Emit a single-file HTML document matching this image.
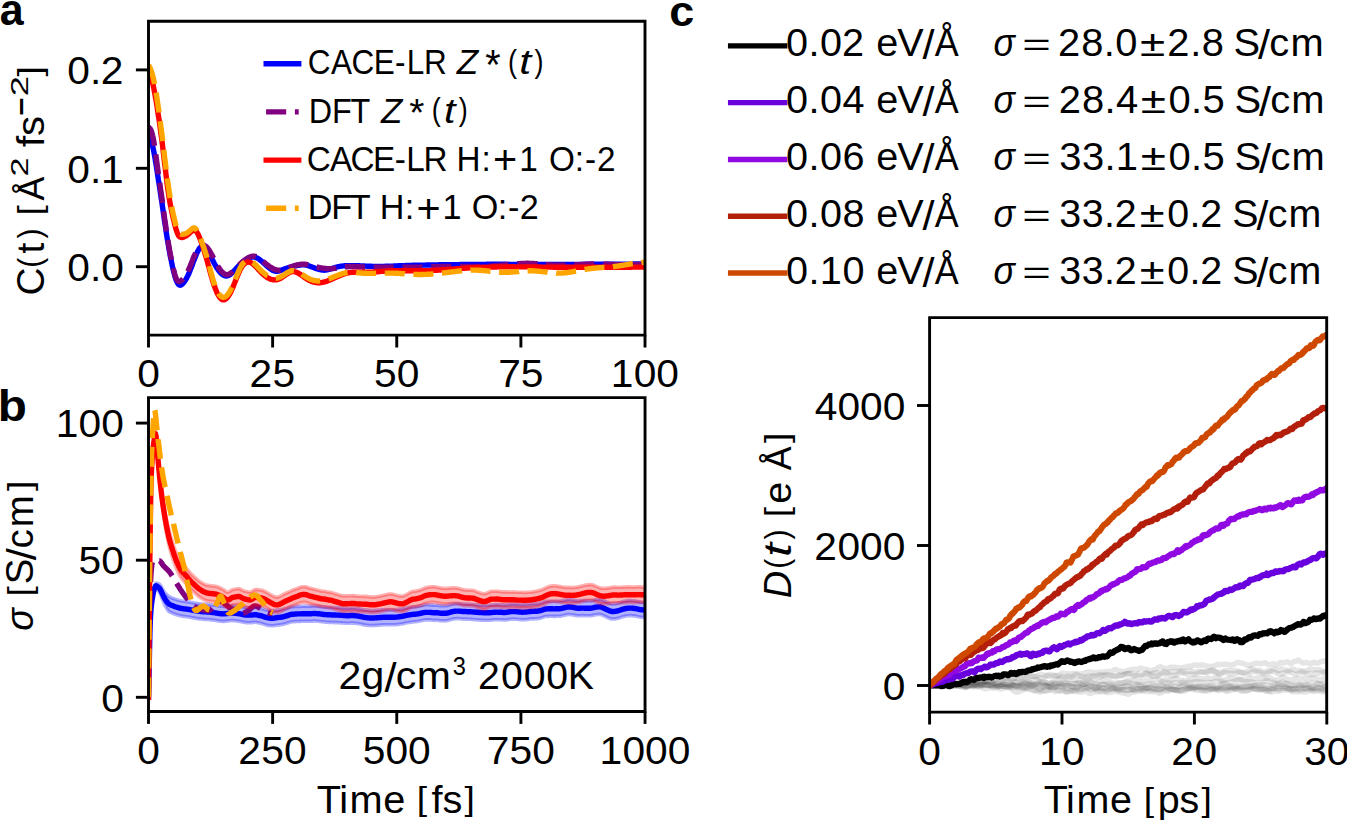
<!DOCTYPE html>
<html><head><meta charset="utf-8"><title>Figure</title>
<style>html,body{margin:0;padding:0;background:#fff;overflow:hidden}
svg{display:block} text{font-family:"Liberation Sans",sans-serif}</style></head>
<body><svg width="1347" height="820" viewBox="0 0 1347 820" font-family="Liberation Sans, sans-serif"><defs><clipPath id="ca"><rect x="148.5" y="21.2" width="496.5" height="313.90000000000003"/></clipPath><clipPath id="cb"><rect x="148.5" y="397.6" width="496.54999999999995" height="313.9"/></clipPath><clipPath id="cc"><rect x="929.6" y="317.6" width="397.1" height="394.5"/></clipPath></defs><rect x="0" y="0" width="1347" height="820" fill="#fff"/><g clip-path="url(#ca)"><path d="M148.5,136.8 L148.9,137.4 L149.3,138.1 L149.7,138.7 L150.2,139.5 L150.6,140.3 L151.0,141.2 L151.4,142.2 L151.8,143.4 L152.2,144.8 L152.6,146.3 L153.1,148.0 L153.5,150.0 L153.9,152.0 L154.3,154.2 L154.7,156.5 L155.1,158.9 L155.5,161.4 L156.0,164.0 L156.4,166.6 L156.8,169.3 L157.2,171.9 L157.6,174.6 L158.0,177.2 L158.4,179.9 L158.9,182.6 L159.3,185.3 L159.7,188.0 L160.1,190.7 L160.5,193.4 L160.9,196.2 L161.3,199.0 L161.8,201.7 L162.2,204.5 L162.6,207.3 L163.0,210.2 L163.4,213.0 L163.8,215.8 L164.2,218.7 L164.6,221.5 L165.1,224.3 L165.5,227.0 L165.9,229.8 L166.3,232.5 L166.7,235.1 L167.1,237.7 L167.5,240.3 L168.0,242.8 L168.4,245.2 L168.8,247.6 L169.2,250.0 L169.6,252.3 L170.0,254.5 L170.4,256.7 L170.9,258.8 L171.3,260.8 L171.7,262.8 L172.1,264.8 L172.5,266.7 L172.9,268.5 L173.3,270.3 L173.8,272.0 L174.2,273.6 L174.6,275.2 L175.0,276.6 L175.4,278.0 L175.8,279.2 L176.2,280.3 L176.7,281.3 L177.1,282.2 L177.5,283.0 L177.9,283.6 L178.3,284.2 L178.7,284.6 L179.1,284.9 L179.6,285.1 L180.0,285.2 L180.4,285.2 L180.8,285.1 L181.2,284.9 L181.6,284.7 L182.0,284.3 L182.5,283.9 L182.9,283.5 L183.3,283.0 L183.7,282.5 L184.1,282.0 L184.5,281.4 L184.9,280.8 L185.4,280.2 L185.8,279.5 L186.2,278.8 L186.6,278.1 L187.0,277.4 L187.4,276.6 L187.8,275.7 L188.3,274.8 L188.7,273.9 L189.1,272.9 L189.5,272.0 L189.9,270.9 L190.3,269.9 L190.7,268.8 L191.2,267.8 L191.6,266.7 L192.0,265.6 L192.4,264.5 L192.8,263.4 L193.2,262.3 L193.6,261.2 L194.1,260.1 L194.5,259.0 L194.9,257.9 L195.3,256.9 L195.7,255.9 L196.1,254.9 L196.5,253.9 L196.9,253.0 L197.4,252.1 L197.8,251.3 L198.2,250.5 L198.6,249.8 L199.0,249.1 L199.4,248.5 L199.8,248.0 L200.3,247.5 L200.7,247.1 L201.1,246.8 L201.5,246.6 L201.9,246.5 L202.3,246.5 L202.7,246.5 L203.2,246.6 L203.6,246.8 L204.0,247.0 L204.4,247.3 L204.8,247.6 L205.2,248.0 L205.6,248.5 L206.1,249.0 L206.5,249.5 L206.9,250.1 L207.3,250.7 L207.7,251.4 L208.1,252.0 L208.5,252.7 L209.0,253.4 L209.4,254.1 L209.8,254.9 L210.2,255.6 L210.6,256.4 L211.0,257.2 L211.4,258.0 L211.9,258.7 L212.3,259.5 L212.7,260.3 L213.1,261.1 L213.5,261.9 L213.9,262.7 L214.3,263.5 L214.8,264.2 L215.2,265.0 L215.6,265.7 L216.0,266.4 L216.4,267.1 L216.8,267.8 L217.2,268.4 L217.7,269.1 L218.1,269.7 L218.5,270.3 L218.9,270.8 L219.3,271.4 L219.7,271.9 L220.1,272.4 L220.6,272.8 L221.0,273.2 L221.4,273.6 L221.8,274.0 L222.2,274.3 L222.6,274.7 L223.0,274.9 L223.5,275.2 L223.9,275.4 L224.3,275.6 L224.7,275.7 L225.1,275.9 L225.5,275.9 L225.9,276.0 L226.3,276.0 L226.8,276.0 L227.2,275.9 L227.6,275.8 L228.0,275.7 L228.4,275.5 L228.8,275.3 L229.2,275.1 L229.7,274.8 L230.1,274.6 L230.5,274.3 L230.9,273.9 L231.3,273.6 L231.7,273.2 L232.1,272.9 L232.6,272.5 L233.0,272.1 L233.4,271.6 L233.8,271.2 L234.2,270.8 L234.6,270.3 L235.0,269.9 L235.5,269.4 L235.9,268.9 L236.3,268.5 L236.7,268.0 L237.1,267.6 L237.5,267.1 L237.9,266.7 L238.4,266.2 L238.8,265.8 L239.2,265.4 L239.6,265.0 L240.0,264.6 L240.4,264.2 L240.8,263.8 L241.3,263.4 L241.7,263.0 L242.1,262.7 L242.5,262.3 L242.9,261.9 L243.3,261.6 L243.7,261.3 L244.2,260.9 L244.6,260.6 L245.0,260.3 L245.4,260.0 L245.8,259.8 L246.2,259.5 L246.6,259.2 L247.1,259.0 L247.5,258.7 L247.9,258.5 L248.3,258.3 L248.7,258.1 L249.1,257.9 L249.5,257.7 L250.0,257.6 L250.4,257.4 L250.8,257.3 L251.2,257.2 L251.6,257.1 L252.0,257.0 L252.4,257.0 L252.9,257.0 L253.3,257.0 L253.7,257.0 L254.1,257.0 L254.5,257.1 L254.9,257.2 L255.3,257.3 L255.8,257.4 L256.2,257.6 L256.6,257.8 L257.0,258.0 L257.4,258.2 L257.8,258.4 L258.2,258.7 L258.6,258.9 L259.1,259.2 L259.5,259.5 L259.9,259.8 L260.3,260.1 L260.7,260.5 L261.1,260.8 L261.5,261.1 L262.0,261.5 L262.4,261.9 L262.8,262.2 L263.2,262.6 L263.6,263.0 L264.0,263.3 L264.4,263.7 L264.9,264.1 L265.3,264.5 L265.7,264.9 L266.1,265.3 L266.5,265.6 L266.9,266.0 L267.3,266.4 L267.8,266.7 L268.2,267.1 L268.6,267.4 L269.0,267.8 L269.4,268.1 L269.8,268.4 L270.2,268.7 L270.7,269.0 L271.1,269.3 L271.5,269.6 L271.9,269.8 L272.3,270.1 L272.7,270.3 L273.1,270.5 L273.6,270.7 L274.0,270.8 L274.4,271.0 L274.8,271.1 L275.2,271.1 L275.6,271.2 L276.0,271.2 L276.5,271.3 L276.9,271.3 L277.3,271.2 L277.7,271.2 L278.1,271.1 L278.5,271.1 L278.9,271.0 L279.4,270.9 L279.8,270.8 L280.2,270.6 L280.6,270.5 L281.0,270.4 L281.4,270.2 L281.8,270.0 L282.3,269.9 L282.7,269.7 L283.1,269.6 L283.5,269.4 L283.9,269.2 L284.3,269.0 L284.7,268.9 L285.2,268.7 L285.6,268.6 L286.0,268.4 L286.4,268.3 L286.8,268.1 L287.2,268.0 L287.6,267.8 L288.1,267.7 L288.5,267.6 L288.9,267.5 L289.3,267.3 L289.7,267.2 L290.1,267.1 L290.5,267.0 L290.9,266.9 L291.4,266.8 L291.8,266.7 L292.2,266.6 L292.6,266.5 L293.0,266.4 L293.4,266.3 L293.8,266.2 L294.3,266.1 L294.7,266.0 L295.1,265.9 L295.5,265.9 L295.9,265.8 L296.3,265.7 L296.7,265.6 L297.2,265.5 L297.6,265.5 L298.0,265.4 L298.4,265.3 L298.8,265.2 L299.2,265.2 L299.6,265.1 L300.1,265.1 L300.5,265.0 L300.9,265.0 L301.3,264.9 L301.7,264.9 L302.1,264.9 L302.5,264.9 L303.0,264.9 L303.4,264.9 L303.8,264.9 L304.2,264.9 L304.6,264.9 L305.0,265.0 L305.4,265.1 L305.9,265.1 L306.3,265.2 L306.7,265.3 L307.1,265.4 L307.5,265.5 L307.9,265.6 L308.3,265.7 L308.8,265.9 L309.2,266.0 L309.6,266.1 L310.0,266.3 L310.4,266.4 L310.8,266.6 L311.2,266.7 L311.7,266.9 L312.1,267.0 L312.5,267.2 L312.9,267.3 L313.3,267.5 L313.7,267.7 L314.1,267.8 L314.6,268.0 L315.0,268.1 L315.4,268.3 L315.8,268.4 L316.2,268.6 L316.6,268.7 L317.0,268.8 L317.5,269.0 L317.9,269.1 L318.3,269.2 L318.7,269.3 L319.1,269.4 L319.5,269.6 L319.9,269.6 L320.3,269.7 L320.8,269.8 L321.2,269.9 L321.6,270.0 L322.0,270.0 L322.4,270.1 L322.8,270.1 L323.2,270.1 L323.7,270.2 L324.1,270.2 L324.5,270.2 L324.9,270.1 L325.3,270.1 L325.7,270.1 L326.1,270.0 L326.6,270.0 L327.0,269.9 L327.4,269.8 L327.8,269.7 L328.2,269.6 L328.6,269.5 L329.0,269.4 L329.5,269.3 L329.9,269.2 L330.3,269.1 L330.7,269.0 L331.1,268.8 L331.5,268.7 L331.9,268.6 L332.4,268.4 L332.8,268.3 L333.2,268.2 L333.6,268.0 L334.0,267.9 L334.4,267.8 L334.8,267.6 L335.3,267.5 L335.7,267.4 L336.1,267.3 L336.5,267.1 L336.9,267.0 L337.3,266.9 L337.7,266.8 L338.2,266.7 L338.6,266.6 L339.0,266.6 L339.4,266.5 L339.8,266.4 L340.2,266.3 L340.6,266.3 L341.1,266.2 L341.5,266.1 L341.9,266.1 L342.3,266.0 L342.7,266.0 L343.1,265.9 L343.5,265.9 L344.0,265.9 L344.4,265.8 L344.8,265.8 L345.2,265.8 L345.6,265.7 L346.0,265.7 L346.4,265.7 L346.9,265.7 L347.3,265.7 L347.7,265.7 L348.1,265.6 L348.5,265.6 L348.9,265.6 L349.3,265.6 L349.8,265.6 L350.2,265.6 L350.6,265.6 L351.0,265.6 L351.4,265.6 L351.8,265.6 L352.2,265.6 L352.6,265.6 L353.1,265.6 L353.5,265.6 L353.9,265.6 L354.3,265.7 L354.7,265.7 L355.1,265.7 L355.5,265.7 L356.0,265.7 L356.4,265.7 L356.8,265.7 L357.2,265.7 L357.6,265.8 L358.0,265.8 L358.4,265.8 L358.9,265.8 L359.3,265.8 L359.7,265.8 L360.1,265.9 L360.5,265.9 L360.9,265.9 L361.3,265.9 L361.8,265.9 L362.2,265.9 L362.6,266.0 L363.0,266.0 L363.4,266.0 L363.8,266.0 L364.2,266.0 L364.7,266.1 L365.1,266.1 L365.5,266.1 L365.9,266.1 L366.3,266.1 L366.7,266.2 L367.1,266.2 L367.6,266.2 L368.0,266.2 L368.4,266.2 L368.8,266.2 L369.2,266.3 L369.6,266.3 L370.0,266.3 L370.5,266.3 L370.9,266.3 L371.3,266.3 L371.7,266.3 L372.1,266.4 L372.5,266.4 L372.9,266.4 L373.4,266.4 L373.8,266.4 L374.2,266.4 L374.6,266.4 L375.0,266.4 L375.4,266.4 L375.8,266.4 L376.3,266.4 L376.7,266.4 L377.1,266.4 L377.5,266.4 L377.9,266.4 L378.3,266.4 L378.7,266.4 L379.2,266.4 L379.6,266.4 L380.0,266.4 L380.4,266.4 L380.8,266.4 L381.2,266.4 L381.6,266.4 L382.0,266.4 L382.5,266.4 L382.9,266.4 L383.3,266.4 L383.7,266.4 L384.1,266.4 L384.5,266.4 L384.9,266.3 L385.4,266.3 L385.8,266.3 L386.2,266.3 L386.6,266.3 L387.0,266.3 L387.4,266.3 L387.8,266.3 L388.3,266.2 L388.7,266.2 L389.1,266.2 L389.5,266.2 L389.9,266.2 L390.3,266.2 L390.7,266.2 L391.2,266.1 L391.6,266.1 L392.0,266.1 L392.4,266.1 L392.8,266.1 L393.2,266.1 L393.6,266.0 L394.1,266.0 L394.5,266.0 L394.9,266.0 L395.3,266.0 L395.7,266.0 L396.1,265.9 L396.5,265.9 L397.0,265.9 L397.4,265.9 L397.8,265.9 L398.2,265.8 L398.6,265.8 L399.0,265.8 L399.4,265.8 L399.9,265.8 L400.3,265.8 L400.7,265.7 L401.1,265.7 L401.5,265.7 L401.9,265.7 L402.3,265.7 L402.8,265.7 L403.2,265.6 L403.6,265.6 L404.0,265.6 L404.4,265.6 L404.8,265.6 L405.2,265.6 L405.7,265.5 L406.1,265.5 L406.5,265.5 L406.9,265.5 L407.3,265.5 L407.7,265.5 L408.1,265.5 L408.6,265.4 L409.0,265.4 L409.4,265.4 L409.8,265.4 L410.2,265.4 L410.6,265.4 L411.0,265.4 L411.5,265.4 L411.9,265.4 L412.3,265.3 L412.7,265.3 L413.1,265.3 L413.5,265.3 L413.9,265.3 L414.3,265.3 L414.8,265.3 L415.2,265.3 L415.6,265.3 L416.0,265.2 L416.4,265.2 L416.8,265.2 L417.2,265.2 L417.7,265.2 L418.1,265.2 L418.5,265.2 L418.9,265.2 L419.3,265.2 L419.7,265.2 L420.1,265.2 L420.6,265.1 L421.0,265.1 L421.4,265.1 L421.8,265.1 L422.2,265.1 L422.6,265.1 L423.0,265.1 L423.5,265.1 L423.9,265.1 L424.3,265.1 L424.7,265.1 L425.1,265.1 L425.5,265.1 L425.9,265.1 L426.4,265.0 L426.8,265.0 L427.2,265.0 L427.6,265.0 L428.0,265.0 L428.4,265.0 L428.8,265.0 L429.3,265.0 L429.7,265.0 L430.1,265.0 L430.5,265.0 L430.9,265.0 L431.3,265.0 L431.7,265.0 L432.2,264.9 L432.6,264.9 L433.0,264.9 L433.4,264.9 L433.8,264.9 L434.2,264.9 L434.6,264.9 L435.1,264.9 L435.5,264.9 L435.9,264.9 L436.3,264.9 L436.7,264.9 L437.1,264.9 L437.5,264.9 L438.0,264.9 L438.4,264.9 L438.8,264.8 L439.2,264.8 L439.6,264.8 L440.0,264.8 L440.4,264.8 L440.9,264.8 L441.3,264.8 L441.7,264.8 L442.1,264.8 L442.5,264.8 L442.9,264.8 L443.3,264.8 L443.7,264.8 L444.2,264.8 L444.6,264.8 L445.0,264.7 L445.4,264.7 L445.8,264.7 L446.2,264.7 L446.6,264.7 L447.1,264.7 L447.5,264.7 L447.9,264.7 L448.3,264.7 L448.7,264.7 L449.1,264.7 L449.5,264.7 L450.0,264.7 L450.4,264.7 L450.8,264.7 L451.2,264.7 L451.6,264.7 L452.0,264.6 L452.4,264.6 L452.9,264.6 L453.3,264.6 L453.7,264.6 L454.1,264.6 L454.5,264.6 L454.9,264.6 L455.3,264.6 L455.8,264.6 L456.2,264.6 L456.6,264.6 L457.0,264.6 L457.4,264.6 L457.8,264.6 L458.2,264.6 L458.7,264.6 L459.1,264.6 L459.5,264.5 L459.9,264.5 L460.3,264.5 L460.7,264.5 L461.1,264.5 L461.6,264.5 L462.0,264.5 L462.4,264.5 L462.8,264.5 L463.2,264.5 L463.6,264.5 L464.0,264.5 L464.5,264.5 L464.9,264.5 L465.3,264.5 L465.7,264.5 L466.1,264.5 L466.5,264.5 L466.9,264.5 L467.4,264.5 L467.8,264.5 L468.2,264.5 L468.6,264.4 L469.0,264.4 L469.4,264.4 L469.8,264.4 L470.3,264.4 L470.7,264.4 L471.1,264.4 L471.5,264.4 L471.9,264.4 L472.3,264.4 L472.7,264.4 L473.2,264.4 L473.6,264.4 L474.0,264.4 L474.4,264.4 L474.8,264.4 L475.2,264.4 L475.6,264.4 L476.0,264.4 L476.5,264.4 L476.9,264.4 L477.3,264.4 L477.7,264.4 L478.1,264.4 L478.5,264.4 L478.9,264.4 L479.4,264.4 L479.8,264.4 L480.2,264.4 L480.6,264.4 L481.0,264.4 L481.4,264.4 L481.8,264.4 L482.3,264.4 L482.7,264.4 L483.1,264.4 L483.5,264.4 L483.9,264.4 L484.3,264.4 L484.7,264.4 L485.2,264.4 L485.6,264.4 L486.0,264.4 L486.4,264.3 L486.8,264.3 L487.2,264.3 L487.6,264.3 L488.1,264.3 L488.5,264.3 L488.9,264.3 L489.3,264.3 L489.7,264.3 L490.1,264.3 L490.5,264.3 L491.0,264.3 L491.4,264.3 L491.8,264.3 L492.2,264.3 L492.6,264.3 L493.0,264.3 L493.4,264.3 L493.9,264.3 L494.3,264.3 L494.7,264.3 L495.1,264.3 L495.5,264.3 L495.9,264.3 L496.3,264.3 L496.8,264.3 L497.2,264.3 L497.6,264.3 L498.0,264.3 L498.4,264.3 L498.8,264.3 L499.2,264.3 L499.7,264.3 L500.1,264.3 L500.5,264.3 L500.9,264.3 L501.3,264.3 L501.7,264.3 L502.1,264.3 L502.6,264.3 L503.0,264.3 L503.4,264.3 L503.8,264.3 L504.2,264.3 L504.6,264.3 L505.0,264.3 L505.4,264.3 L505.9,264.3 L506.3,264.3 L506.7,264.3 L507.1,264.3 L507.5,264.3 L507.9,264.3 L508.3,264.3 L508.8,264.3 L509.2,264.4 L509.6,264.4 L510.0,264.4 L510.4,264.4 L510.8,264.4 L511.2,264.4 L511.7,264.4 L512.1,264.4 L512.5,264.4 L512.9,264.4 L513.3,264.4 L513.7,264.4 L514.1,264.4 L514.6,264.4 L515.0,264.4 L515.4,264.4 L515.8,264.4 L516.2,264.4 L516.6,264.4 L517.0,264.4 L517.5,264.4 L517.9,264.4 L518.3,264.4 L518.7,264.4 L519.1,264.4 L519.5,264.4 L519.9,264.4 L520.4,264.4 L520.8,264.4 L521.2,264.4 L521.6,264.4 L522.0,264.4 L522.4,264.4 L522.8,264.4 L523.3,264.4 L523.7,264.4 L524.1,264.4 L524.5,264.4 L524.9,264.4 L525.3,264.4 L525.7,264.4 L526.2,264.4 L526.6,264.4 L527.0,264.4 L527.4,264.4 L527.8,264.4 L528.2,264.4 L528.6,264.4 L529.1,264.4 L529.5,264.4 L529.9,264.4 L530.3,264.4 L530.7,264.4 L531.1,264.4 L531.5,264.4 L532.0,264.4 L532.4,264.4 L532.8,264.4 L533.2,264.4 L533.6,264.4 L534.0,264.4 L534.4,264.4 L534.9,264.4 L535.3,264.4 L535.7,264.4 L536.1,264.4 L536.5,264.4 L536.9,264.4 L537.3,264.4 L537.7,264.4 L538.2,264.4 L538.6,264.4 L539.0,264.4 L539.4,264.4 L539.8,264.4 L540.2,264.4 L540.6,264.4 L541.1,264.4 L541.5,264.4 L541.9,264.4 L542.3,264.4 L542.7,264.4 L543.1,264.4 L543.5,264.4 L544.0,264.4 L544.4,264.4 L544.8,264.4 L545.2,264.4 L545.6,264.4 L546.0,264.4 L546.4,264.4 L546.9,264.4 L547.3,264.4 L547.7,264.4 L548.1,264.4 L548.5,264.4 L548.9,264.4 L549.3,264.4 L549.8,264.4 L550.2,264.4 L550.6,264.4 L551.0,264.4 L551.4,264.4 L551.8,264.4 L552.2,264.4 L552.7,264.4 L553.1,264.4 L553.5,264.4 L553.9,264.4 L554.3,264.4 L554.7,264.4 L555.1,264.4 L555.6,264.4 L556.0,264.4 L556.4,264.4 L556.8,264.4 L557.2,264.4 L557.6,264.4 L558.0,264.4 L558.5,264.4 L558.9,264.4 L559.3,264.4 L559.7,264.4 L560.1,264.4 L560.5,264.4 L560.9,264.4 L561.4,264.4 L561.8,264.4 L562.2,264.4 L562.6,264.4 L563.0,264.4 L563.4,264.4 L563.8,264.4 L564.3,264.4 L564.7,264.4 L565.1,264.4 L565.5,264.4 L565.9,264.4 L566.3,264.4 L566.7,264.4 L567.2,264.4 L567.6,264.4 L568.0,264.4 L568.4,264.4 L568.8,264.4 L569.2,264.4 L569.6,264.4 L570.0,264.4 L570.5,264.4 L570.9,264.4 L571.3,264.4 L571.7,264.4 L572.1,264.4 L572.5,264.4 L572.9,264.4 L573.4,264.4 L573.8,264.4 L574.2,264.4 L574.6,264.4 L575.0,264.4 L575.4,264.4 L575.8,264.4 L576.3,264.4 L576.7,264.4 L577.1,264.4 L577.5,264.4 L577.9,264.4 L578.3,264.4 L578.7,264.4 L579.2,264.4 L579.6,264.4 L580.0,264.4 L580.4,264.4 L580.8,264.4 L581.2,264.4 L581.6,264.4 L582.1,264.4 L582.5,264.4 L582.9,264.4 L583.3,264.4 L583.7,264.4 L584.1,264.4 L584.5,264.4 L585.0,264.4 L585.4,264.4 L585.8,264.3 L586.2,264.3 L586.6,264.3 L587.0,264.3 L587.4,264.3 L587.9,264.3 L588.3,264.3 L588.7,264.3 L589.1,264.3 L589.5,264.3 L589.9,264.3 L590.3,264.3 L590.8,264.3 L591.2,264.3 L591.6,264.3 L592.0,264.3 L592.4,264.3 L592.8,264.3 L593.2,264.3 L593.7,264.3 L594.1,264.3 L594.5,264.3 L594.9,264.3 L595.3,264.3 L595.7,264.3 L596.1,264.3 L596.6,264.3 L597.0,264.3 L597.4,264.3 L597.8,264.3 L598.2,264.3 L598.6,264.3 L599.0,264.3 L599.4,264.3 L599.9,264.3 L600.3,264.3 L600.7,264.3 L601.1,264.3 L601.5,264.3 L601.9,264.3 L602.3,264.3 L602.8,264.3 L603.2,264.3 L603.6,264.2 L604.0,264.2 L604.4,264.2 L604.8,264.2 L605.2,264.2 L605.7,264.2 L606.1,264.2 L606.5,264.2 L606.9,264.2 L607.3,264.2 L607.7,264.2 L608.1,264.2 L608.6,264.2 L609.0,264.2 L609.4,264.2 L609.8,264.2 L610.2,264.2 L610.6,264.2 L611.0,264.2 L611.5,264.2 L611.9,264.2 L612.3,264.2 L612.7,264.2 L613.1,264.2 L613.5,264.2 L613.9,264.2 L614.4,264.2 L614.8,264.2 L615.2,264.2 L615.6,264.2 L616.0,264.2 L616.4,264.2 L616.8,264.2 L617.3,264.2 L617.7,264.2 L618.1,264.2 L618.5,264.1 L618.9,264.1 L619.3,264.1 L619.7,264.1 L620.2,264.1 L620.6,264.1 L621.0,264.1 L621.4,264.1 L621.8,264.1 L622.2,264.1 L622.6,264.1 L623.1,264.1 L623.5,264.1 L623.9,264.1 L624.3,264.1 L624.7,264.1 L625.1,264.1 L625.5,264.1 L626.0,264.1 L626.4,264.1 L626.8,264.1 L627.2,264.1 L627.6,264.1 L628.0,264.1 L628.4,264.1 L628.9,264.1 L629.3,264.1 L629.7,264.1 L630.1,264.1 L630.5,264.1 L630.9,264.1 L631.3,264.1 L631.7,264.0 L632.2,264.0 L632.6,264.0 L633.0,264.0 L633.4,264.0 L633.8,264.0 L634.2,264.0 L634.6,264.0 L635.1,264.0 L635.5,264.0 L635.9,264.0 L636.3,264.0 L636.7,264.0 L637.1,264.0 L637.5,264.0 L638.0,264.0 L638.4,264.0 L638.8,264.0 L639.2,264.0 L639.6,264.0 L640.0,264.0 L640.4,264.0 L640.9,264.0 L641.3,264.0 L641.7,264.0 L642.1,264.0 L642.5,264.0 L642.9,264.0 L643.3,264.0 L643.8,264.0 L644.2,264.0 L644.6,263.9 L645.0,263.9" fill="none" stroke="#0000ff" stroke-width="5.4" stroke-linejoin="round" stroke-linecap="square"/><path d="M148.5,127.0 L148.9,127.4 L149.3,127.8 L149.7,128.2 L150.2,128.8 L150.6,129.5 L151.0,130.3 L151.4,131.3 L151.8,132.5 L152.2,133.9 L152.6,135.6 L153.1,137.5 L153.5,139.7 L153.9,142.1 L154.3,144.7 L154.7,147.4 L155.1,150.2 L155.5,153.2 L156.0,156.2 L156.4,159.2 L156.8,162.2 L157.2,165.2 L157.6,168.2 L158.0,171.1 L158.4,174.1 L158.9,177.0 L159.3,179.8 L159.7,182.7 L160.1,185.6 L160.5,188.5 L160.9,191.4 L161.3,194.3 L161.8,197.3 L162.2,200.2 L162.6,203.2 L163.0,206.3 L163.4,209.3 L163.8,212.3 L164.2,215.4 L164.6,218.4 L165.1,221.4 L165.5,224.4 L165.9,227.3 L166.3,230.1 L166.7,232.9 L167.1,235.7 L167.5,238.3 L168.0,240.9 L168.4,243.3 L168.8,245.7 L169.2,248.1 L169.6,250.4 L170.0,252.6 L170.4,254.7 L170.9,256.8 L171.3,258.9 L171.7,260.9 L172.1,262.9 L172.5,264.9 L172.9,266.8 L173.3,268.6 L173.8,270.4 L174.2,272.1 L174.6,273.7 L175.0,275.1 L175.4,276.4 L175.8,277.6 L176.2,278.6 L176.7,279.4 L177.1,280.1 L177.5,280.6 L177.9,281.0 L178.3,281.3 L178.7,281.4 L179.1,281.5 L179.6,281.5 L180.0,281.4 L180.4,281.2 L180.8,281.0 L181.2,280.6 L181.6,280.3 L182.0,279.9 L182.5,279.4 L182.9,279.0 L183.3,278.5 L183.7,278.0 L184.1,277.4 L184.5,276.9 L184.9,276.3 L185.4,275.7 L185.8,275.1 L186.2,274.4 L186.6,273.7 L187.0,273.0 L187.4,272.2 L187.8,271.4 L188.3,270.5 L188.7,269.6 L189.1,268.7 L189.5,267.7 L189.9,266.7 L190.3,265.7 L190.7,264.6 L191.2,263.6 L191.6,262.5 L192.0,261.4 L192.4,260.4 L192.8,259.3 L193.2,258.3 L193.6,257.3 L194.1,256.3 L194.5,255.4 L194.9,254.4 L195.3,253.6 L195.7,252.7 L196.1,251.9 L196.5,251.1 L196.9,250.4 L197.4,249.7 L197.8,249.1 L198.2,248.5 L198.6,247.9 L199.0,247.4 L199.4,247.0 L199.8,246.5 L200.3,246.2 L200.7,245.9 L201.1,245.6 L201.5,245.4 L201.9,245.2 L202.3,245.1 L202.7,245.1 L203.2,245.1 L203.6,245.1 L204.0,245.2 L204.4,245.4 L204.8,245.6 L205.2,245.8 L205.6,246.1 L206.1,246.5 L206.5,246.9 L206.9,247.3 L207.3,247.8 L207.7,248.3 L208.1,248.8 L208.5,249.4 L209.0,250.0 L209.4,250.6 L209.8,251.3 L210.2,252.0 L210.6,252.7 L211.0,253.4 L211.4,254.2 L211.9,255.0 L212.3,255.7 L212.7,256.5 L213.1,257.3 L213.5,258.1 L213.9,258.9 L214.3,259.7 L214.8,260.5 L215.2,261.3 L215.6,262.1 L216.0,262.9 L216.4,263.6 L216.8,264.4 L217.2,265.1 L217.7,265.8 L218.1,266.5 L218.5,267.2 L218.9,267.8 L219.3,268.4 L219.7,269.0 L220.1,269.6 L220.6,270.2 L221.0,270.7 L221.4,271.2 L221.8,271.6 L222.2,272.1 L222.6,272.5 L223.0,272.8 L223.5,273.2 L223.9,273.5 L224.3,273.7 L224.7,274.0 L225.1,274.2 L225.5,274.3 L225.9,274.4 L226.3,274.5 L226.8,274.6 L227.2,274.6 L227.6,274.5 L228.0,274.5 L228.4,274.3 L228.8,274.2 L229.2,274.0 L229.7,273.8 L230.1,273.6 L230.5,273.3 L230.9,273.0 L231.3,272.7 L231.7,272.4 L232.1,272.0 L232.6,271.7 L233.0,271.3 L233.4,270.9 L233.8,270.5 L234.2,270.0 L234.6,269.6 L235.0,269.2 L235.5,268.7 L235.9,268.3 L236.3,267.9 L236.7,267.4 L237.1,267.0 L237.5,266.5 L237.9,266.1 L238.4,265.7 L238.8,265.3 L239.2,264.9 L239.6,264.5 L240.0,264.1 L240.4,263.7 L240.8,263.3 L241.3,262.9 L241.7,262.6 L242.1,262.2 L242.5,261.8 L242.9,261.5 L243.3,261.2 L243.7,260.8 L244.2,260.5 L244.6,260.2 L245.0,259.9 L245.4,259.6 L245.8,259.3 L246.2,259.0 L246.6,258.8 L247.1,258.5 L247.5,258.2 L247.9,258.0 L248.3,257.8 L248.7,257.5 L249.1,257.3 L249.5,257.1 L250.0,256.9 L250.4,256.8 L250.8,256.6 L251.2,256.5 L251.6,256.4 L252.0,256.3 L252.4,256.2 L252.9,256.2 L253.3,256.1 L253.7,256.1 L254.1,256.2 L254.5,256.2 L254.9,256.3 L255.3,256.4 L255.8,256.5 L256.2,256.7 L256.6,256.8 L257.0,257.0 L257.4,257.2 L257.8,257.5 L258.2,257.7 L258.6,258.0 L259.1,258.2 L259.5,258.5 L259.9,258.8 L260.3,259.1 L260.7,259.5 L261.1,259.8 L261.5,260.1 L262.0,260.5 L262.4,260.8 L262.8,261.2 L263.2,261.5 L263.6,261.9 L264.0,262.2 L264.4,262.6 L264.9,262.9 L265.3,263.3 L265.7,263.6 L266.1,263.9 L266.5,264.3 L266.9,264.6 L267.3,264.9 L267.8,265.2 L268.2,265.5 L268.6,265.9 L269.0,266.2 L269.4,266.4 L269.8,266.7 L270.2,267.0 L270.7,267.3 L271.1,267.5 L271.5,267.8 L271.9,268.0 L272.3,268.2 L272.7,268.4 L273.1,268.7 L273.6,268.9 L274.0,269.0 L274.4,269.2 L274.8,269.4 L275.2,269.5 L275.6,269.6 L276.0,269.8 L276.5,269.9 L276.9,270.0 L277.3,270.0 L277.7,270.1 L278.1,270.1 L278.5,270.2 L278.9,270.2 L279.4,270.2 L279.8,270.2 L280.2,270.2 L280.6,270.1 L281.0,270.1 L281.4,270.0 L281.8,269.9 L282.3,269.8 L282.7,269.7 L283.1,269.6 L283.5,269.5 L283.9,269.4 L284.3,269.3 L284.7,269.2 L285.2,269.0 L285.6,268.9 L286.0,268.7 L286.4,268.6 L286.8,268.4 L287.2,268.3 L287.6,268.1 L288.1,267.9 L288.5,267.8 L288.9,267.6 L289.3,267.5 L289.7,267.3 L290.1,267.1 L290.5,267.0 L290.9,266.8 L291.4,266.7 L291.8,266.5 L292.2,266.4 L292.6,266.3 L293.0,266.1 L293.4,266.0 L293.8,265.8 L294.3,265.7 L294.7,265.6 L295.1,265.5 L295.5,265.4 L295.9,265.2 L296.3,265.1 L296.7,265.0 L297.2,264.9 L297.6,264.9 L298.0,264.8 L298.4,264.7 L298.8,264.6 L299.2,264.5 L299.6,264.5 L300.1,264.4 L300.5,264.4 L300.9,264.3 L301.3,264.3 L301.7,264.3 L302.1,264.2 L302.5,264.2 L303.0,264.2 L303.4,264.2 L303.8,264.2 L304.2,264.2 L304.6,264.3 L305.0,264.3 L305.4,264.3 L305.9,264.4 L306.3,264.4 L306.7,264.5 L307.1,264.5 L307.5,264.6 L307.9,264.7 L308.3,264.8 L308.8,264.9 L309.2,265.0 L309.6,265.0 L310.0,265.1 L310.4,265.2 L310.8,265.3 L311.2,265.5 L311.7,265.6 L312.1,265.7 L312.5,265.8 L312.9,265.9 L313.3,266.0 L313.7,266.1 L314.1,266.2 L314.6,266.4 L315.0,266.5 L315.4,266.6 L315.8,266.7 L316.2,266.8 L316.6,266.9 L317.0,267.0 L317.5,267.1 L317.9,267.2 L318.3,267.3 L318.7,267.4 L319.1,267.5 L319.5,267.6 L319.9,267.7 L320.3,267.8 L320.8,267.8 L321.2,267.9 L321.6,268.0 L322.0,268.0 L322.4,268.1 L322.8,268.2 L323.2,268.2 L323.7,268.3 L324.1,268.3 L324.5,268.4 L324.9,268.4 L325.3,268.5 L325.7,268.5 L326.1,268.5 L326.6,268.6 L327.0,268.6 L327.4,268.6 L327.8,268.6 L328.2,268.6 L328.6,268.6 L329.0,268.6 L329.5,268.7 L329.9,268.6 L330.3,268.6 L330.7,268.6 L331.1,268.6 L331.5,268.6 L331.9,268.6 L332.4,268.6 L332.8,268.5 L333.2,268.5 L333.6,268.5 L334.0,268.4 L334.4,268.4 L334.8,268.3 L335.3,268.3 L335.7,268.2 L336.1,268.2 L336.5,268.1 L336.9,268.1 L337.3,268.0 L337.7,268.0 L338.2,267.9 L338.6,267.8 L339.0,267.8 L339.4,267.7 L339.8,267.6 L340.2,267.6 L340.6,267.5 L341.1,267.5 L341.5,267.4 L341.9,267.3 L342.3,267.3 L342.7,267.2 L343.1,267.2 L343.5,267.1 L344.0,267.0 L344.4,267.0 L344.8,266.9 L345.2,266.9 L345.6,266.8 L346.0,266.8 L346.4,266.8 L346.9,266.7 L347.3,266.7 L347.7,266.7 L348.1,266.6 L348.5,266.6 L348.9,266.6 L349.3,266.6 L349.8,266.6 L350.2,266.5 L350.6,266.5 L351.0,266.5 L351.4,266.5 L351.8,266.5 L352.2,266.5 L352.6,266.5 L353.1,266.5 L353.5,266.5 L353.9,266.5 L354.3,266.6 L354.7,266.6 L355.1,266.6 L355.5,266.6 L356.0,266.6 L356.4,266.6 L356.8,266.6 L357.2,266.7 L357.6,266.7 L358.0,266.7 L358.4,266.7 L358.9,266.8 L359.3,266.8 L359.7,266.8 L360.1,266.8 L360.5,266.8 L360.9,266.9 L361.3,266.9 L361.8,266.9 L362.2,266.9 L362.6,267.0 L363.0,267.0 L363.4,267.0 L363.8,267.0 L364.2,267.1 L364.7,267.1 L365.1,267.1 L365.5,267.1 L365.9,267.1 L366.3,267.1 L366.7,267.2 L367.1,267.2 L367.6,267.2 L368.0,267.2 L368.4,267.2 L368.8,267.2 L369.2,267.2 L369.6,267.2 L370.0,267.3 L370.5,267.3 L370.9,267.3 L371.3,267.3 L371.7,267.3 L372.1,267.3 L372.5,267.3 L372.9,267.3 L373.4,267.3 L373.8,267.3 L374.2,267.3 L374.6,267.3 L375.0,267.3 L375.4,267.3 L375.8,267.3 L376.3,267.3 L376.7,267.3 L377.1,267.3 L377.5,267.3 L377.9,267.3 L378.3,267.3 L378.7,267.3 L379.2,267.3 L379.6,267.3 L380.0,267.3 L380.4,267.3 L380.8,267.2 L381.2,267.2 L381.6,267.2 L382.0,267.2 L382.5,267.2 L382.9,267.2 L383.3,267.2 L383.7,267.2 L384.1,267.2 L384.5,267.2 L384.9,267.2 L385.4,267.2 L385.8,267.2 L386.2,267.2 L386.6,267.2 L387.0,267.2 L387.4,267.1 L387.8,267.1 L388.3,267.1 L388.7,267.1 L389.1,267.1 L389.5,267.1 L389.9,267.1 L390.3,267.1 L390.7,267.1 L391.2,267.1 L391.6,267.1 L392.0,267.1 L392.4,267.1 L392.8,267.1 L393.2,267.1 L393.6,267.1 L394.1,267.1 L394.5,267.1 L394.9,267.1 L395.3,267.1 L395.7,267.1 L396.1,267.1 L396.5,267.1 L397.0,267.1 L397.4,267.1 L397.8,267.1 L398.2,267.1 L398.6,267.1 L399.0,267.1 L399.4,267.1 L399.9,267.1 L400.3,267.1 L400.7,267.1 L401.1,267.1 L401.5,267.1 L401.9,267.1 L402.3,267.1 L402.8,267.1 L403.2,267.1 L403.6,267.1 L404.0,267.1 L404.4,267.1 L404.8,267.1 L405.2,267.1 L405.7,267.1 L406.1,267.1 L406.5,267.1 L406.9,267.1 L407.3,267.1 L407.7,267.1 L408.1,267.1 L408.6,267.1 L409.0,267.1 L409.4,267.1 L409.8,267.1 L410.2,267.1 L410.6,267.1 L411.0,267.1 L411.5,267.1 L411.9,267.1 L412.3,267.1 L412.7,267.1 L413.1,267.1 L413.5,267.1 L413.9,267.1 L414.3,267.1 L414.8,267.1 L415.2,267.1 L415.6,267.1 L416.0,267.1 L416.4,267.1 L416.8,267.1 L417.2,267.1 L417.7,267.1 L418.1,267.1 L418.5,267.1 L418.9,267.1 L419.3,267.1 L419.7,267.1 L420.1,267.1 L420.6,267.1 L421.0,267.1 L421.4,267.1 L421.8,267.0 L422.2,267.0 L422.6,267.0 L423.0,267.0 L423.5,267.0 L423.9,267.0 L424.3,267.0 L424.7,267.0 L425.1,267.0 L425.5,267.0 L425.9,267.0 L426.4,266.9 L426.8,266.9 L427.2,266.9 L427.6,266.9 L428.0,266.9 L428.4,266.9 L428.8,266.9 L429.3,266.9 L429.7,266.9 L430.1,266.8 L430.5,266.8 L430.9,266.8 L431.3,266.8 L431.7,266.8 L432.2,266.8 L432.6,266.8 L433.0,266.8 L433.4,266.8 L433.8,266.7 L434.2,266.7 L434.6,266.7 L435.1,266.7 L435.5,266.7 L435.9,266.7 L436.3,266.7 L436.7,266.7 L437.1,266.6 L437.5,266.6 L438.0,266.6 L438.4,266.6 L438.8,266.6 L439.2,266.6 L439.6,266.6 L440.0,266.6 L440.4,266.6 L440.9,266.5 L441.3,266.5 L441.7,266.5 L442.1,266.5 L442.5,266.5 L442.9,266.5 L443.3,266.5 L443.7,266.5 L444.2,266.5 L444.6,266.5 L445.0,266.5 L445.4,266.4 L445.8,266.4 L446.2,266.4 L446.6,266.4 L447.1,266.4 L447.5,266.4 L447.9,266.4 L448.3,266.4 L448.7,266.4 L449.1,266.4 L449.5,266.4 L450.0,266.4 L450.4,266.4 L450.8,266.4 L451.2,266.4 L451.6,266.4 L452.0,266.4 L452.4,266.4 L452.9,266.4 L453.3,266.4 L453.7,266.4 L454.1,266.4 L454.5,266.4 L454.9,266.4 L455.3,266.4 L455.8,266.4 L456.2,266.4 L456.6,266.4 L457.0,266.4 L457.4,266.4 L457.8,266.4 L458.2,266.4 L458.7,266.4 L459.1,266.4 L459.5,266.4 L459.9,266.4 L460.3,266.4 L460.7,266.4 L461.1,266.4 L461.6,266.4 L462.0,266.4 L462.4,266.4 L462.8,266.4 L463.2,266.4 L463.6,266.4 L464.0,266.4 L464.5,266.4 L464.9,266.4 L465.3,266.4 L465.7,266.4 L466.1,266.4 L466.5,266.4 L466.9,266.4 L467.4,266.4 L467.8,266.4 L468.2,266.4 L468.6,266.4 L469.0,266.4 L469.4,266.4 L469.8,266.4 L470.3,266.4 L470.7,266.4 L471.1,266.4 L471.5,266.4 L471.9,266.4 L472.3,266.4 L472.7,266.4 L473.2,266.4 L473.6,266.4 L474.0,266.4 L474.4,266.4 L474.8,266.4 L475.2,266.4 L475.6,266.4 L476.0,266.4 L476.5,266.4 L476.9,266.4 L477.3,266.4 L477.7,266.4 L478.1,266.4 L478.5,266.4 L478.9,266.4 L479.4,266.4 L479.8,266.4 L480.2,266.4 L480.6,266.4 L481.0,266.4 L481.4,266.4 L481.8,266.3 L482.3,266.3 L482.7,266.3 L483.1,266.3 L483.5,266.3 L483.9,266.3 L484.3,266.3 L484.7,266.3 L485.2,266.3 L485.6,266.3 L486.0,266.2 L486.4,266.2 L486.8,266.2 L487.2,266.2 L487.6,266.2 L488.1,266.2 L488.5,266.1 L488.9,266.1 L489.3,266.1 L489.7,266.1 L490.1,266.1 L490.5,266.1 L491.0,266.0 L491.4,266.0 L491.8,266.0 L492.2,266.0 L492.6,265.9 L493.0,265.9 L493.4,265.9 L493.9,265.9 L494.3,265.8 L494.7,265.8 L495.1,265.8 L495.5,265.8 L495.9,265.7 L496.3,265.7 L496.8,265.7 L497.2,265.6 L497.6,265.6 L498.0,265.6 L498.4,265.5 L498.8,265.5 L499.2,265.5 L499.7,265.4 L500.1,265.4 L500.5,265.3 L500.9,265.3 L501.3,265.3 L501.7,265.2 L502.1,265.2 L502.6,265.1 L503.0,265.1 L503.4,265.1 L503.8,265.0 L504.2,265.0 L504.6,264.9 L505.0,264.9 L505.4,264.9 L505.9,264.8 L506.3,264.8 L506.7,264.7 L507.1,264.7 L507.5,264.7 L507.9,264.6 L508.3,264.6 L508.8,264.5 L509.2,264.5 L509.6,264.4 L510.0,264.4 L510.4,264.4 L510.8,264.3 L511.2,264.3 L511.7,264.2 L512.1,264.2 L512.5,264.2 L512.9,264.1 L513.3,264.1 L513.7,264.1 L514.1,264.0 L514.6,264.0 L515.0,263.9 L515.4,263.9 L515.8,263.9 L516.2,263.8 L516.6,263.8 L517.0,263.8 L517.5,263.8 L517.9,263.7 L518.3,263.7 L518.7,263.7 L519.1,263.6 L519.5,263.6 L519.9,263.6 L520.4,263.6 L520.8,263.5 L521.2,263.5 L521.6,263.5 L522.0,263.5 L522.4,263.5 L522.8,263.4 L523.3,263.4 L523.7,263.4 L524.1,263.4 L524.5,263.4 L524.9,263.4 L525.3,263.4 L525.7,263.4 L526.2,263.3 L526.6,263.3 L527.0,263.3 L527.4,263.3 L527.8,263.3 L528.2,263.3 L528.6,263.3 L529.1,263.4 L529.5,263.4 L529.9,263.4 L530.3,263.4 L530.7,263.4 L531.1,263.4 L531.5,263.4 L532.0,263.4 L532.4,263.5 L532.8,263.5 L533.2,263.5 L533.6,263.5 L534.0,263.5 L534.4,263.6 L534.9,263.6 L535.3,263.6 L535.7,263.6 L536.1,263.7 L536.5,263.7 L536.9,263.7 L537.3,263.8 L537.7,263.8 L538.2,263.8 L538.6,263.9 L539.0,263.9 L539.4,263.9 L539.8,264.0 L540.2,264.0 L540.6,264.0 L541.1,264.1 L541.5,264.1 L541.9,264.2 L542.3,264.2 L542.7,264.2 L543.1,264.3 L543.5,264.3 L544.0,264.4 L544.4,264.4 L544.8,264.4 L545.2,264.5 L545.6,264.5 L546.0,264.5 L546.4,264.6 L546.9,264.6 L547.3,264.7 L547.7,264.7 L548.1,264.7 L548.5,264.8 L548.9,264.8 L549.3,264.8 L549.8,264.9 L550.2,264.9 L550.6,264.9 L551.0,265.0 L551.4,265.0 L551.8,265.0 L552.2,265.0 L552.7,265.1 L553.1,265.1 L553.5,265.1 L553.9,265.1 L554.3,265.2 L554.7,265.2 L555.1,265.2 L555.6,265.2 L556.0,265.2 L556.4,265.3 L556.8,265.3 L557.2,265.3 L557.6,265.3 L558.0,265.3 L558.5,265.3 L558.9,265.3 L559.3,265.3 L559.7,265.3 L560.1,265.3 L560.5,265.3 L560.9,265.3 L561.4,265.3 L561.8,265.3 L562.2,265.3 L562.6,265.3 L563.0,265.3 L563.4,265.3 L563.8,265.3 L564.3,265.3 L564.7,265.3 L565.1,265.3 L565.5,265.3 L565.9,265.2 L566.3,265.2 L566.7,265.2 L567.2,265.2 L567.6,265.2 L568.0,265.2 L568.4,265.2 L568.8,265.1 L569.2,265.1 L569.6,265.1 L570.0,265.1 L570.5,265.1 L570.9,265.0 L571.3,265.0 L571.7,265.0 L572.1,265.0 L572.5,265.0 L572.9,264.9 L573.4,264.9 L573.8,264.9 L574.2,264.9 L574.6,264.8 L575.0,264.8 L575.4,264.8 L575.8,264.8 L576.3,264.8 L576.7,264.7 L577.1,264.7 L577.5,264.7 L577.9,264.7 L578.3,264.6 L578.7,264.6 L579.2,264.6 L579.6,264.6 L580.0,264.5 L580.4,264.5 L580.8,264.5 L581.2,264.5 L581.6,264.4 L582.1,264.4 L582.5,264.4 L582.9,264.4 L583.3,264.3 L583.7,264.3 L584.1,264.3 L584.5,264.3 L585.0,264.3 L585.4,264.2 L585.8,264.2 L586.2,264.2 L586.6,264.2 L587.0,264.2 L587.4,264.1 L587.9,264.1 L588.3,264.1 L588.7,264.1 L589.1,264.1 L589.5,264.1 L589.9,264.0 L590.3,264.0 L590.8,264.0 L591.2,264.0 L591.6,264.0 L592.0,264.0 L592.4,264.0 L592.8,264.0 L593.2,264.0 L593.7,264.0 L594.1,264.0 L594.5,263.9 L594.9,263.9 L595.3,263.9 L595.7,263.9 L596.1,263.9 L596.6,263.9 L597.0,263.9 L597.4,264.0 L597.8,264.0 L598.2,264.0 L598.6,264.0 L599.0,264.0 L599.4,264.0 L599.9,264.0 L600.3,264.0 L600.7,264.0 L601.1,264.0 L601.5,264.0 L601.9,264.0 L602.3,264.1 L602.8,264.1 L603.2,264.1 L603.6,264.1 L604.0,264.1 L604.4,264.1 L604.8,264.1 L605.2,264.2 L605.7,264.2 L606.1,264.2 L606.5,264.2 L606.9,264.2 L607.3,264.2 L607.7,264.3 L608.1,264.3 L608.6,264.3 L609.0,264.3 L609.4,264.3 L609.8,264.4 L610.2,264.4 L610.6,264.4 L611.0,264.4 L611.5,264.4 L611.9,264.4 L612.3,264.5 L612.7,264.5 L613.1,264.5 L613.5,264.5 L613.9,264.5 L614.4,264.6 L614.8,264.6 L615.2,264.6 L615.6,264.6 L616.0,264.6 L616.4,264.6 L616.8,264.6 L617.3,264.7 L617.7,264.7 L618.1,264.7 L618.5,264.7 L618.9,264.7 L619.3,264.7 L619.7,264.7 L620.2,264.7 L620.6,264.7 L621.0,264.7 L621.4,264.8 L621.8,264.8 L622.2,264.8 L622.6,264.8 L623.1,264.8 L623.5,264.8 L623.9,264.8 L624.3,264.8 L624.7,264.8 L625.1,264.8 L625.5,264.8 L626.0,264.8 L626.4,264.8 L626.8,264.8 L627.2,264.8 L627.6,264.8 L628.0,264.8 L628.4,264.7 L628.9,264.7 L629.3,264.7 L629.7,264.7 L630.1,264.7 L630.5,264.7 L630.9,264.7 L631.3,264.7 L631.7,264.7 L632.2,264.7 L632.6,264.7 L633.0,264.7 L633.4,264.6 L633.8,264.6 L634.2,264.6 L634.6,264.6 L635.1,264.6 L635.5,264.6 L635.9,264.6 L636.3,264.6 L636.7,264.5 L637.1,264.5 L637.5,264.5 L638.0,264.5 L638.4,264.5 L638.8,264.5 L639.2,264.5 L639.6,264.4 L640.0,264.4 L640.4,264.4 L640.9,264.4 L641.3,264.4 L641.7,264.4 L642.1,264.4 L642.5,264.3 L642.9,264.3 L643.3,264.3 L643.8,264.3 L644.2,264.3 L644.6,264.3 L645.0,264.2" fill="none" stroke="#800080" stroke-width="5.4" stroke-linejoin="round" stroke-linecap="butt" stroke-dasharray="20.1 8.7"/><path d="M148.5,71.9 L148.9,72.8 L149.3,73.7 L149.7,74.6 L150.2,75.6 L150.6,76.7 L151.0,77.8 L151.4,79.0 L151.8,80.4 L152.2,81.8 L152.6,83.3 L153.1,85.0 L153.5,86.9 L153.9,88.8 L154.3,90.9 L154.7,93.0 L155.1,95.3 L155.5,97.6 L156.0,100.1 L156.4,102.6 L156.8,105.1 L157.2,107.7 L157.6,110.4 L158.0,113.1 L158.4,115.8 L158.9,118.6 L159.3,121.4 L159.7,124.3 L160.1,127.2 L160.5,130.2 L160.9,133.3 L161.3,136.4 L161.8,139.6 L162.2,142.8 L162.6,146.1 L163.0,149.5 L163.4,152.9 L163.8,156.4 L164.2,159.8 L164.6,163.3 L165.1,166.8 L165.5,170.2 L165.9,173.7 L166.3,177.0 L166.7,180.4 L167.1,183.6 L167.5,186.7 L168.0,189.8 L168.4,192.7 L168.8,195.4 L169.2,198.0 L169.6,200.5 L170.0,202.8 L170.4,205.1 L170.9,207.2 L171.3,209.2 L171.7,211.2 L172.1,213.1 L172.5,214.9 L172.9,216.7 L173.3,218.5 L173.8,220.3 L174.2,222.1 L174.6,223.8 L175.0,225.4 L175.4,227.0 L175.8,228.5 L176.2,229.9 L176.7,231.2 L177.1,232.4 L177.5,233.5 L177.9,234.4 L178.3,235.1 L178.7,235.8 L179.1,236.3 L179.6,236.7 L180.0,237.0 L180.4,237.2 L180.8,237.4 L181.2,237.5 L181.6,237.5 L182.0,237.5 L182.5,237.4 L182.9,237.3 L183.3,237.2 L183.7,237.1 L184.1,236.9 L184.5,236.7 L184.9,236.5 L185.4,236.3 L185.8,236.1 L186.2,235.8 L186.6,235.5 L187.0,235.2 L187.4,234.9 L187.8,234.6 L188.3,234.3 L188.7,233.9 L189.1,233.5 L189.5,233.2 L189.9,232.8 L190.3,232.4 L190.7,232.0 L191.2,231.7 L191.6,231.3 L192.0,231.0 L192.4,230.7 L192.8,230.5 L193.2,230.3 L193.6,230.2 L194.1,230.2 L194.5,230.2 L194.9,230.3 L195.3,230.5 L195.7,230.8 L196.1,231.2 L196.5,231.7 L196.9,232.3 L197.4,233.0 L197.8,233.7 L198.2,234.5 L198.6,235.4 L199.0,236.3 L199.4,237.3 L199.8,238.3 L200.3,239.4 L200.7,240.5 L201.1,241.6 L201.5,242.8 L201.9,243.9 L202.3,245.1 L202.7,246.3 L203.2,247.6 L203.6,248.9 L204.0,250.2 L204.4,251.5 L204.8,252.8 L205.2,254.2 L205.6,255.6 L206.1,257.0 L206.5,258.4 L206.9,259.9 L207.3,261.4 L207.7,262.9 L208.1,264.4 L208.5,265.9 L209.0,267.4 L209.4,269.0 L209.8,270.5 L210.2,272.0 L210.6,273.5 L211.0,275.0 L211.4,276.5 L211.9,278.0 L212.3,279.4 L212.7,280.8 L213.1,282.1 L213.5,283.4 L213.9,284.7 L214.3,285.9 L214.8,287.1 L215.2,288.2 L215.6,289.3 L216.0,290.3 L216.4,291.3 L216.8,292.3 L217.2,293.2 L217.7,294.0 L218.1,294.8 L218.5,295.5 L218.9,296.2 L219.3,296.8 L219.7,297.4 L220.1,297.9 L220.6,298.3 L221.0,298.7 L221.4,299.1 L221.8,299.4 L222.2,299.6 L222.6,299.7 L223.0,299.8 L223.5,299.9 L223.9,299.8 L224.3,299.8 L224.7,299.6 L225.1,299.4 L225.5,299.2 L225.9,298.9 L226.3,298.5 L226.8,298.1 L227.2,297.7 L227.6,297.2 L228.0,296.6 L228.4,296.1 L228.8,295.4 L229.2,294.8 L229.7,294.0 L230.1,293.3 L230.5,292.5 L230.9,291.7 L231.3,290.8 L231.7,289.9 L232.1,289.0 L232.6,288.0 L233.0,287.1 L233.4,286.1 L233.8,285.0 L234.2,284.0 L234.6,283.0 L235.0,281.9 L235.5,280.9 L235.9,279.8 L236.3,278.8 L236.7,277.7 L237.1,276.7 L237.5,275.7 L237.9,274.7 L238.4,273.7 L238.8,272.7 L239.2,271.8 L239.6,270.9 L240.0,270.1 L240.4,269.3 L240.8,268.5 L241.3,267.8 L241.7,267.1 L242.1,266.5 L242.5,265.9 L242.9,265.4 L243.3,264.9 L243.7,264.4 L244.2,264.0 L244.6,263.7 L245.0,263.3 L245.4,263.1 L245.8,262.8 L246.2,262.6 L246.6,262.4 L247.1,262.3 L247.5,262.2 L247.9,262.1 L248.3,262.1 L248.7,262.1 L249.1,262.2 L249.5,262.3 L250.0,262.4 L250.4,262.5 L250.8,262.7 L251.2,262.9 L251.6,263.1 L252.0,263.4 L252.4,263.7 L252.9,264.0 L253.3,264.3 L253.7,264.6 L254.1,265.0 L254.5,265.4 L254.9,265.7 L255.3,266.2 L255.8,266.6 L256.2,267.0 L256.6,267.4 L257.0,267.9 L257.4,268.3 L257.8,268.8 L258.2,269.2 L258.6,269.7 L259.1,270.1 L259.5,270.6 L259.9,271.0 L260.3,271.5 L260.7,271.9 L261.1,272.3 L261.5,272.8 L262.0,273.2 L262.4,273.6 L262.8,274.0 L263.2,274.3 L263.6,274.7 L264.0,275.1 L264.4,275.4 L264.9,275.7 L265.3,276.1 L265.7,276.4 L266.1,276.7 L266.5,277.0 L266.9,277.2 L267.3,277.5 L267.8,277.7 L268.2,278.0 L268.6,278.2 L269.0,278.4 L269.4,278.6 L269.8,278.8 L270.2,279.0 L270.7,279.1 L271.1,279.3 L271.5,279.4 L271.9,279.5 L272.3,279.6 L272.7,279.7 L273.1,279.8 L273.6,279.8 L274.0,279.9 L274.4,279.9 L274.8,279.9 L275.2,279.9 L275.6,279.9 L276.0,279.8 L276.5,279.8 L276.9,279.7 L277.3,279.6 L277.7,279.5 L278.1,279.4 L278.5,279.2 L278.9,279.1 L279.4,278.9 L279.8,278.7 L280.2,278.5 L280.6,278.2 L281.0,278.0 L281.4,277.8 L281.8,277.5 L282.3,277.2 L282.7,276.9 L283.1,276.7 L283.5,276.4 L283.9,276.1 L284.3,275.8 L284.7,275.5 L285.2,275.2 L285.6,274.9 L286.0,274.6 L286.4,274.3 L286.8,274.1 L287.2,273.8 L287.6,273.5 L288.1,273.3 L288.5,273.0 L288.9,272.8 L289.3,272.6 L289.7,272.4 L290.1,272.2 L290.5,272.1 L290.9,271.9 L291.4,271.8 L291.8,271.7 L292.2,271.7 L292.6,271.6 L293.0,271.6 L293.4,271.6 L293.8,271.6 L294.3,271.7 L294.7,271.7 L295.1,271.8 L295.5,272.0 L295.9,272.1 L296.3,272.2 L296.7,272.4 L297.2,272.6 L297.6,272.8 L298.0,273.0 L298.4,273.2 L298.8,273.5 L299.2,273.7 L299.6,274.0 L300.1,274.2 L300.5,274.5 L300.9,274.8 L301.3,275.1 L301.7,275.4 L302.1,275.7 L302.5,276.0 L303.0,276.3 L303.4,276.6 L303.8,276.9 L304.2,277.2 L304.6,277.5 L305.0,277.8 L305.4,278.0 L305.9,278.3 L306.3,278.6 L306.7,278.9 L307.1,279.1 L307.5,279.4 L307.9,279.6 L308.3,279.9 L308.8,280.1 L309.2,280.3 L309.6,280.5 L310.0,280.7 L310.4,280.9 L310.8,281.1 L311.2,281.3 L311.7,281.4 L312.1,281.6 L312.5,281.7 L312.9,281.8 L313.3,282.0 L313.7,282.1 L314.1,282.2 L314.6,282.3 L315.0,282.4 L315.4,282.5 L315.8,282.5 L316.2,282.6 L316.6,282.6 L317.0,282.7 L317.5,282.7 L317.9,282.7 L318.3,282.7 L318.7,282.7 L319.1,282.7 L319.5,282.7 L319.9,282.7 L320.3,282.7 L320.8,282.6 L321.2,282.6 L321.6,282.5 L322.0,282.4 L322.4,282.4 L322.8,282.3 L323.2,282.2 L323.7,282.1 L324.1,282.0 L324.5,281.9 L324.9,281.8 L325.3,281.6 L325.7,281.5 L326.1,281.4 L326.6,281.3 L327.0,281.1 L327.4,281.0 L327.8,280.8 L328.2,280.7 L328.6,280.5 L329.0,280.3 L329.5,280.2 L329.9,280.0 L330.3,279.8 L330.7,279.7 L331.1,279.5 L331.5,279.3 L331.9,279.1 L332.4,278.9 L332.8,278.7 L333.2,278.6 L333.6,278.4 L334.0,278.2 L334.4,278.0 L334.8,277.8 L335.3,277.6 L335.7,277.4 L336.1,277.2 L336.5,277.1 L336.9,276.9 L337.3,276.7 L337.7,276.5 L338.2,276.3 L338.6,276.1 L339.0,276.0 L339.4,275.8 L339.8,275.6 L340.2,275.4 L340.6,275.3 L341.1,275.1 L341.5,274.9 L341.9,274.8 L342.3,274.6 L342.7,274.4 L343.1,274.3 L343.5,274.1 L344.0,274.0 L344.4,273.9 L344.8,273.7 L345.2,273.6 L345.6,273.5 L346.0,273.4 L346.4,273.3 L346.9,273.2 L347.3,273.1 L347.7,273.0 L348.1,272.9 L348.5,272.8 L348.9,272.7 L349.3,272.7 L349.8,272.6 L350.2,272.5 L350.6,272.5 L351.0,272.4 L351.4,272.4 L351.8,272.3 L352.2,272.3 L352.6,272.3 L353.1,272.2 L353.5,272.2 L353.9,272.2 L354.3,272.2 L354.7,272.2 L355.1,272.2 L355.5,272.1 L356.0,272.1 L356.4,272.1 L356.8,272.1 L357.2,272.1 L357.6,272.1 L358.0,272.1 L358.4,272.1 L358.9,272.2 L359.3,272.2 L359.7,272.2 L360.1,272.2 L360.5,272.2 L360.9,272.2 L361.3,272.2 L361.8,272.2 L362.2,272.2 L362.6,272.2 L363.0,272.3 L363.4,272.3 L363.8,272.3 L364.2,272.3 L364.7,272.3 L365.1,272.3 L365.5,272.3 L365.9,272.3 L366.3,272.3 L366.7,272.3 L367.1,272.3 L367.6,272.3 L368.0,272.3 L368.4,272.3 L368.8,272.3 L369.2,272.3 L369.6,272.2 L370.0,272.2 L370.5,272.2 L370.9,272.2 L371.3,272.2 L371.7,272.1 L372.1,272.1 L372.5,272.1 L372.9,272.1 L373.4,272.0 L373.8,272.0 L374.2,272.0 L374.6,272.0 L375.0,271.9 L375.4,271.9 L375.8,271.9 L376.3,271.8 L376.7,271.8 L377.1,271.8 L377.5,271.7 L377.9,271.7 L378.3,271.7 L378.7,271.6 L379.2,271.6 L379.6,271.6 L380.0,271.5 L380.4,271.5 L380.8,271.4 L381.2,271.4 L381.6,271.4 L382.0,271.3 L382.5,271.3 L382.9,271.3 L383.3,271.2 L383.7,271.2 L384.1,271.2 L384.5,271.1 L384.9,271.1 L385.4,271.1 L385.8,271.0 L386.2,271.0 L386.6,271.0 L387.0,270.9 L387.4,270.9 L387.8,270.9 L388.3,270.9 L388.7,270.8 L389.1,270.8 L389.5,270.8 L389.9,270.8 L390.3,270.8 L390.7,270.7 L391.2,270.7 L391.6,270.7 L392.0,270.7 L392.4,270.7 L392.8,270.7 L393.2,270.7 L393.6,270.6 L394.1,270.6 L394.5,270.6 L394.9,270.6 L395.3,270.6 L395.7,270.6 L396.1,270.6 L396.5,270.6 L397.0,270.6 L397.4,270.6 L397.8,270.6 L398.2,270.6 L398.6,270.6 L399.0,270.6 L399.4,270.6 L399.9,270.6 L400.3,270.6 L400.7,270.6 L401.1,270.6 L401.5,270.6 L401.9,270.6 L402.3,270.6 L402.8,270.6 L403.2,270.6 L403.6,270.6 L404.0,270.6 L404.4,270.7 L404.8,270.7 L405.2,270.7 L405.7,270.7 L406.1,270.7 L406.5,270.7 L406.9,270.7 L407.3,270.7 L407.7,270.7 L408.1,270.7 L408.6,270.7 L409.0,270.7 L409.4,270.7 L409.8,270.7 L410.2,270.8 L410.6,270.8 L411.0,270.8 L411.5,270.8 L411.9,270.8 L412.3,270.8 L412.7,270.8 L413.1,270.8 L413.5,270.8 L413.9,270.8 L414.3,270.8 L414.8,270.8 L415.2,270.8 L415.6,270.8 L416.0,270.8 L416.4,270.8 L416.8,270.8 L417.2,270.8 L417.7,270.8 L418.1,270.8 L418.5,270.8 L418.9,270.8 L419.3,270.8 L419.7,270.8 L420.1,270.8 L420.6,270.8 L421.0,270.8 L421.4,270.8 L421.8,270.8 L422.2,270.8 L422.6,270.8 L423.0,270.8 L423.5,270.8 L423.9,270.8 L424.3,270.7 L424.7,270.7 L425.1,270.7 L425.5,270.7 L425.9,270.7 L426.4,270.7 L426.8,270.7 L427.2,270.7 L427.6,270.6 L428.0,270.6 L428.4,270.6 L428.8,270.6 L429.3,270.6 L429.7,270.6 L430.1,270.5 L430.5,270.5 L430.9,270.5 L431.3,270.5 L431.7,270.5 L432.2,270.5 L432.6,270.4 L433.0,270.4 L433.4,270.4 L433.8,270.4 L434.2,270.3 L434.6,270.3 L435.1,270.3 L435.5,270.3 L435.9,270.3 L436.3,270.2 L436.7,270.2 L437.1,270.2 L437.5,270.2 L438.0,270.1 L438.4,270.1 L438.8,270.1 L439.2,270.1 L439.6,270.0 L440.0,270.0 L440.4,270.0 L440.9,269.9 L441.3,269.9 L441.7,269.9 L442.1,269.9 L442.5,269.8 L442.9,269.8 L443.3,269.8 L443.7,269.7 L444.2,269.7 L444.6,269.7 L445.0,269.7 L445.4,269.6 L445.8,269.6 L446.2,269.6 L446.6,269.5 L447.1,269.5 L447.5,269.5 L447.9,269.4 L448.3,269.4 L448.7,269.4 L449.1,269.4 L449.5,269.3 L450.0,269.3 L450.4,269.3 L450.8,269.2 L451.2,269.2 L451.6,269.2 L452.0,269.1 L452.4,269.1 L452.9,269.1 L453.3,269.0 L453.7,269.0 L454.1,269.0 L454.5,269.0 L454.9,268.9 L455.3,268.9 L455.8,268.9 L456.2,268.8 L456.6,268.8 L457.0,268.8 L457.4,268.7 L457.8,268.7 L458.2,268.7 L458.7,268.6 L459.1,268.6 L459.5,268.6 L459.9,268.6 L460.3,268.5 L460.7,268.5 L461.1,268.5 L461.6,268.4 L462.0,268.4 L462.4,268.4 L462.8,268.3 L463.2,268.3 L463.6,268.3 L464.0,268.3 L464.5,268.2 L464.9,268.2 L465.3,268.2 L465.7,268.1 L466.1,268.1 L466.5,268.1 L466.9,268.1 L467.4,268.0 L467.8,268.0 L468.2,268.0 L468.6,268.0 L469.0,267.9 L469.4,267.9 L469.8,267.9 L470.3,267.9 L470.7,267.8 L471.1,267.8 L471.5,267.8 L471.9,267.8 L472.3,267.7 L472.7,267.7 L473.2,267.7 L473.6,267.7 L474.0,267.7 L474.4,267.6 L474.8,267.6 L475.2,267.6 L475.6,267.6 L476.0,267.6 L476.5,267.5 L476.9,267.5 L477.3,267.5 L477.7,267.5 L478.1,267.5 L478.5,267.5 L478.9,267.4 L479.4,267.4 L479.8,267.4 L480.2,267.4 L480.6,267.4 L481.0,267.4 L481.4,267.3 L481.8,267.3 L482.3,267.3 L482.7,267.3 L483.1,267.3 L483.5,267.3 L483.9,267.3 L484.3,267.2 L484.7,267.2 L485.2,267.2 L485.6,267.2 L486.0,267.2 L486.4,267.2 L486.8,267.2 L487.2,267.2 L487.6,267.1 L488.1,267.1 L488.5,267.1 L488.9,267.1 L489.3,267.1 L489.7,267.1 L490.1,267.1 L490.5,267.1 L491.0,267.1 L491.4,267.0 L491.8,267.0 L492.2,267.0 L492.6,267.0 L493.0,267.0 L493.4,267.0 L493.9,267.0 L494.3,267.0 L494.7,267.0 L495.1,267.0 L495.5,267.0 L495.9,267.0 L496.3,267.0 L496.8,266.9 L497.2,266.9 L497.6,266.9 L498.0,266.9 L498.4,266.9 L498.8,266.9 L499.2,266.9 L499.7,266.9 L500.1,266.9 L500.5,266.9 L500.9,266.9 L501.3,266.9 L501.7,266.9 L502.1,266.9 L502.6,266.9 L503.0,266.9 L503.4,266.9 L503.8,266.9 L504.2,266.9 L504.6,266.9 L505.0,266.9 L505.4,266.9 L505.9,266.9 L506.3,266.9 L506.7,266.9 L507.1,266.9 L507.5,266.9 L507.9,266.9 L508.3,266.9 L508.8,266.9 L509.2,266.8 L509.6,266.8 L510.0,266.8 L510.4,266.8 L510.8,266.8 L511.2,266.8 L511.7,266.8 L512.1,266.8 L512.5,266.8 L512.9,266.8 L513.3,266.8 L513.7,266.8 L514.1,266.8 L514.6,266.9 L515.0,266.9 L515.4,266.9 L515.8,266.9 L516.2,266.9 L516.6,266.9 L517.0,266.9 L517.5,266.9 L517.9,266.9 L518.3,266.9 L518.7,266.9 L519.1,266.9 L519.5,266.9 L519.9,266.9 L520.4,266.9 L520.8,266.9 L521.2,266.9 L521.6,266.9 L522.0,266.9 L522.4,266.9 L522.8,266.9 L523.3,266.9 L523.7,266.9 L524.1,266.9 L524.5,266.9 L524.9,266.9 L525.3,266.9 L525.7,266.9 L526.2,266.9 L526.6,266.9 L527.0,266.9 L527.4,266.9 L527.8,266.9 L528.2,266.9 L528.6,266.9 L529.1,266.9 L529.5,266.9 L529.9,266.9 L530.3,266.9 L530.7,267.0 L531.1,267.0 L531.5,267.0 L532.0,267.0 L532.4,267.0 L532.8,267.0 L533.2,267.0 L533.6,267.0 L534.0,267.0 L534.4,267.0 L534.9,267.0 L535.3,267.0 L535.7,267.0 L536.1,267.0 L536.5,267.0 L536.9,267.0 L537.3,267.0 L537.7,267.0 L538.2,267.0 L538.6,267.0 L539.0,267.0 L539.4,267.0 L539.8,267.0 L540.2,267.0 L540.6,267.0 L541.1,267.1 L541.5,267.1 L541.9,267.1 L542.3,267.1 L542.7,267.1 L543.1,267.1 L543.5,267.1 L544.0,267.1 L544.4,267.1 L544.8,267.1 L545.2,267.1 L545.6,267.1 L546.0,267.1 L546.4,267.1 L546.9,267.1 L547.3,267.1 L547.7,267.1 L548.1,267.1 L548.5,267.1 L548.9,267.1 L549.3,267.1 L549.8,267.1 L550.2,267.1 L550.6,267.1 L551.0,267.1 L551.4,267.1 L551.8,267.1 L552.2,267.1 L552.7,267.1 L553.1,267.2 L553.5,267.2 L553.9,267.2 L554.3,267.2 L554.7,267.2 L555.1,267.2 L555.6,267.2 L556.0,267.2 L556.4,267.2 L556.8,267.2 L557.2,267.2 L557.6,267.2 L558.0,267.2 L558.5,267.2 L558.9,267.2 L559.3,267.2 L559.7,267.2 L560.1,267.2 L560.5,267.2 L560.9,267.2 L561.4,267.2 L561.8,267.2 L562.2,267.2 L562.6,267.2 L563.0,267.2 L563.4,267.2 L563.8,267.2 L564.3,267.2 L564.7,267.2 L565.1,267.2 L565.5,267.2 L565.9,267.2 L566.3,267.2 L566.7,267.2 L567.2,267.2 L567.6,267.2 L568.0,267.2 L568.4,267.2 L568.8,267.2 L569.2,267.2 L569.6,267.2 L570.0,267.2 L570.5,267.2 L570.9,267.2 L571.3,267.2 L571.7,267.2 L572.1,267.2 L572.5,267.2 L572.9,267.2 L573.4,267.2 L573.8,267.2 L574.2,267.2 L574.6,267.2 L575.0,267.2 L575.4,267.2 L575.8,267.2 L576.3,267.2 L576.7,267.2 L577.1,267.2 L577.5,267.3 L577.9,267.3 L578.3,267.3 L578.7,267.3 L579.2,267.3 L579.6,267.3 L580.0,267.3 L580.4,267.3 L580.8,267.3 L581.2,267.3 L581.6,267.3 L582.1,267.3 L582.5,267.3 L582.9,267.3 L583.3,267.3 L583.7,267.3 L584.1,267.3 L584.5,267.3 L585.0,267.3 L585.4,267.3 L585.8,267.3 L586.2,267.3 L586.6,267.3 L587.0,267.3 L587.4,267.3 L587.9,267.3 L588.3,267.3 L588.7,267.3 L589.1,267.3 L589.5,267.3 L589.9,267.3 L590.3,267.3 L590.8,267.3 L591.2,267.3 L591.6,267.3 L592.0,267.3 L592.4,267.3 L592.8,267.3 L593.2,267.3 L593.7,267.3 L594.1,267.3 L594.5,267.3 L594.9,267.3 L595.3,267.3 L595.7,267.3 L596.1,267.3 L596.6,267.3 L597.0,267.3 L597.4,267.3 L597.8,267.3 L598.2,267.3 L598.6,267.3 L599.0,267.2 L599.4,267.2 L599.9,267.2 L600.3,267.2 L600.7,267.2 L601.1,267.2 L601.5,267.2 L601.9,267.2 L602.3,267.2 L602.8,267.2 L603.2,267.2 L603.6,267.2 L604.0,267.2 L604.4,267.2 L604.8,267.2 L605.2,267.2 L605.7,267.2 L606.1,267.2 L606.5,267.2 L606.9,267.2 L607.3,267.2 L607.7,267.2 L608.1,267.2 L608.6,267.2 L609.0,267.2 L609.4,267.2 L609.8,267.2 L610.2,267.2 L610.6,267.2 L611.0,267.2 L611.5,267.2 L611.9,267.2 L612.3,267.2 L612.7,267.2 L613.1,267.2 L613.5,267.2 L613.9,267.2 L614.4,267.2 L614.8,267.2 L615.2,267.2 L615.6,267.2 L616.0,267.2 L616.4,267.2 L616.8,267.2 L617.3,267.2 L617.7,267.2 L618.1,267.2 L618.5,267.2 L618.9,267.2 L619.3,267.2 L619.7,267.2 L620.2,267.2 L620.6,267.2 L621.0,267.2 L621.4,267.2 L621.8,267.2 L622.2,267.2 L622.6,267.2 L623.1,267.2 L623.5,267.2 L623.9,267.2 L624.3,267.2 L624.7,267.2 L625.1,267.2 L625.5,267.2 L626.0,267.2 L626.4,267.2 L626.8,267.2 L627.2,267.2 L627.6,267.2 L628.0,267.2 L628.4,267.2 L628.9,267.2 L629.3,267.2 L629.7,267.2 L630.1,267.2 L630.5,267.2 L630.9,267.2 L631.3,267.2 L631.7,267.1 L632.2,267.1 L632.6,267.1 L633.0,267.1 L633.4,267.1 L633.8,267.1 L634.2,267.1 L634.6,267.1 L635.1,267.1 L635.5,267.1 L635.9,267.1 L636.3,267.1 L636.7,267.1 L637.1,267.1 L637.5,267.1 L638.0,267.1 L638.4,267.1 L638.8,267.1 L639.2,267.1 L639.6,267.1 L640.0,267.1 L640.4,267.1 L640.9,267.1 L641.3,267.1 L641.7,267.1 L642.1,267.1 L642.5,267.1 L642.9,267.1 L643.3,267.1 L643.8,267.1 L644.2,267.1 L644.6,267.1 L645.0,267.1" fill="none" stroke="#ff0000" stroke-width="5.4" stroke-linejoin="round" stroke-linecap="square"/><path d="M148.5,65.0 L148.9,65.8 L149.3,66.6 L149.7,67.4 L150.2,68.3 L150.6,69.3 L151.0,70.3 L151.4,71.4 L151.8,72.6 L152.2,74.0 L152.6,75.4 L153.1,77.1 L153.5,78.8 L153.9,80.7 L154.3,82.7 L154.7,84.9 L155.1,87.1 L155.5,89.5 L156.0,91.9 L156.4,94.4 L156.8,97.1 L157.2,99.8 L157.6,102.6 L158.0,105.4 L158.4,108.3 L158.9,111.3 L159.3,114.3 L159.7,117.4 L160.1,120.5 L160.5,123.7 L160.9,126.9 L161.3,130.2 L161.8,133.5 L162.2,136.9 L162.6,140.2 L163.0,143.6 L163.4,147.0 L163.8,150.5 L164.2,153.9 L164.6,157.3 L165.1,160.7 L165.5,164.1 L165.9,167.4 L166.3,170.7 L166.7,174.0 L167.1,177.2 L167.5,180.3 L168.0,183.3 L168.4,186.3 L168.8,189.2 L169.2,191.9 L169.6,194.6 L170.0,197.2 L170.4,199.7 L170.9,202.0 L171.3,204.3 L171.7,206.5 L172.1,208.7 L172.5,210.7 L172.9,212.7 L173.3,214.6 L173.8,216.5 L174.2,218.3 L174.6,220.0 L175.0,221.7 L175.4,223.3 L175.8,224.7 L176.2,226.1 L176.7,227.4 L177.1,228.6 L177.5,229.6 L177.9,230.5 L178.3,231.3 L178.7,232.0 L179.1,232.6 L179.6,233.0 L180.0,233.4 L180.4,233.7 L180.8,233.9 L181.2,234.1 L181.6,234.2 L182.0,234.2 L182.5,234.2 L182.9,234.2 L183.3,234.2 L183.7,234.1 L184.1,234.1 L184.5,234.0 L184.9,233.8 L185.4,233.7 L185.8,233.5 L186.2,233.3 L186.6,233.1 L187.0,232.9 L187.4,232.6 L187.8,232.4 L188.3,232.1 L188.7,231.7 L189.1,231.4 L189.5,231.0 L189.9,230.6 L190.3,230.2 L190.7,229.9 L191.2,229.5 L191.6,229.1 L192.0,228.8 L192.4,228.5 L192.8,228.3 L193.2,228.1 L193.6,228.0 L194.1,228.0 L194.5,228.0 L194.9,228.2 L195.3,228.4 L195.7,228.8 L196.1,229.2 L196.5,229.8 L196.9,230.4 L197.4,231.2 L197.8,232.0 L198.2,232.8 L198.6,233.7 L199.0,234.7 L199.4,235.7 L199.8,236.8 L200.3,237.8 L200.7,238.9 L201.1,240.0 L201.5,241.1 L201.9,242.3 L202.3,243.4 L202.7,244.5 L203.2,245.7 L203.6,246.8 L204.0,248.0 L204.4,249.3 L204.8,250.5 L205.2,251.8 L205.6,253.1 L206.1,254.4 L206.5,255.8 L206.9,257.2 L207.3,258.6 L207.7,260.1 L208.1,261.6 L208.5,263.1 L209.0,264.7 L209.4,266.3 L209.8,267.9 L210.2,269.4 L210.6,271.0 L211.0,272.6 L211.4,274.1 L211.9,275.6 L212.3,277.1 L212.7,278.6 L213.1,280.0 L213.5,281.4 L213.9,282.7 L214.3,283.9 L214.8,285.1 L215.2,286.3 L215.6,287.3 L216.0,288.4 L216.4,289.3 L216.8,290.3 L217.2,291.1 L217.7,291.9 L218.1,292.7 L218.5,293.3 L218.9,294.0 L219.3,294.6 L219.7,295.1 L220.1,295.6 L220.6,296.0 L221.0,296.3 L221.4,296.6 L221.8,296.9 L222.2,297.0 L222.6,297.2 L223.0,297.3 L223.5,297.3 L223.9,297.2 L224.3,297.2 L224.7,297.0 L225.1,296.8 L225.5,296.6 L225.9,296.3 L226.3,296.0 L226.8,295.6 L227.2,295.2 L227.6,294.7 L228.0,294.2 L228.4,293.6 L228.8,293.0 L229.2,292.4 L229.7,291.7 L230.1,291.0 L230.5,290.2 L230.9,289.4 L231.3,288.6 L231.7,287.7 L232.1,286.9 L232.6,285.9 L233.0,285.0 L233.4,284.0 L233.8,283.0 L234.2,282.0 L234.6,281.0 L235.0,279.9 L235.5,278.9 L235.9,277.8 L236.3,276.8 L236.7,275.8 L237.1,274.8 L237.5,273.8 L237.9,272.8 L238.4,271.8 L238.8,270.9 L239.2,270.0 L239.6,269.1 L240.0,268.3 L240.4,267.5 L240.8,266.8 L241.3,266.1 L241.7,265.4 L242.1,264.8 L242.5,264.3 L242.9,263.7 L243.3,263.3 L243.7,262.8 L244.2,262.5 L244.6,262.1 L245.0,261.8 L245.4,261.5 L245.8,261.3 L246.2,261.1 L246.6,261.0 L247.1,260.9 L247.5,260.8 L247.9,260.7 L248.3,260.7 L248.7,260.7 L249.1,260.8 L249.5,260.9 L250.0,261.0 L250.4,261.1 L250.8,261.3 L251.2,261.5 L251.6,261.7 L252.0,262.0 L252.4,262.2 L252.9,262.5 L253.3,262.8 L253.7,263.2 L254.1,263.5 L254.5,263.9 L254.9,264.3 L255.3,264.6 L255.8,265.0 L256.2,265.4 L256.6,265.9 L257.0,266.3 L257.4,266.7 L257.8,267.1 L258.2,267.6 L258.6,268.0 L259.1,268.4 L259.5,268.9 L259.9,269.3 L260.3,269.7 L260.7,270.2 L261.1,270.6 L261.5,271.0 L262.0,271.4 L262.4,271.8 L262.8,272.1 L263.2,272.5 L263.6,272.9 L264.0,273.2 L264.4,273.6 L264.9,273.9 L265.3,274.2 L265.7,274.5 L266.1,274.8 L266.5,275.1 L266.9,275.4 L267.3,275.7 L267.8,275.9 L268.2,276.2 L268.6,276.4 L269.0,276.6 L269.4,276.8 L269.8,277.0 L270.2,277.2 L270.7,277.3 L271.1,277.5 L271.5,277.6 L271.9,277.8 L272.3,277.9 L272.7,278.0 L273.1,278.1 L273.6,278.1 L274.0,278.2 L274.4,278.2 L274.8,278.2 L275.2,278.2 L275.6,278.2 L276.0,278.2 L276.5,278.2 L276.9,278.1 L277.3,278.0 L277.7,277.9 L278.1,277.8 L278.5,277.7 L278.9,277.6 L279.4,277.4 L279.8,277.2 L280.2,277.0 L280.6,276.8 L281.0,276.6 L281.4,276.4 L281.8,276.2 L282.3,275.9 L282.7,275.6 L283.1,275.4 L283.5,275.1 L283.9,274.8 L284.3,274.6 L284.7,274.3 L285.2,274.0 L285.6,273.8 L286.0,273.5 L286.4,273.2 L286.8,273.0 L287.2,272.7 L287.6,272.5 L288.1,272.2 L288.5,272.0 L288.9,271.8 L289.3,271.6 L289.7,271.4 L290.1,271.2 L290.5,271.1 L290.9,270.9 L291.4,270.8 L291.8,270.7 L292.2,270.7 L292.6,270.6 L293.0,270.6 L293.4,270.6 L293.8,270.6 L294.3,270.7 L294.7,270.7 L295.1,270.8 L295.5,270.9 L295.9,271.1 L296.3,271.2 L296.7,271.4 L297.2,271.5 L297.6,271.7 L298.0,271.9 L298.4,272.1 L298.8,272.4 L299.2,272.6 L299.6,272.8 L300.1,273.1 L300.5,273.3 L300.9,273.6 L301.3,273.9 L301.7,274.1 L302.1,274.4 L302.5,274.7 L303.0,275.0 L303.4,275.3 L303.8,275.5 L304.2,275.8 L304.6,276.1 L305.0,276.4 L305.4,276.6 L305.9,276.9 L306.3,277.2 L306.7,277.4 L307.1,277.6 L307.5,277.9 L307.9,278.1 L308.3,278.3 L308.8,278.5 L309.2,278.7 L309.6,278.9 L310.0,279.1 L310.4,279.3 L310.8,279.5 L311.2,279.6 L311.7,279.8 L312.1,279.9 L312.5,280.0 L312.9,280.2 L313.3,280.3 L313.7,280.4 L314.1,280.5 L314.6,280.6 L315.0,280.6 L315.4,280.7 L315.8,280.8 L316.2,280.8 L316.6,280.9 L317.0,280.9 L317.5,280.9 L317.9,281.0 L318.3,281.0 L318.7,281.0 L319.1,281.0 L319.5,280.9 L319.9,280.9 L320.3,280.9 L320.8,280.8 L321.2,280.8 L321.6,280.7 L322.0,280.7 L322.4,280.6 L322.8,280.5 L323.2,280.5 L323.7,280.4 L324.1,280.3 L324.5,280.2 L324.9,280.1 L325.3,279.9 L325.7,279.8 L326.1,279.7 L326.6,279.6 L327.0,279.4 L327.4,279.3 L327.8,279.2 L328.2,279.0 L328.6,278.9 L329.0,278.7 L329.5,278.6 L329.9,278.4 L330.3,278.3 L330.7,278.1 L331.1,278.0 L331.5,277.8 L331.9,277.6 L332.4,277.5 L332.8,277.3 L333.2,277.1 L333.6,277.0 L334.0,276.8 L334.4,276.6 L334.8,276.5 L335.3,276.3 L335.7,276.1 L336.1,276.0 L336.5,275.8 L336.9,275.6 L337.3,275.5 L337.7,275.3 L338.2,275.1 L338.6,275.0 L339.0,274.8 L339.4,274.7 L339.8,274.5 L340.2,274.4 L340.6,274.2 L341.1,274.1 L341.5,274.0 L341.9,273.8 L342.3,273.7 L342.7,273.6 L343.1,273.5 L343.5,273.3 L344.0,273.2 L344.4,273.1 L344.8,273.0 L345.2,272.9 L345.6,272.9 L346.0,272.8 L346.4,272.7 L346.9,272.6 L347.3,272.6 L347.7,272.5 L348.1,272.5 L348.5,272.4 L348.9,272.4 L349.3,272.4 L349.8,272.4 L350.2,272.3 L350.6,272.3 L351.0,272.3 L351.4,272.3 L351.8,272.3 L352.2,272.3 L352.6,272.3 L353.1,272.4 L353.5,272.4 L353.9,272.4 L354.3,272.4 L354.7,272.5 L355.1,272.5 L355.5,272.5 L356.0,272.5 L356.4,272.6 L356.8,272.6 L357.2,272.7 L357.6,272.7 L358.0,272.7 L358.4,272.8 L358.9,272.8 L359.3,272.9 L359.7,272.9 L360.1,272.9 L360.5,273.0 L360.9,273.0 L361.3,273.0 L361.8,273.1 L362.2,273.1 L362.6,273.1 L363.0,273.2 L363.4,273.2 L363.8,273.2 L364.2,273.2 L364.7,273.3 L365.1,273.3 L365.5,273.3 L365.9,273.3 L366.3,273.3 L366.7,273.3 L367.1,273.4 L367.6,273.4 L368.0,273.4 L368.4,273.4 L368.8,273.4 L369.2,273.4 L369.6,273.4 L370.0,273.4 L370.5,273.4 L370.9,273.4 L371.3,273.4 L371.7,273.4 L372.1,273.4 L372.5,273.4 L372.9,273.4 L373.4,273.4 L373.8,273.4 L374.2,273.4 L374.6,273.4 L375.0,273.4 L375.4,273.3 L375.8,273.3 L376.3,273.3 L376.7,273.3 L377.1,273.3 L377.5,273.3 L377.9,273.3 L378.3,273.3 L378.7,273.3 L379.2,273.3 L379.6,273.2 L380.0,273.2 L380.4,273.2 L380.8,273.2 L381.2,273.2 L381.6,273.2 L382.0,273.2 L382.5,273.2 L382.9,273.2 L383.3,273.1 L383.7,273.1 L384.1,273.1 L384.5,273.1 L384.9,273.1 L385.4,273.1 L385.8,273.1 L386.2,273.1 L386.6,273.1 L387.0,273.1 L387.4,273.1 L387.8,273.1 L388.3,273.1 L388.7,273.1 L389.1,273.1 L389.5,273.1 L389.9,273.1 L390.3,273.1 L390.7,273.1 L391.2,273.1 L391.6,273.1 L392.0,273.1 L392.4,273.1 L392.8,273.1 L393.2,273.1 L393.6,273.1 L394.1,273.2 L394.5,273.2 L394.9,273.2 L395.3,273.2 L395.7,273.2 L396.1,273.2 L396.5,273.3 L397.0,273.3 L397.4,273.3 L397.8,273.3 L398.2,273.3 L398.6,273.4 L399.0,273.4 L399.4,273.4 L399.9,273.4 L400.3,273.5 L400.7,273.5 L401.1,273.5 L401.5,273.6 L401.9,273.6 L402.3,273.6 L402.8,273.6 L403.2,273.7 L403.6,273.7 L404.0,273.7 L404.4,273.7 L404.8,273.8 L405.2,273.8 L405.7,273.8 L406.1,273.9 L406.5,273.9 L406.9,273.9 L407.3,273.9 L407.7,274.0 L408.1,274.0 L408.6,274.0 L409.0,274.1 L409.4,274.1 L409.8,274.1 L410.2,274.1 L410.6,274.2 L411.0,274.2 L411.5,274.2 L411.9,274.2 L412.3,274.3 L412.7,274.3 L413.1,274.3 L413.5,274.3 L413.9,274.3 L414.3,274.4 L414.8,274.4 L415.2,274.4 L415.6,274.4 L416.0,274.4 L416.4,274.4 L416.8,274.4 L417.2,274.4 L417.7,274.5 L418.1,274.5 L418.5,274.5 L418.9,274.5 L419.3,274.5 L419.7,274.5 L420.1,274.5 L420.6,274.5 L421.0,274.5 L421.4,274.5 L421.8,274.5 L422.2,274.5 L422.6,274.5 L423.0,274.5 L423.5,274.4 L423.9,274.4 L424.3,274.4 L424.7,274.4 L425.1,274.4 L425.5,274.4 L425.9,274.4 L426.4,274.3 L426.8,274.3 L427.2,274.3 L427.6,274.3 L428.0,274.3 L428.4,274.2 L428.8,274.2 L429.3,274.2 L429.7,274.2 L430.1,274.1 L430.5,274.1 L430.9,274.1 L431.3,274.1 L431.7,274.0 L432.2,274.0 L432.6,274.0 L433.0,273.9 L433.4,273.9 L433.8,273.9 L434.2,273.8 L434.6,273.8 L435.1,273.8 L435.5,273.7 L435.9,273.7 L436.3,273.7 L436.7,273.6 L437.1,273.6 L437.5,273.5 L438.0,273.5 L438.4,273.5 L438.8,273.4 L439.2,273.4 L439.6,273.3 L440.0,273.3 L440.4,273.2 L440.9,273.2 L441.3,273.1 L441.7,273.1 L442.1,273.1 L442.5,273.0 L442.9,273.0 L443.3,272.9 L443.7,272.9 L444.2,272.8 L444.6,272.8 L445.0,272.7 L445.4,272.7 L445.8,272.6 L446.2,272.6 L446.6,272.5 L447.1,272.5 L447.5,272.4 L447.9,272.4 L448.3,272.3 L448.7,272.3 L449.1,272.2 L449.5,272.2 L450.0,272.1 L450.4,272.1 L450.8,272.0 L451.2,272.0 L451.6,271.9 L452.0,271.9 L452.4,271.8 L452.9,271.8 L453.3,271.7 L453.7,271.7 L454.1,271.6 L454.5,271.6 L454.9,271.5 L455.3,271.5 L455.8,271.4 L456.2,271.4 L456.6,271.3 L457.0,271.3 L457.4,271.2 L457.8,271.2 L458.2,271.1 L458.7,271.1 L459.1,271.0 L459.5,271.0 L459.9,270.9 L460.3,270.9 L460.7,270.9 L461.1,270.8 L461.6,270.8 L462.0,270.7 L462.4,270.7 L462.8,270.7 L463.2,270.6 L463.6,270.6 L464.0,270.5 L464.5,270.5 L464.9,270.5 L465.3,270.4 L465.7,270.4 L466.1,270.4 L466.5,270.4 L466.9,270.3 L467.4,270.3 L467.8,270.3 L468.2,270.3 L468.6,270.2 L469.0,270.2 L469.4,270.2 L469.8,270.2 L470.3,270.2 L470.7,270.1 L471.1,270.1 L471.5,270.1 L471.9,270.1 L472.3,270.1 L472.7,270.1 L473.2,270.1 L473.6,270.1 L474.0,270.1 L474.4,270.1 L474.8,270.1 L475.2,270.1 L475.6,270.1 L476.0,270.1 L476.5,270.1 L476.9,270.1 L477.3,270.1 L477.7,270.2 L478.1,270.2 L478.5,270.2 L478.9,270.2 L479.4,270.2 L479.8,270.3 L480.2,270.3 L480.6,270.3 L481.0,270.4 L481.4,270.4 L481.8,270.4 L482.3,270.5 L482.7,270.5 L483.1,270.5 L483.5,270.6 L483.9,270.6 L484.3,270.6 L484.7,270.7 L485.2,270.7 L485.6,270.8 L486.0,270.8 L486.4,270.9 L486.8,270.9 L487.2,270.9 L487.6,271.0 L488.1,271.0 L488.5,271.1 L488.9,271.1 L489.3,271.2 L489.7,271.2 L490.1,271.3 L490.5,271.3 L491.0,271.4 L491.4,271.4 L491.8,271.4 L492.2,271.5 L492.6,271.5 L493.0,271.6 L493.4,271.6 L493.9,271.7 L494.3,271.7 L494.7,271.7 L495.1,271.8 L495.5,271.8 L495.9,271.9 L496.3,271.9 L496.8,271.9 L497.2,272.0 L497.6,272.0 L498.0,272.0 L498.4,272.1 L498.8,272.1 L499.2,272.1 L499.7,272.2 L500.1,272.2 L500.5,272.2 L500.9,272.2 L501.3,272.2 L501.7,272.3 L502.1,272.3 L502.6,272.3 L503.0,272.3 L503.4,272.3 L503.8,272.3 L504.2,272.3 L504.6,272.3 L505.0,272.3 L505.4,272.3 L505.9,272.3 L506.3,272.3 L506.7,272.3 L507.1,272.3 L507.5,272.3 L507.9,272.2 L508.3,272.2 L508.8,272.2 L509.2,272.2 L509.6,272.2 L510.0,272.1 L510.4,272.1 L510.8,272.1 L511.2,272.1 L511.7,272.0 L512.1,272.0 L512.5,272.0 L512.9,272.0 L513.3,271.9 L513.7,271.9 L514.1,271.9 L514.6,271.8 L515.0,271.8 L515.4,271.8 L515.8,271.7 L516.2,271.7 L516.6,271.6 L517.0,271.6 L517.5,271.6 L517.9,271.5 L518.3,271.5 L518.7,271.5 L519.1,271.4 L519.5,271.4 L519.9,271.4 L520.4,271.3 L520.8,271.3 L521.2,271.3 L521.6,271.2 L522.0,271.2 L522.4,271.2 L522.8,271.1 L523.3,271.1 L523.7,271.1 L524.1,271.0 L524.5,271.0 L524.9,271.0 L525.3,271.0 L525.7,270.9 L526.2,270.9 L526.6,270.9 L527.0,270.9 L527.4,270.9 L527.8,270.9 L528.2,270.8 L528.6,270.8 L529.1,270.8 L529.5,270.8 L529.9,270.8 L530.3,270.8 L530.7,270.8 L531.1,270.8 L531.5,270.8 L532.0,270.8 L532.4,270.8 L532.8,270.8 L533.2,270.9 L533.6,270.9 L534.0,270.9 L534.4,270.9 L534.9,270.9 L535.3,271.0 L535.7,271.0 L536.1,271.0 L536.5,271.1 L536.9,271.1 L537.3,271.1 L537.7,271.2 L538.2,271.2 L538.6,271.2 L539.0,271.3 L539.4,271.3 L539.8,271.4 L540.2,271.4 L540.6,271.5 L541.1,271.5 L541.5,271.5 L541.9,271.6 L542.3,271.6 L542.7,271.7 L543.1,271.7 L543.5,271.8 L544.0,271.8 L544.4,271.9 L544.8,271.9 L545.2,272.0 L545.6,272.0 L546.0,272.1 L546.4,272.1 L546.9,272.2 L547.3,272.2 L547.7,272.3 L548.1,272.3 L548.5,272.4 L548.9,272.4 L549.3,272.5 L549.8,272.5 L550.2,272.6 L550.6,272.6 L551.0,272.7 L551.4,272.7 L551.8,272.7 L552.2,272.8 L552.7,272.8 L553.1,272.8 L553.5,272.9 L553.9,272.9 L554.3,272.9 L554.7,273.0 L555.1,273.0 L555.6,273.0 L556.0,273.0 L556.4,273.1 L556.8,273.1 L557.2,273.1 L557.6,273.1 L558.0,273.1 L558.5,273.1 L558.9,273.1 L559.3,273.1 L559.7,273.1 L560.1,273.1 L560.5,273.1 L560.9,273.1 L561.4,273.1 L561.8,273.1 L562.2,273.0 L562.6,273.0 L563.0,273.0 L563.4,273.0 L563.8,272.9 L564.3,272.9 L564.7,272.8 L565.1,272.8 L565.5,272.8 L565.9,272.7 L566.3,272.7 L566.7,272.6 L567.2,272.6 L567.6,272.5 L568.0,272.5 L568.4,272.4 L568.8,272.3 L569.2,272.3 L569.6,272.2 L570.0,272.2 L570.5,272.1 L570.9,272.0 L571.3,272.0 L571.7,271.9 L572.1,271.8 L572.5,271.7 L572.9,271.7 L573.4,271.6 L573.8,271.5 L574.2,271.4 L574.6,271.4 L575.0,271.3 L575.4,271.2 L575.8,271.1 L576.3,271.1 L576.7,271.0 L577.1,270.9 L577.5,270.8 L577.9,270.7 L578.3,270.7 L578.7,270.6 L579.2,270.5 L579.6,270.4 L580.0,270.3 L580.4,270.3 L580.8,270.2 L581.2,270.1 L581.6,270.0 L582.1,269.9 L582.5,269.9 L582.9,269.8 L583.3,269.7 L583.7,269.6 L584.1,269.6 L584.5,269.5 L585.0,269.4 L585.4,269.3 L585.8,269.3 L586.2,269.2 L586.6,269.1 L587.0,269.1 L587.4,269.0 L587.9,268.9 L588.3,268.9 L588.7,268.8 L589.1,268.8 L589.5,268.7 L589.9,268.7 L590.3,268.6 L590.8,268.6 L591.2,268.5 L591.6,268.5 L592.0,268.4 L592.4,268.4 L592.8,268.3 L593.2,268.3 L593.7,268.2 L594.1,268.2 L594.5,268.2 L594.9,268.1 L595.3,268.1 L595.7,268.0 L596.1,268.0 L596.6,268.0 L597.0,267.9 L597.4,267.9 L597.8,267.9 L598.2,267.8 L598.6,267.8 L599.0,267.8 L599.4,267.7 L599.9,267.7 L600.3,267.7 L600.7,267.6 L601.1,267.6 L601.5,267.6 L601.9,267.6 L602.3,267.5 L602.8,267.5 L603.2,267.5 L603.6,267.4 L604.0,267.4 L604.4,267.4 L604.8,267.4 L605.2,267.3 L605.7,267.3 L606.1,267.3 L606.5,267.2 L606.9,267.2 L607.3,267.2 L607.7,267.1 L608.1,267.1 L608.6,267.1 L609.0,267.0 L609.4,267.0 L609.8,267.0 L610.2,266.9 L610.6,266.9 L611.0,266.9 L611.5,266.8 L611.9,266.8 L612.3,266.7 L612.7,266.7 L613.1,266.6 L613.5,266.6 L613.9,266.6 L614.4,266.5 L614.8,266.5 L615.2,266.4 L615.6,266.4 L616.0,266.3 L616.4,266.2 L616.8,266.2 L617.3,266.1 L617.7,266.1 L618.1,266.0 L618.5,266.0 L618.9,265.9 L619.3,265.8 L619.7,265.8 L620.2,265.7 L620.6,265.6 L621.0,265.6 L621.4,265.5 L621.8,265.4 L622.2,265.4 L622.6,265.3 L623.1,265.2 L623.5,265.2 L623.9,265.1 L624.3,265.0 L624.7,264.9 L625.1,264.9 L625.5,264.8 L626.0,264.7 L626.4,264.7 L626.8,264.6 L627.2,264.5 L627.6,264.4 L628.0,264.4 L628.4,264.3 L628.9,264.2 L629.3,264.2 L629.7,264.1 L630.1,264.0 L630.5,264.0 L630.9,263.9 L631.3,263.8 L631.7,263.7 L632.2,263.7 L632.6,263.6 L633.0,263.6 L633.4,263.5 L633.8,263.4 L634.2,263.4 L634.6,263.3 L635.1,263.3 L635.5,263.2 L635.9,263.1 L636.3,263.1 L636.7,263.0 L637.1,263.0 L637.5,262.9 L638.0,262.9 L638.4,262.8 L638.8,262.8 L639.2,262.7 L639.6,262.7 L640.0,262.7 L640.4,262.6 L640.9,262.6 L641.3,262.6 L641.7,262.5 L642.1,262.5 L642.5,262.5 L642.9,262.4 L643.3,262.4 L643.8,262.4 L644.2,262.3 L644.6,262.3 L645.0,262.3" fill="none" stroke="#ffa500" stroke-width="5.4" stroke-linejoin="round" stroke-linecap="butt" stroke-dasharray="20.1 8.7"/></g><g clip-path="url(#cb)"><path d="M148.5,697.3 L149.0,675.4 L149.5,651.2 L150.0,628.1 L150.5,616.3 L151.0,608.5 L151.5,603.3 L152.0,599.4 L152.5,596.0 L153.0,592.8 L153.5,590.1 L154.0,588.0 L154.5,586.3 L155.0,584.7 L155.5,583.6 L156.0,583.0 L156.5,583.0 L156.9,583.1 L157.4,583.3 L157.9,583.4 L158.4,583.6 L158.9,583.8 L159.4,584.1 L159.9,584.5 L160.4,585.1 L160.9,585.9 L161.4,586.8 L161.9,587.8 L162.4,588.7 L162.9,589.6 L163.4,590.5 L163.9,591.2 L164.4,591.9 L164.9,592.6 L165.4,593.2 L165.9,593.8 L166.4,594.3 L166.9,594.8 L167.4,595.2 L167.9,595.6 L168.4,595.9 L168.9,596.3 L169.4,596.7 L169.9,597.0 L170.4,597.2 L170.9,597.5 L171.4,597.7 L171.9,597.9 L172.4,598.1 L172.9,598.3 L173.4,598.5 L173.8,598.7 L174.3,598.8 L174.8,599.0 L175.3,599.2 L175.8,599.4 L176.3,599.6 L176.8,599.7 L177.3,599.9 L177.8,600.0 L178.3,600.1 L178.8,600.3 L179.3,600.4 L179.8,600.6 L180.3,600.7 L180.8,600.8 L181.3,600.9 L181.8,601.0 L182.3,601.1 L182.8,601.1 L183.3,601.2 L183.8,601.3 L184.3,601.3 L184.8,601.4 L185.3,601.4 L185.8,601.5 L186.3,601.5 L186.8,601.6 L187.3,601.7 L187.8,601.8 L188.3,601.8 L188.8,601.9 L189.3,602.0 L189.8,602.1 L190.3,602.2 L190.7,602.3 L191.2,602.4 L191.7,602.5 L192.2,602.6 L192.7,602.7 L193.2,602.8 L193.7,602.9 L194.2,603.0 L194.7,603.1 L195.2,603.1 L195.7,603.2 L196.2,603.3 L196.7,603.4 L197.2,603.5 L197.7,603.5 L198.2,603.6 L198.7,603.7 L199.2,603.8 L199.7,603.8 L200.2,603.9 L200.7,603.9 L201.2,604.0 L201.7,604.1 L202.2,604.1 L202.7,604.1 L203.2,604.2 L203.7,604.2 L204.2,604.2 L204.7,604.3 L205.2,604.3 L205.7,604.4 L206.2,604.4 L206.7,604.4 L207.2,604.4 L207.6,604.4 L208.1,604.4 L208.6,604.5 L209.1,604.5 L209.6,604.6 L210.1,604.7 L210.6,604.8 L211.1,604.8 L211.6,604.9 L212.1,604.9 L212.6,605.0 L213.1,605.0 L213.6,605.1 L214.1,605.1 L214.6,605.2 L215.1,605.3 L215.6,605.3 L216.1,605.4 L216.6,605.5 L217.1,605.6 L217.6,605.7 L218.1,605.9 L218.6,605.9 L219.1,606.0 L219.6,606.0 L220.1,606.1 L220.6,606.1 L221.1,606.2 L221.6,606.2 L222.1,606.3 L222.6,606.3 L223.1,606.3 L223.6,606.3 L224.1,606.3 L224.5,606.3 L225.0,606.2 L225.5,606.2 L226.0,606.1 L226.5,606.0 L227.0,606.0 L227.5,605.9 L228.0,605.9 L228.5,605.8 L229.0,605.7 L229.5,605.7 L230.0,605.6 L230.5,605.5 L231.0,605.5 L231.5,605.5 L232.0,605.5 L232.5,605.5 L233.0,605.5 L233.5,605.5 L234.0,605.6 L234.5,605.6 L235.0,605.7 L235.5,605.7 L236.0,605.8 L236.5,605.9 L237.0,605.9 L237.5,606.0 L238.0,606.0 L238.5,606.1 L239.0,606.2 L239.5,606.3 L240.0,606.4 L240.5,606.5 L241.0,606.6 L241.4,606.7 L241.9,606.8 L242.4,606.9 L242.9,607.0 L243.4,607.1 L243.9,607.2 L244.4,607.3 L244.9,607.4 L245.4,607.5 L245.9,607.5 L246.4,607.6 L246.9,607.6 L247.4,607.6 L247.9,607.6 L248.4,607.6 L248.9,607.6 L249.4,607.6 L249.9,607.6 L250.4,607.6 L250.9,607.6 L251.4,607.5 L251.9,607.5 L252.4,607.4 L252.9,607.4 L253.4,607.3 L253.9,607.3 L254.4,607.2 L254.9,607.2 L255.4,607.2 L255.9,607.3 L256.4,607.3 L256.9,607.4 L257.4,607.5 L257.9,607.6 L258.3,607.7 L258.8,607.8 L259.3,607.9 L259.8,608.0 L260.3,608.1 L260.8,608.2 L261.3,608.3 L261.8,608.5 L262.3,608.6 L262.8,608.8 L263.3,608.9 L263.8,609.1 L264.3,609.3 L264.8,609.5 L265.3,609.7 L265.8,609.8 L266.3,610.0 L266.8,610.1 L267.3,610.2 L267.8,610.3 L268.3,610.3 L268.8,610.4 L269.3,610.5 L269.8,610.6 L270.3,610.6 L270.8,610.7 L271.3,610.7 L271.8,610.7 L272.3,610.7 L272.8,610.7 L273.3,610.6 L273.8,610.6 L274.3,610.5 L274.7,610.5 L275.2,610.4 L275.7,610.3 L276.2,610.2 L276.7,610.1 L277.2,610.1 L277.7,610.0 L278.2,609.9 L278.7,609.9 L279.2,609.8 L279.7,609.8 L280.2,609.8 L280.7,609.7 L281.2,609.6 L281.7,609.6 L282.2,609.5 L282.7,609.4 L283.2,609.3 L283.7,609.1 L284.2,609.0 L284.7,608.8 L285.2,608.7 L285.7,608.6 L286.2,608.4 L286.7,608.3 L287.2,608.1 L287.7,607.9 L288.2,607.8 L288.7,607.6 L289.2,607.5 L289.7,607.3 L290.2,607.1 L290.7,607.0 L291.2,606.9 L291.6,606.8 L292.1,606.7 L292.6,606.7 L293.1,606.7 L293.6,606.7 L294.1,606.6 L294.6,606.6 L295.1,606.5 L295.6,606.5 L296.1,606.4 L296.6,606.4 L297.1,606.4 L297.6,606.4 L298.1,606.4 L298.6,606.4 L299.1,606.4 L299.6,606.4 L300.1,606.4 L300.6,606.3 L301.1,606.3 L301.6,606.3 L302.1,606.2 L302.6,606.2 L303.1,606.2 L303.6,606.2 L304.1,606.1 L304.6,606.2 L305.1,606.2 L305.6,606.1 L306.1,606.2 L306.6,606.2 L307.1,606.2 L307.6,606.2 L308.1,606.2 L308.5,606.2 L309.0,606.2 L309.5,606.2 L310.0,606.1 L310.5,606.1 L311.0,606.1 L311.5,606.1 L312.0,606.1 L312.5,606.1 L313.0,606.0 L313.5,606.0 L314.0,606.0 L314.5,605.9 L315.0,606.0 L315.5,606.0 L316.0,606.1 L316.5,606.1 L317.0,606.1 L317.5,606.1 L318.0,606.2 L318.5,606.2 L319.0,606.2 L319.5,606.3 L320.0,606.4 L320.5,606.5 L321.0,606.5 L321.5,606.6 L322.0,606.6 L322.5,606.7 L323.0,606.7 L323.5,606.8 L324.0,606.9 L324.5,607.0 L325.0,607.0 L325.4,607.1 L325.9,607.1 L326.4,607.1 L326.9,607.1 L327.4,607.2 L327.9,607.2 L328.4,607.2 L328.9,607.3 L329.4,607.3 L329.9,607.3 L330.4,607.3 L330.9,607.3 L331.4,607.4 L331.9,607.4 L332.4,607.5 L332.9,607.5 L333.4,607.5 L333.9,607.5 L334.4,607.5 L334.9,607.5 L335.4,607.5 L335.9,607.5 L336.4,607.5 L336.9,607.5 L337.4,607.6 L337.9,607.6 L338.4,607.6 L338.9,607.6 L339.4,607.7 L339.9,607.7 L340.4,607.8 L340.9,607.8 L341.4,607.8 L341.9,607.8 L342.3,607.9 L342.8,607.9 L343.3,607.9 L343.8,608.0 L344.3,608.0 L344.8,608.0 L345.3,608.1 L345.8,608.1 L346.3,608.2 L346.8,608.2 L347.3,608.2 L347.8,608.2 L348.3,608.2 L348.8,608.2 L349.3,608.1 L349.8,608.1 L350.3,608.0 L350.8,608.0 L351.3,608.0 L351.8,608.0 L352.3,608.0 L352.8,608.0 L353.3,608.0 L353.8,608.0 L354.3,608.1 L354.8,608.1 L355.3,608.2 L355.8,608.2 L356.3,608.3 L356.8,608.4 L357.3,608.4 L357.8,608.5 L358.3,608.5 L358.8,608.6 L359.2,608.7 L359.7,608.8 L360.2,609.0 L360.7,609.1 L361.2,609.2 L361.7,609.3 L362.2,609.4 L362.7,609.5 L363.2,609.6 L363.7,609.7 L364.2,609.8 L364.7,609.9 L365.2,609.9 L365.7,610.0 L366.2,610.0 L366.7,610.1 L367.2,610.1 L367.7,610.2 L368.2,610.3 L368.7,610.3 L369.2,610.4 L369.7,610.4 L370.2,610.4 L370.7,610.4 L371.2,610.4 L371.7,610.5 L372.2,610.5 L372.7,610.5 L373.2,610.5 L373.7,610.5 L374.2,610.4 L374.7,610.3 L375.2,610.3 L375.7,610.3 L376.1,610.3 L376.6,610.3 L377.1,610.2 L377.6,610.2 L378.1,610.1 L378.6,610.1 L379.1,610.0 L379.6,610.0 L380.1,610.0 L380.6,609.9 L381.1,609.9 L381.6,609.9 L382.1,609.8 L382.6,609.7 L383.1,609.7 L383.6,609.7 L384.1,609.7 L384.6,609.7 L385.1,609.6 L385.6,609.6 L386.1,609.6 L386.6,609.6 L387.1,609.6 L387.6,609.6 L388.1,609.6 L388.6,609.6 L389.1,609.6 L389.6,609.7 L390.1,609.7 L390.6,609.7 L391.1,609.7 L391.6,609.7 L392.1,609.7 L392.6,609.7 L393.0,609.7 L393.5,609.7 L394.0,609.7 L394.5,609.7 L395.0,609.7 L395.5,609.6 L396.0,609.6 L396.5,609.6 L397.0,609.5 L397.5,609.4 L398.0,609.4 L398.5,609.3 L399.0,609.2 L399.5,609.2 L400.0,609.1 L400.5,609.0 L401.0,609.0 L401.5,608.9 L402.0,608.8 L402.5,608.8 L403.0,608.7 L403.5,608.6 L404.0,608.4 L404.5,608.3 L405.0,608.2 L405.5,608.0 L406.0,607.9 L406.5,607.9 L407.0,607.8 L407.5,607.7 L408.0,607.6 L408.5,607.5 L409.0,607.4 L409.4,607.3 L409.9,607.3 L410.4,607.2 L410.9,607.1 L411.4,607.1 L411.9,607.0 L412.4,606.9 L412.9,606.8 L413.4,606.8 L413.9,606.8 L414.4,606.8 L414.9,606.7 L415.4,606.7 L415.9,606.6 L416.4,606.5 L416.9,606.5 L417.4,606.4 L417.9,606.3 L418.4,606.3 L418.9,606.2 L419.4,606.0 L419.9,605.9 L420.4,605.8 L420.9,605.7 L421.4,605.6 L421.9,605.5 L422.4,605.4 L422.9,605.3 L423.4,605.2 L423.9,605.1 L424.4,604.9 L424.9,604.9 L425.4,604.8 L425.9,604.8 L426.3,604.8 L426.8,604.8 L427.3,604.8 L427.8,604.8 L428.3,604.8 L428.8,604.8 L429.3,604.8 L429.8,604.9 L430.3,604.9 L430.8,604.9 L431.3,605.0 L431.8,605.0 L432.3,605.1 L432.8,605.1 L433.3,605.2 L433.8,605.2 L434.3,605.3 L434.8,605.3 L435.3,605.3 L435.8,605.3 L436.3,605.2 L436.8,605.2 L437.3,605.2 L437.8,605.3 L438.3,605.4 L438.8,605.5 L439.3,605.5 L439.8,605.6 L440.3,605.6 L440.8,605.7 L441.3,605.7 L441.8,605.7 L442.3,605.7 L442.8,605.7 L443.2,605.7 L443.7,605.7 L444.2,605.8 L444.7,605.8 L445.2,605.8 L445.7,605.7 L446.2,605.7 L446.7,605.6 L447.2,605.6 L447.7,605.5 L448.2,605.3 L448.7,605.2 L449.2,605.0 L449.7,604.9 L450.2,604.7 L450.7,604.5 L451.2,604.4 L451.7,604.3 L452.2,604.2 L452.7,604.1 L453.2,604.0 L453.7,603.9 L454.2,603.8 L454.7,603.7 L455.2,603.7 L455.7,603.6 L456.2,603.6 L456.7,603.5 L457.2,603.5 L457.7,603.5 L458.2,603.5 L458.7,603.6 L459.2,603.6 L459.7,603.6 L460.1,603.7 L460.6,603.8 L461.1,603.8 L461.6,603.8 L462.1,603.9 L462.6,604.0 L463.1,604.0 L463.6,604.0 L464.1,604.0 L464.6,604.0 L465.1,604.0 L465.6,604.0 L466.1,604.0 L466.6,604.1 L467.1,604.1 L467.6,604.1 L468.1,604.1 L468.6,604.1 L469.1,604.1 L469.6,604.1 L470.1,604.2 L470.6,604.2 L471.1,604.3 L471.6,604.3 L472.1,604.3 L472.6,604.4 L473.1,604.4 L473.6,604.5 L474.1,604.5 L474.6,604.6 L475.1,604.7 L475.6,604.7 L476.1,604.7 L476.6,604.7 L477.0,604.7 L477.5,604.8 L478.0,604.8 L478.5,604.9 L479.0,604.9 L479.5,605.0 L480.0,605.0 L480.5,605.0 L481.0,605.1 L481.5,605.1 L482.0,605.1 L482.5,605.1 L483.0,605.1 L483.5,605.2 L484.0,605.2 L484.5,605.2 L485.0,605.2 L485.5,605.2 L486.0,605.2 L486.5,605.2 L487.0,605.2 L487.5,605.2 L488.0,605.2 L488.5,605.2 L489.0,605.2 L489.5,605.2 L490.0,605.1 L490.5,605.1 L491.0,605.1 L491.5,605.0 L492.0,605.0 L492.5,604.9 L493.0,604.8 L493.5,604.8 L493.9,604.7 L494.4,604.7 L494.9,604.7 L495.4,604.6 L495.9,604.6 L496.4,604.6 L496.9,604.6 L497.4,604.6 L497.9,604.6 L498.4,604.6 L498.9,604.6 L499.4,604.7 L499.9,604.7 L500.4,604.7 L500.9,604.7 L501.4,604.7 L501.9,604.8 L502.4,604.8 L502.9,604.9 L503.4,604.9 L503.9,604.9 L504.4,604.9 L504.9,604.9 L505.4,604.9 L505.9,604.9 L506.4,604.8 L506.9,604.7 L507.4,604.7 L507.9,604.6 L508.4,604.5 L508.9,604.4 L509.4,604.3 L509.9,604.2 L510.4,604.2 L510.8,604.1 L511.3,604.1 L511.8,604.1 L512.3,604.1 L512.8,604.0 L513.3,604.0 L513.8,604.0 L514.3,604.0 L514.8,604.1 L515.3,604.1 L515.8,604.1 L516.3,604.2 L516.8,604.2 L517.3,604.3 L517.8,604.3 L518.3,604.3 L518.8,604.4 L519.3,604.4 L519.8,604.5 L520.3,604.5 L520.8,604.6 L521.3,604.6 L521.8,604.6 L522.3,604.6 L522.8,604.6 L523.3,604.6 L523.8,604.6 L524.3,604.6 L524.8,604.6 L525.3,604.6 L525.8,604.6 L526.3,604.5 L526.8,604.4 L527.2,604.4 L527.7,604.3 L528.2,604.3 L528.7,604.2 L529.2,604.1 L529.7,604.0 L530.2,604.0 L530.7,603.9 L531.2,603.9 L531.7,603.8 L532.2,603.8 L532.7,603.8 L533.2,603.8 L533.7,603.8 L534.2,603.8 L534.7,603.8 L535.2,603.7 L535.7,603.7 L536.2,603.7 L536.7,603.6 L537.2,603.6 L537.7,603.6 L538.2,603.5 L538.7,603.4 L539.2,603.4 L539.7,603.3 L540.2,603.2 L540.7,603.0 L541.2,602.9 L541.7,602.7 L542.2,602.6 L542.7,602.3 L543.2,602.1 L543.7,601.9 L544.1,601.8 L544.6,601.6 L545.1,601.5 L545.6,601.5 L546.1,601.4 L546.6,601.4 L547.1,601.3 L547.6,601.3 L548.1,601.3 L548.6,601.3 L549.1,601.2 L549.6,601.2 L550.1,601.2 L550.6,601.2 L551.1,601.2 L551.6,601.2 L552.1,601.2 L552.6,601.3 L553.1,601.3 L553.6,601.3 L554.1,601.3 L554.6,601.3 L555.1,601.3 L555.6,601.3 L556.1,601.3 L556.6,601.2 L557.1,601.2 L557.6,601.2 L558.1,601.2 L558.6,601.2 L559.1,601.2 L559.6,601.2 L560.1,601.1 L560.6,601.1 L561.0,601.0 L561.5,600.9 L562.0,600.8 L562.5,600.7 L563.0,600.5 L563.5,600.4 L564.0,600.3 L564.5,600.2 L565.0,600.1 L565.5,600.0 L566.0,599.9 L566.5,599.7 L567.0,599.6 L567.5,599.5 L568.0,599.5 L568.5,599.5 L569.0,599.4 L569.5,599.4 L570.0,599.5 L570.5,599.5 L571.0,599.6 L571.5,599.7 L572.0,599.7 L572.5,599.8 L573.0,599.9 L573.5,600.0 L574.0,600.1 L574.5,600.2 L575.0,600.3 L575.5,600.4 L576.0,600.5 L576.5,600.6 L577.0,600.6 L577.5,600.7 L577.9,600.7 L578.4,600.7 L578.9,600.7 L579.4,600.7 L579.9,600.7 L580.4,600.6 L580.9,600.6 L581.4,600.6 L581.9,600.5 L582.4,600.5 L582.9,600.6 L583.4,600.6 L583.9,600.6 L584.4,600.6 L584.9,600.6 L585.4,600.6 L585.9,600.6 L586.4,600.6 L586.9,600.6 L587.4,600.6 L587.9,600.6 L588.4,600.7 L588.9,600.7 L589.4,600.7 L589.9,600.7 L590.4,600.7 L590.9,600.6 L591.4,600.6 L591.9,600.5 L592.4,600.4 L592.9,600.3 L593.4,600.2 L593.9,600.0 L594.4,599.9 L594.8,599.8 L595.3,599.7 L595.8,599.6 L596.3,599.6 L596.8,599.5 L597.3,599.5 L597.8,599.4 L598.3,599.3 L598.8,599.3 L599.3,599.3 L599.8,599.3 L600.3,599.4 L600.8,599.5 L601.3,599.6 L601.8,599.8 L602.3,600.0 L602.8,600.2 L603.3,600.4 L603.8,600.6 L604.3,600.9 L604.8,601.1 L605.3,601.4 L605.8,601.6 L606.3,601.9 L606.8,602.1 L607.3,602.3 L607.8,602.5 L608.3,602.8 L608.8,603.0 L609.3,603.2 L609.8,603.4 L610.3,603.6 L610.8,603.7 L611.3,603.8 L611.7,603.9 L612.2,603.9 L612.7,603.9 L613.2,603.9 L613.7,603.9 L614.2,603.9 L614.7,603.8 L615.2,603.8 L615.7,603.7 L616.2,603.6 L616.7,603.6 L617.2,603.5 L617.7,603.3 L618.2,603.2 L618.7,603.1 L619.2,602.9 L619.7,602.7 L620.2,602.6 L620.7,602.4 L621.2,602.2 L621.7,602.0 L622.2,601.8 L622.7,601.7 L623.2,601.6 L623.7,601.4 L624.2,601.3 L624.7,601.2 L625.2,601.1 L625.7,601.0 L626.2,600.9 L626.7,600.8 L627.2,600.7 L627.7,600.7 L628.2,600.6 L628.6,600.6 L629.1,600.6 L629.6,600.5 L630.1,600.5 L630.6,600.5 L631.1,600.5 L631.6,600.6 L632.1,600.7 L632.6,600.7 L633.1,600.8 L633.6,600.8 L634.1,600.8 L634.6,600.9 L635.1,601.0 L635.6,601.1 L636.1,601.2 L636.6,601.2 L637.1,601.3 L637.6,601.5 L638.1,601.6 L638.6,601.7 L639.1,601.8 L639.6,602.0 L640.1,602.0 L640.6,602.1 L641.1,602.2 L641.6,602.2 L642.1,602.3 L642.6,602.3 L643.1,602.4 L643.6,602.4 L644.1,602.5 L644.6,602.4 L645.0,602.4 L645.0,617.5 L644.6,617.5 L644.1,617.5 L643.6,617.5 L643.1,617.5 L642.6,617.4 L642.1,617.4 L641.6,617.3 L641.1,617.3 L640.6,617.2 L640.1,617.1 L639.6,617.0 L639.1,616.9 L638.6,616.8 L638.1,616.7 L637.6,616.6 L637.1,616.4 L636.6,616.3 L636.1,616.2 L635.6,616.1 L635.1,616.1 L634.6,616.0 L634.1,615.9 L633.6,615.9 L633.1,615.9 L632.6,615.8 L632.1,615.7 L631.6,615.7 L631.1,615.6 L630.6,615.6 L630.1,615.6 L629.6,615.6 L629.1,615.6 L628.6,615.7 L628.2,615.7 L627.7,615.8 L627.2,615.8 L626.7,615.9 L626.2,616.0 L625.7,616.1 L625.2,616.2 L624.7,616.3 L624.2,616.4 L623.7,616.5 L623.2,616.6 L622.7,616.8 L622.2,616.9 L621.7,617.1 L621.2,617.3 L620.7,617.4 L620.2,617.6 L619.7,617.8 L619.2,618.0 L618.7,618.2 L618.2,618.3 L617.7,618.4 L617.2,618.5 L616.7,618.6 L616.2,618.7 L615.7,618.8 L615.2,618.9 L614.7,618.9 L614.2,619.0 L613.7,619.0 L613.2,619.0 L612.7,619.0 L612.2,619.0 L611.7,619.0 L611.3,618.9 L610.8,618.8 L610.3,618.6 L609.8,618.5 L609.3,618.3 L608.8,618.1 L608.3,617.9 L607.8,617.6 L607.3,617.4 L606.8,617.2 L606.3,617.0 L605.8,616.7 L605.3,616.4 L604.8,616.2 L604.3,615.9 L603.8,615.7 L603.3,615.5 L602.8,615.3 L602.3,615.1 L601.8,614.9 L601.3,614.7 L600.8,614.6 L600.3,614.5 L599.8,614.4 L599.3,614.4 L598.8,614.4 L598.3,614.4 L597.8,614.5 L597.3,614.5 L596.8,614.6 L596.3,614.7 L595.8,614.7 L595.3,614.8 L594.8,614.9 L594.4,615.0 L593.9,615.1 L593.4,615.2 L592.9,615.4 L592.4,615.5 L591.9,615.6 L591.4,615.7 L590.9,615.7 L590.4,615.7 L589.9,615.8 L589.4,615.8 L588.9,615.8 L588.4,615.8 L587.9,615.7 L587.4,615.7 L586.9,615.7 L586.4,615.7 L585.9,615.7 L585.4,615.7 L584.9,615.7 L584.4,615.7 L583.9,615.7 L583.4,615.7 L582.9,615.6 L582.4,615.6 L581.9,615.6 L581.4,615.6 L580.9,615.7 L580.4,615.7 L579.9,615.8 L579.4,615.8 L578.9,615.8 L578.4,615.8 L577.9,615.8 L577.5,615.8 L577.0,615.7 L576.5,615.6 L576.0,615.5 L575.5,615.4 L575.0,615.4 L574.5,615.3 L574.0,615.2 L573.5,615.0 L573.0,614.9 L572.5,614.9 L572.0,614.8 L571.5,614.7 L571.0,614.7 L570.5,614.6 L570.0,614.5 L569.5,614.5 L569.0,614.5 L568.5,614.5 L568.0,614.6 L567.5,614.6 L567.0,614.7 L566.5,614.8 L566.0,614.9 L565.5,615.0 L565.0,615.1 L564.5,615.3 L564.0,615.4 L563.5,615.5 L563.0,615.6 L562.5,615.7 L562.0,615.8 L561.5,615.9 L561.0,616.1 L560.6,616.2 L560.1,616.2 L559.6,616.3 L559.1,616.3 L558.6,616.3 L558.1,616.3 L557.6,616.3 L557.1,616.3 L556.6,616.3 L556.1,616.3 L555.6,616.4 L555.1,616.4 L554.6,616.4 L554.1,616.4 L553.6,616.4 L553.1,616.4 L552.6,616.3 L552.1,616.3 L551.6,616.3 L551.1,616.2 L550.6,616.3 L550.1,616.3 L549.6,616.3 L549.1,616.3 L548.6,616.4 L548.1,616.4 L547.6,616.4 L547.1,616.4 L546.6,616.5 L546.1,616.5 L545.6,616.5 L545.1,616.6 L544.6,616.7 L544.1,616.9 L543.7,617.0 L543.2,617.2 L542.7,617.4 L542.2,617.6 L541.7,617.8 L541.2,618.0 L540.7,618.1 L540.2,618.2 L539.7,618.3 L539.2,618.5 L538.7,618.5 L538.2,618.6 L537.7,618.6 L537.2,618.7 L536.7,618.7 L536.2,618.8 L535.7,618.8 L535.2,618.8 L534.7,618.8 L534.2,618.9 L533.7,618.9 L533.2,618.9 L532.7,618.9 L532.2,618.9 L531.7,618.9 L531.2,619.0 L530.7,619.0 L530.2,619.0 L529.7,619.1 L529.2,619.2 L528.7,619.3 L528.2,619.3 L527.7,619.4 L527.2,619.5 L526.8,619.5 L526.3,619.6 L525.8,619.6 L525.3,619.7 L524.8,619.7 L524.3,619.7 L523.8,619.7 L523.3,619.7 L522.8,619.7 L522.3,619.7 L521.8,619.7 L521.3,619.7 L520.8,619.6 L520.3,619.6 L519.8,619.6 L519.3,619.5 L518.8,619.5 L518.3,619.4 L517.8,619.4 L517.3,619.3 L516.8,619.3 L516.3,619.2 L515.8,619.2 L515.3,619.2 L514.8,619.1 L514.3,619.1 L513.8,619.1 L513.3,619.1 L512.8,619.1 L512.3,619.1 L511.8,619.2 L511.3,619.2 L510.8,619.2 L510.4,619.3 L509.9,619.3 L509.4,619.4 L508.9,619.5 L508.4,619.6 L507.9,619.7 L507.4,619.7 L506.9,619.8 L506.4,619.9 L505.9,619.9 L505.4,620.0 L504.9,620.0 L504.4,620.0 L503.9,620.0 L503.4,620.0 L502.9,619.9 L502.4,619.9 L501.9,619.9 L501.4,619.8 L500.9,619.8 L500.4,619.8 L499.9,619.8 L499.4,619.8 L498.9,619.7 L498.4,619.7 L497.9,619.7 L497.4,619.7 L496.9,619.7 L496.4,619.7 L495.9,619.7 L495.4,619.7 L494.9,619.7 L494.4,619.8 L493.9,619.8 L493.5,619.8 L493.0,619.9 L492.5,620.0 L492.0,620.0 L491.5,620.1 L491.0,620.2 L490.5,620.2 L490.0,620.2 L489.5,620.3 L489.0,620.3 L488.5,620.3 L488.0,620.3 L487.5,620.3 L487.0,620.3 L486.5,620.3 L486.0,620.3 L485.5,620.2 L485.0,620.2 L484.5,620.2 L484.0,620.2 L483.5,620.2 L483.0,620.2 L482.5,620.2 L482.0,620.2 L481.5,620.2 L481.0,620.1 L480.5,620.1 L480.0,620.1 L479.5,620.1 L479.0,620.0 L478.5,620.0 L478.0,619.9 L477.5,619.9 L477.0,619.8 L476.6,619.8 L476.1,619.8 L475.6,619.8 L475.1,619.7 L474.6,619.7 L474.1,619.6 L473.6,619.6 L473.1,619.5 L472.6,619.5 L472.1,619.4 L471.6,619.4 L471.1,619.4 L470.6,619.3 L470.1,619.3 L469.6,619.2 L469.1,619.2 L468.6,619.2 L468.1,619.2 L467.6,619.2 L467.1,619.2 L466.6,619.2 L466.1,619.1 L465.6,619.1 L465.1,619.1 L464.6,619.1 L464.1,619.1 L463.6,619.1 L463.1,619.1 L462.6,619.0 L462.1,619.0 L461.6,618.9 L461.1,618.9 L460.6,618.8 L460.1,618.8 L459.7,618.7 L459.2,618.7 L458.7,618.6 L458.2,618.6 L457.7,618.6 L457.2,618.6 L456.7,618.6 L456.2,618.7 L455.7,618.7 L455.2,618.8 L454.7,618.8 L454.2,618.9 L453.7,619.0 L453.2,619.1 L452.7,619.1 L452.2,619.3 L451.7,619.4 L451.2,619.5 L450.7,619.6 L450.2,619.8 L449.7,619.9 L449.2,620.1 L448.7,620.2 L448.2,620.4 L447.7,620.5 L447.2,620.7 L446.7,620.7 L446.2,620.8 L445.7,620.8 L445.2,620.8 L444.7,620.9 L444.2,620.9 L443.7,620.8 L443.2,620.8 L442.8,620.8 L442.3,620.8 L441.8,620.8 L441.3,620.8 L440.8,620.7 L440.3,620.7 L439.8,620.7 L439.3,620.6 L438.8,620.5 L438.3,620.5 L437.8,620.4 L437.3,620.3 L436.8,620.3 L436.3,620.3 L435.8,620.3 L435.3,620.3 L434.8,620.4 L434.3,620.3 L433.8,620.3 L433.3,620.3 L432.8,620.2 L432.3,620.2 L431.8,620.1 L431.3,620.1 L430.8,620.0 L430.3,620.0 L429.8,619.9 L429.3,619.9 L428.8,619.9 L428.3,619.9 L427.8,619.9 L427.3,619.9 L426.8,619.9 L426.3,619.9 L425.9,619.9 L425.4,619.9 L424.9,620.0 L424.4,620.0 L423.9,620.1 L423.4,620.3 L422.9,620.3 L422.4,620.5 L421.9,620.6 L421.4,620.7 L420.9,620.8 L420.4,620.9 L419.9,621.0 L419.4,621.1 L418.9,621.2 L418.4,621.3 L417.9,621.4 L417.4,621.5 L416.9,621.5 L416.4,621.6 L415.9,621.7 L415.4,621.8 L414.9,621.8 L414.4,621.8 L413.9,621.8 L413.4,621.9 L412.9,621.9 L412.4,622.0 L411.9,622.1 L411.4,622.2 L410.9,622.2 L410.4,622.3 L409.9,622.4 L409.4,622.4 L409.0,622.5 L408.5,622.5 L408.0,622.7 L407.5,622.7 L407.0,622.8 L406.5,622.9 L406.0,623.0 L405.5,623.1 L405.0,623.2 L404.5,623.4 L404.0,623.5 L403.5,623.7 L403.0,623.8 L402.5,623.8 L402.0,623.9 L401.5,624.0 L401.0,624.0 L400.5,624.1 L400.0,624.2 L399.5,624.3 L399.0,624.3 L398.5,624.4 L398.0,624.5 L397.5,624.5 L397.0,624.6 L396.5,624.6 L396.0,624.7 L395.5,624.7 L395.0,624.7 L394.5,624.8 L394.0,624.8 L393.5,624.8 L393.0,624.8 L392.6,624.8 L392.1,624.8 L391.6,624.8 L391.1,624.8 L390.6,624.8 L390.1,624.7 L389.6,624.7 L389.1,624.7 L388.6,624.7 L388.1,624.7 L387.6,624.7 L387.1,624.7 L386.6,624.7 L386.1,624.7 L385.6,624.7 L385.1,624.7 L384.6,624.7 L384.1,624.8 L383.6,624.8 L383.1,624.8 L382.6,624.8 L382.1,624.9 L381.6,625.0 L381.1,625.0 L380.6,625.0 L380.1,625.1 L379.6,625.1 L379.1,625.1 L378.6,625.2 L378.1,625.2 L377.6,625.3 L377.1,625.3 L376.6,625.3 L376.1,625.4 L375.7,625.4 L375.2,625.4 L374.7,625.4 L374.2,625.5 L373.7,625.5 L373.2,625.6 L372.7,625.6 L372.2,625.6 L371.7,625.5 L371.2,625.5 L370.7,625.5 L370.2,625.5 L369.7,625.5 L369.2,625.5 L368.7,625.4 L368.2,625.4 L367.7,625.3 L367.2,625.2 L366.7,625.2 L366.2,625.1 L365.7,625.1 L365.2,625.0 L364.7,624.9 L364.2,624.9 L363.7,624.8 L363.2,624.7 L362.7,624.6 L362.2,624.4 L361.7,624.4 L361.2,624.2 L360.7,624.1 L360.2,624.0 L359.7,623.9 L359.2,623.8 L358.8,623.7 L358.3,623.6 L357.8,623.6 L357.3,623.5 L356.8,623.5 L356.3,623.4 L355.8,623.3 L355.3,623.3 L354.8,623.2 L354.3,623.2 L353.8,623.1 L353.3,623.1 L352.8,623.1 L352.3,623.1 L351.8,623.0 L351.3,623.1 L350.8,623.1 L350.3,623.1 L349.8,623.2 L349.3,623.2 L348.8,623.3 L348.3,623.3 L347.8,623.3 L347.3,623.3 L346.8,623.3 L346.3,623.2 L345.8,623.2 L345.3,623.2 L344.8,623.1 L344.3,623.1 L343.8,623.1 L343.3,623.0 L342.8,623.0 L342.3,622.9 L341.9,622.9 L341.4,622.9 L340.9,622.9 L340.4,622.8 L339.9,622.8 L339.4,622.7 L338.9,622.7 L338.4,622.7 L337.9,622.6 L337.4,622.6 L336.9,622.6 L336.4,622.6 L335.9,622.6 L335.4,622.6 L334.9,622.6 L334.4,622.6 L333.9,622.5 L333.4,622.5 L332.9,622.5 L332.4,622.5 L331.9,622.5 L331.4,622.5 L330.9,622.4 L330.4,622.4 L329.9,622.4 L329.4,622.4 L328.9,622.4 L328.4,622.3 L327.9,622.3 L327.4,622.2 L326.9,622.2 L326.4,622.2 L325.9,622.2 L325.4,622.1 L325.0,622.1 L324.5,622.1 L324.0,622.0 L323.5,621.9 L323.0,621.8 L322.5,621.7 L322.0,621.7 L321.5,621.7 L321.0,621.6 L320.5,621.6 L320.0,621.5 L319.5,621.4 L319.0,621.3 L318.5,621.3 L318.0,621.2 L317.5,621.2 L317.0,621.2 L316.5,621.2 L316.0,621.1 L315.5,621.1 L315.0,621.0 L314.5,621.0 L314.0,621.0 L313.5,621.1 L313.0,621.1 L312.5,621.1 L312.0,621.2 L311.5,621.2 L311.0,621.2 L310.5,621.2 L310.0,621.2 L309.5,621.2 L309.0,621.3 L308.5,621.3 L308.1,621.3 L307.6,621.3 L307.1,621.3 L306.6,621.3 L306.1,621.2 L305.6,621.2 L305.1,621.2 L304.6,621.3 L304.1,621.2 L303.6,621.2 L303.1,621.3 L302.6,621.3 L302.1,621.3 L301.6,621.3 L301.1,621.4 L300.6,621.4 L300.1,621.4 L299.6,621.5 L299.1,621.5 L298.6,621.5 L298.1,621.5 L297.6,621.5 L297.1,621.5 L296.6,621.5 L296.1,621.5 L295.6,621.6 L295.1,621.6 L294.6,621.7 L294.1,621.7 L293.6,621.7 L293.1,621.7 L292.6,621.8 L292.1,621.8 L291.6,621.9 L291.2,622.0 L290.7,622.1 L290.2,622.2 L289.7,622.4 L289.2,622.5 L288.7,622.7 L288.2,622.9 L287.7,623.0 L287.2,623.2 L286.7,623.3 L286.2,623.5 L285.7,623.7 L285.2,623.8 L284.7,623.9 L284.2,624.1 L283.7,624.2 L283.2,624.3 L282.7,624.4 L282.2,624.5 L281.7,624.6 L281.2,624.7 L280.7,624.8 L280.2,624.8 L279.7,624.9 L279.2,624.9 L278.7,625.0 L278.2,625.0 L277.7,625.1 L277.2,625.1 L276.7,625.2 L276.2,625.3 L275.7,625.4 L275.2,625.5 L274.7,625.5 L274.3,625.6 L273.8,625.7 L273.3,625.7 L272.8,625.7 L272.3,625.8 L271.8,625.8 L271.3,625.7 L270.8,625.7 L270.3,625.7 L269.8,625.7 L269.3,625.6 L268.8,625.5 L268.3,625.4 L267.8,625.3 L267.3,625.3 L266.8,625.2 L266.3,625.1 L265.8,624.9 L265.3,624.7 L264.8,624.6 L264.3,624.4 L263.8,624.2 L263.3,624.0 L262.8,623.9 L262.3,623.7 L261.8,623.6 L261.3,623.4 L260.8,623.3 L260.3,623.2 L259.8,623.1 L259.3,623.0 L258.8,622.9 L258.3,622.8 L257.9,622.7 L257.4,622.6 L256.9,622.5 L256.4,622.4 L255.9,622.3 L255.4,622.3 L254.9,622.3 L254.4,622.3 L253.9,622.4 L253.4,622.4 L252.9,622.5 L252.4,622.5 L251.9,622.6 L251.4,622.6 L250.9,622.6 L250.4,622.7 L249.9,622.7 L249.4,622.7 L248.9,622.7 L248.4,622.7 L247.9,622.7 L247.4,622.7 L246.9,622.7 L246.4,622.6 L245.9,622.6 L245.4,622.5 L244.9,622.5 L244.4,622.4 L243.9,622.3 L243.4,622.2 L242.9,622.1 L242.4,622.0 L241.9,621.9 L241.4,621.8 L241.0,621.7 L240.5,621.6 L240.0,621.5 L239.5,621.4 L239.0,621.3 L238.5,621.2 L238.0,621.1 L237.5,621.1 L237.0,621.0 L236.5,621.0 L236.0,620.9 L235.5,620.8 L235.0,620.7 L234.5,620.7 L234.0,620.6 L233.5,620.6 L233.0,620.6 L232.5,620.6 L232.0,620.5 L231.5,620.5 L231.0,620.6 L230.5,620.6 L230.0,620.7 L229.5,620.8 L229.0,620.8 L228.5,620.9 L228.0,620.9 L227.5,621.0 L227.0,621.1 L226.5,621.1 L226.0,621.2 L225.5,621.2 L225.0,621.3 L224.5,621.4 L224.1,621.4 L223.6,621.4 L223.1,621.4 L222.6,621.4 L222.1,621.4 L221.6,621.3 L221.1,621.3 L220.6,621.2 L220.1,621.2 L219.6,621.1 L219.1,621.1 L218.6,621.0 L218.1,620.9 L217.6,620.8 L217.1,620.7 L216.6,620.6 L216.1,620.5 L215.6,620.4 L215.1,620.3 L214.6,620.3 L214.1,620.2 L213.6,620.2 L213.1,620.1 L212.6,620.1 L212.1,620.0 L211.6,620.0 L211.1,619.9 L210.6,619.9 L210.1,619.8 L209.6,619.7 L209.1,619.6 L208.6,619.5 L208.1,619.5 L207.6,619.5 L207.2,619.5 L206.7,619.5 L206.2,619.5 L205.7,619.5 L205.2,619.4 L204.7,619.4 L204.2,619.3 L203.7,619.3 L203.2,619.3 L202.7,619.2 L202.2,619.2 L201.7,619.1 L201.2,619.1 L200.7,619.0 L200.2,618.9 L199.7,618.9 L199.2,618.9 L198.7,618.8 L198.2,618.7 L197.7,618.6 L197.2,618.5 L196.7,618.5 L196.2,618.4 L195.7,618.3 L195.2,618.2 L194.7,618.1 L194.2,618.1 L193.7,618.0 L193.2,617.9 L192.7,617.8 L192.2,617.7 L191.7,617.6 L191.2,617.5 L190.7,617.4 L190.3,617.3 L189.8,617.2 L189.3,617.1 L188.8,617.0 L188.3,616.9 L187.8,616.9 L187.3,616.8 L186.8,616.7 L186.3,616.6 L185.8,616.6 L185.3,616.5 L184.8,616.5 L184.3,616.4 L183.8,616.4 L183.3,616.3 L182.8,616.2 L182.3,616.2 L181.8,616.1 L181.3,616.0 L180.8,615.9 L180.3,615.8 L179.8,615.6 L179.3,615.5 L178.8,615.4 L178.3,615.2 L177.8,615.1 L177.3,614.9 L176.8,614.8 L176.3,614.7 L175.8,614.5 L175.3,614.3 L174.8,614.1 L174.3,613.9 L173.8,613.8 L173.4,613.6 L172.9,613.4 L172.4,613.2 L171.9,613.0 L171.4,612.8 L170.9,612.5 L170.4,612.3 L169.9,612.1 L169.4,611.8 L168.9,611.4 L168.4,611.0 L167.9,610.3 L167.4,609.5 L166.9,608.7 L166.4,607.9 L165.9,607.0 L165.4,606.1 L164.9,605.1 L164.4,604.0 L163.9,602.9 L163.4,601.8 L162.9,600.6 L162.4,599.3 L161.9,598.0 L161.4,596.6 L160.9,595.4 L160.4,594.2 L159.9,593.2 L159.4,592.4 L158.9,591.7 L158.4,591.1 L157.9,590.6 L157.4,590.1 L156.9,589.5 L156.5,589.0 L156.0,588.7 L155.5,588.9 L155.0,589.6 L154.5,590.8 L154.0,592.1 L153.5,593.8 L153.0,596.2 L152.5,599.0 L152.0,602.0 L151.5,605.6 L151.0,610.4 L150.5,617.8 L150.0,629.2 L149.5,651.9 L149.0,675.8 L148.5,697.3 Z" fill="#0000ff" fill-opacity="0.3" stroke="#0000ff" stroke-opacity="0.3" stroke-width="3.6" stroke-linejoin="round"/><path d="M148.5,697.3 L149.0,675.6 L149.5,651.6 L150.0,628.7 L150.5,617.0 L151.0,609.4 L151.5,604.4 L152.0,600.7 L152.5,597.5 L153.0,594.5 L153.5,592.0 L154.0,590.0 L154.5,588.5 L155.0,587.2 L155.5,586.2 L156.0,585.8 L156.5,586.0 L156.9,586.3 L157.4,586.7 L157.9,587.0 L158.4,587.4 L158.9,587.8 L159.4,588.2 L159.9,588.8 L160.4,589.7 L160.9,590.6 L161.4,591.7 L161.9,592.9 L162.4,594.0 L162.9,595.1 L163.4,596.1 L163.9,597.1 L164.4,598.0 L164.9,598.8 L165.4,599.7 L165.9,600.4 L166.4,601.1 L166.9,601.8 L167.4,602.4 L167.9,602.9 L168.4,603.4 L168.9,603.9 L169.4,604.2 L169.9,604.5 L170.4,604.8 L170.9,605.0 L171.4,605.2 L171.9,605.4 L172.4,605.6 L172.9,605.8 L173.4,606.0 L173.8,606.2 L174.3,606.4 L174.8,606.6 L175.3,606.8 L175.8,606.9 L176.3,607.1 L176.8,607.3 L177.3,607.4 L177.8,607.5 L178.3,607.7 L178.8,607.8 L179.3,608.0 L179.8,608.1 L180.3,608.2 L180.8,608.4 L181.3,608.4 L181.8,608.5 L182.3,608.6 L182.8,608.7 L183.3,608.7 L183.8,608.8 L184.3,608.9 L184.8,608.9 L185.3,609.0 L185.8,609.0 L186.3,609.1 L186.8,609.1 L187.3,609.2 L187.8,609.3 L188.3,609.4 L188.8,609.4 L189.3,609.5 L189.8,609.6 L190.3,609.7 L190.7,609.8 L191.2,609.9 L191.7,610.0 L192.2,610.1 L192.7,610.2 L193.2,610.3 L193.7,610.4 L194.2,610.5 L194.7,610.6 L195.2,610.7 L195.7,610.8 L196.2,610.9 L196.7,611.0 L197.2,611.0 L197.7,611.1 L198.2,611.2 L198.7,611.3 L199.2,611.3 L199.7,611.4 L200.2,611.4 L200.7,611.5 L201.2,611.5 L201.7,611.6 L202.2,611.6 L202.7,611.7 L203.2,611.7 L203.7,611.7 L204.2,611.8 L204.7,611.8 L205.2,611.9 L205.7,611.9 L206.2,611.9 L206.7,611.9 L207.2,612.0 L207.6,612.0 L208.1,612.0 L208.6,612.0 L209.1,612.1 L209.6,612.1 L210.1,612.2 L210.6,612.3 L211.1,612.4 L211.6,612.4 L212.1,612.5 L212.6,612.5 L213.1,612.6 L213.6,612.6 L214.1,612.7 L214.6,612.7 L215.1,612.8 L215.6,612.9 L216.1,613.0 L216.6,613.1 L217.1,613.2 L217.6,613.3 L218.1,613.4 L218.6,613.5 L219.1,613.5 L219.6,613.6 L220.1,613.6 L220.6,613.7 L221.1,613.7 L221.6,613.8 L222.1,613.8 L222.6,613.8 L223.1,613.9 L223.6,613.9 L224.1,613.8 L224.5,613.8 L225.0,613.8 L225.5,613.7 L226.0,613.6 L226.5,613.6 L227.0,613.5 L227.5,613.5 L228.0,613.4 L228.5,613.3 L229.0,613.3 L229.5,613.2 L230.0,613.2 L230.5,613.1 L231.0,613.0 L231.5,613.0 L232.0,613.0 L232.5,613.0 L233.0,613.0 L233.5,613.1 L234.0,613.1 L234.5,613.2 L235.0,613.2 L235.5,613.3 L236.0,613.3 L236.5,613.4 L237.0,613.5 L237.5,613.5 L238.0,613.6 L238.5,613.7 L239.0,613.7 L239.5,613.8 L240.0,613.9 L240.5,614.0 L241.0,614.1 L241.4,614.2 L241.9,614.3 L242.4,614.4 L242.9,614.5 L243.4,614.6 L243.9,614.8 L244.4,614.8 L244.9,614.9 L245.4,615.0 L245.9,615.1 L246.4,615.1 L246.9,615.1 L247.4,615.1 L247.9,615.1 L248.4,615.1 L248.9,615.1 L249.4,615.1 L249.9,615.1 L250.4,615.1 L250.9,615.1 L251.4,615.1 L251.9,615.0 L252.4,615.0 L252.9,614.9 L253.4,614.9 L253.9,614.8 L254.4,614.8 L254.9,614.8 L255.4,614.8 L255.9,614.8 L256.4,614.8 L256.9,614.9 L257.4,615.0 L257.9,615.2 L258.3,615.3 L258.8,615.4 L259.3,615.5 L259.8,615.5 L260.3,615.6 L260.8,615.7 L261.3,615.9 L261.8,616.0 L262.3,616.2 L262.8,616.3 L263.3,616.5 L263.8,616.7 L264.3,616.9 L264.8,617.0 L265.3,617.2 L265.8,617.4 L266.3,617.5 L266.8,617.6 L267.3,617.7 L267.8,617.8 L268.3,617.9 L268.8,618.0 L269.3,618.0 L269.8,618.1 L270.3,618.2 L270.8,618.2 L271.3,618.2 L271.8,618.2 L272.3,618.2 L272.8,618.2 L273.3,618.2 L273.8,618.1 L274.3,618.1 L274.7,618.0 L275.2,617.9 L275.7,617.8 L276.2,617.8 L276.7,617.7 L277.2,617.6 L277.7,617.5 L278.2,617.5 L278.7,617.4 L279.2,617.4 L279.7,617.3 L280.2,617.3 L280.7,617.2 L281.2,617.2 L281.7,617.1 L282.2,617.0 L282.7,616.9 L283.2,616.8 L283.7,616.7 L284.2,616.5 L284.7,616.4 L285.2,616.3 L285.7,616.1 L286.2,616.0 L286.7,615.8 L287.2,615.6 L287.7,615.5 L288.2,615.3 L288.7,615.2 L289.2,615.0 L289.7,614.8 L290.2,614.7 L290.7,614.5 L291.2,614.4 L291.6,614.3 L292.1,614.3 L292.6,614.2 L293.1,614.2 L293.6,614.2 L294.1,614.2 L294.6,614.1 L295.1,614.1 L295.6,614.0 L296.1,614.0 L296.6,613.9 L297.1,613.9 L297.6,613.9 L298.1,613.9 L298.6,613.9 L299.1,613.9 L299.6,613.9 L300.1,613.9 L300.6,613.9 L301.1,613.8 L301.6,613.8 L302.1,613.8 L302.6,613.7 L303.1,613.7 L303.6,613.7 L304.1,613.7 L304.6,613.7 L305.1,613.7 L305.6,613.7 L306.1,613.7 L306.6,613.7 L307.1,613.7 L307.6,613.7 L308.1,613.7 L308.5,613.7 L309.0,613.7 L309.5,613.7 L310.0,613.7 L310.5,613.7 L311.0,613.7 L311.5,613.7 L312.0,613.6 L312.5,613.6 L313.0,613.6 L313.5,613.5 L314.0,613.5 L314.5,613.5 L315.0,613.5 L315.5,613.6 L316.0,613.6 L316.5,613.6 L317.0,613.7 L317.5,613.7 L318.0,613.7 L318.5,613.7 L319.0,613.8 L319.5,613.8 L320.0,613.9 L320.5,614.0 L321.0,614.1 L321.5,614.1 L322.0,614.2 L322.5,614.2 L323.0,614.3 L323.5,614.4 L324.0,614.5 L324.5,614.5 L325.0,614.6 L325.4,614.6 L325.9,614.6 L326.4,614.6 L326.9,614.7 L327.4,614.7 L327.9,614.7 L328.4,614.8 L328.9,614.8 L329.4,614.8 L329.9,614.8 L330.4,614.8 L330.9,614.9 L331.4,614.9 L331.9,615.0 L332.4,615.0 L332.9,615.0 L333.4,615.0 L333.9,615.0 L334.4,615.0 L334.9,615.0 L335.4,615.1 L335.9,615.0 L336.4,615.1 L336.9,615.1 L337.4,615.1 L337.9,615.1 L338.4,615.1 L338.9,615.2 L339.4,615.2 L339.9,615.2 L340.4,615.3 L340.9,615.3 L341.4,615.4 L341.9,615.4 L342.3,615.4 L342.8,615.4 L343.3,615.5 L343.8,615.5 L344.3,615.5 L344.8,615.6 L345.3,615.6 L345.8,615.7 L346.3,615.7 L346.8,615.7 L347.3,615.7 L347.8,615.8 L348.3,615.7 L348.8,615.7 L349.3,615.7 L349.8,615.6 L350.3,615.6 L350.8,615.5 L351.3,615.5 L351.8,615.5 L352.3,615.5 L352.8,615.5 L353.3,615.6 L353.8,615.6 L354.3,615.6 L354.8,615.7 L355.3,615.7 L355.8,615.8 L356.3,615.8 L356.8,615.9 L357.3,615.9 L357.8,616.0 L358.3,616.1 L358.8,616.2 L359.2,616.3 L359.7,616.4 L360.2,616.5 L360.7,616.6 L361.2,616.7 L361.7,616.8 L362.2,616.9 L362.7,617.0 L363.2,617.1 L363.7,617.2 L364.2,617.3 L364.7,617.4 L365.2,617.5 L365.7,617.6 L366.2,617.6 L366.7,617.6 L367.2,617.7 L367.7,617.7 L368.2,617.8 L368.7,617.9 L369.2,617.9 L369.7,618.0 L370.2,618.0 L370.7,618.0 L371.2,618.0 L371.7,618.0 L372.2,618.0 L372.7,618.0 L373.2,618.0 L373.7,618.0 L374.2,617.9 L374.7,617.9 L375.2,617.9 L375.7,617.8 L376.1,617.8 L376.6,617.8 L377.1,617.8 L377.6,617.7 L378.1,617.7 L378.6,617.6 L379.1,617.6 L379.6,617.5 L380.1,617.5 L380.6,617.5 L381.1,617.5 L381.6,617.4 L382.1,617.4 L382.6,617.3 L383.1,617.2 L383.6,617.2 L384.1,617.2 L384.6,617.2 L385.1,617.2 L385.6,617.2 L386.1,617.2 L386.6,617.2 L387.1,617.2 L387.6,617.2 L388.1,617.2 L388.6,617.2 L389.1,617.2 L389.6,617.2 L390.1,617.2 L390.6,617.2 L391.1,617.2 L391.6,617.2 L392.1,617.2 L392.6,617.2 L393.0,617.2 L393.5,617.2 L394.0,617.2 L394.5,617.2 L395.0,617.2 L395.5,617.2 L396.0,617.1 L396.5,617.1 L397.0,617.1 L397.5,617.0 L398.0,616.9 L398.5,616.8 L399.0,616.8 L399.5,616.7 L400.0,616.7 L400.5,616.6 L401.0,616.5 L401.5,616.4 L402.0,616.4 L402.5,616.3 L403.0,616.2 L403.5,616.1 L404.0,616.0 L404.5,615.8 L405.0,615.7 L405.5,615.6 L406.0,615.5 L406.5,615.4 L407.0,615.3 L407.5,615.2 L408.0,615.1 L408.5,615.0 L409.0,614.9 L409.4,614.9 L409.9,614.8 L410.4,614.7 L410.9,614.7 L411.4,614.6 L411.9,614.5 L412.4,614.4 L412.9,614.4 L413.4,614.3 L413.9,614.3 L414.4,614.3 L414.9,614.3 L415.4,614.2 L415.9,614.1 L416.4,614.1 L416.9,614.0 L417.4,613.9 L417.9,613.9 L418.4,613.8 L418.9,613.7 L419.4,613.6 L419.9,613.5 L420.4,613.4 L420.9,613.2 L421.4,613.1 L421.9,613.0 L422.4,612.9 L422.9,612.8 L423.4,612.7 L423.9,612.6 L424.4,612.5 L424.9,612.4 L425.4,612.4 L425.9,612.4 L426.3,612.4 L426.8,612.4 L427.3,612.4 L427.8,612.4 L428.3,612.4 L428.8,612.4 L429.3,612.4 L429.8,612.4 L430.3,612.4 L430.8,612.5 L431.3,612.5 L431.8,612.6 L432.3,612.6 L432.8,612.7 L433.3,612.7 L433.8,612.8 L434.3,612.8 L434.8,612.8 L435.3,612.8 L435.8,612.8 L436.3,612.8 L436.8,612.8 L437.3,612.8 L437.8,612.8 L438.3,612.9 L438.8,613.0 L439.3,613.1 L439.8,613.1 L440.3,613.2 L440.8,613.2 L441.3,613.2 L441.8,613.2 L442.3,613.3 L442.8,613.3 L443.2,613.3 L443.7,613.3 L444.2,613.3 L444.7,613.3 L445.2,613.3 L445.7,613.3 L446.2,613.2 L446.7,613.2 L447.2,613.1 L447.7,613.0 L448.2,612.9 L448.7,612.7 L449.2,612.6 L449.7,612.4 L450.2,612.2 L450.7,612.1 L451.2,612.0 L451.7,611.8 L452.2,611.7 L452.7,611.6 L453.2,611.5 L453.7,611.4 L454.2,611.3 L454.7,611.3 L455.2,611.2 L455.7,611.2 L456.2,611.1 L456.7,611.1 L457.2,611.1 L457.7,611.1 L458.2,611.1 L458.7,611.1 L459.2,611.1 L459.7,611.2 L460.1,611.2 L460.6,611.3 L461.1,611.3 L461.6,611.4 L462.1,611.4 L462.6,611.5 L463.1,611.5 L463.6,611.5 L464.1,611.5 L464.6,611.5 L465.1,611.5 L465.6,611.5 L466.1,611.6 L466.6,611.6 L467.1,611.7 L467.6,611.7 L468.1,611.7 L468.6,611.7 L469.1,611.7 L469.6,611.7 L470.1,611.7 L470.6,611.8 L471.1,611.8 L471.6,611.9 L472.1,611.9 L472.6,611.9 L473.1,612.0 L473.6,612.0 L474.1,612.1 L474.6,612.1 L475.1,612.2 L475.6,612.3 L476.1,612.3 L476.6,612.3 L477.0,612.3 L477.5,612.3 L478.0,612.3 L478.5,612.4 L479.0,612.5 L479.5,612.5 L480.0,612.5 L480.5,612.6 L481.0,612.6 L481.5,612.6 L482.0,612.6 L482.5,612.6 L483.0,612.7 L483.5,612.7 L484.0,612.7 L484.5,612.7 L485.0,612.7 L485.5,612.7 L486.0,612.7 L486.5,612.7 L487.0,612.8 L487.5,612.8 L488.0,612.8 L488.5,612.8 L489.0,612.8 L489.5,612.7 L490.0,612.7 L490.5,612.6 L491.0,612.6 L491.5,612.5 L492.0,612.5 L492.5,612.4 L493.0,612.4 L493.5,612.3 L493.9,612.3 L494.4,612.2 L494.9,612.2 L495.4,612.2 L495.9,612.2 L496.4,612.1 L496.9,612.1 L497.4,612.1 L497.9,612.2 L498.4,612.2 L498.9,612.2 L499.4,612.2 L499.9,612.2 L500.4,612.3 L500.9,612.3 L501.4,612.3 L501.9,612.3 L502.4,612.3 L502.9,612.4 L503.4,612.5 L503.9,612.5 L504.4,612.5 L504.9,612.5 L505.4,612.4 L505.9,612.4 L506.4,612.3 L506.9,612.3 L507.4,612.2 L507.9,612.1 L508.4,612.0 L508.9,611.9 L509.4,611.8 L509.9,611.8 L510.4,611.7 L510.8,611.7 L511.3,611.6 L511.8,611.6 L512.3,611.6 L512.8,611.6 L513.3,611.6 L513.8,611.6 L514.3,611.6 L514.8,611.6 L515.3,611.6 L515.8,611.6 L516.3,611.7 L516.8,611.8 L517.3,611.8 L517.8,611.8 L518.3,611.9 L518.8,611.9 L519.3,612.0 L519.8,612.0 L520.3,612.1 L520.8,612.1 L521.3,612.1 L521.8,612.2 L522.3,612.2 L522.8,612.2 L523.3,612.2 L523.8,612.1 L524.3,612.1 L524.8,612.1 L525.3,612.1 L525.8,612.1 L526.3,612.0 L526.8,612.0 L527.2,611.9 L527.7,611.9 L528.2,611.8 L528.7,611.7 L529.2,611.6 L529.7,611.6 L530.2,611.5 L530.7,611.5 L531.2,611.4 L531.7,611.4 L532.2,611.4 L532.7,611.4 L533.2,611.4 L533.7,611.4 L534.2,611.3 L534.7,611.3 L535.2,611.3 L535.7,611.2 L536.2,611.2 L536.7,611.2 L537.2,611.2 L537.7,611.1 L538.2,611.0 L538.7,611.0 L539.2,610.9 L539.7,610.8 L540.2,610.7 L540.7,610.6 L541.2,610.4 L541.7,610.3 L542.2,610.1 L542.7,609.9 L543.2,609.7 L543.7,609.5 L544.1,609.3 L544.6,609.2 L545.1,609.1 L545.6,609.0 L546.1,609.0 L546.6,608.9 L547.1,608.9 L547.6,608.9 L548.1,608.8 L548.6,608.8 L549.1,608.8 L549.6,608.8 L550.1,608.7 L550.6,608.7 L551.1,608.7 L551.6,608.7 L552.1,608.8 L552.6,608.8 L553.1,608.8 L553.6,608.9 L554.1,608.9 L554.6,608.9 L555.1,608.9 L555.6,608.8 L556.1,608.8 L556.6,608.8 L557.1,608.8 L557.6,608.8 L558.1,608.8 L558.6,608.7 L559.1,608.7 L559.6,608.7 L560.1,608.7 L560.6,608.6 L561.0,608.5 L561.5,608.4 L562.0,608.3 L562.5,608.2 L563.0,608.1 L563.5,608.0 L564.0,607.8 L564.5,607.7 L565.0,607.6 L565.5,607.5 L566.0,607.4 L566.5,607.3 L567.0,607.2 L567.5,607.1 L568.0,607.0 L568.5,607.0 L569.0,607.0 L569.5,607.0 L570.0,607.0 L570.5,607.1 L571.0,607.1 L571.5,607.2 L572.0,607.3 L572.5,607.3 L573.0,607.4 L573.5,607.5 L574.0,607.6 L574.5,607.7 L575.0,607.8 L575.5,607.9 L576.0,608.0 L576.5,608.1 L577.0,608.2 L577.5,608.2 L577.9,608.2 L578.4,608.2 L578.9,608.3 L579.4,608.2 L579.9,608.2 L580.4,608.2 L580.9,608.1 L581.4,608.1 L581.9,608.1 L582.4,608.1 L582.9,608.1 L583.4,608.1 L583.9,608.1 L584.4,608.2 L584.9,608.2 L585.4,608.2 L585.9,608.2 L586.4,608.2 L586.9,608.1 L587.4,608.2 L587.9,608.2 L588.4,608.2 L588.9,608.2 L589.4,608.2 L589.9,608.2 L590.4,608.2 L590.9,608.2 L591.4,608.1 L591.9,608.1 L592.4,607.9 L592.9,607.8 L593.4,607.7 L593.9,607.6 L594.4,607.4 L594.8,607.3 L595.3,607.3 L595.8,607.2 L596.3,607.1 L596.8,607.1 L597.3,607.0 L597.8,606.9 L598.3,606.9 L598.8,606.9 L599.3,606.9 L599.8,606.9 L600.3,606.9 L600.8,607.0 L601.3,607.2 L601.8,607.3 L602.3,607.5 L602.8,607.7 L603.3,607.9 L603.8,608.2 L604.3,608.4 L604.8,608.6 L605.3,608.9 L605.8,609.2 L606.3,609.4 L606.8,609.6 L607.3,609.9 L607.8,610.1 L608.3,610.3 L608.8,610.5 L609.3,610.7 L609.8,610.9 L610.3,611.1 L610.8,611.3 L611.3,611.4 L611.7,611.4 L612.2,611.5 L612.7,611.5 L613.2,611.5 L613.7,611.5 L614.2,611.4 L614.7,611.4 L615.2,611.3 L615.7,611.2 L616.2,611.2 L616.7,611.1 L617.2,611.0 L617.7,610.9 L618.2,610.8 L618.7,610.6 L619.2,610.4 L619.7,610.3 L620.2,610.1 L620.7,609.9 L621.2,609.7 L621.7,609.5 L622.2,609.4 L622.7,609.2 L623.2,609.1 L623.7,609.0 L624.2,608.8 L624.7,608.7 L625.2,608.7 L625.7,608.5 L626.2,608.4 L626.7,608.4 L627.2,608.3 L627.7,608.2 L628.2,608.2 L628.6,608.1 L629.1,608.1 L629.6,608.1 L630.1,608.1 L630.6,608.1 L631.1,608.1 L631.6,608.1 L632.1,608.2 L632.6,608.3 L633.1,608.3 L633.6,608.3 L634.1,608.4 L634.6,608.5 L635.1,608.5 L635.6,608.6 L636.1,608.7 L636.6,608.8 L637.1,608.9 L637.6,609.0 L638.1,609.2 L638.6,609.3 L639.1,609.4 L639.6,609.5 L640.1,609.6 L640.6,609.7 L641.1,609.7 L641.6,609.8 L642.1,609.8 L642.6,609.9 L643.1,609.9 L643.6,610.0 L644.1,610.0 L644.6,610.0 L645.0,610.0" fill="none" stroke="#0000ff" stroke-width="5.4" stroke-linejoin="round" stroke-linecap="square"/><path d="M148.5,697.3 L148.8,673.0 L149.1,650.7 L149.4,629.8 L149.7,610.1 L150.1,596.3 L150.4,586.5 L150.7,579.0 L151.0,573.8 L151.3,570.2 L151.6,567.1 L151.9,564.7 L152.2,562.9 L152.5,561.9 L152.9,561.2 L153.2,560.6 L153.5,560.1 L153.8,559.7 L154.1,559.5 L154.4,559.4 L154.7,559.4 L155.0,559.6 L155.3,559.8 L155.7,560.1 L156.0,560.2 L156.3,560.3 L156.6,560.3 L156.9,560.4 L157.2,560.4 L157.5,560.5 L157.8,560.5 L158.1,560.5 L158.5,560.6 L158.8,560.6 L159.1,560.7 L159.4,560.7 L159.7,560.9 L160.0,561.1 L160.3,561.4 L160.6,561.7 L160.9,562.1 L161.3,562.6 L161.6,563.0 L161.9,563.5 L162.2,564.0 L162.5,564.5 L162.8,564.9 L163.1,565.4 L163.4,565.7 L163.7,566.1 L164.1,566.4 L164.4,566.7 L164.7,567.0 L165.0,567.3 L165.3,567.6 L165.6,567.9 L165.9,568.2 L166.2,568.5 L166.5,568.8 L166.9,569.1 L167.2,569.4 L167.5,569.7 L167.8,570.0 L168.1,570.3 L168.4,570.6 L168.7,571.0 L169.0,571.3 L169.3,571.7 L169.7,572.1 L170.0,572.5 L170.3,573.0 L170.6,573.4 L170.9,573.9 L171.2,574.4 L171.5,574.9 L171.8,575.4 L172.1,575.9 L172.5,576.4 L172.8,577.0 L173.1,577.5 L173.4,578.0 L173.7,578.6 L174.0,579.1 L174.3,579.7 L174.6,580.2 L174.9,580.7 L175.3,581.2 L175.6,581.7 L175.9,582.2 L176.2,582.7 L176.5,583.2 L176.8,583.7 L177.1,584.2 L177.4,584.7 L177.7,585.2 L178.1,585.7 L178.4,586.2 L178.7,586.7 L179.0,587.2 L179.3,587.7 L179.6,588.2 L179.9,588.7 L180.2,589.1 L180.5,589.6 L180.9,590.1 L181.2,590.5 L181.5,591.0 L181.8,591.4 L182.1,591.9 L182.4,592.3 L182.7,592.8 L183.0,593.2 L183.3,593.6 L183.7,594.1 L184.0,594.5 L184.3,594.9 L184.6,595.3 L184.9,595.7 L185.2,596.2 L185.5,596.6 L185.8,597.0 L186.1,597.4 L186.5,597.8 L186.8,598.2 L187.1,598.6 L187.4,598.9 L187.7,599.3 L188.0,599.7 L188.3,600.1 L188.6,600.5 L188.9,600.8 L189.3,601.2 L189.6,601.6 L189.9,602.0 L190.2,602.4 L190.5,602.8 L190.8,603.2 L191.1,603.5 L191.4,603.9 L191.7,604.2 L192.1,604.6 L192.4,604.9 L192.7,605.2 L193.0,605.5 L193.3,605.7 L193.6,605.9 L193.9,606.2 L194.2,606.4 L194.5,606.6 L194.9,606.8 L195.2,607.0 L195.5,607.1 L195.8,607.3 L196.1,607.5 L196.4,607.7 L196.7,607.8 L197.0,608.0 L197.3,608.2 L197.7,608.3 L198.0,608.5 L198.3,608.6 L198.6,608.7 L198.9,608.9 L199.2,609.0 L199.5,609.1 L199.8,609.2 L200.1,609.3 L200.5,609.4 L200.8,609.5 L201.1,609.5 L201.4,609.6 L201.7,609.7 L202.0,609.8 L202.3,609.8 L202.6,609.9 L202.9,610.0 L203.3,610.0 L203.6,610.1 L203.9,610.2 L204.2,610.2 L204.5,610.3 L204.8,610.3 L205.1,610.4 L205.4,610.4 L205.7,610.5 L206.1,610.5 L206.4,610.5 L206.7,610.6 L207.0,610.6 L207.3,610.6 L207.6,610.6 L207.9,610.6 L208.2,610.7 L208.5,610.6 L208.9,610.6 L209.2,610.5 L209.5,610.3 L209.8,610.2 L210.1,609.9 L210.4,609.7 L210.7,609.4 L211.0,609.1 L211.3,608.8 L211.7,608.4 L212.0,608.1 L212.3,607.7 L212.6,607.4 L212.9,607.0 L213.2,606.7 L213.5,606.4 L213.8,606.1 L214.1,605.8 L214.5,605.5 L214.8,605.3 L215.1,605.0 L215.4,604.7 L215.7,604.4 L216.0,604.1 L216.3,603.8 L216.6,603.5 L216.9,603.2 L217.3,602.9 L217.6,602.6 L217.9,602.3 L218.2,602.1 L218.5,601.9 L218.8,601.6 L219.1,601.5 L219.4,601.3 L219.7,601.2 L220.1,601.1 L220.4,601.1 L220.7,601.1 L221.0,601.1 L221.3,601.2 L221.6,601.3 L221.9,601.5 L222.2,601.6 L222.5,601.8 L222.9,602.0 L223.2,602.3 L223.5,602.5 L223.8,602.8 L224.1,603.0 L224.4,603.3 L224.7,603.5 L225.0,603.8 L225.3,604.0 L225.7,604.2 L226.0,604.4 L226.3,604.7 L226.6,605.0 L226.9,605.2 L227.2,605.5 L227.5,605.8 L227.8,606.1 L228.1,606.4 L228.5,606.7 L228.8,606.9 L229.1,607.2 L229.4,607.5 L229.7,607.7 L230.0,607.9 L230.3,608.1 L230.6,608.3 L230.9,608.5 L231.3,608.7 L231.6,608.8 L231.9,609.0 L232.2,609.1 L232.5,609.3 L232.8,609.4 L233.1,609.6 L233.4,609.7 L233.7,609.8 L234.1,610.0 L234.4,610.1 L234.7,610.2 L235.0,610.4 L235.3,610.5 L235.6,610.6 L235.9,610.7 L236.2,610.9 L236.5,611.0 L236.9,611.1 L237.2,611.3 L237.5,611.4 L237.8,611.5 L238.1,611.7 L238.4,611.8 L238.7,612.0 L239.0,612.1 L239.3,612.3 L239.7,612.4 L240.0,612.5 L240.3,612.6 L240.6,612.8 L240.9,612.9 L241.2,612.9 L241.5,613.0 L241.8,613.1 L242.1,613.1 L242.5,613.1 L242.8,613.1 L243.1,613.1 L243.4,613.0 L243.7,613.0 L244.0,612.9 L244.3,612.8 L244.6,612.6 L244.9,612.5 L245.3,612.3 L245.6,612.2 L245.9,612.0 L246.2,611.8 L246.5,611.7 L246.8,611.5 L247.1,611.3 L247.4,611.1 L247.7,611.0 L248.1,610.8 L248.4,610.6 L248.7,610.4 L249.0,610.1 L249.3,609.9 L249.6,609.6 L249.9,609.3 L250.2,609.0 L250.5,608.7 L250.9,608.4 L251.2,608.1 L251.5,607.8 L251.8,607.5 L252.1,607.3 L252.4,607.0 L252.7,606.8 L253.0,606.6 L253.3,606.4 L253.7,606.2 L254.0,606.1 L254.3,606.0 L254.6,606.0 L254.9,606.0 L255.2,606.0 L255.5,606.1 L255.8,606.1 L256.1,606.2 L256.5,606.3 L256.8,606.4 L257.1,606.5 L257.4,606.6 L257.7,606.8 L258.0,606.9 L258.3,607.1 L258.6,607.2 L258.9,607.4 L259.3,607.6 L259.6,607.8 L259.9,608.0 L260.2,608.1 L260.5,608.3 L260.8,608.5 L261.1,608.7 L261.4,608.9 L261.7,609.1 L262.1,609.2 L262.4,609.4 L262.7,609.5 L263.0,609.7 L263.3,609.9 L263.6,610.0 L263.9,610.2 L264.2,610.4 L264.5,610.6 L264.9,610.8 L265.2,611.0 L265.5,611.2 L265.8,611.4 L266.1,611.6 L266.4,611.8 L266.7,611.9 L267.0,612.1 L267.3,612.3 L267.7,612.5 L268.0,612.6 L268.3,612.7 L268.6,612.9 L268.9,613.0 L269.2,613.1 L269.5,613.1 L269.8,613.2 L270.1,613.3 L270.5,613.4 L270.8,613.4 L271.1,613.5 L271.4,613.5 L271.7,613.6 L272.0,613.6 L272.3,613.6 L272.6,613.7" fill="none" stroke="#800080" stroke-width="5.4" stroke-linejoin="round" stroke-linecap="butt" stroke-dasharray="20.1 8.7"/><path d="M148.5,697.3 L149.0,640.6 L149.5,589.9 L150.0,545.8 L150.5,508.7 L151.0,482.3 L151.5,469.0 L152.0,460.0 L152.5,453.0 L153.0,447.4 L153.5,442.9 L154.0,438.9 L154.5,435.1 L155.0,432.3 L155.5,431.1 L156.0,433.0 L156.5,437.9 L156.9,444.0 L157.4,449.6 L157.9,454.6 L158.4,459.9 L158.9,465.1 L159.4,470.2 L159.9,474.9 L160.4,479.5 L160.9,483.9 L161.4,488.1 L161.9,492.0 L162.4,495.5 L162.9,498.9 L163.4,502.0 L163.9,505.0 L164.4,507.9 L164.9,510.7 L165.4,513.5 L165.9,516.1 L166.4,518.5 L166.9,520.9 L167.4,523.1 L167.9,525.3 L168.4,527.3 L168.9,529.4 L169.4,531.5 L169.9,533.4 L170.4,535.2 L170.9,536.9 L171.4,538.6 L171.9,540.2 L172.4,541.7 L172.9,543.2 L173.4,544.7 L173.8,546.1 L174.3,547.5 L174.8,548.9 L175.3,550.3 L175.8,551.6 L176.3,552.9 L176.8,554.1 L177.3,555.1 L177.8,556.2 L178.3,557.3 L178.8,558.3 L179.3,559.3 L179.8,560.2 L180.3,561.1 L180.8,561.8 L181.3,562.5 L181.8,563.2 L182.3,563.8 L182.8,564.4 L183.3,565.0 L183.8,565.6 L184.3,566.1 L184.8,566.6 L185.3,567.1 L185.8,567.6 L186.3,568.2 L186.8,568.8 L187.3,569.4 L187.8,570.0 L188.3,570.6 L188.8,571.2 L189.3,571.8 L189.8,572.4 L190.3,573.0 L190.7,573.5 L191.2,574.0 L191.7,574.5 L192.2,575.0 L192.7,575.4 L193.2,575.8 L193.7,576.3 L194.2,576.8 L194.7,577.2 L195.2,577.7 L195.7,578.2 L196.2,578.6 L196.7,579.1 L197.2,579.5 L197.7,579.9 L198.2,580.4 L198.7,580.8 L199.2,581.1 L199.7,581.5 L200.2,581.8 L200.7,582.2 L201.2,582.5 L201.7,582.8 L202.2,583.1 L202.7,583.3 L203.2,583.6 L203.7,583.9 L204.2,584.1 L204.7,584.3 L205.2,584.6 L205.7,584.8 L206.2,585.0 L206.7,585.1 L207.2,585.2 L207.6,585.3 L208.1,585.4 L208.6,585.4 L209.1,585.5 L209.6,585.6 L210.1,585.6 L210.6,585.7 L211.1,585.7 L211.6,585.8 L212.1,585.9 L212.6,585.9 L213.1,586.0 L213.6,586.0 L214.1,586.1 L214.6,586.1 L215.1,586.2 L215.6,586.2 L216.1,586.4 L216.6,586.5 L217.1,586.7 L217.6,586.8 L218.1,587.0 L218.6,587.2 L219.1,587.4 L219.6,587.6 L220.1,587.9 L220.6,588.1 L221.1,588.4 L221.6,588.6 L222.1,588.9 L222.6,589.2 L223.1,589.4 L223.6,589.7 L224.1,590.1 L224.5,590.5 L225.0,590.9 L225.5,591.2 L226.0,591.5 L226.5,591.8 L227.0,592.0 L227.5,592.1 L228.0,592.1 L228.5,592.0 L229.0,591.8 L229.5,591.6 L230.0,591.2 L230.5,590.9 L231.0,590.5 L231.5,590.2 L232.0,589.9 L232.5,589.7 L233.0,589.6 L233.5,589.5 L234.0,589.4 L234.5,589.3 L235.0,589.2 L235.5,589.1 L236.0,589.0 L236.5,588.9 L237.0,588.8 L237.5,588.8 L238.0,588.7 L238.5,588.7 L239.0,588.7 L239.5,588.8 L240.0,588.9 L240.5,589.2 L241.0,589.4 L241.4,589.7 L241.9,590.0 L242.4,590.2 L242.9,590.5 L243.4,590.8 L243.9,590.9 L244.4,591.1 L244.9,591.2 L245.4,591.3 L245.9,591.4 L246.4,591.5 L246.9,591.6 L247.4,591.7 L247.9,591.9 L248.4,592.0 L248.9,592.0 L249.4,592.1 L249.9,592.2 L250.4,592.1 L250.9,592.0 L251.4,591.7 L251.9,591.5 L252.4,591.1 L252.9,590.8 L253.4,590.5 L253.9,590.1 L254.4,589.9 L254.9,589.7 L255.4,589.6 L255.9,589.6 L256.4,589.6 L256.9,589.6 L257.4,589.6 L257.9,589.7 L258.3,589.7 L258.8,589.8 L259.3,589.9 L259.8,589.9 L260.3,590.0 L260.8,590.1 L261.3,590.2 L261.8,590.3 L262.3,590.3 L262.8,590.5 L263.3,590.6 L263.8,590.9 L264.3,591.1 L264.8,591.4 L265.3,591.6 L265.8,591.9 L266.3,592.2 L266.8,592.5 L267.3,592.7 L267.8,593.0 L268.3,593.4 L268.8,593.7 L269.3,594.0 L269.8,594.3 L270.3,594.6 L270.8,594.9 L271.3,595.1 L271.8,595.4 L272.3,595.7 L272.8,595.9 L273.3,596.2 L273.8,596.4 L274.3,596.6 L274.7,596.7 L275.2,596.9 L275.7,597.0 L276.2,597.1 L276.7,597.1 L277.2,597.1 L277.7,597.1 L278.2,597.0 L278.7,596.8 L279.2,596.6 L279.7,596.4 L280.2,596.2 L280.7,595.9 L281.2,595.7 L281.7,595.4 L282.2,595.2 L282.7,594.9 L283.2,594.6 L283.7,594.3 L284.2,594.0 L284.7,593.7 L285.2,593.5 L285.7,593.2 L286.2,593.0 L286.7,592.8 L287.2,592.6 L287.7,592.4 L288.2,592.2 L288.7,592.0 L289.2,591.8 L289.7,591.5 L290.2,591.3 L290.7,591.1 L291.2,590.9 L291.6,590.7 L292.1,590.4 L292.6,590.2 L293.1,590.0 L293.6,589.8 L294.1,589.6 L294.6,589.5 L295.1,589.3 L295.6,589.1 L296.1,588.9 L296.6,588.7 L297.1,588.6 L297.6,588.4 L298.1,588.2 L298.6,588.0 L299.1,587.7 L299.6,587.5 L300.1,587.3 L300.6,587.1 L301.1,587.0 L301.6,586.9 L302.1,586.8 L302.6,586.8 L303.1,586.7 L303.6,586.7 L304.1,586.7 L304.6,586.7 L305.1,586.7 L305.6,586.8 L306.1,586.9 L306.6,587.0 L307.1,587.2 L307.6,587.4 L308.1,587.6 L308.5,587.8 L309.0,588.0 L309.5,588.1 L310.0,588.2 L310.5,588.4 L311.0,588.4 L311.5,588.6 L312.0,588.7 L312.5,588.8 L313.0,588.9 L313.5,589.1 L314.0,589.2 L314.5,589.4 L315.0,589.5 L315.5,589.6 L316.0,589.7 L316.5,589.8 L317.0,589.9 L317.5,590.0 L318.0,590.2 L318.5,590.3 L319.0,590.4 L319.5,590.6 L320.0,590.7 L320.5,590.9 L321.0,591.0 L321.5,591.0 L322.0,591.1 L322.5,591.1 L323.0,591.2 L323.5,591.2 L324.0,591.2 L324.5,591.2 L325.0,591.3 L325.4,591.5 L325.9,591.6 L326.4,591.7 L326.9,591.8 L327.4,591.9 L327.9,592.0 L328.4,592.0 L328.9,592.1 L329.4,592.2 L329.9,592.2 L330.4,592.3 L330.9,592.4 L331.4,592.5 L331.9,592.6 L332.4,592.8 L332.9,592.9 L333.4,593.1 L333.9,593.4 L334.4,593.5 L334.9,593.7 L335.4,593.8 L335.9,593.9 L336.4,594.1 L336.9,594.2 L337.4,594.3 L337.9,594.5 L338.4,594.7 L338.9,594.8 L339.4,595.0 L339.9,595.1 L340.4,595.3 L340.9,595.4 L341.4,595.6 L341.9,595.7 L342.3,595.8 L342.8,595.8 L343.3,595.9 L343.8,595.9 L344.3,595.9 L344.8,595.9 L345.3,595.9 L345.8,595.8 L346.3,595.8 L346.8,595.8 L347.3,595.8 L347.8,595.8 L348.3,595.8 L348.8,595.8 L349.3,595.7 L349.8,595.8 L350.3,595.7 L350.8,595.7 L351.3,595.7 L351.8,595.7 L352.3,595.7 L352.8,595.6 L353.3,595.6 L353.8,595.6 L354.3,595.7 L354.8,595.8 L355.3,595.9 L355.8,595.9 L356.3,596.0 L356.8,596.1 L357.3,596.1 L357.8,596.1 L358.3,596.2 L358.8,596.2 L359.2,596.2 L359.7,596.2 L360.2,596.2 L360.7,596.2 L361.2,596.2 L361.7,596.3 L362.2,596.3 L362.7,596.3 L363.2,596.3 L363.7,596.3 L364.2,596.4 L364.7,596.4 L365.2,596.4 L365.7,596.4 L366.2,596.4 L366.7,596.4 L367.2,596.5 L367.7,596.6 L368.2,596.7 L368.7,596.8 L369.2,596.8 L369.7,596.8 L370.2,596.9 L370.7,596.9 L371.2,597.0 L371.7,597.0 L372.2,597.0 L372.7,597.0 L373.2,597.0 L373.7,596.9 L374.2,596.9 L374.7,596.9 L375.2,596.9 L375.7,596.9 L376.1,596.8 L376.6,596.7 L377.1,596.6 L377.6,596.5 L378.1,596.4 L378.6,596.3 L379.1,596.3 L379.6,596.2 L380.1,596.1 L380.6,596.0 L381.1,595.9 L381.6,595.7 L382.1,595.6 L382.6,595.5 L383.1,595.4 L383.6,595.3 L384.1,595.2 L384.6,595.0 L385.1,594.9 L385.6,594.8 L386.1,594.6 L386.6,594.6 L387.1,594.5 L387.6,594.4 L388.1,594.2 L388.6,594.1 L389.1,594.1 L389.6,594.0 L390.1,594.0 L390.6,594.0 L391.1,594.0 L391.6,594.0 L392.1,594.1 L392.6,594.2 L393.0,594.3 L393.5,594.4 L394.0,594.5 L394.5,594.7 L395.0,594.8 L395.5,595.0 L396.0,595.1 L396.5,595.2 L397.0,595.4 L397.5,595.5 L398.0,595.6 L398.5,595.7 L399.0,595.8 L399.5,595.9 L400.0,596.0 L400.5,596.0 L401.0,596.1 L401.5,596.1 L402.0,596.1 L402.5,596.0 L403.0,596.0 L403.5,595.8 L404.0,595.7 L404.5,595.5 L405.0,595.3 L405.5,595.0 L406.0,594.8 L406.5,594.5 L407.0,594.3 L407.5,594.0 L408.0,593.7 L408.5,593.4 L409.0,593.1 L409.4,592.8 L409.9,592.6 L410.4,592.3 L410.9,592.1 L411.4,591.9 L411.9,591.7 L412.4,591.5 L412.9,591.4 L413.4,591.3 L413.9,591.3 L414.4,591.3 L414.9,591.3 L415.4,591.2 L415.9,591.1 L416.4,591.0 L416.9,590.9 L417.4,590.7 L417.9,590.6 L418.4,590.5 L418.9,590.4 L419.4,590.3 L419.9,590.1 L420.4,589.9 L420.9,589.7 L421.4,589.6 L421.9,589.4 L422.4,589.2 L422.9,589.0 L423.4,588.7 L423.9,588.4 L424.4,588.2 L424.9,588.0 L425.4,587.8 L425.9,587.7 L426.3,587.6 L426.8,587.5 L427.3,587.3 L427.8,587.2 L428.3,587.2 L428.8,587.1 L429.3,587.0 L429.8,586.9 L430.3,586.9 L430.8,586.9 L431.3,586.8 L431.8,586.8 L432.3,586.7 L432.8,586.7 L433.3,586.8 L433.8,586.8 L434.3,586.8 L434.8,586.9 L435.3,586.9 L435.8,587.0 L436.3,587.1 L436.8,587.2 L437.3,587.3 L437.8,587.4 L438.3,587.5 L438.8,587.6 L439.3,587.7 L439.8,587.8 L440.3,587.9 L440.8,587.9 L441.3,588.0 L441.8,588.1 L442.3,588.2 L442.8,588.3 L443.2,588.3 L443.7,588.4 L444.2,588.4 L444.7,588.4 L445.2,588.4 L445.7,588.4 L446.2,588.4 L446.7,588.4 L447.2,588.3 L447.7,588.3 L448.2,588.2 L448.7,588.2 L449.2,588.1 L449.7,588.1 L450.2,588.1 L450.7,588.0 L451.2,588.0 L451.7,587.9 L452.2,587.9 L452.7,587.8 L453.2,587.8 L453.7,587.8 L454.2,587.8 L454.7,587.8 L455.2,587.8 L455.7,587.9 L456.2,588.0 L456.7,588.0 L457.2,588.1 L457.7,588.2 L458.2,588.3 L458.7,588.5 L459.2,588.6 L459.7,588.7 L460.1,588.8 L460.6,589.0 L461.1,589.1 L461.6,589.2 L462.1,589.4 L462.6,589.6 L463.1,589.7 L463.6,589.8 L464.1,589.9 L464.6,589.9 L465.1,590.0 L465.6,590.0 L466.1,590.0 L466.6,590.1 L467.1,590.1 L467.6,590.2 L468.1,590.2 L468.6,590.2 L469.1,590.2 L469.6,590.2 L470.1,590.2 L470.6,590.2 L471.1,590.3 L471.6,590.3 L472.1,590.3 L472.6,590.3 L473.1,590.4 L473.6,590.5 L474.1,590.6 L474.6,590.8 L475.1,591.0 L475.6,591.2 L476.1,591.4 L476.6,591.6 L477.0,591.8 L477.5,592.0 L478.0,592.2 L478.5,592.3 L479.0,592.5 L479.5,592.7 L480.0,592.9 L480.5,593.0 L481.0,593.2 L481.5,593.3 L482.0,593.4 L482.5,593.6 L483.0,593.7 L483.5,593.8 L484.0,593.8 L484.5,593.8 L485.0,593.7 L485.5,593.6 L486.0,593.4 L486.5,593.2 L487.0,593.0 L487.5,592.8 L488.0,592.6 L488.5,592.4 L489.0,592.2 L489.5,591.9 L490.0,591.7 L490.5,591.6 L491.0,591.4 L491.5,591.3 L492.0,591.3 L492.5,591.3 L493.0,591.3 L493.5,591.3 L493.9,591.3 L494.4,591.3 L494.9,591.3 L495.4,591.3 L495.9,591.2 L496.4,591.2 L496.9,591.2 L497.4,591.2 L497.9,591.3 L498.4,591.3 L498.9,591.4 L499.4,591.5 L499.9,591.5 L500.4,591.6 L500.9,591.7 L501.4,591.8 L501.9,591.8 L502.4,591.8 L502.9,591.9 L503.4,591.9 L503.9,591.9 L504.4,591.8 L504.9,591.8 L505.4,591.9 L505.9,591.9 L506.4,591.9 L506.9,591.9 L507.4,591.9 L507.9,591.9 L508.4,592.0 L508.9,592.0 L509.4,592.0 L509.9,592.0 L510.4,592.0 L510.8,592.0 L511.3,592.0 L511.8,592.0 L512.3,592.0 L512.8,591.9 L513.3,591.9 L513.8,592.0 L514.3,592.0 L514.8,592.1 L515.3,592.1 L515.8,592.1 L516.3,592.2 L516.8,592.2 L517.3,592.3 L517.8,592.3 L518.3,592.3 L518.8,592.3 L519.3,592.3 L519.8,592.3 L520.3,592.3 L520.8,592.3 L521.3,592.3 L521.8,592.3 L522.3,592.3 L522.8,592.4 L523.3,592.4 L523.8,592.4 L524.3,592.5 L524.8,592.5 L525.3,592.5 L525.8,592.4 L526.3,592.4 L526.8,592.4 L527.2,592.3 L527.7,592.2 L528.2,592.2 L528.7,592.2 L529.2,592.2 L529.7,592.2 L530.2,592.1 L530.7,592.1 L531.2,592.0 L531.7,592.0 L532.2,591.9 L532.7,591.8 L533.2,591.7 L533.7,591.7 L534.2,591.6 L534.7,591.5 L535.2,591.4 L535.7,591.3 L536.2,591.2 L536.7,591.1 L537.2,591.0 L537.7,590.9 L538.2,590.8 L538.7,590.7 L539.2,590.5 L539.7,590.4 L540.2,590.2 L540.7,590.1 L541.2,589.9 L541.7,589.8 L542.2,589.6 L542.7,589.4 L543.2,589.2 L543.7,589.0 L544.1,588.7 L544.6,588.5 L545.1,588.2 L545.6,588.0 L546.1,587.7 L546.6,587.5 L547.1,587.3 L547.6,587.1 L548.1,586.9 L548.6,586.7 L549.1,586.5 L549.6,586.3 L550.1,586.2 L550.6,586.1 L551.1,586.0 L551.6,586.0 L552.1,585.9 L552.6,585.9 L553.1,585.9 L553.6,585.8 L554.1,585.8 L554.6,585.8 L555.1,585.8 L555.6,585.9 L556.1,585.9 L556.6,586.0 L557.1,586.0 L557.6,586.1 L558.1,586.2 L558.6,586.3 L559.1,586.4 L559.6,586.5 L560.1,586.6 L560.6,586.7 L561.0,586.7 L561.5,586.8 L562.0,586.8 L562.5,587.0 L563.0,587.1 L563.5,587.2 L564.0,587.2 L564.5,587.3 L565.0,587.3 L565.5,587.3 L566.0,587.4 L566.5,587.4 L567.0,587.4 L567.5,587.4 L568.0,587.4 L568.5,587.4 L569.0,587.4 L569.5,587.4 L570.0,587.4 L570.5,587.4 L571.0,587.5 L571.5,587.6 L572.0,587.6 L572.5,587.6 L573.0,587.5 L573.5,587.5 L574.0,587.5 L574.5,587.4 L575.0,587.4 L575.5,587.3 L576.0,587.2 L576.5,587.1 L577.0,587.0 L577.5,587.0 L577.9,586.9 L578.4,586.8 L578.9,586.7 L579.4,586.6 L579.9,586.5 L580.4,586.4 L580.9,586.3 L581.4,586.1 L581.9,586.0 L582.4,585.9 L582.9,585.7 L583.4,585.6 L583.9,585.5 L584.4,585.4 L584.9,585.2 L585.4,585.1 L585.9,585.0 L586.4,584.9 L586.9,584.9 L587.4,584.8 L587.9,584.7 L588.4,584.7 L588.9,584.6 L589.4,584.6 L589.9,584.6 L590.4,584.6 L590.9,584.7 L591.4,584.7 L591.9,584.8 L592.4,584.8 L592.9,585.0 L593.4,585.1 L593.9,585.3 L594.4,585.5 L594.8,585.7 L595.3,586.0 L595.8,586.2 L596.3,586.5 L596.8,586.7 L597.3,586.9 L597.8,587.1 L598.3,587.3 L598.8,587.5 L599.3,587.7 L599.8,587.8 L600.3,588.0 L600.8,588.0 L601.3,588.1 L601.8,588.2 L602.3,588.3 L602.8,588.4 L603.3,588.4 L603.8,588.4 L604.3,588.4 L604.8,588.4 L605.3,588.3 L605.8,588.2 L606.3,588.1 L606.8,588.1 L607.3,588.1 L607.8,588.1 L608.3,588.0 L608.8,587.9 L609.3,587.8 L609.8,587.7 L610.3,587.6 L610.8,587.6 L611.3,587.5 L611.7,587.4 L612.2,587.3 L612.7,587.2 L613.2,587.2 L613.7,587.1 L614.2,587.1 L614.7,587.1 L615.2,587.1 L615.7,587.2 L616.2,587.2 L616.7,587.2 L617.2,587.2 L617.7,587.2 L618.2,587.2 L618.7,587.2 L619.2,587.2 L619.7,587.2 L620.2,587.2 L620.7,587.2 L621.2,587.2 L621.7,587.2 L622.2,587.2 L622.7,587.1 L623.2,587.1 L623.7,587.0 L624.2,587.0 L624.7,587.0 L625.2,587.0 L625.7,586.9 L626.2,586.9 L626.7,586.9 L627.2,586.9 L627.7,586.9 L628.2,586.9 L628.6,586.9 L629.1,586.9 L629.6,586.9 L630.1,586.9 L630.6,586.9 L631.1,586.9 L631.6,586.9 L632.1,587.0 L632.6,587.0 L633.1,587.0 L633.6,587.0 L634.1,587.0 L634.6,587.0 L635.1,587.0 L635.6,587.0 L636.1,586.9 L636.6,586.9 L637.1,586.8 L637.6,586.8 L638.1,586.7 L638.6,586.8 L639.1,586.8 L639.6,586.9 L640.1,586.9 L640.6,586.9 L641.1,586.9 L641.6,586.9 L642.1,586.9 L642.6,587.0 L643.1,587.0 L643.6,587.1 L644.1,587.2 L644.6,587.2 L645.0,587.3 L645.0,602.9 L644.6,602.8 L644.1,602.8 L643.6,602.7 L643.1,602.7 L642.6,602.6 L642.1,602.5 L641.6,602.5 L641.1,602.5 L640.6,602.5 L640.1,602.5 L639.6,602.5 L639.1,602.5 L638.6,602.4 L638.1,602.4 L637.6,602.4 L637.1,602.5 L636.6,602.5 L636.1,602.6 L635.6,602.6 L635.1,602.6 L634.6,602.6 L634.1,602.6 L633.6,602.6 L633.1,602.6 L632.6,602.6 L632.1,602.6 L631.6,602.6 L631.1,602.5 L630.6,602.5 L630.1,602.5 L629.6,602.5 L629.1,602.5 L628.6,602.5 L628.2,602.5 L627.7,602.6 L627.2,602.6 L626.7,602.6 L626.2,602.5 L625.7,602.6 L625.2,602.6 L624.7,602.6 L624.2,602.6 L623.7,602.7 L623.2,602.7 L622.7,602.7 L622.2,602.8 L621.7,602.8 L621.2,602.8 L620.7,602.9 L620.2,602.9 L619.7,602.9 L619.2,602.9 L618.7,602.9 L618.2,602.9 L617.7,602.9 L617.2,602.9 L616.7,602.9 L616.2,602.8 L615.7,602.8 L615.2,602.7 L614.7,602.7 L614.2,602.7 L613.7,602.8 L613.2,602.8 L612.7,602.9 L612.2,602.9 L611.7,603.0 L611.3,603.1 L610.8,603.2 L610.3,603.3 L609.8,603.4 L609.3,603.5 L608.8,603.6 L608.3,603.6 L607.8,603.7 L607.3,603.7 L606.8,603.7 L606.3,603.8 L605.8,603.9 L605.3,603.9 L604.8,604.0 L604.3,604.1 L603.8,604.0 L603.3,604.0 L602.8,604.0 L602.3,603.9 L601.8,603.9 L601.3,603.8 L600.8,603.7 L600.3,603.6 L599.8,603.5 L599.3,603.3 L598.8,603.2 L598.3,602.9 L597.8,602.7 L597.3,602.5 L596.8,602.3 L596.3,602.1 L595.8,601.9 L595.3,601.6 L594.8,601.4 L594.4,601.1 L593.9,600.9 L593.4,600.7 L592.9,600.6 L592.4,600.5 L591.9,600.4 L591.4,600.4 L590.9,600.3 L590.4,600.2 L589.9,600.2 L589.4,600.2 L588.9,600.2 L588.4,600.3 L587.9,600.4 L587.4,600.4 L586.9,600.5 L586.4,600.5 L585.9,600.6 L585.4,600.7 L584.9,600.8 L584.4,601.0 L583.9,601.1 L583.4,601.2 L582.9,601.4 L582.4,601.5 L581.9,601.6 L581.4,601.7 L580.9,601.9 L580.4,602.1 L579.9,602.2 L579.4,602.3 L578.9,602.4 L578.4,602.5 L577.9,602.5 L577.5,602.6 L577.0,602.7 L576.5,602.8 L576.0,602.9 L575.5,602.9 L575.0,603.0 L574.5,603.0 L574.0,603.1 L573.5,603.1 L573.0,603.2 L572.5,603.2 L572.0,603.2 L571.5,603.2 L571.0,603.1 L570.5,603.1 L570.0,603.0 L569.5,603.0 L569.0,603.0 L568.5,603.0 L568.0,603.0 L567.5,603.0 L567.0,603.0 L566.5,603.0 L566.0,603.0 L565.5,603.0 L565.0,603.0 L564.5,602.9 L564.0,602.8 L563.5,602.8 L563.0,602.7 L562.5,602.6 L562.0,602.5 L561.5,602.4 L561.0,602.3 L560.6,602.3 L560.1,602.2 L559.6,602.1 L559.1,602.0 L558.6,601.9 L558.1,601.8 L557.6,601.7 L557.1,601.6 L556.6,601.6 L556.1,601.6 L555.6,601.5 L555.1,601.5 L554.6,601.4 L554.1,601.5 L553.6,601.5 L553.1,601.5 L552.6,601.5 L552.1,601.6 L551.6,601.6 L551.1,601.6 L550.6,601.7 L550.1,601.8 L549.6,601.9 L549.1,602.1 L548.6,602.3 L548.1,602.5 L547.6,602.7 L547.1,603.0 L546.6,603.2 L546.1,603.4 L545.6,603.6 L545.1,603.9 L544.6,604.1 L544.1,604.3 L543.7,604.6 L543.2,604.8 L542.7,605.0 L542.2,605.2 L541.7,605.4 L541.2,605.6 L540.7,605.7 L540.2,605.9 L539.7,606.0 L539.2,606.2 L538.7,606.3 L538.2,606.4 L537.7,606.5 L537.2,606.6 L536.7,606.7 L536.2,606.9 L535.7,607.0 L535.2,607.1 L534.7,607.1 L534.2,607.2 L533.7,607.3 L533.2,607.4 L532.7,607.4 L532.2,607.5 L531.7,607.6 L531.2,607.7 L530.7,607.7 L530.2,607.8 L529.7,607.8 L529.2,607.8 L528.7,607.8 L528.2,607.9 L527.7,607.9 L527.2,607.9 L526.8,608.0 L526.3,608.0 L525.8,608.1 L525.3,608.1 L524.8,608.1 L524.3,608.1 L523.8,608.1 L523.3,608.1 L522.8,608.0 L522.3,608.0 L521.8,607.9 L521.3,607.9 L520.8,607.9 L520.3,607.9 L519.8,607.9 L519.3,607.9 L518.8,607.9 L518.3,607.9 L517.8,607.9 L517.3,607.9 L516.8,607.9 L516.3,607.8 L515.8,607.8 L515.3,607.7 L514.8,607.7 L514.3,607.7 L513.8,607.6 L513.3,607.6 L512.8,607.6 L512.3,607.6 L511.8,607.6 L511.3,607.7 L510.8,607.7 L510.4,607.7 L509.9,607.6 L509.4,607.6 L508.9,607.6 L508.4,607.6 L507.9,607.6 L507.4,607.6 L506.9,607.5 L506.4,607.5 L505.9,607.5 L505.4,607.5 L504.9,607.5 L504.4,607.5 L503.9,607.5 L503.4,607.5 L502.9,607.5 L502.4,607.5 L501.9,607.4 L501.4,607.4 L500.9,607.3 L500.4,607.3 L499.9,607.2 L499.4,607.1 L498.9,607.0 L498.4,607.0 L497.9,606.9 L497.4,606.9 L496.9,606.8 L496.4,606.9 L495.9,606.9 L495.4,606.9 L494.9,606.9 L494.4,606.9 L493.9,606.9 L493.5,606.9 L493.0,606.9 L492.5,606.9 L492.0,606.9 L491.5,607.0 L491.0,607.0 L490.5,607.2 L490.0,607.4 L489.5,607.6 L489.0,607.8 L488.5,608.0 L488.0,608.2 L487.5,608.4 L487.0,608.6 L486.5,608.8 L486.0,609.0 L485.5,609.2 L485.0,609.3 L484.5,609.4 L484.0,609.4 L483.5,609.4 L483.0,609.3 L482.5,609.2 L482.0,609.1 L481.5,608.9 L481.0,608.8 L480.5,608.6 L480.0,608.5 L479.5,608.3 L479.0,608.1 L478.5,607.9 L478.0,607.8 L477.5,607.7 L477.0,607.4 L476.6,607.2 L476.1,607.0 L475.6,606.8 L475.1,606.6 L474.6,606.4 L474.1,606.3 L473.6,606.2 L473.1,606.0 L472.6,606.0 L472.1,606.0 L471.6,605.9 L471.1,605.9 L470.6,605.9 L470.1,605.9 L469.6,605.8 L469.1,605.8 L468.6,605.8 L468.1,605.8 L467.6,605.8 L467.1,605.8 L466.6,605.7 L466.1,605.7 L465.6,605.7 L465.1,605.6 L464.6,605.6 L464.1,605.5 L463.6,605.5 L463.1,605.4 L462.6,605.2 L462.1,605.0 L461.6,604.9 L461.1,604.7 L460.6,604.6 L460.1,604.4 L459.7,604.3 L459.2,604.2 L458.7,604.1 L458.2,604.0 L457.7,603.8 L457.2,603.7 L456.7,603.7 L456.2,603.6 L455.7,603.5 L455.2,603.5 L454.7,603.5 L454.2,603.4 L453.7,603.4 L453.2,603.4 L452.7,603.5 L452.2,603.5 L451.7,603.6 L451.2,603.6 L450.7,603.7 L450.2,603.7 L449.7,603.7 L449.2,603.7 L448.7,603.8 L448.2,603.9 L447.7,603.9 L447.2,603.9 L446.7,604.0 L446.2,604.0 L445.7,604.1 L445.2,604.1 L444.7,604.1 L444.2,604.1 L443.7,604.0 L443.2,604.0 L442.8,603.9 L442.3,603.8 L441.8,603.7 L441.3,603.6 L440.8,603.6 L440.3,603.5 L439.8,603.4 L439.3,603.3 L438.8,603.2 L438.3,603.1 L437.8,603.0 L437.3,602.9 L436.8,602.8 L436.3,602.7 L435.8,602.6 L435.3,602.6 L434.8,602.5 L434.3,602.4 L433.8,602.4 L433.3,602.4 L432.8,602.4 L432.3,602.4 L431.8,602.4 L431.3,602.4 L430.8,602.5 L430.3,602.5 L429.8,602.6 L429.3,602.6 L428.8,602.7 L428.3,602.8 L427.8,602.9 L427.3,603.0 L426.8,603.1 L426.3,603.2 L425.9,603.3 L425.4,603.5 L424.9,603.6 L424.4,603.8 L423.9,604.1 L423.4,604.3 L422.9,604.6 L422.4,604.8 L421.9,605.0 L421.4,605.2 L420.9,605.4 L420.4,605.6 L419.9,605.7 L419.4,605.9 L418.9,606.0 L418.4,606.1 L417.9,606.2 L417.4,606.4 L416.9,606.5 L416.4,606.6 L415.9,606.7 L415.4,606.8 L414.9,606.9 L414.4,606.9 L413.9,606.9 L413.4,607.0 L412.9,607.0 L412.4,607.1 L411.9,607.3 L411.4,607.5 L410.9,607.7 L410.4,608.0 L409.9,608.2 L409.4,608.5 L409.0,608.7 L408.5,609.0 L408.0,609.3 L407.5,609.6 L407.0,609.9 L406.5,610.2 L406.0,610.4 L405.5,610.6 L405.0,610.9 L404.5,611.1 L404.0,611.3 L403.5,611.5 L403.0,611.6 L402.5,611.7 L402.0,611.7 L401.5,611.7 L401.0,611.7 L400.5,611.7 L400.0,611.6 L399.5,611.6 L399.0,611.5 L398.5,611.4 L398.0,611.2 L397.5,611.1 L397.0,611.0 L396.5,610.9 L396.0,610.8 L395.5,610.6 L395.0,610.5 L394.5,610.3 L394.0,610.2 L393.5,610.0 L393.0,609.9 L392.6,609.8 L392.1,609.7 L391.6,609.7 L391.1,609.6 L390.6,609.6 L390.1,609.6 L389.6,609.7 L389.1,609.7 L388.6,609.8 L388.1,609.9 L387.6,610.0 L387.1,610.1 L386.6,610.2 L386.1,610.3 L385.6,610.4 L385.1,610.5 L384.6,610.7 L384.1,610.8 L383.6,610.9 L383.1,611.0 L382.6,611.1 L382.1,611.3 L381.6,611.4 L381.1,611.5 L380.6,611.6 L380.1,611.7 L379.6,611.8 L379.1,611.9 L378.6,612.0 L378.1,612.0 L377.6,612.2 L377.1,612.3 L376.6,612.4 L376.1,612.4 L375.7,612.5 L375.2,612.5 L374.7,612.6 L374.2,612.6 L373.7,612.6 L373.2,612.6 L372.7,612.6 L372.2,612.6 L371.7,612.6 L371.2,612.6 L370.7,612.6 L370.2,612.5 L369.7,612.5 L369.2,612.4 L368.7,612.4 L368.2,612.3 L367.7,612.2 L367.2,612.1 L366.7,612.1 L366.2,612.0 L365.7,612.0 L365.2,612.0 L364.7,612.0 L364.2,612.0 L363.7,612.0 L363.2,612.0 L362.7,611.9 L362.2,611.9 L361.7,611.9 L361.2,611.9 L360.7,611.9 L360.2,611.8 L359.7,611.9 L359.2,611.9 L358.8,611.8 L358.3,611.8 L357.8,611.8 L357.3,611.7 L356.8,611.7 L356.3,611.6 L355.8,611.6 L355.3,611.5 L354.8,611.4 L354.3,611.3 L353.8,611.3 L353.3,611.3 L352.8,611.3 L352.3,611.3 L351.8,611.3 L351.3,611.3 L350.8,611.3 L350.3,611.4 L349.8,611.4 L349.3,611.4 L348.8,611.4 L348.3,611.4 L347.8,611.5 L347.3,611.5 L346.8,611.5 L346.3,611.5 L345.8,611.5 L345.3,611.5 L344.8,611.5 L344.3,611.5 L343.8,611.5 L343.3,611.5 L342.8,611.5 L342.3,611.4 L341.9,611.3 L341.4,611.2 L340.9,611.1 L340.4,610.9 L339.9,610.8 L339.4,610.6 L338.9,610.5 L338.4,610.3 L337.9,610.1 L337.4,610.0 L336.9,609.8 L336.4,609.7 L335.9,609.6 L335.4,609.4 L334.9,609.3 L334.4,609.2 L333.9,609.0 L333.4,608.8 L332.9,608.6 L332.4,608.4 L331.9,608.3 L331.4,608.1 L330.9,608.0 L330.4,607.9 L329.9,607.9 L329.4,607.8 L328.9,607.8 L328.4,607.7 L327.9,607.6 L327.4,607.5 L326.9,607.4 L326.4,607.3 L325.9,607.2 L325.4,607.1 L325.0,607.0 L324.5,606.9 L324.0,606.8 L323.5,606.8 L323.0,606.8 L322.5,606.7 L322.0,606.7 L321.5,606.7 L321.0,606.6 L320.5,606.5 L320.0,606.4 L319.5,606.2 L319.0,606.0 L318.5,605.9 L318.0,605.8 L317.5,605.7 L317.0,605.5 L316.5,605.4 L316.0,605.3 L315.5,605.2 L315.0,605.1 L314.5,605.0 L314.0,604.9 L313.5,604.7 L313.0,604.6 L312.5,604.5 L312.0,604.3 L311.5,604.2 L311.0,604.1 L310.5,604.0 L310.0,603.9 L309.5,603.7 L309.0,603.6 L308.5,603.4 L308.1,603.2 L307.6,603.0 L307.1,602.8 L306.6,602.7 L306.1,602.6 L305.6,602.4 L305.1,602.4 L304.6,602.3 L304.1,602.3 L303.6,602.3 L303.1,602.4 L302.6,602.4 L302.1,602.5 L301.6,602.5 L301.1,602.6 L300.6,602.8 L300.1,602.9 L299.6,603.1 L299.1,603.4 L298.6,603.6 L298.1,603.8 L297.6,604.0 L297.1,604.2 L296.6,604.4 L296.1,604.5 L295.6,604.7 L295.1,604.9 L294.6,605.1 L294.1,605.3 L293.6,605.4 L293.1,605.6 L292.6,605.8 L292.1,606.1 L291.6,606.3 L291.2,606.5 L290.7,606.7 L290.2,606.9 L289.7,607.2 L289.2,607.4 L288.7,607.6 L288.2,607.8 L287.7,608.1 L287.2,608.3 L286.7,608.4 L286.2,608.7 L285.7,608.9 L285.2,609.1 L284.7,609.3 L284.2,609.6 L283.7,609.9 L283.2,610.2 L282.7,610.5 L282.2,610.8 L281.7,611.1 L281.2,611.3 L280.7,611.6 L280.2,611.8 L279.7,612.0 L279.2,612.2 L278.7,612.4 L278.2,612.6 L277.7,612.7 L277.2,612.7 L276.7,612.8 L276.2,612.7 L275.7,612.6 L275.2,612.5 L274.7,612.4 L274.3,612.2 L273.8,612.0 L273.3,611.8 L272.8,611.5 L272.3,611.3 L271.8,611.0 L271.3,610.7 L270.8,610.5 L270.3,610.2 L269.8,609.9 L269.3,609.6 L268.8,609.3 L268.3,609.0 L267.8,608.7 L267.3,608.4 L266.8,608.1 L266.3,607.8 L265.8,607.5 L265.3,607.3 L264.8,607.0 L264.3,606.7 L263.8,606.5 L263.3,606.3 L262.8,606.1 L262.3,606.0 L261.8,605.9 L261.3,605.8 L260.8,605.7 L260.3,605.6 L259.8,605.5 L259.3,605.5 L258.8,605.4 L258.3,605.4 L257.9,605.3 L257.4,605.3 L256.9,605.2 L256.4,605.2 L255.9,605.2 L255.4,605.2 L254.9,605.3 L254.4,605.5 L253.9,605.8 L253.4,606.1 L252.9,606.5 L252.4,606.8 L251.9,607.1 L251.4,607.4 L250.9,607.6 L250.4,607.8 L249.9,607.8 L249.4,607.7 L248.9,607.7 L248.4,607.6 L247.9,607.5 L247.4,607.4 L246.9,607.3 L246.4,607.2 L245.9,607.1 L245.4,606.9 L244.9,606.8 L244.4,606.7 L243.9,606.6 L243.4,606.4 L242.9,606.1 L242.4,605.9 L241.9,605.6 L241.4,605.4 L241.0,605.1 L240.5,604.8 L240.0,604.6 L239.5,604.4 L239.0,604.3 L238.5,604.3 L238.0,604.3 L237.5,604.4 L237.0,604.5 L236.5,604.5 L236.0,604.6 L235.5,604.7 L235.0,604.8 L234.5,604.9 L234.0,605.0 L233.5,605.1 L233.0,605.2 L232.5,605.3 L232.0,605.5 L231.5,605.8 L231.0,606.2 L230.5,606.5 L230.0,606.9 L229.5,607.2 L229.0,607.5 L228.5,607.7 L228.0,607.8 L227.5,607.7 L227.0,607.6 L226.5,607.4 L226.0,607.1 L225.5,606.8 L225.0,606.5 L224.5,606.1 L224.1,605.7 L223.6,605.4 L223.1,605.1 L222.6,604.8 L222.1,604.5 L221.6,604.3 L221.1,604.0 L220.6,603.7 L220.1,603.5 L219.6,603.3 L219.1,603.0 L218.6,602.8 L218.1,602.7 L217.6,602.5 L217.1,602.3 L216.6,602.1 L216.1,602.0 L215.6,601.9 L215.1,601.8 L214.6,601.8 L214.1,601.7 L213.6,601.7 L213.1,601.6 L212.6,601.6 L212.1,601.5 L211.6,601.4 L211.1,601.4 L210.6,601.3 L210.1,601.3 L209.6,601.2 L209.1,601.2 L208.6,601.1 L208.1,601.0 L207.6,600.9 L207.2,600.8 L206.7,600.7 L206.2,600.6 L205.7,600.4 L205.2,600.2 L204.7,600.0 L204.2,599.7 L203.7,599.5 L203.2,599.3 L202.7,599.0 L202.2,598.7 L201.7,598.4 L201.2,598.1 L200.7,597.8 L200.2,597.4 L199.7,597.1 L199.2,596.7 L198.7,596.4 L198.2,596.0 L197.7,595.6 L197.2,595.1 L196.7,594.7 L196.2,594.3 L195.7,593.8 L195.2,593.3 L194.7,592.9 L194.2,592.4 L193.7,591.9 L193.2,591.5 L192.7,591.1 L192.2,590.6 L191.7,590.2 L191.2,589.7 L190.7,589.1 L190.3,588.6 L189.8,588.0 L189.3,587.4 L188.8,586.8 L188.3,586.3 L187.8,585.6 L187.3,585.0 L186.8,584.4 L186.3,583.8 L185.8,583.3 L185.3,582.8 L184.8,582.3 L184.3,581.7 L183.8,581.2 L183.3,580.6 L182.8,580.0 L182.3,579.4 L181.8,578.8 L181.3,578.2 L180.8,577.5 L180.3,576.7 L179.8,575.8 L179.3,574.9 L178.8,573.9 L178.3,572.9 L177.8,571.8 L177.3,570.8 L176.8,569.7 L176.3,568.5 L175.8,567.2 L175.3,565.9 L174.8,564.5 L174.3,563.2 L173.8,561.7 L173.4,560.3 L172.9,558.8 L172.4,557.4 L171.9,555.8 L171.4,554.2 L170.9,552.6 L170.4,550.8 L169.9,549.0 L169.4,547.1 L168.9,545.1 L168.4,542.9 L167.9,540.5 L167.4,538.0 L166.9,535.3 L166.4,532.6 L165.9,529.8 L165.4,526.8 L164.9,523.6 L164.4,520.4 L163.9,517.1 L163.4,513.7 L162.9,510.2 L162.4,506.5 L161.9,502.5 L161.4,498.3 L160.9,493.7 L160.4,488.9 L159.9,483.9 L159.4,478.8 L158.9,473.4 L158.4,467.7 L157.9,462.0 L157.4,456.6 L156.9,450.6 L156.5,444.1 L156.0,438.9 L155.5,436.6 L155.0,437.4 L154.5,439.8 L154.0,443.2 L153.5,446.8 L153.0,450.9 L152.5,456.2 L152.0,462.8 L151.5,471.3 L151.0,484.3 L150.5,510.2 L150.0,547.0 L149.5,590.7 L149.0,641.0 L148.5,697.3 Z" fill="#ff0000" fill-opacity="0.3" stroke="#ff0000" stroke-opacity="0.3" stroke-width="3.6" stroke-linejoin="round"/><path d="M148.5,697.3 L149.0,640.8 L149.5,590.3 L150.0,546.4 L150.5,509.5 L151.0,483.3 L151.5,470.2 L152.0,461.4 L152.5,454.6 L153.0,449.2 L153.5,444.9 L154.0,441.0 L154.5,437.5 L155.0,434.9 L155.5,433.8 L156.0,436.0 L156.5,441.0 L156.9,447.3 L157.4,453.1 L157.9,458.3 L158.4,463.8 L158.9,469.2 L159.4,474.5 L159.9,479.4 L160.4,484.2 L160.9,488.8 L161.4,493.2 L161.9,497.2 L162.4,501.0 L162.9,504.5 L163.4,507.9 L163.9,511.1 L164.4,514.2 L164.9,517.2 L165.4,520.1 L165.9,522.9 L166.4,525.6 L166.9,528.1 L167.4,530.5 L167.9,532.9 L168.4,535.1 L168.9,537.3 L169.4,539.3 L169.9,541.2 L170.4,543.0 L170.9,544.8 L171.4,546.4 L171.9,548.0 L172.4,549.5 L172.9,551.0 L173.4,552.5 L173.8,553.9 L174.3,555.3 L174.8,556.7 L175.3,558.1 L175.8,559.4 L176.3,560.7 L176.8,561.9 L177.3,562.9 L177.8,564.0 L178.3,565.1 L178.8,566.1 L179.3,567.1 L179.8,568.0 L180.3,568.9 L180.8,569.6 L181.3,570.4 L181.8,571.0 L182.3,571.6 L182.8,572.2 L183.3,572.8 L183.8,573.4 L184.3,573.9 L184.8,574.4 L185.3,575.0 L185.8,575.5 L186.3,576.0 L186.8,576.6 L187.3,577.2 L187.8,577.8 L188.3,578.4 L188.8,579.0 L189.3,579.6 L189.8,580.2 L190.3,580.8 L190.7,581.3 L191.2,581.9 L191.7,582.3 L192.2,582.8 L192.7,583.2 L193.2,583.7 L193.7,584.1 L194.2,584.6 L194.7,585.0 L195.2,585.5 L195.7,586.0 L196.2,586.5 L196.7,586.9 L197.2,587.3 L197.7,587.8 L198.2,588.2 L198.7,588.6 L199.2,588.9 L199.7,589.3 L200.2,589.6 L200.7,590.0 L201.2,590.3 L201.7,590.6 L202.2,590.9 L202.7,591.2 L203.2,591.4 L203.7,591.7 L204.2,591.9 L204.7,592.1 L205.2,592.4 L205.7,592.6 L206.2,592.8 L206.7,592.9 L207.2,593.0 L207.6,593.1 L208.1,593.2 L208.6,593.3 L209.1,593.4 L209.6,593.4 L210.1,593.5 L210.6,593.5 L211.1,593.6 L211.6,593.6 L212.1,593.7 L212.6,593.7 L213.1,593.8 L213.6,593.8 L214.1,593.9 L214.6,594.0 L215.1,594.0 L215.6,594.1 L216.1,594.2 L216.6,594.3 L217.1,594.5 L217.6,594.7 L218.1,594.9 L218.6,595.0 L219.1,595.2 L219.6,595.4 L220.1,595.7 L220.6,595.9 L221.1,596.2 L221.6,596.5 L222.1,596.7 L222.6,597.0 L223.1,597.2 L223.6,597.5 L224.1,597.9 L224.5,598.3 L225.0,598.7 L225.5,599.0 L226.0,599.3 L226.5,599.6 L227.0,599.8 L227.5,599.9 L228.0,599.9 L228.5,599.9 L229.0,599.7 L229.5,599.4 L230.0,599.1 L230.5,598.7 L231.0,598.3 L231.5,598.0 L232.0,597.7 L232.5,597.5 L233.0,597.4 L233.5,597.3 L234.0,597.2 L234.5,597.1 L235.0,597.0 L235.5,596.9 L236.0,596.8 L236.5,596.7 L237.0,596.6 L237.5,596.6 L238.0,596.5 L238.5,596.5 L239.0,596.5 L239.5,596.6 L240.0,596.8 L240.5,597.0 L241.0,597.2 L241.4,597.5 L241.9,597.8 L242.4,598.0 L242.9,598.3 L243.4,598.6 L243.9,598.8 L244.4,598.9 L244.9,599.0 L245.4,599.1 L245.9,599.2 L246.4,599.4 L246.9,599.4 L247.4,599.6 L247.9,599.7 L248.4,599.8 L248.9,599.9 L249.4,599.9 L249.9,600.0 L250.4,599.9 L250.9,599.8 L251.4,599.5 L251.9,599.3 L252.4,599.0 L252.9,598.6 L253.4,598.3 L253.9,597.9 L254.4,597.7 L254.9,597.5 L255.4,597.4 L255.9,597.4 L256.4,597.4 L256.9,597.4 L257.4,597.5 L257.9,597.5 L258.3,597.5 L258.8,597.6 L259.3,597.7 L259.8,597.7 L260.3,597.8 L260.8,597.9 L261.3,598.0 L261.8,598.1 L262.3,598.2 L262.8,598.3 L263.3,598.5 L263.8,598.7 L264.3,598.9 L264.8,599.2 L265.3,599.4 L265.8,599.7 L266.3,600.0 L266.8,600.3 L267.3,600.6 L267.8,600.9 L268.3,601.2 L268.8,601.5 L269.3,601.8 L269.8,602.1 L270.3,602.4 L270.8,602.7 L271.3,602.9 L271.8,603.2 L272.3,603.5 L272.8,603.7 L273.3,604.0 L273.8,604.2 L274.3,604.4 L274.7,604.6 L275.2,604.7 L275.7,604.8 L276.2,604.9 L276.7,604.9 L277.2,604.9 L277.7,604.9 L278.2,604.8 L278.7,604.6 L279.2,604.4 L279.7,604.2 L280.2,604.0 L280.7,603.7 L281.2,603.5 L281.7,603.2 L282.2,603.0 L282.7,602.7 L283.2,602.4 L283.7,602.1 L284.2,601.8 L284.7,601.5 L285.2,601.3 L285.7,601.1 L286.2,600.9 L286.7,600.6 L287.2,600.5 L287.7,600.2 L288.2,600.0 L288.7,599.8 L289.2,599.6 L289.7,599.4 L290.2,599.1 L290.7,598.9 L291.2,598.7 L291.6,598.5 L292.1,598.3 L292.6,598.0 L293.1,597.8 L293.6,597.6 L294.1,597.5 L294.6,597.3 L295.1,597.1 L295.6,596.9 L296.1,596.7 L296.6,596.6 L297.1,596.4 L297.6,596.2 L298.1,596.0 L298.6,595.8 L299.1,595.5 L299.6,595.3 L300.1,595.1 L300.6,594.9 L301.1,594.8 L301.6,594.7 L302.1,594.6 L302.6,594.6 L303.1,594.5 L303.6,594.5 L304.1,594.5 L304.6,594.5 L305.1,594.6 L305.6,594.6 L306.1,594.7 L306.6,594.9 L307.1,595.0 L307.6,595.2 L308.1,595.4 L308.5,595.6 L309.0,595.8 L309.5,595.9 L310.0,596.1 L310.5,596.2 L311.0,596.3 L311.5,596.4 L312.0,596.5 L312.5,596.6 L313.0,596.8 L313.5,596.9 L314.0,597.1 L314.5,597.2 L315.0,597.3 L315.5,597.4 L316.0,597.5 L316.5,597.6 L317.0,597.7 L317.5,597.8 L318.0,598.0 L318.5,598.1 L319.0,598.2 L319.5,598.4 L320.0,598.5 L320.5,598.7 L321.0,598.8 L321.5,598.8 L322.0,598.9 L322.5,598.9 L323.0,599.0 L323.5,599.0 L324.0,599.0 L324.5,599.0 L325.0,599.2 L325.4,599.3 L325.9,599.4 L326.4,599.5 L326.9,599.6 L327.4,599.7 L327.9,599.8 L328.4,599.9 L328.9,600.0 L329.4,600.0 L329.9,600.1 L330.4,600.1 L330.9,600.2 L331.4,600.3 L331.9,600.4 L332.4,600.6 L332.9,600.8 L333.4,601.0 L333.9,601.2 L334.4,601.4 L334.9,601.5 L335.4,601.6 L335.9,601.7 L336.4,601.9 L336.9,602.0 L337.4,602.1 L337.9,602.3 L338.4,602.5 L338.9,602.7 L339.4,602.8 L339.9,602.9 L340.4,603.1 L340.9,603.3 L341.4,603.4 L341.9,603.5 L342.3,603.6 L342.8,603.7 L343.3,603.7 L343.8,603.7 L344.3,603.7 L344.8,603.7 L345.3,603.7 L345.8,603.7 L346.3,603.7 L346.8,603.7 L347.3,603.7 L347.8,603.7 L348.3,603.6 L348.8,603.6 L349.3,603.6 L349.8,603.6 L350.3,603.6 L350.8,603.5 L351.3,603.5 L351.8,603.5 L352.3,603.5 L352.8,603.5 L353.3,603.4 L353.8,603.5 L354.3,603.5 L354.8,603.6 L355.3,603.7 L355.8,603.8 L356.3,603.8 L356.8,603.9 L357.3,603.9 L357.8,603.9 L358.3,604.0 L358.8,604.0 L359.2,604.0 L359.7,604.0 L360.2,604.0 L360.7,604.0 L361.2,604.1 L361.7,604.1 L362.2,604.1 L362.7,604.1 L363.2,604.1 L363.7,604.2 L364.2,604.2 L364.7,604.2 L365.2,604.2 L365.7,604.2 L366.2,604.2 L366.7,604.3 L367.2,604.3 L367.7,604.4 L368.2,604.5 L368.7,604.6 L369.2,604.6 L369.7,604.7 L370.2,604.7 L370.7,604.8 L371.2,604.8 L371.7,604.8 L372.2,604.8 L372.7,604.8 L373.2,604.8 L373.7,604.7 L374.2,604.7 L374.7,604.7 L375.2,604.7 L375.7,604.7 L376.1,604.6 L376.6,604.6 L377.1,604.5 L377.6,604.3 L378.1,604.2 L378.6,604.1 L379.1,604.1 L379.6,604.0 L380.1,603.9 L380.6,603.8 L381.1,603.7 L381.6,603.6 L382.1,603.4 L382.6,603.3 L383.1,603.2 L383.6,603.1 L384.1,603.0 L384.6,602.8 L385.1,602.7 L385.6,602.6 L386.1,602.5 L386.6,602.4 L387.1,602.3 L387.6,602.2 L388.1,602.1 L388.6,602.0 L389.1,601.9 L389.6,601.8 L390.1,601.8 L390.6,601.8 L391.1,601.8 L391.6,601.9 L392.1,601.9 L392.6,602.0 L393.0,602.1 L393.5,602.2 L394.0,602.4 L394.5,602.5 L395.0,602.7 L395.5,602.8 L396.0,602.9 L396.5,603.0 L397.0,603.2 L397.5,603.3 L398.0,603.4 L398.5,603.6 L399.0,603.7 L399.5,603.7 L400.0,603.8 L400.5,603.8 L401.0,603.9 L401.5,603.9 L402.0,603.9 L402.5,603.9 L403.0,603.8 L403.5,603.7 L404.0,603.5 L404.5,603.3 L405.0,603.1 L405.5,602.8 L406.0,602.6 L406.5,602.3 L407.0,602.1 L407.5,601.8 L408.0,601.5 L408.5,601.2 L409.0,600.9 L409.4,600.6 L409.9,600.4 L410.4,600.1 L410.9,599.9 L411.4,599.7 L411.9,599.5 L412.4,599.3 L412.9,599.2 L413.4,599.1 L413.9,599.1 L414.4,599.1 L414.9,599.1 L415.4,599.0 L415.9,598.9 L416.4,598.8 L416.9,598.7 L417.4,598.6 L417.9,598.4 L418.4,598.3 L418.9,598.2 L419.4,598.1 L419.9,597.9 L420.4,597.7 L420.9,597.6 L421.4,597.4 L421.9,597.2 L422.4,597.0 L422.9,596.8 L423.4,596.5 L423.9,596.2 L424.4,596.0 L424.9,595.8 L425.4,595.6 L425.9,595.5 L426.3,595.4 L426.8,595.3 L427.3,595.2 L427.8,595.1 L428.3,595.0 L428.8,594.9 L429.3,594.8 L429.8,594.8 L430.3,594.7 L430.8,594.7 L431.3,594.6 L431.8,594.6 L432.3,594.6 L432.8,594.6 L433.3,594.6 L433.8,594.6 L434.3,594.6 L434.8,594.7 L435.3,594.7 L435.8,594.8 L436.3,594.9 L436.8,595.0 L437.3,595.1 L437.8,595.2 L438.3,595.3 L438.8,595.4 L439.3,595.5 L439.8,595.6 L440.3,595.7 L440.8,595.8 L441.3,595.8 L441.8,595.9 L442.3,596.0 L442.8,596.1 L443.2,596.1 L443.7,596.2 L444.2,596.2 L444.7,596.2 L445.2,596.2 L445.7,596.2 L446.2,596.2 L446.7,596.2 L447.2,596.1 L447.7,596.1 L448.2,596.1 L448.7,596.0 L449.2,595.9 L449.7,595.9 L450.2,595.9 L450.7,595.9 L451.2,595.8 L451.7,595.8 L452.2,595.7 L452.7,595.7 L453.2,595.6 L453.7,595.6 L454.2,595.6 L454.7,595.6 L455.2,595.7 L455.7,595.7 L456.2,595.8 L456.7,595.9 L457.2,595.9 L457.7,596.0 L458.2,596.1 L458.7,596.3 L459.2,596.4 L459.7,596.5 L460.1,596.6 L460.6,596.8 L461.1,596.9 L461.6,597.1 L462.1,597.2 L462.6,597.4 L463.1,597.5 L463.6,597.6 L464.1,597.7 L464.6,597.7 L465.1,597.8 L465.6,597.8 L466.1,597.9 L466.6,597.9 L467.1,598.0 L467.6,598.0 L468.1,598.0 L468.6,598.0 L469.1,598.0 L469.6,598.0 L470.1,598.0 L470.6,598.1 L471.1,598.1 L471.6,598.1 L472.1,598.1 L472.6,598.2 L473.1,598.2 L473.6,598.3 L474.1,598.5 L474.6,598.6 L475.1,598.8 L475.6,599.0 L476.1,599.2 L476.6,599.4 L477.0,599.6 L477.5,599.8 L478.0,600.0 L478.5,600.1 L479.0,600.3 L479.5,600.5 L480.0,600.7 L480.5,600.8 L481.0,601.0 L481.5,601.1 L482.0,601.3 L482.5,601.4 L483.0,601.5 L483.5,601.6 L484.0,601.6 L484.5,601.6 L485.0,601.5 L485.5,601.4 L486.0,601.2 L486.5,601.0 L487.0,600.8 L487.5,600.6 L488.0,600.4 L488.5,600.2 L489.0,600.0 L489.5,599.7 L490.0,599.5 L490.5,599.4 L491.0,599.2 L491.5,599.1 L492.0,599.1 L492.5,599.1 L493.0,599.1 L493.5,599.1 L493.9,599.1 L494.4,599.1 L494.9,599.1 L495.4,599.1 L495.9,599.1 L496.4,599.0 L496.9,599.0 L497.4,599.0 L497.9,599.1 L498.4,599.1 L498.9,599.2 L499.4,599.3 L499.9,599.4 L500.4,599.4 L500.9,599.5 L501.4,599.6 L501.9,599.6 L502.4,599.6 L502.9,599.7 L503.4,599.7 L503.9,599.7 L504.4,599.7 L504.9,599.7 L505.4,599.7 L505.9,599.7 L506.4,599.7 L506.9,599.7 L507.4,599.7 L507.9,599.8 L508.4,599.8 L508.9,599.8 L509.4,599.8 L509.9,599.8 L510.4,599.8 L510.8,599.8 L511.3,599.8 L511.8,599.8 L512.3,599.8 L512.8,599.8 L513.3,599.8 L513.8,599.8 L514.3,599.8 L514.8,599.9 L515.3,599.9 L515.8,599.9 L516.3,600.0 L516.8,600.1 L517.3,600.1 L517.8,600.1 L518.3,600.1 L518.8,600.1 L519.3,600.1 L519.8,600.1 L520.3,600.1 L520.8,600.1 L521.3,600.1 L521.8,600.1 L522.3,600.2 L522.8,600.2 L523.3,600.3 L523.8,600.3 L524.3,600.3 L524.8,600.3 L525.3,600.3 L525.8,600.3 L526.3,600.2 L526.8,600.2 L527.2,600.1 L527.7,600.1 L528.2,600.0 L528.7,600.0 L529.2,600.0 L529.7,600.0 L530.2,600.0 L530.7,599.9 L531.2,599.8 L531.7,599.8 L532.2,599.7 L532.7,599.6 L533.2,599.5 L533.7,599.5 L534.2,599.4 L534.7,599.3 L535.2,599.2 L535.7,599.2 L536.2,599.1 L536.7,598.9 L537.2,598.8 L537.7,598.7 L538.2,598.6 L538.7,598.5 L539.2,598.3 L539.7,598.2 L540.2,598.1 L540.7,597.9 L541.2,597.7 L541.7,597.6 L542.2,597.4 L542.7,597.2 L543.2,597.0 L543.7,596.8 L544.1,596.5 L544.6,596.3 L545.1,596.0 L545.6,595.8 L546.1,595.5 L546.6,595.3 L547.1,595.1 L547.6,594.9 L548.1,594.7 L548.6,594.5 L549.1,594.3 L549.6,594.1 L550.1,594.0 L550.6,593.9 L551.1,593.8 L551.6,593.8 L552.1,593.7 L552.6,593.7 L553.1,593.7 L553.6,593.6 L554.1,593.6 L554.6,593.6 L555.1,593.7 L555.6,593.7 L556.1,593.8 L556.6,593.8 L557.1,593.8 L557.6,593.9 L558.1,594.0 L558.6,594.1 L559.1,594.2 L559.6,594.3 L560.1,594.4 L560.6,594.5 L561.0,594.5 L561.5,594.6 L562.0,594.7 L562.5,594.8 L563.0,594.9 L563.5,595.0 L564.0,595.0 L564.5,595.1 L565.0,595.1 L565.5,595.2 L566.0,595.2 L566.5,595.2 L567.0,595.2 L567.5,595.2 L568.0,595.2 L568.5,595.2 L569.0,595.2 L569.5,595.2 L570.0,595.2 L570.5,595.2 L571.0,595.3 L571.5,595.4 L572.0,595.4 L572.5,595.4 L573.0,595.3 L573.5,595.3 L574.0,595.3 L574.5,595.2 L575.0,595.2 L575.5,595.1 L576.0,595.1 L576.5,595.0 L577.0,594.9 L577.5,594.8 L577.9,594.7 L578.4,594.6 L578.9,594.6 L579.4,594.4 L579.9,594.3 L580.4,594.2 L580.9,594.1 L581.4,593.9 L581.9,593.8 L582.4,593.7 L582.9,593.6 L583.4,593.4 L583.9,593.3 L584.4,593.2 L584.9,593.0 L585.4,592.9 L585.9,592.8 L586.4,592.7 L586.9,592.7 L587.4,592.6 L587.9,592.5 L588.4,592.5 L588.9,592.4 L589.4,592.4 L589.9,592.4 L590.4,592.4 L590.9,592.5 L591.4,592.5 L591.9,592.6 L592.4,592.7 L592.9,592.8 L593.4,592.9 L593.9,593.1 L594.4,593.3 L594.8,593.6 L595.3,593.8 L595.8,594.0 L596.3,594.3 L596.8,594.5 L597.3,594.7 L597.8,594.9 L598.3,595.1 L598.8,595.3 L599.3,595.5 L599.8,595.7 L600.3,595.8 L600.8,595.9 L601.3,595.9 L601.8,596.0 L602.3,596.1 L602.8,596.2 L603.3,596.2 L603.8,596.2 L604.3,596.2 L604.8,596.2 L605.3,596.1 L605.8,596.1 L606.3,596.0 L606.8,595.9 L607.3,595.9 L607.8,595.9 L608.3,595.8 L608.8,595.7 L609.3,595.6 L609.8,595.5 L610.3,595.4 L610.8,595.4 L611.3,595.3 L611.7,595.2 L612.2,595.1 L612.7,595.0 L613.2,595.0 L613.7,594.9 L614.2,594.9 L614.7,594.9 L615.2,594.9 L615.7,595.0 L616.2,595.0 L616.7,595.0 L617.2,595.1 L617.7,595.1 L618.2,595.1 L618.7,595.1 L619.2,595.1 L619.7,595.1 L620.2,595.0 L620.7,595.0 L621.2,595.0 L621.7,595.0 L622.2,595.0 L622.7,594.9 L623.2,594.9 L623.7,594.8 L624.2,594.8 L624.7,594.8 L625.2,594.8 L625.7,594.7 L626.2,594.7 L626.7,594.8 L627.2,594.8 L627.7,594.7 L628.2,594.7 L628.6,594.7 L629.1,594.7 L629.6,594.7 L630.1,594.7 L630.6,594.7 L631.1,594.7 L631.6,594.8 L632.1,594.8 L632.6,594.8 L633.1,594.8 L633.6,594.8 L634.1,594.8 L634.6,594.8 L635.1,594.8 L635.6,594.8 L636.1,594.8 L636.6,594.7 L637.1,594.6 L637.6,594.6 L638.1,594.6 L638.6,594.6 L639.1,594.6 L639.6,594.7 L640.1,594.7 L640.6,594.7 L641.1,594.7 L641.6,594.7 L642.1,594.7 L642.6,594.8 L643.1,594.8 L643.6,594.9 L644.1,595.0 L644.6,595.0 L645.0,595.1" fill="none" stroke="#ff0000" stroke-width="5.4" stroke-linejoin="round" stroke-linecap="square"/><path d="M148.5,697.3 L148.8,662.3 L149.1,628.2 L149.4,594.3 L149.7,560.5 L150.1,533.2 L150.4,511.4 L150.7,492.8 L151.0,477.7 L151.3,465.3 L151.6,454.9 L151.9,446.3 L152.2,439.4 L152.5,433.6 L152.9,428.8 L153.2,424.6 L153.5,420.3 L153.8,416.3 L154.1,413.0 L154.4,410.7 L154.7,409.9 L155.0,410.9 L155.3,413.1 L155.7,416.2 L156.0,419.6 L156.3,422.9 L156.6,425.7 L156.9,428.5 L157.2,431.4 L157.5,434.2 L157.8,437.0 L158.1,439.8 L158.5,442.5 L158.8,445.1 L159.1,447.8 L159.4,450.4 L159.7,453.0 L160.0,455.6 L160.3,458.1 L160.6,460.6 L160.9,462.9 L161.3,465.2 L161.6,467.4 L161.9,469.5 L162.2,471.5 L162.5,473.4 L162.8,475.2 L163.1,477.0 L163.4,478.7 L163.7,480.4 L164.1,482.0 L164.4,483.6 L164.7,485.1 L165.0,486.7 L165.3,488.1 L165.6,489.5 L165.9,490.9 L166.2,492.2 L166.5,493.5 L166.9,494.8 L167.2,496.2 L167.5,497.6 L167.8,499.1 L168.1,500.7 L168.4,502.2 L168.7,503.7 L169.0,505.2 L169.3,506.7 L169.7,508.1 L170.0,509.4 L170.3,510.7 L170.6,512.0 L170.9,513.3 L171.2,514.6 L171.5,515.8 L171.8,517.1 L172.1,518.3 L172.5,519.6 L172.8,520.9 L173.1,522.1 L173.4,523.4 L173.7,524.8 L174.0,526.1 L174.3,527.5 L174.6,528.8 L174.9,530.2 L175.3,531.5 L175.6,532.9 L175.9,534.2 L176.2,535.6 L176.5,536.9 L176.8,538.2 L177.1,539.4 L177.4,540.7 L177.7,542.0 L178.1,543.2 L178.4,544.4 L178.7,545.7 L179.0,546.9 L179.3,548.1 L179.6,549.3 L179.9,550.6 L180.2,551.8 L180.5,553.0 L180.9,554.2 L181.2,555.5 L181.5,556.7 L181.8,557.9 L182.1,559.1 L182.4,560.3 L182.7,561.5 L183.0,562.7 L183.3,564.0 L183.7,565.3 L184.0,566.6 L184.3,568.0 L184.6,569.4 L184.9,570.8 L185.2,572.3 L185.5,573.8 L185.8,575.3 L186.1,576.8 L186.5,578.4 L186.8,579.9 L187.1,581.4 L187.4,582.9 L187.7,584.5 L188.0,586.0 L188.3,587.6 L188.6,589.2 L188.9,590.8 L189.3,592.3 L189.6,593.8 L189.9,595.2 L190.2,596.4 L190.5,597.7 L190.8,599.0 L191.1,600.3 L191.4,601.5 L191.7,602.7 L192.1,603.8 L192.4,604.8 L192.7,605.7 L193.0,606.4 L193.3,607.0 L193.6,607.6 L193.9,608.2 L194.2,608.7 L194.5,609.2 L194.9,609.7 L195.2,610.1 L195.5,610.4 L195.8,610.6 L196.1,610.6 L196.4,610.6 L196.7,610.5 L197.0,610.4 L197.3,610.2 L197.7,609.9 L198.0,609.6 L198.3,609.3 L198.6,609.1 L198.9,608.8 L199.2,608.5 L199.5,608.3 L199.8,608.1 L200.1,607.8 L200.5,607.6 L200.8,607.4 L201.1,607.1 L201.4,606.9 L201.7,606.7 L202.0,606.5 L202.3,606.3 L202.6,606.2 L202.9,606.1 L203.3,606.0 L203.6,606.0 L203.9,606.0 L204.2,606.2 L204.5,606.3 L204.8,606.6 L205.1,606.9 L205.4,607.2 L205.7,607.5 L206.1,607.8 L206.4,608.2 L206.7,608.5 L207.0,608.8 L207.3,609.1 L207.6,609.3 L207.9,609.5 L208.2,609.6 L208.5,609.7 L208.9,609.9 L209.2,610.0 L209.5,610.1 L209.8,610.2 L210.1,610.3 L210.4,610.4 L210.7,610.5 L211.0,610.6 L211.3,610.6 L211.7,610.6 L212.0,610.7 L212.3,610.6 L212.6,610.5 L212.9,610.3 L213.2,609.9 L213.5,609.5 L213.8,609.1 L214.1,608.6 L214.5,608.0 L214.8,607.4 L215.1,606.8 L215.4,606.2 L215.7,605.6 L216.0,605.0 L216.3,604.4 L216.6,603.9 L216.9,603.3 L217.3,602.5 L217.6,601.8 L217.9,600.9 L218.2,600.1 L218.5,599.3 L218.8,598.5 L219.1,597.8 L219.4,597.2 L219.7,596.7 L220.1,596.3 L220.4,596.1 L220.7,596.2 L221.0,596.3 L221.3,596.7 L221.6,597.2 L221.9,597.8 L222.2,598.5 L222.5,599.2 L222.9,600.1 L223.2,600.9 L223.5,601.7 L223.8,602.5 L224.1,603.3 L224.4,604.0 L224.7,604.6 L225.0,605.3 L225.3,606.1 L225.7,606.9 L226.0,607.8 L226.3,608.6 L226.6,609.4 L226.9,610.2 L227.2,610.9 L227.5,611.6 L227.8,612.1 L228.1,612.6 L228.5,612.9 L228.8,613.1 L229.1,613.1 L229.4,613.1 L229.7,613.0 L230.0,613.0 L230.3,612.9 L230.6,612.7 L230.9,612.6 L231.3,612.5 L231.6,612.3 L231.9,612.1 L232.2,611.9 L232.5,611.8 L232.8,611.6 L233.1,611.4 L233.4,611.2 L233.7,611.0 L234.1,610.8 L234.4,610.7 L234.7,610.5 L235.0,610.2 L235.3,610.0 L235.6,609.8 L235.9,609.6 L236.2,609.3 L236.5,609.1 L236.9,608.8 L237.2,608.5 L237.5,608.3 L237.8,608.0 L238.1,607.7 L238.4,607.5 L238.7,607.2 L239.0,606.9 L239.3,606.6 L239.7,606.4 L240.0,606.1 L240.3,605.9 L240.6,605.6 L240.9,605.3 L241.2,605.0 L241.5,604.7 L241.8,604.5 L242.1,604.2 L242.5,603.9 L242.8,603.6 L243.1,603.3 L243.4,603.0 L243.7,602.7 L244.0,602.4 L244.3,602.1 L244.6,601.8 L244.9,601.5 L245.3,601.2 L245.6,601.0 L245.9,600.7 L246.2,600.4 L246.5,600.1 L246.8,599.9 L247.1,599.6 L247.4,599.4 L247.7,599.2 L248.1,599.0 L248.4,598.7 L248.7,598.5 L249.0,598.2 L249.3,598.0 L249.6,597.7 L249.9,597.5 L250.2,597.3 L250.5,597.0 L250.9,596.8 L251.2,596.5 L251.5,596.3 L251.8,596.1 L252.1,595.9 L252.4,595.7 L252.7,595.6 L253.0,595.4 L253.3,595.3 L253.7,595.2 L254.0,595.1 L254.3,595.1 L254.6,595.0 L254.9,595.0 L255.2,595.1 L255.5,595.2 L255.8,595.3 L256.1,595.4 L256.5,595.6 L256.8,595.9 L257.1,596.1 L257.4,596.4 L257.7,596.7 L258.0,597.0 L258.3,597.4 L258.6,597.7 L258.9,598.1 L259.3,598.5 L259.6,598.8 L259.9,599.2 L260.2,599.6 L260.5,600.0 L260.8,600.3 L261.1,600.7 L261.4,601.0 L261.7,601.4 L262.1,601.7 L262.4,602.0 L262.7,602.4 L263.0,602.8 L263.3,603.2 L263.6,603.6 L263.9,604.0 L264.2,604.4 L264.5,604.8 L264.9,605.2 L265.2,605.7 L265.5,606.1 L265.8,606.5 L266.1,606.9 L266.4,607.3 L266.7,607.7 L267.0,608.1 L267.3,608.5 L267.7,608.9 L268.0,609.2 L268.3,609.6 L268.6,609.9 L268.9,610.2 L269.2,610.5 L269.5,610.7 L269.8,611.0 L270.1,611.2 L270.5,611.5 L270.8,611.7 L271.1,611.9 L271.4,612.1 L271.7,612.3 L272.0,612.5 L272.3,612.7 L272.6,612.8" fill="none" stroke="#ffa500" stroke-width="5.4" stroke-linejoin="round" stroke-linecap="butt" stroke-dasharray="20.1 8.7"/></g><g clip-path="url(#cc)"><path d="M929.6,685.5 L930.4,685.4 L931.2,685.4 L932.0,685.3 L932.8,685.2 L933.6,685.0 L934.4,684.9 L935.2,684.9 L936.0,684.9 L936.8,684.9 L937.6,684.9 L938.4,684.9 L939.2,684.8 L939.9,684.9 L940.7,684.9 L941.5,685.0 L942.3,685.0 L943.1,685.1 L943.9,684.9 L944.7,684.7 L945.5,684.5 L946.3,684.3 L947.1,684.3 L947.9,684.5 L948.7,684.7 L949.5,684.3 L950.3,684.0 L951.1,683.4 L951.9,682.8 L952.7,682.4 L953.5,681.8 L954.3,681.7 L955.1,681.6 L955.9,682.0 L956.7,682.8 L957.5,683.1 L958.3,683.5 L959.1,683.7 L959.8,684.0 L960.6,684.4 L961.4,685.1 L962.2,685.3 L963.0,685.2 L963.8,685.0 L964.6,684.2 L965.4,683.5 L966.2,682.6 L967.0,682.0 L967.8,681.6 L968.6,681.4 L969.4,681.2 L970.2,680.9 L971.0,680.5 L971.8,680.1 L972.6,680.1 L973.4,680.2 L974.2,680.5 L975.0,680.9 L975.8,681.0 L976.6,681.3 L977.4,681.3 L978.2,681.1 L979.0,681.2 L979.7,681.2 L980.5,681.1 L981.3,681.0 L982.1,680.9 L982.9,681.0 L983.7,681.2 L984.5,681.6 L985.3,681.6 L986.1,681.6 L986.9,681.1 L987.7,680.6 L988.5,680.5 L989.3,679.9 L990.1,679.9 L990.9,679.8 L991.7,679.8 L992.5,680.2 L993.3,680.3 L994.1,680.2 L994.9,679.8 L995.7,679.4 L996.5,679.0 L997.3,679.1 L998.1,679.2 L998.9,679.4 L999.6,679.5 L1000.4,679.6 L1001.2,679.7 L1002.0,679.4 L1002.8,679.6 L1003.6,679.1 L1004.4,678.8 L1005.2,678.2 L1006.0,677.5 L1006.8,677.1 L1007.6,677.0 L1008.4,677.3 L1009.2,677.5 L1010.0,677.9 L1010.8,678.0 L1011.6,678.2 L1012.4,678.4 L1013.2,678.7 L1014.0,678.4 L1014.8,678.0 L1015.6,677.6 L1016.4,677.0 L1017.2,676.8 L1018.0,676.4 L1018.8,676.2 L1019.5,676.2 L1020.3,676.4 L1021.1,676.9 L1021.9,677.1 L1022.7,677.2 L1023.5,677.6 L1024.3,677.7 L1025.1,677.8 L1025.9,677.9 L1026.7,677.6 L1027.5,677.1 L1028.3,676.8 L1029.1,676.5 L1029.9,676.5 L1030.7,676.5 L1031.5,676.4 L1032.3,676.3 L1033.1,676.2 L1033.9,676.0 L1034.7,676.1 L1035.5,676.1 L1036.3,676.0 L1037.1,675.7 L1037.9,675.5 L1038.7,675.2 L1039.4,674.7 L1040.2,674.5 L1041.0,674.4 L1041.8,674.6 L1042.6,674.9 L1043.4,675.0 L1044.2,675.2 L1045.0,675.3 L1045.8,675.5 L1046.6,676.0 L1047.4,676.1 L1048.2,676.3 L1049.0,676.3 L1049.8,676.3 L1050.6,676.4 L1051.4,676.1 L1052.2,675.9 L1053.0,676.0 L1053.8,675.8 L1054.6,675.8 L1055.4,675.9 L1056.2,675.8 L1057.0,675.7 L1057.8,675.4 L1058.6,675.0 L1059.3,674.6 L1060.1,674.2 L1060.9,673.7 L1061.7,673.2 L1062.5,673.0 L1063.3,672.9 L1064.1,673.3 L1064.9,673.4 L1065.7,673.3 L1066.5,673.5 L1067.3,673.6 L1068.1,673.7 L1068.9,673.8 L1069.7,673.8 L1070.5,673.7 L1071.3,673.6 L1072.1,673.7 L1072.9,673.5 L1073.7,673.6 L1074.5,673.5 L1075.3,673.5 L1076.1,673.2 L1076.9,673.3 L1077.7,673.5 L1078.5,673.7 L1079.2,674.0 L1080.0,674.0 L1080.8,673.9 L1081.6,673.8 L1082.4,673.8 L1083.2,673.5 L1084.0,673.2 L1084.8,672.8 L1085.6,672.5 L1086.4,672.3 L1087.2,672.1 L1088.0,671.9 L1088.8,671.9 L1089.6,671.7 L1090.4,672.0 L1091.2,672.3 L1092.0,672.4 L1092.8,672.6 L1093.6,672.6 L1094.4,672.7 L1095.2,672.5 L1096.0,672.6 L1096.8,672.6 L1097.6,672.3 L1098.4,672.5 L1099.1,672.5 L1099.9,672.3 L1100.7,672.2 L1101.5,672.0 L1102.3,672.0 L1103.1,672.2 L1103.9,672.1 L1104.7,672.0 L1105.5,671.8 L1106.3,671.4 L1107.1,671.5 L1107.9,671.5 L1108.7,671.5 L1109.5,671.7 L1110.3,671.8 L1111.1,671.5 L1111.9,671.2 L1112.7,670.7 L1113.5,670.2 L1114.3,669.7 L1115.1,669.5 L1115.9,669.6 L1116.7,669.8 L1117.5,670.3 L1118.3,670.7 L1119.0,670.8 L1119.8,670.9 L1120.6,671.0 L1121.4,671.3 L1122.2,671.4 L1123.0,671.7 L1123.8,671.9 L1124.6,672.0 L1125.4,671.8 L1126.2,671.3 L1127.0,670.7 L1127.8,670.3 L1128.6,670.2 L1129.4,670.1 L1130.2,669.8 L1131.0,669.7 L1131.8,669.5 L1132.6,669.3 L1133.4,669.3 L1134.2,669.3 L1135.0,669.4 L1135.8,669.6 L1136.6,669.7 L1137.4,669.4 L1138.1,669.2 L1138.9,668.7 L1139.7,668.4 L1140.5,668.2 L1141.3,668.2 L1142.1,668.4 L1142.9,668.7 L1143.7,669.2 L1144.5,669.3 L1145.3,669.4 L1146.1,669.3 L1146.9,669.4 L1147.7,669.6 L1148.5,670.1 L1149.3,670.9 L1150.1,671.1 L1150.9,671.3 L1151.7,671.0 L1152.5,670.4 L1153.3,669.9 L1154.1,669.7 L1154.9,669.6 L1155.7,669.3 L1156.5,668.9 L1157.3,668.2 L1158.0,667.5 L1158.8,667.2 L1159.6,666.8 L1160.4,666.6 L1161.2,666.9 L1162.0,667.1 L1162.8,667.7 L1163.6,668.2 L1164.4,668.3 L1165.2,668.4 L1166.0,668.4 L1166.8,668.5 L1167.6,668.4 L1168.4,668.2 L1169.2,667.8 L1170.0,667.2 L1170.8,667.2 L1171.6,667.1 L1172.4,667.3 L1173.2,667.3 L1174.0,667.3 L1174.8,667.3 L1175.6,667.4 L1176.4,667.5 L1177.2,667.6 L1177.9,667.5 L1178.7,667.5 L1179.5,667.9 L1180.3,668.0 L1181.1,667.9 L1181.9,667.8 L1182.7,667.5 L1183.5,667.3 L1184.3,667.2 L1185.1,667.2 L1185.9,667.1 L1186.7,666.7 L1187.5,666.3 L1188.3,666.2 L1189.1,666.3 L1189.9,666.6 L1190.7,666.7 L1191.5,666.4 L1192.3,665.8 L1193.1,665.2 L1193.9,664.9 L1194.7,664.8 L1195.5,664.9 L1196.3,665.2 L1197.1,665.2 L1197.8,665.2 L1198.6,665.4 L1199.4,665.2 L1200.2,665.1 L1201.0,665.2 L1201.8,664.9 L1202.6,664.8 L1203.4,665.2 L1204.2,665.3 L1205.0,665.7 L1205.8,666.0 L1206.6,666.0 L1207.4,666.0 L1208.2,666.1 L1209.0,666.4 L1209.8,666.6 L1210.6,666.6 L1211.4,666.5 L1212.2,666.2 L1213.0,666.0 L1213.8,666.0 L1214.6,665.8 L1215.4,665.5 L1216.2,665.0 L1217.0,664.5 L1217.7,664.3 L1218.5,664.3 L1219.3,664.7 L1220.1,664.9 L1220.9,664.7 L1221.7,664.5 L1222.5,664.3 L1223.3,664.2 L1224.1,664.2 L1224.9,664.2 L1225.7,664.3 L1226.5,664.4 L1227.3,664.4 L1228.1,664.8 L1228.9,665.0 L1229.7,664.9 L1230.5,664.8 L1231.3,664.8 L1232.1,664.8 L1232.9,664.7 L1233.7,664.6 L1234.5,664.0 L1235.3,663.5 L1236.1,663.1 L1236.9,662.6 L1237.6,662.5 L1238.4,662.4 L1239.2,662.4 L1240.0,662.8 L1240.8,662.9 L1241.6,663.1 L1242.4,663.2 L1243.2,663.4 L1244.0,663.8 L1244.8,664.2 L1245.6,664.7 L1246.4,664.9 L1247.2,665.2 L1248.0,665.2 L1248.8,665.3 L1249.6,665.4 L1250.4,665.1 L1251.2,664.8 L1252.0,664.7 L1252.8,664.3 L1253.6,663.9 L1254.4,663.7 L1255.2,663.4 L1256.0,663.3 L1256.8,663.2 L1257.5,663.1 L1258.3,663.1 L1259.1,663.4 L1259.9,663.6 L1260.7,663.7 L1261.5,663.6 L1262.3,663.3 L1263.1,663.0 L1263.9,662.6 L1264.7,662.6 L1265.5,662.8 L1266.3,663.3 L1267.1,664.1 L1267.9,664.5 L1268.7,664.6 L1269.5,664.8 L1270.3,664.7 L1271.1,664.5 L1271.9,664.2 L1272.7,663.9 L1273.5,663.8 L1274.3,664.0 L1275.1,664.2 L1275.9,664.6 L1276.7,665.0 L1277.4,664.7 L1278.2,664.3 L1279.0,663.6 L1279.8,662.7 L1280.6,662.5 L1281.4,662.4 L1282.2,662.5 L1283.0,662.9 L1283.8,663.0 L1284.6,662.7 L1285.4,662.4 L1286.2,662.0 L1287.0,661.8 L1287.8,662.1 L1288.6,662.5 L1289.4,663.1 L1290.2,663.5 L1291.0,663.5 L1291.8,663.1 L1292.6,662.2 L1293.4,661.7 L1294.2,661.5 L1295.0,661.4 L1295.8,661.3 L1296.6,661.0 L1297.3,660.3 L1298.1,660.2 L1298.9,660.3 L1299.7,660.8 L1300.5,661.5 L1301.3,662.1 L1302.1,662.7 L1302.9,662.9 L1303.7,663.0 L1304.5,662.9 L1305.3,662.5 L1306.1,662.4 L1306.9,662.5 L1307.7,662.8 L1308.5,663.2 L1309.3,663.5 L1310.1,663.7 L1310.9,663.5 L1311.7,663.1 L1312.5,662.7 L1313.3,662.5 L1314.1,662.4 L1314.9,662.4 L1315.7,662.7 L1316.5,663.1 L1317.2,663.1 L1318.0,663.0 L1318.8,662.6 L1319.6,662.2 L1320.4,661.8 L1321.2,661.5 L1322.0,661.3 L1322.8,660.8 L1323.6,660.9 L1324.4,661.0 L1325.2,661.2 L1326.0,661.7 L1326.8,662.0" fill="none" stroke="#000000" stroke-width="5.4" stroke-linejoin="round" stroke-linecap="square" stroke-opacity="0.1"/><path d="M929.6,685.5 L930.4,685.4 L931.2,685.4 L932.0,685.4 L932.8,685.4 L933.6,685.3 L934.4,685.3 L935.2,685.2 L936.0,685.1 L936.8,685.0 L937.6,684.8 L938.4,684.6 L939.2,684.4 L939.9,684.3 L940.7,684.2 L941.5,684.0 L942.3,683.9 L943.1,683.8 L943.9,683.9 L944.7,684.1 L945.5,684.1 L946.3,684.0 L947.1,683.9 L947.9,684.0 L948.7,684.3 L949.5,684.6 L950.3,684.8 L951.1,685.0 L951.9,685.0 L952.7,684.7 L953.5,684.5 L954.3,684.1 L955.1,683.9 L955.9,683.5 L956.7,683.2 L957.5,683.5 L958.3,683.6 L959.1,684.1 L959.8,684.2 L960.6,683.9 L961.4,683.9 L962.2,683.8 L963.0,683.5 L963.8,683.4 L964.6,682.8 L965.4,682.2 L966.2,682.1 L967.0,682.1 L967.8,682.5 L968.6,683.1 L969.4,683.5 L970.2,683.7 L971.0,684.0 L971.8,683.8 L972.6,684.1 L973.4,684.3 L974.2,684.2 L975.0,684.1 L975.8,683.9 L976.6,683.5 L977.4,683.2 L978.2,683.0 L979.0,682.6 L979.7,682.3 L980.5,681.9 L981.3,682.0 L982.1,682.2 L982.9,682.4 L983.7,682.8 L984.5,682.6 L985.3,682.2 L986.1,681.8 L986.9,681.2 L987.7,680.9 L988.5,680.9 L989.3,681.1 L990.1,681.5 L990.9,681.9 L991.7,682.1 L992.5,682.3 L993.3,682.4 L994.1,682.6 L994.9,682.8 L995.7,682.9 L996.5,683.0 L997.3,682.9 L998.1,682.7 L998.9,682.7 L999.6,682.7 L1000.4,682.5 L1001.2,682.6 L1002.0,682.6 L1002.8,682.0 L1003.6,681.8 L1004.4,681.6 L1005.2,681.3 L1006.0,681.1 L1006.8,680.7 L1007.6,680.6 L1008.4,680.8 L1009.2,681.3 L1010.0,682.0 L1010.8,682.2 L1011.6,682.4 L1012.4,682.4 L1013.2,682.0 L1014.0,682.0 L1014.8,681.8 L1015.6,681.9 L1016.4,682.3 L1017.2,682.5 L1018.0,682.8 L1018.8,682.8 L1019.5,682.6 L1020.3,682.3 L1021.1,682.2 L1021.9,682.1 L1022.7,681.9 L1023.5,681.9 L1024.3,681.9 L1025.1,681.8 L1025.9,681.7 L1026.7,681.7 L1027.5,681.6 L1028.3,681.6 L1029.1,681.6 L1029.9,681.6 L1030.7,681.5 L1031.5,681.5 L1032.3,681.1 L1033.1,680.6 L1033.9,680.1 L1034.7,679.8 L1035.5,679.7 L1036.3,679.7 L1037.1,679.8 L1037.9,680.1 L1038.7,680.7 L1039.4,681.4 L1040.2,681.8 L1041.0,681.9 L1041.8,682.0 L1042.6,682.0 L1043.4,682.2 L1044.2,682.4 L1045.0,682.5 L1045.8,682.6 L1046.6,682.6 L1047.4,682.9 L1048.2,683.3 L1049.0,683.4 L1049.8,683.3 L1050.6,682.9 L1051.4,682.4 L1052.2,682.0 L1053.0,681.7 L1053.8,681.2 L1054.6,680.8 L1055.4,680.6 L1056.2,680.1 L1057.0,679.7 L1057.8,679.3 L1058.6,678.8 L1059.3,678.6 L1060.1,678.4 L1060.9,678.5 L1061.7,678.6 L1062.5,678.7 L1063.3,678.9 L1064.1,678.7 L1064.9,678.6 L1065.7,678.6 L1066.5,678.8 L1067.3,679.0 L1068.1,679.2 L1068.9,679.1 L1069.7,679.1 L1070.5,678.8 L1071.3,678.6 L1072.1,678.3 L1072.9,678.2 L1073.7,678.6 L1074.5,679.1 L1075.3,679.8 L1076.1,680.3 L1076.9,680.4 L1077.7,680.2 L1078.5,679.9 L1079.2,679.5 L1080.0,679.4 L1080.8,679.7 L1081.6,679.6 L1082.4,679.5 L1083.2,679.2 L1084.0,678.8 L1084.8,678.5 L1085.6,678.1 L1086.4,677.4 L1087.2,676.7 L1088.0,676.3 L1088.8,676.1 L1089.6,676.2 L1090.4,676.5 L1091.2,676.8 L1092.0,677.1 L1092.8,677.3 L1093.6,677.3 L1094.4,677.3 L1095.2,677.3 L1096.0,677.3 L1096.8,677.4 L1097.6,677.3 L1098.4,677.0 L1099.1,676.8 L1099.9,676.7 L1100.7,676.4 L1101.5,676.4 L1102.3,676.0 L1103.1,675.4 L1103.9,674.9 L1104.7,674.5 L1105.5,674.6 L1106.3,674.7 L1107.1,674.8 L1107.9,674.8 L1108.7,674.7 L1109.5,674.8 L1110.3,675.2 L1111.1,675.5 L1111.9,675.8 L1112.7,675.9 L1113.5,675.8 L1114.3,675.8 L1115.1,675.8 L1115.9,675.8 L1116.7,675.8 L1117.5,675.5 L1118.3,675.3 L1119.0,675.3 L1119.8,675.6 L1120.6,675.8 L1121.4,675.7 L1122.2,675.4 L1123.0,674.8 L1123.8,674.5 L1124.6,674.2 L1125.4,674.2 L1126.2,674.2 L1127.0,673.7 L1127.8,673.6 L1128.6,673.3 L1129.4,673.3 L1130.2,673.5 L1131.0,673.5 L1131.8,673.4 L1132.6,673.8 L1133.4,674.3 L1134.2,674.9 L1135.0,675.5 L1135.8,675.4 L1136.6,675.0 L1137.4,674.5 L1138.1,674.0 L1138.9,673.6 L1139.7,673.8 L1140.5,674.2 L1141.3,674.5 L1142.1,674.8 L1142.9,674.5 L1143.7,674.1 L1144.5,673.6 L1145.3,673.2 L1146.1,672.9 L1146.9,672.8 L1147.7,673.1 L1148.5,673.4 L1149.3,674.0 L1150.1,674.0 L1150.9,673.9 L1151.7,673.7 L1152.5,673.3 L1153.3,672.9 L1154.1,673.0 L1154.9,672.9 L1155.7,673.0 L1156.5,673.1 L1157.3,672.8 L1158.0,672.8 L1158.8,672.9 L1159.6,673.1 L1160.4,673.3 L1161.2,673.1 L1162.0,672.7 L1162.8,671.9 L1163.6,671.5 L1164.4,671.6 L1165.2,671.9 L1166.0,672.6 L1166.8,672.9 L1167.6,672.7 L1168.4,672.4 L1169.2,672.3 L1170.0,672.3 L1170.8,672.4 L1171.6,672.3 L1172.4,672.0 L1173.2,671.9 L1174.0,671.6 L1174.8,671.7 L1175.6,671.6 L1176.4,671.6 L1177.2,671.7 L1177.9,671.6 L1178.7,671.6 L1179.5,671.3 L1180.3,671.1 L1181.1,671.0 L1181.9,671.2 L1182.7,671.6 L1183.5,671.9 L1184.3,672.2 L1185.1,672.0 L1185.9,671.5 L1186.7,671.3 L1187.5,671.3 L1188.3,671.4 L1189.1,671.4 L1189.9,671.4 L1190.7,671.4 L1191.5,671.3 L1192.3,671.6 L1193.1,671.8 L1193.9,671.9 L1194.7,672.0 L1195.5,672.1 L1196.3,671.9 L1197.1,671.9 L1197.8,671.6 L1198.6,671.3 L1199.4,671.3 L1200.2,671.2 L1201.0,671.4 L1201.8,671.4 L1202.6,671.4 L1203.4,671.6 L1204.2,672.1 L1205.0,672.1 L1205.8,671.9 L1206.6,671.6 L1207.4,671.1 L1208.2,670.9 L1209.0,670.9 L1209.8,670.9 L1210.6,670.5 L1211.4,670.2 L1212.2,669.9 L1213.0,669.9 L1213.8,670.5 L1214.6,671.4 L1215.4,672.1 L1216.2,672.7 L1217.0,672.8 L1217.7,672.5 L1218.5,672.3 L1219.3,672.3 L1220.1,672.5 L1220.9,672.6 L1221.7,672.5 L1222.5,672.1 L1223.3,671.6 L1224.1,670.9 L1224.9,670.6 L1225.7,670.5 L1226.5,670.6 L1227.3,670.8 L1228.1,670.9 L1228.9,670.7 L1229.7,670.4 L1230.5,670.2 L1231.3,670.3 L1232.1,670.5 L1232.9,670.8 L1233.7,670.7 L1234.5,670.6 L1235.3,670.6 L1236.1,670.6 L1236.9,670.7 L1237.6,671.0 L1238.4,671.6 L1239.2,671.8 L1240.0,672.3 L1240.8,672.4 L1241.6,672.5 L1242.4,672.7 L1243.2,672.6 L1244.0,672.6 L1244.8,672.3 L1245.6,671.8 L1246.4,671.7 L1247.2,671.5 L1248.0,671.2 L1248.8,670.7 L1249.6,669.9 L1250.4,669.1 L1251.2,668.8 L1252.0,669.0 L1252.8,669.2 L1253.6,669.6 L1254.4,669.9 L1255.2,670.0 L1256.0,670.4 L1256.8,670.5 L1257.5,670.4 L1258.3,670.3 L1259.1,670.3 L1259.9,670.6 L1260.7,670.9 L1261.5,671.5 L1262.3,671.7 L1263.1,671.8 L1263.9,672.0 L1264.7,671.9 L1265.5,671.7 L1266.3,671.5 L1267.1,671.3 L1267.9,670.9 L1268.7,670.8 L1269.5,670.9 L1270.3,670.6 L1271.1,670.6 L1271.9,670.0 L1272.7,669.5 L1273.5,669.1 L1274.3,669.0 L1275.1,669.4 L1275.9,669.7 L1276.7,670.3 L1277.4,670.8 L1278.2,671.0 L1279.0,670.6 L1279.8,670.1 L1280.6,669.4 L1281.4,668.8 L1282.2,668.9 L1283.0,669.3 L1283.8,669.7 L1284.6,670.0 L1285.4,670.2 L1286.2,670.1 L1287.0,670.2 L1287.8,670.4 L1288.6,670.6 L1289.4,670.5 L1290.2,670.1 L1291.0,669.5 L1291.8,669.1 L1292.6,669.0 L1293.4,669.1 L1294.2,669.5 L1295.0,669.9 L1295.8,670.4 L1296.6,670.7 L1297.3,670.6 L1298.1,670.5 L1298.9,670.4 L1299.7,670.5 L1300.5,670.7 L1301.3,670.8 L1302.1,670.8 L1302.9,671.0 L1303.7,671.1 L1304.5,671.5 L1305.3,671.4 L1306.1,671.1 L1306.9,670.7 L1307.7,670.2 L1308.5,669.8 L1309.3,669.6 L1310.1,669.2 L1310.9,669.2 L1311.7,669.4 L1312.5,669.4 L1313.3,669.8 L1314.1,669.6 L1314.9,669.5 L1315.7,669.5 L1316.5,669.5 L1317.2,669.7 L1318.0,669.9 L1318.8,669.7 L1319.6,669.7 L1320.4,670.0 L1321.2,670.4 L1322.0,670.9 L1322.8,671.3 L1323.6,671.5 L1324.4,671.6 L1325.2,671.4 L1326.0,671.3 L1326.8,671.1" fill="none" stroke="#000000" stroke-width="5.4" stroke-linejoin="round" stroke-linecap="square" stroke-opacity="0.1"/><path d="M929.6,685.5 L930.4,685.4 L931.2,685.4 L932.0,685.4 L932.8,685.3 L933.6,685.3 L934.4,685.2 L935.2,685.0 L936.0,684.9 L936.8,684.8 L937.6,684.8 L938.4,684.8 L939.2,684.8 L939.9,684.8 L940.7,684.7 L941.5,684.6 L942.3,684.4 L943.1,684.3 L943.9,684.3 L944.7,684.1 L945.5,683.9 L946.3,683.5 L947.1,683.3 L947.9,683.1 L948.7,683.0 L949.5,683.0 L950.3,683.1 L951.1,683.1 L951.9,683.1 L952.7,683.2 L953.5,683.2 L954.3,682.9 L955.1,682.9 L955.9,683.2 L956.7,683.4 L957.5,683.9 L958.3,684.0 L959.1,683.4 L959.8,682.9 L960.6,682.3 L961.4,681.9 L962.2,681.9 L963.0,681.9 L963.8,682.0 L964.6,682.0 L965.4,682.4 L966.2,682.7 L967.0,682.8 L967.8,682.8 L968.6,682.5 L969.4,682.2 L970.2,682.0 L971.0,682.0 L971.8,681.9 L972.6,681.7 L973.4,681.3 L974.2,680.7 L975.0,680.0 L975.8,679.6 L976.6,679.5 L977.4,679.8 L978.2,680.3 L979.0,680.7 L979.7,680.7 L980.5,680.7 L981.3,680.6 L982.1,680.7 L982.9,680.9 L983.7,681.1 L984.5,681.3 L985.3,681.5 L986.1,681.4 L986.9,681.1 L987.7,681.0 L988.5,680.7 L989.3,680.5 L990.1,680.5 L990.9,680.3 L991.7,680.1 L992.5,680.0 L993.3,679.7 L994.1,679.7 L994.9,679.5 L995.7,679.2 L996.5,678.9 L997.3,678.5 L998.1,678.3 L998.9,677.9 L999.6,677.6 L1000.4,677.5 L1001.2,677.3 L1002.0,677.6 L1002.8,677.8 L1003.6,678.2 L1004.4,678.6 L1005.2,678.6 L1006.0,678.5 L1006.8,678.2 L1007.6,678.2 L1008.4,678.4 L1009.2,678.6 L1010.0,678.7 L1010.8,678.5 L1011.6,678.2 L1012.4,677.9 L1013.2,677.9 L1014.0,677.9 L1014.8,678.0 L1015.6,678.2 L1016.4,678.1 L1017.2,678.0 L1018.0,678.1 L1018.8,678.1 L1019.5,678.0 L1020.3,678.0 L1021.1,677.5 L1021.9,677.5 L1022.7,677.4 L1023.5,677.2 L1024.3,677.0 L1025.1,676.6 L1025.9,676.3 L1026.7,676.2 L1027.5,676.3 L1028.3,676.5 L1029.1,676.6 L1029.9,676.4 L1030.7,676.3 L1031.5,676.3 L1032.3,676.3 L1033.1,676.4 L1033.9,676.6 L1034.7,676.7 L1035.5,676.8 L1036.3,677.0 L1037.1,677.1 L1037.9,677.2 L1038.7,677.4 L1039.4,677.8 L1040.2,678.0 L1041.0,677.8 L1041.8,677.8 L1042.6,677.7 L1043.4,677.6 L1044.2,677.6 L1045.0,677.1 L1045.8,676.3 L1046.6,675.6 L1047.4,675.2 L1048.2,674.7 L1049.0,674.4 L1049.8,674.4 L1050.6,674.4 L1051.4,674.8 L1052.2,675.2 L1053.0,675.2 L1053.8,675.4 L1054.6,675.2 L1055.4,675.4 L1056.2,675.7 L1057.0,676.1 L1057.8,676.5 L1058.6,676.6 L1059.3,676.6 L1060.1,676.5 L1060.9,676.5 L1061.7,676.7 L1062.5,676.8 L1063.3,677.0 L1064.1,677.2 L1064.9,677.0 L1065.7,677.0 L1066.5,676.7 L1067.3,676.4 L1068.1,676.2 L1068.9,676.3 L1069.7,676.6 L1070.5,676.9 L1071.3,676.9 L1072.1,676.6 L1072.9,676.1 L1073.7,675.5 L1074.5,675.0 L1075.3,674.7 L1076.1,674.5 L1076.9,674.7 L1077.7,674.9 L1078.5,675.3 L1079.2,675.9 L1080.0,676.1 L1080.8,676.4 L1081.6,676.5 L1082.4,676.4 L1083.2,676.8 L1084.0,676.9 L1084.8,677.2 L1085.6,677.5 L1086.4,677.7 L1087.2,677.8 L1088.0,677.8 L1088.8,677.7 L1089.6,677.3 L1090.4,677.1 L1091.2,676.7 L1092.0,676.3 L1092.8,676.0 L1093.6,675.8 L1094.4,675.7 L1095.2,675.7 L1096.0,675.7 L1096.8,675.5 L1097.6,675.2 L1098.4,674.8 L1099.1,674.5 L1099.9,674.5 L1100.7,674.6 L1101.5,675.0 L1102.3,675.3 L1103.1,675.5 L1103.9,675.7 L1104.7,675.7 L1105.5,675.8 L1106.3,675.7 L1107.1,676.1 L1107.9,676.5 L1108.7,676.8 L1109.5,677.1 L1110.3,677.1 L1111.1,676.7 L1111.9,676.4 L1112.7,676.2 L1113.5,676.2 L1114.3,676.6 L1115.1,676.8 L1115.9,676.9 L1116.7,676.8 L1117.5,676.3 L1118.3,675.9 L1119.0,675.6 L1119.8,675.2 L1120.6,675.3 L1121.4,675.3 L1122.2,675.2 L1123.0,675.0 L1123.8,674.5 L1124.6,674.1 L1125.4,674.0 L1126.2,673.7 L1127.0,673.6 L1127.8,673.6 L1128.6,673.5 L1129.4,674.0 L1130.2,674.5 L1131.0,674.9 L1131.8,675.5 L1132.6,675.9 L1133.4,676.1 L1134.2,676.0 L1135.0,675.7 L1135.8,675.4 L1136.6,675.5 L1137.4,675.8 L1138.1,676.3 L1138.9,676.7 L1139.7,676.7 L1140.5,676.6 L1141.3,676.3 L1142.1,676.0 L1142.9,675.6 L1143.7,675.2 L1144.5,674.7 L1145.3,674.4 L1146.1,674.1 L1146.9,674.0 L1147.7,674.2 L1148.5,674.2 L1149.3,674.6 L1150.1,674.9 L1150.9,675.4 L1151.7,676.0 L1152.5,676.3 L1153.3,676.2 L1154.1,676.0 L1154.9,675.9 L1155.7,676.0 L1156.5,676.2 L1157.3,676.2 L1158.0,675.9 L1158.8,675.2 L1159.6,674.6 L1160.4,674.2 L1161.2,673.8 L1162.0,673.6 L1162.8,673.6 L1163.6,673.8 L1164.4,674.0 L1165.2,674.2 L1166.0,673.9 L1166.8,673.5 L1167.6,673.5 L1168.4,673.7 L1169.2,674.4 L1170.0,675.2 L1170.8,675.6 L1171.6,675.8 L1172.4,675.6 L1173.2,675.5 L1174.0,675.6 L1174.8,675.6 L1175.6,675.4 L1176.4,674.9 L1177.2,674.3 L1177.9,673.7 L1178.7,673.3 L1179.5,673.1 L1180.3,672.9 L1181.1,673.1 L1181.9,673.1 L1182.7,673.1 L1183.5,673.3 L1184.3,673.3 L1185.1,673.5 L1185.9,673.9 L1186.7,674.1 L1187.5,674.1 L1188.3,674.3 L1189.1,674.3 L1189.9,674.2 L1190.7,674.2 L1191.5,674.1 L1192.3,674.2 L1193.1,674.3 L1193.9,674.3 L1194.7,674.3 L1195.5,674.2 L1196.3,673.8 L1197.1,673.7 L1197.8,673.5 L1198.6,673.1 L1199.4,672.9 L1200.2,672.6 L1201.0,672.3 L1201.8,672.2 L1202.6,672.1 L1203.4,672.3 L1204.2,672.3 L1205.0,672.3 L1205.8,672.2 L1206.6,672.1 L1207.4,672.1 L1208.2,671.8 L1209.0,671.6 L1209.8,671.4 L1210.6,671.2 L1211.4,671.5 L1212.2,671.6 L1213.0,671.5 L1213.8,671.6 L1214.6,671.5 L1215.4,671.7 L1216.2,672.1 L1217.0,672.6 L1217.7,673.1 L1218.5,673.7 L1219.3,674.1 L1220.1,674.2 L1220.9,674.0 L1221.7,673.6 L1222.5,673.1 L1223.3,672.7 L1224.1,672.6 L1224.9,672.4 L1225.7,672.6 L1226.5,672.7 L1227.3,673.0 L1228.1,673.3 L1228.9,673.6 L1229.7,673.7 L1230.5,673.6 L1231.3,673.5 L1232.1,673.4 L1232.9,673.5 L1233.7,673.5 L1234.5,673.4 L1235.3,673.2 L1236.1,673.1 L1236.9,672.8 L1237.6,672.5 L1238.4,672.3 L1239.2,672.0 L1240.0,672.0 L1240.8,672.2 L1241.6,672.5 L1242.4,672.9 L1243.2,673.3 L1244.0,673.5 L1244.8,673.8 L1245.6,673.9 L1246.4,674.0 L1247.2,674.2 L1248.0,674.0 L1248.8,673.9 L1249.6,673.7 L1250.4,673.1 L1251.2,672.7 L1252.0,671.9 L1252.8,671.5 L1253.6,671.4 L1254.4,671.3 L1255.2,671.6 L1256.0,671.6 L1256.8,671.6 L1257.5,672.0 L1258.3,672.2 L1259.1,672.6 L1259.9,672.8 L1260.7,672.9 L1261.5,673.2 L1262.3,673.4 L1263.1,673.8 L1263.9,674.1 L1264.7,674.0 L1265.5,673.7 L1266.3,673.4 L1267.1,673.0 L1267.9,672.7 L1268.7,672.6 L1269.5,672.2 L1270.3,671.8 L1271.1,671.4 L1271.9,671.3 L1272.7,671.5 L1273.5,671.5 L1274.3,671.7 L1275.1,672.0 L1275.9,672.5 L1276.7,673.2 L1277.4,673.5 L1278.2,673.7 L1279.0,673.7 L1279.8,673.7 L1280.6,673.8 L1281.4,673.7 L1282.2,673.5 L1283.0,673.3 L1283.8,673.1 L1284.6,672.7 L1285.4,672.5 L1286.2,672.2 L1287.0,671.8 L1287.8,671.7 L1288.6,671.9 L1289.4,672.0 L1290.2,672.2 L1291.0,672.5 L1291.8,672.7 L1292.6,673.1 L1293.4,673.7 L1294.2,674.2 L1295.0,674.4 L1295.8,674.5 L1296.6,674.3 L1297.3,674.0 L1298.1,673.6 L1298.9,673.2 L1299.7,672.8 L1300.5,672.5 L1301.3,672.3 L1302.1,672.2 L1302.9,672.2 L1303.7,672.4 L1304.5,672.8 L1305.3,673.0 L1306.1,673.3 L1306.9,673.5 L1307.7,673.4 L1308.5,673.7 L1309.3,673.9 L1310.1,674.1 L1310.9,674.4 L1311.7,674.3 L1312.5,674.4 L1313.3,674.2 L1314.1,673.9 L1314.9,673.6 L1315.7,673.1 L1316.5,673.0 L1317.2,673.1 L1318.0,673.1 L1318.8,673.2 L1319.6,673.1 L1320.4,672.9 L1321.2,672.7 L1322.0,672.7 L1322.8,672.7 L1323.6,672.7 L1324.4,672.6 L1325.2,672.5 L1326.0,672.6 L1326.8,672.8" fill="none" stroke="#000000" stroke-width="5.4" stroke-linejoin="round" stroke-linecap="square" stroke-opacity="0.1"/><path d="M929.6,685.5 L930.4,685.4 L931.2,685.4 L932.0,685.3 L932.8,685.1 L933.6,684.9 L934.4,684.8 L935.2,684.7 L936.0,684.6 L936.8,684.6 L937.6,684.7 L938.4,684.8 L939.2,685.0 L939.9,685.2 L940.7,685.3 L941.5,685.1 L942.3,684.9 L943.1,684.5 L943.9,684.3 L944.7,684.1 L945.5,683.7 L946.3,683.6 L947.1,683.5 L947.9,683.6 L948.7,683.9 L949.5,683.8 L950.3,683.9 L951.1,683.9 L951.9,683.7 L952.7,683.7 L953.5,683.6 L954.3,683.5 L955.1,683.9 L955.9,684.2 L956.7,684.4 L957.5,684.4 L958.3,683.9 L959.1,683.3 L959.8,682.8 L960.6,682.3 L961.4,682.4 L962.2,682.6 L963.0,682.7 L963.8,682.7 L964.6,682.6 L965.4,682.5 L966.2,682.4 L967.0,682.3 L967.8,682.2 L968.6,682.1 L969.4,682.2 L970.2,682.2 L971.0,682.2 L971.8,682.3 L972.6,682.5 L973.4,682.8 L974.2,683.1 L975.0,683.4 L975.8,683.6 L976.6,683.7 L977.4,683.8 L978.2,683.9 L979.0,683.8 L979.7,683.8 L980.5,683.7 L981.3,683.7 L982.1,683.9 L982.9,683.6 L983.7,683.3 L984.5,682.8 L985.3,682.1 L986.1,682.0 L986.9,682.1 L987.7,682.3 L988.5,682.3 L989.3,682.6 L990.1,682.4 L990.9,682.3 L991.7,682.4 L992.5,682.6 L993.3,683.3 L994.1,683.9 L994.9,684.4 L995.7,684.7 L996.5,685.0 L997.3,685.6 L998.1,686.0 L998.9,686.2 L999.6,686.1 L1000.4,685.7 L1001.2,685.3 L1002.0,684.8 L1002.8,684.5 L1003.6,684.3 L1004.4,684.2 L1005.2,684.2 L1006.0,684.1 L1006.8,683.7 L1007.6,683.4 L1008.4,683.1 L1009.2,682.9 L1010.0,683.2 L1010.8,683.7 L1011.6,684.4 L1012.4,684.9 L1013.2,685.1 L1014.0,685.1 L1014.8,685.2 L1015.6,685.5 L1016.4,685.5 L1017.2,685.4 L1018.0,685.1 L1018.8,684.8 L1019.5,684.6 L1020.3,684.5 L1021.1,684.3 L1021.9,683.9 L1022.7,683.5 L1023.5,683.2 L1024.3,683.2 L1025.1,683.1 L1025.9,683.4 L1026.7,683.7 L1027.5,683.9 L1028.3,684.2 L1029.1,684.4 L1029.9,684.2 L1030.7,684.2 L1031.5,684.4 L1032.3,684.7 L1033.1,685.1 L1033.9,685.2 L1034.7,685.2 L1035.5,684.9 L1036.3,684.7 L1037.1,684.5 L1037.9,684.4 L1038.7,684.4 L1039.4,684.5 L1040.2,684.6 L1041.0,684.8 L1041.8,685.1 L1042.6,685.3 L1043.4,685.6 L1044.2,685.8 L1045.0,685.8 L1045.8,685.9 L1046.6,685.8 L1047.4,685.9 L1048.2,685.9 L1049.0,686.1 L1049.8,686.3 L1050.6,686.1 L1051.4,685.8 L1052.2,685.3 L1053.0,684.7 L1053.8,684.2 L1054.6,684.0 L1055.4,683.7 L1056.2,683.5 L1057.0,683.3 L1057.8,683.2 L1058.6,683.1 L1059.3,683.1 L1060.1,683.0 L1060.9,682.9 L1061.7,683.0 L1062.5,683.0 L1063.3,683.3 L1064.1,683.6 L1064.9,683.8 L1065.7,684.0 L1066.5,684.0 L1067.3,683.9 L1068.1,684.0 L1068.9,684.0 L1069.7,684.3 L1070.5,684.2 L1071.3,684.0 L1072.1,683.8 L1072.9,683.8 L1073.7,684.0 L1074.5,684.0 L1075.3,683.7 L1076.1,683.2 L1076.9,682.8 L1077.7,682.7 L1078.5,682.7 L1079.2,683.1 L1080.0,683.4 L1080.8,683.6 L1081.6,684.2 L1082.4,684.4 L1083.2,684.6 L1084.0,684.6 L1084.8,684.1 L1085.6,683.8 L1086.4,683.3 L1087.2,682.8 L1088.0,682.4 L1088.8,682.0 L1089.6,681.8 L1090.4,682.1 L1091.2,682.3 L1092.0,682.6 L1092.8,683.0 L1093.6,683.2 L1094.4,683.4 L1095.2,683.6 L1096.0,683.7 L1096.8,683.2 L1097.6,682.7 L1098.4,682.1 L1099.1,681.6 L1099.9,681.2 L1100.7,680.8 L1101.5,680.7 L1102.3,680.5 L1103.1,680.6 L1103.9,680.7 L1104.7,680.9 L1105.5,681.2 L1106.3,681.5 L1107.1,681.9 L1107.9,682.1 L1108.7,682.4 L1109.5,682.5 L1110.3,682.5 L1111.1,682.6 L1111.9,682.7 L1112.7,683.1 L1113.5,683.2 L1114.3,683.2 L1115.1,683.2 L1115.9,682.6 L1116.7,682.5 L1117.5,682.4 L1118.3,682.6 L1119.0,683.0 L1119.8,683.4 L1120.6,683.5 L1121.4,683.3 L1122.2,683.0 L1123.0,682.7 L1123.8,682.2 L1124.6,681.8 L1125.4,681.1 L1126.2,680.5 L1127.0,680.5 L1127.8,680.5 L1128.6,680.5 L1129.4,680.6 L1130.2,680.5 L1131.0,680.6 L1131.8,680.8 L1132.6,680.9 L1133.4,680.9 L1134.2,680.8 L1135.0,680.8 L1135.8,681.0 L1136.6,681.4 L1137.4,681.7 L1138.1,682.2 L1138.9,682.4 L1139.7,682.2 L1140.5,681.9 L1141.3,681.8 L1142.1,681.6 L1142.9,681.7 L1143.7,681.7 L1144.5,681.3 L1145.3,680.9 L1146.1,680.4 L1146.9,680.0 L1147.7,680.1 L1148.5,680.2 L1149.3,680.1 L1150.1,680.1 L1150.9,679.5 L1151.7,679.4 L1152.5,679.5 L1153.3,679.5 L1154.1,679.6 L1154.9,679.3 L1155.7,679.1 L1156.5,678.7 L1157.3,678.6 L1158.0,678.7 L1158.8,678.9 L1159.6,679.6 L1160.4,680.3 L1161.2,680.9 L1162.0,681.1 L1162.8,680.8 L1163.6,680.3 L1164.4,679.7 L1165.2,679.8 L1166.0,680.1 L1166.8,680.2 L1167.6,680.4 L1168.4,680.1 L1169.2,679.9 L1170.0,680.0 L1170.8,680.0 L1171.6,680.0 L1172.4,679.8 L1173.2,679.4 L1174.0,678.8 L1174.8,678.4 L1175.6,678.1 L1176.4,678.1 L1177.2,678.4 L1177.9,678.9 L1178.7,679.7 L1179.5,680.2 L1180.3,680.6 L1181.1,680.5 L1181.9,680.4 L1182.7,680.2 L1183.5,680.5 L1184.3,680.8 L1185.1,680.9 L1185.9,680.7 L1186.7,680.3 L1187.5,679.9 L1188.3,679.8 L1189.1,679.8 L1189.9,679.8 L1190.7,679.9 L1191.5,679.8 L1192.3,679.6 L1193.1,679.1 L1193.9,678.6 L1194.7,678.2 L1195.5,678.2 L1196.3,678.6 L1197.1,678.9 L1197.8,679.0 L1198.6,679.0 L1199.4,678.9 L1200.2,678.7 L1201.0,678.8 L1201.8,678.9 L1202.6,678.8 L1203.4,679.0 L1204.2,678.9 L1205.0,678.7 L1205.8,678.4 L1206.6,678.2 L1207.4,677.9 L1208.2,677.7 L1209.0,678.3 L1209.8,678.5 L1210.6,679.0 L1211.4,679.1 L1212.2,678.5 L1213.0,678.2 L1213.8,677.6 L1214.6,677.6 L1215.4,677.8 L1216.2,677.7 L1217.0,677.7 L1217.7,677.5 L1218.5,677.7 L1219.3,678.4 L1220.1,679.3 L1220.9,680.2 L1221.7,680.5 L1222.5,680.5 L1223.3,680.2 L1224.1,680.0 L1224.9,679.9 L1225.7,679.6 L1226.5,679.4 L1227.3,679.0 L1228.1,678.6 L1228.9,678.5 L1229.7,678.3 L1230.5,678.2 L1231.3,678.4 L1232.1,678.6 L1232.9,678.8 L1233.7,679.0 L1234.5,679.2 L1235.3,678.9 L1236.1,678.9 L1236.9,678.9 L1237.6,678.9 L1238.4,679.1 L1239.2,679.1 L1240.0,679.1 L1240.8,679.2 L1241.6,679.4 L1242.4,679.4 L1243.2,679.4 L1244.0,679.6 L1244.8,679.8 L1245.6,680.0 L1246.4,679.9 L1247.2,679.9 L1248.0,679.7 L1248.8,679.1 L1249.6,678.9 L1250.4,678.6 L1251.2,678.3 L1252.0,678.8 L1252.8,678.9 L1253.6,678.9 L1254.4,678.7 L1255.2,678.4 L1256.0,678.1 L1256.8,678.0 L1257.5,678.0 L1258.3,678.1 L1259.1,678.2 L1259.9,678.0 L1260.7,677.8 L1261.5,677.9 L1262.3,678.0 L1263.1,678.3 L1263.9,678.4 L1264.7,678.3 L1265.5,678.3 L1266.3,678.3 L1267.1,678.4 L1267.9,678.3 L1268.7,678.2 L1269.5,678.0 L1270.3,678.0 L1271.1,678.4 L1271.9,678.8 L1272.7,679.4 L1273.5,679.8 L1274.3,680.0 L1275.1,680.0 L1275.9,680.0 L1276.7,680.0 L1277.4,680.0 L1278.2,679.9 L1279.0,679.5 L1279.8,678.8 L1280.6,678.4 L1281.4,677.8 L1282.2,677.5 L1283.0,677.4 L1283.8,677.4 L1284.6,677.8 L1285.4,678.3 L1286.2,678.8 L1287.0,679.2 L1287.8,679.4 L1288.6,679.5 L1289.4,679.7 L1290.2,679.7 L1291.0,679.9 L1291.8,679.8 L1292.6,679.7 L1293.4,679.6 L1294.2,679.6 L1295.0,679.4 L1295.8,679.2 L1296.6,679.0 L1297.3,678.7 L1298.1,678.9 L1298.9,679.1 L1299.7,679.1 L1300.5,679.1 L1301.3,678.9 L1302.1,678.5 L1302.9,678.5 L1303.7,678.3 L1304.5,678.4 L1305.3,678.5 L1306.1,678.5 L1306.9,678.5 L1307.7,678.6 L1308.5,678.6 L1309.3,678.5 L1310.1,678.4 L1310.9,678.2 L1311.7,678.0 L1312.5,678.1 L1313.3,678.1 L1314.1,678.2 L1314.9,678.3 L1315.7,678.3 L1316.5,678.6 L1317.2,678.7 L1318.0,679.1 L1318.8,679.7 L1319.6,679.9 L1320.4,680.2 L1321.2,679.9 L1322.0,679.5 L1322.8,679.0 L1323.6,678.4 L1324.4,678.2 L1325.2,678.0 L1326.0,677.8 L1326.8,677.9" fill="none" stroke="#000000" stroke-width="5.4" stroke-linejoin="round" stroke-linecap="square" stroke-opacity="0.1"/><path d="M929.6,685.5 L930.4,685.5 L931.2,685.4 L932.0,685.4 L932.8,685.3 L933.6,685.2 L934.4,685.2 L935.2,685.3 L936.0,685.4 L936.8,685.5 L937.6,685.7 L938.4,685.8 L939.2,686.0 L939.9,686.0 L940.7,685.9 L941.5,685.7 L942.3,685.6 L943.1,685.5 L943.9,685.5 L944.7,685.4 L945.5,685.3 L946.3,685.2 L947.1,685.1 L947.9,685.2 L948.7,685.0 L949.5,684.8 L950.3,684.4 L951.1,683.9 L951.9,683.6 L952.7,683.5 L953.5,683.6 L954.3,683.9 L955.1,684.1 L955.9,684.6 L956.7,685.0 L957.5,685.6 L958.3,685.9 L959.1,686.0 L959.8,686.3 L960.6,686.4 L961.4,686.4 L962.2,686.3 L963.0,686.0 L963.8,686.1 L964.6,686.1 L965.4,686.3 L966.2,686.3 L967.0,685.8 L967.8,685.6 L968.6,685.6 L969.4,685.5 L970.2,685.6 L971.0,685.5 L971.8,685.2 L972.6,684.9 L973.4,685.0 L974.2,685.3 L975.0,685.2 L975.8,685.0 L976.6,684.6 L977.4,684.3 L978.2,684.2 L979.0,684.4 L979.7,684.5 L980.5,684.6 L981.3,684.8 L982.1,685.1 L982.9,685.2 L983.7,685.6 L984.5,685.6 L985.3,685.4 L986.1,685.3 L986.9,685.0 L987.7,684.8 L988.5,685.1 L989.3,685.1 L990.1,685.1 L990.9,685.2 L991.7,685.1 L992.5,685.3 L993.3,685.5 L994.1,685.5 L994.9,685.4 L995.7,685.1 L996.5,685.3 L997.3,685.3 L998.1,685.5 L998.9,685.7 L999.6,685.3 L1000.4,685.0 L1001.2,684.6 L1002.0,684.4 L1002.8,684.5 L1003.6,684.4 L1004.4,684.2 L1005.2,684.3 L1006.0,684.5 L1006.8,684.9 L1007.6,685.3 L1008.4,685.4 L1009.2,685.1 L1010.0,684.6 L1010.8,684.4 L1011.6,684.3 L1012.4,684.4 L1013.2,684.8 L1014.0,685.2 L1014.8,685.7 L1015.6,686.2 L1016.4,686.6 L1017.2,686.8 L1018.0,686.5 L1018.8,686.2 L1019.5,685.8 L1020.3,685.5 L1021.1,685.0 L1021.9,684.5 L1022.7,684.1 L1023.5,683.7 L1024.3,683.6 L1025.1,683.9 L1025.9,683.9 L1026.7,683.8 L1027.5,684.0 L1028.3,684.2 L1029.1,684.9 L1029.9,685.7 L1030.7,686.1 L1031.5,686.3 L1032.3,686.1 L1033.1,685.9 L1033.9,685.4 L1034.7,684.9 L1035.5,684.3 L1036.3,684.0 L1037.1,684.0 L1037.9,684.1 L1038.7,683.9 L1039.4,683.7 L1040.2,683.3 L1041.0,683.1 L1041.8,683.6 L1042.6,683.8 L1043.4,684.2 L1044.2,684.4 L1045.0,684.5 L1045.8,685.1 L1046.6,685.4 L1047.4,685.9 L1048.2,686.8 L1049.0,687.2 L1049.8,687.3 L1050.6,687.3 L1051.4,686.8 L1052.2,686.5 L1053.0,686.7 L1053.8,686.7 L1054.6,686.9 L1055.4,687.2 L1056.2,687.0 L1057.0,686.7 L1057.8,686.0 L1058.6,685.2 L1059.3,684.6 L1060.1,684.2 L1060.9,684.0 L1061.7,684.1 L1062.5,684.6 L1063.3,685.0 L1064.1,685.5 L1064.9,685.9 L1065.7,685.7 L1066.5,685.6 L1067.3,685.3 L1068.1,685.3 L1068.9,685.5 L1069.7,685.8 L1070.5,686.3 L1071.3,686.5 L1072.1,686.8 L1072.9,686.8 L1073.7,686.7 L1074.5,686.7 L1075.3,686.5 L1076.1,686.5 L1076.9,686.3 L1077.7,686.3 L1078.5,686.2 L1079.2,685.9 L1080.0,685.5 L1080.8,685.1 L1081.6,684.7 L1082.4,684.5 L1083.2,684.5 L1084.0,684.4 L1084.8,684.4 L1085.6,684.2 L1086.4,684.2 L1087.2,684.2 L1088.0,684.7 L1088.8,685.4 L1089.6,685.9 L1090.4,686.3 L1091.2,686.5 L1092.0,686.4 L1092.8,686.3 L1093.6,686.4 L1094.4,686.5 L1095.2,686.7 L1096.0,687.1 L1096.8,687.4 L1097.6,687.3 L1098.4,687.1 L1099.1,686.3 L1099.9,685.7 L1100.7,685.1 L1101.5,684.5 L1102.3,684.2 L1103.1,684.1 L1103.9,684.2 L1104.7,684.6 L1105.5,685.2 L1106.3,685.7 L1107.1,686.1 L1107.9,686.5 L1108.7,686.7 L1109.5,686.5 L1110.3,686.4 L1111.1,686.2 L1111.9,686.3 L1112.7,686.5 L1113.5,686.8 L1114.3,687.1 L1115.1,687.1 L1115.9,687.2 L1116.7,687.1 L1117.5,687.0 L1118.3,687.1 L1119.0,687.4 L1119.8,687.6 L1120.6,687.6 L1121.4,687.3 L1122.2,686.8 L1123.0,686.3 L1123.8,686.1 L1124.6,686.2 L1125.4,686.1 L1126.2,685.7 L1127.0,685.6 L1127.8,685.1 L1128.6,685.1 L1129.4,685.5 L1130.2,685.9 L1131.0,686.3 L1131.8,686.5 L1132.6,686.5 L1133.4,686.5 L1134.2,686.5 L1135.0,686.1 L1135.8,685.7 L1136.6,685.2 L1137.4,685.0 L1138.1,685.1 L1138.9,685.4 L1139.7,685.7 L1140.5,686.0 L1141.3,686.5 L1142.1,686.8 L1142.9,687.0 L1143.7,687.0 L1144.5,687.2 L1145.3,687.2 L1146.1,687.4 L1146.9,687.6 L1147.7,687.3 L1148.5,687.1 L1149.3,686.8 L1150.1,686.3 L1150.9,686.0 L1151.7,685.7 L1152.5,685.6 L1153.3,685.6 L1154.1,685.6 L1154.9,685.7 L1155.7,685.8 L1156.5,685.8 L1157.3,685.9 L1158.0,686.0 L1158.8,686.0 L1159.6,685.8 L1160.4,685.5 L1161.2,685.4 L1162.0,685.5 L1162.8,685.9 L1163.6,686.0 L1164.4,686.1 L1165.2,686.2 L1166.0,686.4 L1166.8,686.6 L1167.6,686.7 L1168.4,686.5 L1169.2,686.1 L1170.0,685.6 L1170.8,685.3 L1171.6,685.2 L1172.4,685.6 L1173.2,686.0 L1174.0,686.1 L1174.8,686.4 L1175.6,686.4 L1176.4,686.4 L1177.2,686.5 L1177.9,686.4 L1178.7,686.3 L1179.5,686.0 L1180.3,685.8 L1181.1,685.5 L1181.9,685.5 L1182.7,685.5 L1183.5,685.4 L1184.3,685.3 L1185.1,685.1 L1185.9,684.9 L1186.7,685.0 L1187.5,685.3 L1188.3,685.5 L1189.1,685.9 L1189.9,686.1 L1190.7,686.1 L1191.5,686.3 L1192.3,686.7 L1193.1,687.1 L1193.9,687.6 L1194.7,687.7 L1195.5,687.4 L1196.3,687.0 L1197.1,686.7 L1197.8,686.4 L1198.6,686.3 L1199.4,686.3 L1200.2,686.3 L1201.0,686.4 L1201.8,686.3 L1202.6,686.2 L1203.4,686.3 L1204.2,686.4 L1205.0,686.6 L1205.8,686.6 L1206.6,686.3 L1207.4,686.0 L1208.2,685.8 L1209.0,685.7 L1209.8,685.8 L1210.6,686.0 L1211.4,686.0 L1212.2,685.8 L1213.0,685.9 L1213.8,686.0 L1214.6,686.7 L1215.4,687.3 L1216.2,687.6 L1217.0,687.7 L1217.7,687.4 L1218.5,687.0 L1219.3,686.2 L1220.1,685.3 L1220.9,684.7 L1221.7,684.2 L1222.5,684.1 L1223.3,684.1 L1224.1,684.0 L1224.9,683.9 L1225.7,684.0 L1226.5,684.4 L1227.3,684.9 L1228.1,685.6 L1228.9,686.5 L1229.7,687.1 L1230.5,687.4 L1231.3,687.3 L1232.1,687.0 L1232.9,686.5 L1233.7,686.6 L1234.5,686.5 L1235.3,686.5 L1236.1,686.4 L1236.9,686.1 L1237.6,686.0 L1238.4,685.9 L1239.2,686.0 L1240.0,686.0 L1240.8,685.9 L1241.6,686.1 L1242.4,686.5 L1243.2,686.7 L1244.0,686.7 L1244.8,686.4 L1245.6,686.1 L1246.4,686.0 L1247.2,686.2 L1248.0,686.2 L1248.8,686.0 L1249.6,685.8 L1250.4,685.7 L1251.2,685.8 L1252.0,685.8 L1252.8,685.8 L1253.6,685.7 L1254.4,685.2 L1255.2,685.0 L1256.0,684.9 L1256.8,684.8 L1257.5,685.1 L1258.3,685.1 L1259.1,685.0 L1259.9,684.8 L1260.7,684.5 L1261.5,684.4 L1262.3,684.5 L1263.1,684.6 L1263.9,684.8 L1264.7,685.1 L1265.5,685.0 L1266.3,685.5 L1267.1,685.8 L1267.9,686.0 L1268.7,686.1 L1269.5,685.9 L1270.3,685.8 L1271.1,685.6 L1271.9,685.7 L1272.7,685.5 L1273.5,685.5 L1274.3,685.5 L1275.1,685.1 L1275.9,684.7 L1276.7,684.0 L1277.4,683.9 L1278.2,684.0 L1279.0,684.1 L1279.8,684.4 L1280.6,684.3 L1281.4,684.3 L1282.2,684.3 L1283.0,684.2 L1283.8,684.0 L1284.6,683.8 L1285.4,683.4 L1286.2,683.3 L1287.0,683.5 L1287.8,683.7 L1288.6,684.1 L1289.4,684.5 L1290.2,684.3 L1291.0,684.4 L1291.8,684.6 L1292.6,684.7 L1293.4,685.0 L1294.2,685.1 L1295.0,685.1 L1295.8,685.1 L1296.6,685.2 L1297.3,685.0 L1298.1,684.6 L1298.9,684.3 L1299.7,684.1 L1300.5,684.1 L1301.3,684.3 L1302.1,684.7 L1302.9,684.9 L1303.7,685.0 L1304.5,685.2 L1305.3,685.1 L1306.1,684.8 L1306.9,684.6 L1307.7,684.4 L1308.5,684.0 L1309.3,683.8 L1310.1,683.7 L1310.9,683.4 L1311.7,683.0 L1312.5,683.0 L1313.3,683.1 L1314.1,683.1 L1314.9,683.2 L1315.7,683.3 L1316.5,683.1 L1317.2,683.4 L1318.0,683.7 L1318.8,684.1 L1319.6,684.5 L1320.4,684.7 L1321.2,684.6 L1322.0,684.3 L1322.8,684.0 L1323.6,683.7 L1324.4,683.5 L1325.2,683.3 L1326.0,683.4 L1326.8,683.4" fill="none" stroke="#000000" stroke-width="5.4" stroke-linejoin="round" stroke-linecap="square" stroke-opacity="0.1"/><path d="M929.6,685.5 L930.4,685.5 L931.2,685.5 L932.0,685.5 L932.8,685.5 L933.6,685.5 L934.4,685.4 L935.2,685.4 L936.0,685.3 L936.8,685.2 L937.6,685.1 L938.4,685.0 L939.2,685.0 L939.9,684.9 L940.7,684.8 L941.5,684.7 L942.3,684.5 L943.1,684.3 L943.9,684.3 L944.7,684.3 L945.5,684.4 L946.3,684.7 L947.1,684.7 L947.9,684.6 L948.7,684.8 L949.5,685.0 L950.3,685.4 L951.1,685.8 L951.9,686.0 L952.7,686.1 L953.5,686.2 L954.3,686.4 L955.1,686.4 L955.9,686.4 L956.7,686.3 L957.5,686.2 L958.3,685.9 L959.1,685.6 L959.8,685.5 L960.6,685.2 L961.4,685.0 L962.2,684.9 L963.0,684.7 L963.8,684.6 L964.6,685.1 L965.4,685.5 L966.2,685.8 L967.0,686.3 L967.8,686.0 L968.6,685.8 L969.4,685.6 L970.2,685.5 L971.0,685.5 L971.8,685.7 L972.6,685.8 L973.4,685.8 L974.2,685.7 L975.0,685.6 L975.8,685.3 L976.6,685.0 L977.4,684.9 L978.2,684.9 L979.0,685.2 L979.7,685.2 L980.5,685.3 L981.3,685.1 L982.1,684.7 L982.9,684.2 L983.7,683.8 L984.5,683.6 L985.3,683.5 L986.1,683.5 L986.9,683.7 L987.7,684.1 L988.5,684.5 L989.3,684.9 L990.1,685.1 L990.9,685.0 L991.7,684.8 L992.5,684.6 L993.3,684.5 L994.1,684.4 L994.9,684.2 L995.7,684.1 L996.5,683.9 L997.3,683.6 L998.1,683.6 L998.9,683.7 L999.6,683.7 L1000.4,683.9 L1001.2,684.0 L1002.0,684.0 L1002.8,684.1 L1003.6,684.4 L1004.4,684.5 L1005.2,684.8 L1006.0,684.8 L1006.8,684.9 L1007.6,685.0 L1008.4,685.2 L1009.2,685.2 L1010.0,685.0 L1010.8,684.9 L1011.6,684.5 L1012.4,683.9 L1013.2,683.3 L1014.0,682.7 L1014.8,682.1 L1015.6,682.2 L1016.4,682.1 L1017.2,682.0 L1018.0,682.1 L1018.8,682.0 L1019.5,681.9 L1020.3,682.1 L1021.1,682.5 L1021.9,682.7 L1022.7,682.7 L1023.5,682.8 L1024.3,682.6 L1025.1,682.8 L1025.9,683.0 L1026.7,683.0 L1027.5,682.9 L1028.3,682.5 L1029.1,682.3 L1029.9,682.4 L1030.7,682.9 L1031.5,683.4 L1032.3,683.8 L1033.1,684.0 L1033.9,684.2 L1034.7,684.2 L1035.5,684.0 L1036.3,683.7 L1037.1,683.2 L1037.9,682.6 L1038.7,682.3 L1039.4,682.3 L1040.2,682.5 L1041.0,682.4 L1041.8,682.3 L1042.6,682.3 L1043.4,682.1 L1044.2,682.1 L1045.0,682.3 L1045.8,682.5 L1046.6,682.9 L1047.4,683.5 L1048.2,683.8 L1049.0,683.7 L1049.8,683.3 L1050.6,683.1 L1051.4,683.0 L1052.2,683.1 L1053.0,682.9 L1053.8,682.8 L1054.6,682.9 L1055.4,683.1 L1056.2,683.7 L1057.0,684.2 L1057.8,684.3 L1058.6,684.4 L1059.3,684.2 L1060.1,683.8 L1060.9,683.8 L1061.7,683.9 L1062.5,683.8 L1063.3,683.8 L1064.1,683.4 L1064.9,682.8 L1065.7,682.7 L1066.5,682.5 L1067.3,682.8 L1068.1,683.2 L1068.9,683.5 L1069.7,683.7 L1070.5,683.9 L1071.3,683.7 L1072.1,683.6 L1072.9,683.8 L1073.7,683.7 L1074.5,683.7 L1075.3,683.7 L1076.1,683.6 L1076.9,683.8 L1077.7,683.9 L1078.5,684.1 L1079.2,684.3 L1080.0,684.1 L1080.8,683.7 L1081.6,683.1 L1082.4,682.5 L1083.2,682.2 L1084.0,682.3 L1084.8,682.7 L1085.6,683.1 L1086.4,683.4 L1087.2,683.4 L1088.0,683.0 L1088.8,682.6 L1089.6,682.4 L1090.4,682.2 L1091.2,682.2 L1092.0,682.5 L1092.8,682.6 L1093.6,682.6 L1094.4,682.9 L1095.2,683.2 L1096.0,683.2 L1096.8,683.8 L1097.6,684.5 L1098.4,684.7 L1099.1,685.3 L1099.9,685.1 L1100.7,684.8 L1101.5,684.6 L1102.3,684.5 L1103.1,684.6 L1103.9,684.8 L1104.7,684.7 L1105.5,684.5 L1106.3,684.3 L1107.1,684.1 L1107.9,684.1 L1108.7,683.8 L1109.5,683.8 L1110.3,684.2 L1111.1,684.3 L1111.9,684.3 L1112.7,684.6 L1113.5,684.6 L1114.3,684.6 L1115.1,684.9 L1115.9,684.7 L1116.7,684.5 L1117.5,684.2 L1118.3,683.8 L1119.0,683.5 L1119.8,683.1 L1120.6,682.9 L1121.4,682.8 L1122.2,682.7 L1123.0,682.7 L1123.8,682.7 L1124.6,682.6 L1125.4,682.5 L1126.2,682.4 L1127.0,682.4 L1127.8,682.3 L1128.6,682.4 L1129.4,682.6 L1130.2,682.7 L1131.0,683.1 L1131.8,683.4 L1132.6,683.8 L1133.4,684.0 L1134.2,684.0 L1135.0,684.0 L1135.8,684.0 L1136.6,684.1 L1137.4,684.2 L1138.1,684.4 L1138.9,684.5 L1139.7,684.4 L1140.5,684.4 L1141.3,684.4 L1142.1,684.8 L1142.9,685.0 L1143.7,685.2 L1144.5,685.0 L1145.3,684.8 L1146.1,684.5 L1146.9,684.4 L1147.7,684.3 L1148.5,684.1 L1149.3,683.9 L1150.1,683.9 L1150.9,683.7 L1151.7,683.8 L1152.5,684.0 L1153.3,683.8 L1154.1,684.3 L1154.9,684.4 L1155.7,684.4 L1156.5,684.4 L1157.3,684.4 L1158.0,684.2 L1158.8,683.9 L1159.6,683.6 L1160.4,682.7 L1161.2,682.1 L1162.0,681.6 L1162.8,681.7 L1163.6,682.1 L1164.4,682.3 L1165.2,682.8 L1166.0,682.4 L1166.8,682.2 L1167.6,682.3 L1168.4,682.3 L1169.2,682.7 L1170.0,683.0 L1170.8,683.2 L1171.6,683.4 L1172.4,683.3 L1173.2,683.4 L1174.0,683.1 L1174.8,682.8 L1175.6,682.8 L1176.4,682.8 L1177.2,683.0 L1177.9,683.1 L1178.7,683.3 L1179.5,683.2 L1180.3,682.9 L1181.1,682.7 L1181.9,682.3 L1182.7,682.1 L1183.5,682.3 L1184.3,682.5 L1185.1,682.8 L1185.9,683.0 L1186.7,682.8 L1187.5,682.5 L1188.3,682.3 L1189.1,682.2 L1189.9,682.4 L1190.7,682.5 L1191.5,682.6 L1192.3,682.6 L1193.1,682.2 L1193.9,681.9 L1194.7,681.9 L1195.5,681.7 L1196.3,681.9 L1197.1,681.7 L1197.8,681.6 L1198.6,681.8 L1199.4,682.0 L1200.2,682.3 L1201.0,682.2 L1201.8,682.2 L1202.6,682.1 L1203.4,682.3 L1204.2,682.5 L1205.0,682.4 L1205.8,682.5 L1206.6,682.5 L1207.4,682.5 L1208.2,682.4 L1209.0,682.4 L1209.8,682.5 L1210.6,682.7 L1211.4,682.8 L1212.2,682.7 L1213.0,682.2 L1213.8,681.9 L1214.6,681.5 L1215.4,681.4 L1216.2,681.3 L1217.0,681.3 L1217.7,681.7 L1218.5,681.5 L1219.3,681.4 L1220.1,681.4 L1220.9,681.3 L1221.7,681.7 L1222.5,682.0 L1223.3,682.3 L1224.1,682.4 L1224.9,682.7 L1225.7,682.8 L1226.5,682.8 L1227.3,682.8 L1228.1,682.7 L1228.9,682.5 L1229.7,682.4 L1230.5,682.3 L1231.3,682.3 L1232.1,682.0 L1232.9,681.7 L1233.7,681.3 L1234.5,681.0 L1235.3,681.0 L1236.1,680.8 L1236.9,681.0 L1237.6,680.6 L1238.4,680.2 L1239.2,679.9 L1240.0,679.8 L1240.8,680.1 L1241.6,680.6 L1242.4,681.2 L1243.2,681.7 L1244.0,681.9 L1244.8,681.9 L1245.6,681.7 L1246.4,681.5 L1247.2,681.5 L1248.0,681.8 L1248.8,682.0 L1249.6,682.1 L1250.4,681.9 L1251.2,682.1 L1252.0,682.0 L1252.8,682.2 L1253.6,682.4 L1254.4,682.5 L1255.2,682.8 L1256.0,683.0 L1256.8,683.2 L1257.5,683.1 L1258.3,682.9 L1259.1,682.8 L1259.9,682.8 L1260.7,683.0 L1261.5,683.0 L1262.3,682.9 L1263.1,682.6 L1263.9,682.0 L1264.7,681.6 L1265.5,680.9 L1266.3,680.6 L1267.1,680.5 L1267.9,680.6 L1268.7,681.2 L1269.5,681.9 L1270.3,682.3 L1271.1,682.5 L1271.9,682.5 L1272.7,682.2 L1273.5,682.3 L1274.3,682.4 L1275.1,682.7 L1275.9,683.3 L1276.7,683.6 L1277.4,683.9 L1278.2,683.8 L1279.0,683.4 L1279.8,683.1 L1280.6,682.8 L1281.4,682.5 L1282.2,682.2 L1283.0,682.2 L1283.8,682.3 L1284.6,682.7 L1285.4,683.3 L1286.2,683.5 L1287.0,683.9 L1287.8,684.2 L1288.6,684.4 L1289.4,685.1 L1290.2,685.4 L1291.0,685.6 L1291.8,685.7 L1292.6,685.3 L1293.4,684.9 L1294.2,684.9 L1295.0,684.9 L1295.8,685.1 L1296.6,684.9 L1297.3,684.6 L1298.1,684.5 L1298.9,684.6 L1299.7,684.8 L1300.5,685.2 L1301.3,685.2 L1302.1,685.1 L1302.9,685.0 L1303.7,684.5 L1304.5,683.9 L1305.3,683.6 L1306.1,683.5 L1306.9,683.9 L1307.7,684.7 L1308.5,685.0 L1309.3,685.7 L1310.1,686.2 L1310.9,686.8 L1311.7,687.4 L1312.5,687.4 L1313.3,687.1 L1314.1,686.2 L1314.9,685.3 L1315.7,684.5 L1316.5,684.0 L1317.2,683.8 L1318.0,683.7 L1318.8,683.9 L1319.6,684.0 L1320.4,684.0 L1321.2,684.3 L1322.0,684.6 L1322.8,685.0 L1323.6,685.6 L1324.4,686.1 L1325.2,686.3 L1326.0,686.5 L1326.8,686.5" fill="none" stroke="#000000" stroke-width="5.4" stroke-linejoin="round" stroke-linecap="square" stroke-opacity="0.1"/><path d="M929.6,685.5 L930.4,685.5 L931.2,685.5 L932.0,685.4 L932.8,685.4 L933.6,685.4 L934.4,685.5 L935.2,685.6 L936.0,685.7 L936.8,685.8 L937.6,685.8 L938.4,685.9 L939.2,686.1 L939.9,686.1 L940.7,686.0 L941.5,685.8 L942.3,685.6 L943.1,685.4 L943.9,685.4 L944.7,685.3 L945.5,685.2 L946.3,685.2 L947.1,685.0 L947.9,685.1 L948.7,685.1 L949.5,684.9 L950.3,684.8 L951.1,684.7 L951.9,684.7 L952.7,684.6 L953.5,684.5 L954.3,684.5 L955.1,684.2 L955.9,684.1 L956.7,684.0 L957.5,683.9 L958.3,684.1 L959.1,684.9 L959.8,685.8 L960.6,686.6 L961.4,687.2 L962.2,687.4 L963.0,687.4 L963.8,687.5 L964.6,687.3 L965.4,687.0 L966.2,686.7 L967.0,686.3 L967.8,686.2 L968.6,686.0 L969.4,686.0 L970.2,686.1 L971.0,685.9 L971.8,685.7 L972.6,685.6 L973.4,685.7 L974.2,686.2 L975.0,686.6 L975.8,686.9 L976.6,686.9 L977.4,686.4 L978.2,685.9 L979.0,685.5 L979.7,685.1 L980.5,684.9 L981.3,685.1 L982.1,685.2 L982.9,685.3 L983.7,685.3 L984.5,685.2 L985.3,684.9 L986.1,684.7 L986.9,684.6 L987.7,684.6 L988.5,684.9 L989.3,685.4 L990.1,685.9 L990.9,686.4 L991.7,686.6 L992.5,686.6 L993.3,686.6 L994.1,686.8 L994.9,686.9 L995.7,687.1 L996.5,687.1 L997.3,686.9 L998.1,686.7 L998.9,686.6 L999.6,686.4 L1000.4,686.2 L1001.2,686.2 L1002.0,686.1 L1002.8,686.2 L1003.6,686.1 L1004.4,685.9 L1005.2,686.0 L1006.0,686.1 L1006.8,686.4 L1007.6,686.7 L1008.4,686.9 L1009.2,686.9 L1010.0,686.6 L1010.8,686.3 L1011.6,686.0 L1012.4,685.7 L1013.2,685.4 L1014.0,685.5 L1014.8,685.6 L1015.6,686.0 L1016.4,686.3 L1017.2,686.3 L1018.0,686.2 L1018.8,686.0 L1019.5,685.9 L1020.3,685.8 L1021.1,685.7 L1021.9,685.6 L1022.7,685.8 L1023.5,686.0 L1024.3,686.4 L1025.1,687.0 L1025.9,687.5 L1026.7,687.9 L1027.5,687.9 L1028.3,687.5 L1029.1,686.9 L1029.9,686.4 L1030.7,686.3 L1031.5,686.2 L1032.3,686.2 L1033.1,686.2 L1033.9,686.2 L1034.7,686.3 L1035.5,686.7 L1036.3,687.6 L1037.1,688.2 L1037.9,688.9 L1038.7,689.3 L1039.4,689.3 L1040.2,689.2 L1041.0,689.1 L1041.8,688.7 L1042.6,688.2 L1043.4,687.6 L1044.2,687.2 L1045.0,686.9 L1045.8,686.6 L1046.6,686.4 L1047.4,686.5 L1048.2,686.7 L1049.0,687.1 L1049.8,687.4 L1050.6,687.6 L1051.4,687.6 L1052.2,687.6 L1053.0,687.5 L1053.8,687.5 L1054.6,687.6 L1055.4,687.2 L1056.2,686.8 L1057.0,686.5 L1057.8,686.3 L1058.6,686.5 L1059.3,686.7 L1060.1,686.9 L1060.9,687.1 L1061.7,687.4 L1062.5,688.0 L1063.3,688.2 L1064.1,688.6 L1064.9,688.7 L1065.7,688.6 L1066.5,688.8 L1067.3,689.0 L1068.1,689.3 L1068.9,689.5 L1069.7,689.5 L1070.5,689.6 L1071.3,689.7 L1072.1,689.7 L1072.9,689.6 L1073.7,689.2 L1074.5,688.9 L1075.3,688.9 L1076.1,689.0 L1076.9,689.3 L1077.7,689.3 L1078.5,688.9 L1079.2,688.5 L1080.0,688.2 L1080.8,688.1 L1081.6,688.5 L1082.4,688.7 L1083.2,688.8 L1084.0,688.8 L1084.8,688.3 L1085.6,687.8 L1086.4,687.5 L1087.2,687.4 L1088.0,687.5 L1088.8,687.7 L1089.6,687.6 L1090.4,687.4 L1091.2,687.4 L1092.0,687.5 L1092.8,687.8 L1093.6,688.1 L1094.4,688.4 L1095.2,688.7 L1096.0,688.6 L1096.8,688.5 L1097.6,688.4 L1098.4,688.1 L1099.1,688.1 L1099.9,688.0 L1100.7,687.9 L1101.5,688.0 L1102.3,688.0 L1103.1,688.1 L1103.9,688.5 L1104.7,688.8 L1105.5,689.1 L1106.3,689.2 L1107.1,689.0 L1107.9,688.8 L1108.7,688.7 L1109.5,689.0 L1110.3,689.3 L1111.1,689.3 L1111.9,689.4 L1112.7,689.4 L1113.5,689.3 L1114.3,689.2 L1115.1,689.2 L1115.9,689.2 L1116.7,689.1 L1117.5,689.4 L1118.3,689.7 L1119.0,689.7 L1119.8,690.0 L1120.6,689.9 L1121.4,689.8 L1122.2,689.9 L1123.0,689.8 L1123.8,689.6 L1124.6,689.4 L1125.4,689.3 L1126.2,689.6 L1127.0,689.8 L1127.8,690.0 L1128.6,689.9 L1129.4,689.7 L1130.2,689.6 L1131.0,689.5 L1131.8,689.4 L1132.6,689.0 L1133.4,688.7 L1134.2,688.3 L1135.0,688.2 L1135.8,688.4 L1136.6,688.4 L1137.4,688.6 L1138.1,688.5 L1138.9,688.5 L1139.7,688.9 L1140.5,689.2 L1141.3,689.8 L1142.1,690.2 L1142.9,690.3 L1143.7,690.0 L1144.5,689.4 L1145.3,688.9 L1146.1,688.5 L1146.9,688.4 L1147.7,688.0 L1148.5,687.9 L1149.3,688.0 L1150.1,687.9 L1150.9,688.0 L1151.7,688.1 L1152.5,688.3 L1153.3,688.6 L1154.1,689.2 L1154.9,689.4 L1155.7,689.1 L1156.5,688.8 L1157.3,688.5 L1158.0,688.3 L1158.8,688.4 L1159.6,688.5 L1160.4,688.4 L1161.2,688.5 L1162.0,688.3 L1162.8,688.2 L1163.6,687.6 L1164.4,687.0 L1165.2,686.9 L1166.0,686.5 L1166.8,686.7 L1167.6,687.2 L1168.4,687.8 L1169.2,688.5 L1170.0,689.2 L1170.8,689.5 L1171.6,689.7 L1172.4,690.1 L1173.2,690.3 L1174.0,690.3 L1174.8,690.3 L1175.6,689.9 L1176.4,689.6 L1177.2,688.9 L1177.9,688.4 L1178.7,687.8 L1179.5,687.1 L1180.3,686.7 L1181.1,686.3 L1181.9,686.1 L1182.7,686.3 L1183.5,686.6 L1184.3,686.8 L1185.1,686.9 L1185.9,687.0 L1186.7,687.3 L1187.5,687.8 L1188.3,688.3 L1189.1,688.5 L1189.9,688.4 L1190.7,688.0 L1191.5,687.6 L1192.3,687.5 L1193.1,687.2 L1193.9,687.1 L1194.7,686.9 L1195.5,686.7 L1196.3,686.9 L1197.1,686.9 L1197.8,687.1 L1198.6,687.3 L1199.4,687.5 L1200.2,687.7 L1201.0,688.0 L1201.8,688.1 L1202.6,688.0 L1203.4,687.9 L1204.2,687.7 L1205.0,687.8 L1205.8,688.0 L1206.6,688.0 L1207.4,687.8 L1208.2,687.5 L1209.0,687.2 L1209.8,687.4 L1210.6,687.7 L1211.4,688.2 L1212.2,688.3 L1213.0,688.3 L1213.8,688.4 L1214.6,688.0 L1215.4,687.9 L1216.2,687.7 L1217.0,687.6 L1217.7,687.5 L1218.5,687.2 L1219.3,687.0 L1220.1,686.9 L1220.9,687.0 L1221.7,687.2 L1222.5,687.6 L1223.3,687.8 L1224.1,688.1 L1224.9,688.4 L1225.7,688.4 L1226.5,688.2 L1227.3,687.9 L1228.1,687.3 L1228.9,686.8 L1229.7,686.4 L1230.5,686.1 L1231.3,686.3 L1232.1,686.6 L1232.9,687.0 L1233.7,687.3 L1234.5,687.3 L1235.3,687.3 L1236.1,687.1 L1236.9,687.0 L1237.6,687.2 L1238.4,687.3 L1239.2,687.4 L1240.0,687.3 L1240.8,687.3 L1241.6,687.2 L1242.4,687.1 L1243.2,687.0 L1244.0,687.0 L1244.8,686.9 L1245.6,687.0 L1246.4,687.2 L1247.2,687.2 L1248.0,687.3 L1248.8,687.4 L1249.6,687.2 L1250.4,687.2 L1251.2,687.2 L1252.0,686.9 L1252.8,686.5 L1253.6,686.1 L1254.4,685.9 L1255.2,685.9 L1256.0,686.2 L1256.8,686.6 L1257.5,687.0 L1258.3,687.1 L1259.1,687.1 L1259.9,687.3 L1260.7,687.3 L1261.5,687.6 L1262.3,687.9 L1263.1,688.2 L1263.9,688.4 L1264.7,688.5 L1265.5,688.9 L1266.3,689.0 L1267.1,689.1 L1267.9,689.2 L1268.7,689.1 L1269.5,688.8 L1270.3,688.5 L1271.1,688.2 L1271.9,687.9 L1272.7,687.7 L1273.5,687.6 L1274.3,687.6 L1275.1,687.3 L1275.9,686.9 L1276.7,686.4 L1277.4,686.1 L1278.2,686.1 L1279.0,686.1 L1279.8,686.0 L1280.6,685.9 L1281.4,686.0 L1282.2,686.3 L1283.0,686.5 L1283.8,686.5 L1284.6,686.7 L1285.4,686.9 L1286.2,687.4 L1287.0,687.9 L1287.8,688.3 L1288.6,688.5 L1289.4,688.7 L1290.2,689.1 L1291.0,689.1 L1291.8,688.9 L1292.6,688.8 L1293.4,688.6 L1294.2,688.5 L1295.0,688.5 L1295.8,688.3 L1296.6,688.1 L1297.3,687.6 L1298.1,687.5 L1298.9,687.1 L1299.7,686.6 L1300.5,686.3 L1301.3,686.2 L1302.1,686.5 L1302.9,687.1 L1303.7,687.6 L1304.5,687.7 L1305.3,687.8 L1306.1,687.6 L1306.9,687.4 L1307.7,687.6 L1308.5,687.7 L1309.3,687.8 L1310.1,687.9 L1310.9,687.9 L1311.7,688.1 L1312.5,688.2 L1313.3,688.1 L1314.1,688.1 L1314.9,687.9 L1315.7,687.8 L1316.5,687.7 L1317.2,687.6 L1318.0,687.6 L1318.8,687.9 L1319.6,688.0 L1320.4,688.1 L1321.2,688.0 L1322.0,687.7 L1322.8,687.3 L1323.6,687.0 L1324.4,686.9 L1325.2,686.6 L1326.0,686.7 L1326.8,686.5" fill="none" stroke="#000000" stroke-width="5.4" stroke-linejoin="round" stroke-linecap="square" stroke-opacity="0.1"/><path d="M929.6,685.5 L930.4,685.5 L931.2,685.5 L932.0,685.6 L932.8,685.7 L933.6,685.8 L934.4,685.8 L935.2,685.9 L936.0,685.9 L936.8,685.8 L937.6,685.6 L938.4,685.4 L939.2,685.2 L939.9,685.1 L940.7,685.1 L941.5,685.2 L942.3,685.4 L943.1,685.7 L943.9,685.9 L944.7,686.2 L945.5,686.4 L946.3,686.6 L947.1,686.6 L947.9,686.4 L948.7,686.1 L949.5,685.7 L950.3,685.4 L951.1,685.2 L951.9,684.9 L952.7,685.0 L953.5,685.0 L954.3,685.0 L955.1,685.3 L955.9,685.5 L956.7,685.6 L957.5,685.9 L958.3,686.0 L959.1,685.9 L959.8,685.7 L960.6,685.5 L961.4,685.4 L962.2,685.4 L963.0,685.8 L963.8,686.0 L964.6,686.4 L965.4,686.7 L966.2,686.8 L967.0,686.9 L967.8,686.6 L968.6,686.3 L969.4,686.1 L970.2,686.3 L971.0,686.6 L971.8,686.9 L972.6,687.0 L973.4,686.7 L974.2,686.2 L975.0,685.6 L975.8,685.1 L976.6,685.0 L977.4,685.3 L978.2,685.7 L979.0,686.2 L979.7,686.5 L980.5,686.8 L981.3,687.3 L982.1,687.7 L982.9,688.2 L983.7,688.5 L984.5,688.7 L985.3,688.7 L986.1,688.6 L986.9,688.6 L987.7,688.3 L988.5,688.0 L989.3,687.9 L990.1,687.7 L990.9,687.9 L991.7,688.1 L992.5,688.2 L993.3,688.1 L994.1,688.0 L994.9,687.9 L995.7,687.8 L996.5,687.9 L997.3,688.1 L998.1,688.0 L998.9,688.5 L999.6,688.9 L1000.4,689.0 L1001.2,689.1 L1002.0,688.8 L1002.8,688.3 L1003.6,687.9 L1004.4,687.9 L1005.2,687.9 L1006.0,687.9 L1006.8,687.7 L1007.6,687.5 L1008.4,687.6 L1009.2,687.7 L1010.0,688.1 L1010.8,688.5 L1011.6,688.9 L1012.4,689.7 L1013.2,690.5 L1014.0,691.1 L1014.8,691.7 L1015.6,692.1 L1016.4,692.1 L1017.2,692.2 L1018.0,692.1 L1018.8,691.7 L1019.5,691.5 L1020.3,691.4 L1021.1,691.0 L1021.9,690.5 L1022.7,690.1 L1023.5,689.7 L1024.3,689.3 L1025.1,689.0 L1025.9,688.8 L1026.7,688.4 L1027.5,688.1 L1028.3,687.9 L1029.1,687.9 L1029.9,688.1 L1030.7,688.6 L1031.5,689.1 L1032.3,689.7 L1033.1,690.2 L1033.9,690.6 L1034.7,690.9 L1035.5,690.9 L1036.3,691.1 L1037.1,691.0 L1037.9,691.4 L1038.7,691.9 L1039.4,692.1 L1040.2,692.1 L1041.0,691.8 L1041.8,691.3 L1042.6,690.9 L1043.4,690.7 L1044.2,690.5 L1045.0,690.3 L1045.8,690.4 L1046.6,690.4 L1047.4,690.6 L1048.2,690.6 L1049.0,690.3 L1049.8,690.2 L1050.6,690.1 L1051.4,690.2 L1052.2,690.5 L1053.0,690.9 L1053.8,691.3 L1054.6,691.4 L1055.4,691.6 L1056.2,691.5 L1057.0,691.3 L1057.8,691.3 L1058.6,691.3 L1059.3,691.3 L1060.1,691.1 L1060.9,690.7 L1061.7,690.7 L1062.5,690.5 L1063.3,690.9 L1064.1,691.2 L1064.9,691.2 L1065.7,691.4 L1066.5,691.3 L1067.3,691.2 L1068.1,691.0 L1068.9,690.8 L1069.7,690.8 L1070.5,691.0 L1071.3,691.2 L1072.1,691.3 L1072.9,691.0 L1073.7,690.6 L1074.5,690.1 L1075.3,689.9 L1076.1,690.0 L1076.9,690.1 L1077.7,690.3 L1078.5,690.4 L1079.2,690.2 L1080.0,690.0 L1080.8,689.9 L1081.6,689.6 L1082.4,689.3 L1083.2,689.1 L1084.0,688.8 L1084.8,688.7 L1085.6,688.8 L1086.4,688.9 L1087.2,689.0 L1088.0,689.2 L1088.8,689.4 L1089.6,689.8 L1090.4,689.9 L1091.2,689.7 L1092.0,689.5 L1092.8,689.3 L1093.6,689.4 L1094.4,689.6 L1095.2,689.8 L1096.0,689.7 L1096.8,689.6 L1097.6,689.8 L1098.4,690.2 L1099.1,690.8 L1099.9,691.5 L1100.7,691.9 L1101.5,691.9 L1102.3,691.7 L1103.1,691.2 L1103.9,691.1 L1104.7,691.2 L1105.5,691.1 L1106.3,691.1 L1107.1,690.9 L1107.9,690.5 L1108.7,690.2 L1109.5,689.8 L1110.3,689.2 L1111.1,688.8 L1111.9,688.4 L1112.7,688.5 L1113.5,688.7 L1114.3,688.9 L1115.1,689.1 L1115.9,689.3 L1116.7,689.6 L1117.5,689.9 L1118.3,690.1 L1119.0,690.2 L1119.8,690.2 L1120.6,690.0 L1121.4,689.9 L1122.2,689.6 L1123.0,689.7 L1123.8,690.0 L1124.6,690.4 L1125.4,690.7 L1126.2,690.7 L1127.0,690.5 L1127.8,690.3 L1128.6,689.9 L1129.4,689.6 L1130.2,689.5 L1131.0,689.6 L1131.8,689.9 L1132.6,690.2 L1133.4,690.4 L1134.2,690.3 L1135.0,690.3 L1135.8,690.2 L1136.6,690.2 L1137.4,690.3 L1138.1,690.0 L1138.9,689.9 L1139.7,689.8 L1140.5,689.5 L1141.3,689.4 L1142.1,688.6 L1142.9,687.9 L1143.7,687.5 L1144.5,687.4 L1145.3,687.7 L1146.1,687.9 L1146.9,688.4 L1147.7,689.0 L1148.5,689.4 L1149.3,690.0 L1150.1,690.2 L1150.9,690.3 L1151.7,690.2 L1152.5,690.1 L1153.3,690.1 L1154.1,689.9 L1154.9,689.9 L1155.7,689.8 L1156.5,689.7 L1157.3,689.6 L1158.0,689.7 L1158.8,689.9 L1159.6,689.8 L1160.4,689.8 L1161.2,689.6 L1162.0,689.7 L1162.8,689.9 L1163.6,689.8 L1164.4,689.8 L1165.2,689.6 L1166.0,689.5 L1166.8,689.7 L1167.6,689.7 L1168.4,689.7 L1169.2,689.7 L1170.0,689.5 L1170.8,689.2 L1171.6,689.0 L1172.4,688.9 L1173.2,689.1 L1174.0,689.6 L1174.8,690.0 L1175.6,690.4 L1176.4,690.8 L1177.2,691.0 L1177.9,691.1 L1178.7,690.9 L1179.5,690.5 L1180.3,690.0 L1181.1,689.7 L1181.9,689.6 L1182.7,689.5 L1183.5,689.4 L1184.3,689.3 L1185.1,689.0 L1185.9,688.8 L1186.7,688.6 L1187.5,688.3 L1188.3,688.1 L1189.1,688.0 L1189.9,688.1 L1190.7,688.3 L1191.5,688.4 L1192.3,688.5 L1193.1,688.7 L1193.9,688.9 L1194.7,689.2 L1195.5,689.7 L1196.3,690.0 L1197.1,690.3 L1197.8,690.4 L1198.6,690.5 L1199.4,690.5 L1200.2,690.5 L1201.0,690.4 L1201.8,690.3 L1202.6,690.4 L1203.4,690.3 L1204.2,690.5 L1205.0,690.5 L1205.8,690.2 L1206.6,690.0 L1207.4,689.5 L1208.2,689.2 L1209.0,689.1 L1209.8,689.1 L1210.6,688.9 L1211.4,688.9 L1212.2,688.6 L1213.0,688.4 L1213.8,688.3 L1214.6,688.3 L1215.4,688.4 L1216.2,688.5 L1217.0,688.8 L1217.7,688.8 L1218.5,688.7 L1219.3,688.8 L1220.1,689.1 L1220.9,689.2 L1221.7,689.4 L1222.5,689.6 L1223.3,689.6 L1224.1,689.6 L1224.9,689.6 L1225.7,689.6 L1226.5,689.6 L1227.3,689.7 L1228.1,689.8 L1228.9,689.6 L1229.7,689.2 L1230.5,688.9 L1231.3,688.5 L1232.1,688.6 L1232.9,688.8 L1233.7,688.9 L1234.5,689.2 L1235.3,689.1 L1236.1,689.1 L1236.9,689.0 L1237.6,688.9 L1238.4,689.0 L1239.2,689.2 L1240.0,689.5 L1240.8,689.7 L1241.6,690.0 L1242.4,690.0 L1243.2,690.0 L1244.0,690.1 L1244.8,690.3 L1245.6,690.3 L1246.4,690.2 L1247.2,690.1 L1248.0,689.6 L1248.8,689.6 L1249.6,689.7 L1250.4,689.5 L1251.2,689.5 L1252.0,689.2 L1252.8,688.8 L1253.6,688.7 L1254.4,688.8 L1255.2,688.6 L1256.0,688.6 L1256.8,688.5 L1257.5,688.3 L1258.3,688.5 L1259.1,688.8 L1259.9,689.1 L1260.7,689.4 L1261.5,689.5 L1262.3,689.4 L1263.1,689.5 L1263.9,689.7 L1264.7,689.9 L1265.5,690.2 L1266.3,690.6 L1267.1,690.9 L1267.9,691.1 L1268.7,691.3 L1269.5,691.0 L1270.3,690.4 L1271.1,689.8 L1271.9,689.4 L1272.7,689.2 L1273.5,689.2 L1274.3,689.3 L1275.1,689.2 L1275.9,689.1 L1276.7,689.1 L1277.4,689.3 L1278.2,689.6 L1279.0,689.7 L1279.8,689.5 L1280.6,689.2 L1281.4,688.8 L1282.2,688.4 L1283.0,688.4 L1283.8,688.4 L1284.6,688.5 L1285.4,688.7 L1286.2,688.7 L1287.0,688.9 L1287.8,689.3 L1288.6,689.7 L1289.4,690.2 L1290.2,690.2 L1291.0,689.8 L1291.8,689.7 L1292.6,689.2 L1293.4,689.1 L1294.2,689.0 L1295.0,688.6 L1295.8,688.5 L1296.6,688.5 L1297.3,688.8 L1298.1,689.4 L1298.9,689.8 L1299.7,689.9 L1300.5,690.0 L1301.3,689.9 L1302.1,689.8 L1302.9,689.6 L1303.7,689.3 L1304.5,688.9 L1305.3,688.5 L1306.1,688.4 L1306.9,688.3 L1307.7,688.2 L1308.5,688.2 L1309.3,688.1 L1310.1,688.3 L1310.9,688.6 L1311.7,688.8 L1312.5,689.0 L1313.3,689.0 L1314.1,688.9 L1314.9,688.8 L1315.7,688.6 L1316.5,688.3 L1317.2,688.0 L1318.0,687.9 L1318.8,688.0 L1319.6,688.3 L1320.4,688.6 L1321.2,688.9 L1322.0,689.1 L1322.8,689.0 L1323.6,689.2 L1324.4,689.4 L1325.2,689.4 L1326.0,689.8 L1326.8,690.0" fill="none" stroke="#000000" stroke-width="5.4" stroke-linejoin="round" stroke-linecap="square" stroke-opacity="0.1"/><path d="M929.6,685.5 L930.4,685.4 L931.2,685.4 L932.0,685.4 L932.8,685.4 L933.6,685.4 L934.4,685.5 L935.2,685.5 L936.0,685.6 L936.8,685.7 L937.6,685.6 L938.4,685.7 L939.2,685.5 L939.9,685.4 L940.7,685.1 L941.5,684.9 L942.3,684.8 L943.1,684.8 L943.9,684.7 L944.7,684.6 L945.5,684.3 L946.3,684.1 L947.1,683.9 L947.9,683.4 L948.7,683.2 L949.5,683.2 L950.3,683.3 L951.1,683.7 L951.9,683.9 L952.7,684.0 L953.5,683.9 L954.3,683.9 L955.1,684.0 L955.9,683.9 L956.7,683.9 L957.5,683.8 L958.3,683.9 L959.1,684.0 L959.8,683.9 L960.6,684.0 L961.4,684.0 L962.2,684.4 L963.0,685.1 L963.8,685.5 L964.6,685.8 L965.4,685.7 L966.2,685.4 L967.0,685.2 L967.8,685.1 L968.6,685.2 L969.4,685.2 L970.2,685.4 L971.0,685.3 L971.8,685.3 L972.6,685.3 L973.4,685.3 L974.2,685.4 L975.0,685.3 L975.8,685.1 L976.6,684.9 L977.4,684.6 L978.2,684.8 L979.0,684.9 L979.7,684.9 L980.5,684.8 L981.3,684.6 L982.1,684.1 L982.9,684.0 L983.7,684.4 L984.5,684.7 L985.3,685.0 L986.1,685.3 L986.9,685.4 L987.7,685.6 L988.5,685.7 L989.3,685.8 L990.1,685.7 L990.9,685.7 L991.7,686.0 L992.5,686.0 L993.3,685.9 L994.1,686.0 L994.9,686.2 L995.7,686.5 L996.5,686.8 L997.3,686.9 L998.1,686.8 L998.9,686.7 L999.6,686.5 L1000.4,686.4 L1001.2,686.2 L1002.0,686.0 L1002.8,686.3 L1003.6,686.5 L1004.4,686.7 L1005.2,686.9 L1006.0,686.8 L1006.8,686.7 L1007.6,686.7 L1008.4,686.9 L1009.2,687.2 L1010.0,687.6 L1010.8,687.8 L1011.6,687.8 L1012.4,687.9 L1013.2,687.6 L1014.0,687.5 L1014.8,687.3 L1015.6,687.3 L1016.4,687.6 L1017.2,687.7 L1018.0,687.7 L1018.8,687.6 L1019.5,687.3 L1020.3,687.4 L1021.1,687.7 L1021.9,687.9 L1022.7,688.1 L1023.5,688.3 L1024.3,688.4 L1025.1,688.4 L1025.9,688.7 L1026.7,688.7 L1027.5,689.0 L1028.3,689.3 L1029.1,689.5 L1029.9,689.7 L1030.7,689.6 L1031.5,689.6 L1032.3,689.7 L1033.1,689.9 L1033.9,690.3 L1034.7,690.6 L1035.5,690.5 L1036.3,690.2 L1037.1,690.2 L1037.9,690.0 L1038.7,690.1 L1039.4,690.3 L1040.2,690.3 L1041.0,690.6 L1041.8,690.8 L1042.6,691.0 L1043.4,691.2 L1044.2,691.3 L1045.0,691.3 L1045.8,691.2 L1046.6,690.8 L1047.4,690.4 L1048.2,690.1 L1049.0,689.7 L1049.8,689.6 L1050.6,689.3 L1051.4,689.0 L1052.2,688.7 L1053.0,688.5 L1053.8,688.6 L1054.6,688.8 L1055.4,689.4 L1056.2,689.7 L1057.0,689.7 L1057.8,690.0 L1058.6,690.1 L1059.3,690.3 L1060.1,690.6 L1060.9,690.4 L1061.7,690.2 L1062.5,690.0 L1063.3,690.0 L1064.1,690.5 L1064.9,691.1 L1065.7,691.9 L1066.5,692.4 L1067.3,692.4 L1068.1,692.2 L1068.9,691.8 L1069.7,691.5 L1070.5,691.2 L1071.3,690.9 L1072.1,690.9 L1072.9,690.9 L1073.7,691.1 L1074.5,691.5 L1075.3,691.7 L1076.1,691.8 L1076.9,691.7 L1077.7,691.8 L1078.5,691.9 L1079.2,692.0 L1080.0,692.1 L1080.8,692.1 L1081.6,692.1 L1082.4,691.9 L1083.2,691.7 L1084.0,691.4 L1084.8,691.1 L1085.6,690.9 L1086.4,691.1 L1087.2,691.6 L1088.0,692.4 L1088.8,693.1 L1089.6,693.5 L1090.4,693.6 L1091.2,693.3 L1092.0,693.0 L1092.8,692.4 L1093.6,692.0 L1094.4,692.0 L1095.2,691.9 L1096.0,692.0 L1096.8,692.1 L1097.6,691.9 L1098.4,691.4 L1099.1,691.2 L1099.9,690.6 L1100.7,690.3 L1101.5,690.2 L1102.3,690.2 L1103.1,690.7 L1103.9,691.1 L1104.7,691.5 L1105.5,691.9 L1106.3,692.2 L1107.1,692.4 L1107.9,692.5 L1108.7,692.4 L1109.5,692.2 L1110.3,692.1 L1111.1,692.2 L1111.9,692.2 L1112.7,692.0 L1113.5,691.6 L1114.3,691.2 L1115.1,691.1 L1115.9,691.1 L1116.7,691.4 L1117.5,691.6 L1118.3,691.9 L1119.0,692.3 L1119.8,692.3 L1120.6,692.5 L1121.4,692.5 L1122.2,692.8 L1123.0,693.1 L1123.8,693.2 L1124.6,693.4 L1125.4,693.3 L1126.2,693.5 L1127.0,694.0 L1127.8,694.3 L1128.6,694.3 L1129.4,693.9 L1130.2,693.2 L1131.0,692.7 L1131.8,692.3 L1132.6,692.3 L1133.4,692.3 L1134.2,692.1 L1135.0,692.0 L1135.8,691.7 L1136.6,691.6 L1137.4,691.6 L1138.1,691.3 L1138.9,691.4 L1139.7,691.3 L1140.5,691.1 L1141.3,691.2 L1142.1,691.1 L1142.9,691.0 L1143.7,691.3 L1144.5,691.4 L1145.3,691.5 L1146.1,691.5 L1146.9,691.3 L1147.7,691.5 L1148.5,691.6 L1149.3,691.6 L1150.1,691.6 L1150.9,691.4 L1151.7,691.5 L1152.5,691.6 L1153.3,691.8 L1154.1,691.9 L1154.9,691.7 L1155.7,691.9 L1156.5,692.1 L1157.3,692.3 L1158.0,692.8 L1158.8,693.2 L1159.6,693.3 L1160.4,693.0 L1161.2,692.7 L1162.0,692.4 L1162.8,691.8 L1163.6,691.6 L1164.4,691.3 L1165.2,690.8 L1166.0,691.0 L1166.8,691.1 L1167.6,691.1 L1168.4,691.2 L1169.2,690.6 L1170.0,690.0 L1170.8,689.4 L1171.6,689.1 L1172.4,689.1 L1173.2,689.4 L1174.0,689.5 L1174.8,689.4 L1175.6,689.4 L1176.4,689.4 L1177.2,689.6 L1177.9,690.1 L1178.7,690.5 L1179.5,691.0 L1180.3,691.2 L1181.1,691.5 L1181.9,691.5 L1182.7,691.3 L1183.5,691.2 L1184.3,690.9 L1185.1,690.7 L1185.9,690.5 L1186.7,690.2 L1187.5,689.9 L1188.3,689.4 L1189.1,688.9 L1189.9,688.3 L1190.7,687.7 L1191.5,687.2 L1192.3,687.0 L1193.1,687.1 L1193.9,687.2 L1194.7,687.5 L1195.5,687.3 L1196.3,687.1 L1197.1,687.1 L1197.8,687.0 L1198.6,687.2 L1199.4,687.3 L1200.2,687.1 L1201.0,686.9 L1201.8,687.0 L1202.6,687.4 L1203.4,687.5 L1204.2,687.8 L1205.0,687.8 L1205.8,687.4 L1206.6,687.6 L1207.4,687.6 L1208.2,687.9 L1209.0,688.4 L1209.8,688.9 L1210.6,689.4 L1211.4,689.7 L1212.2,689.8 L1213.0,689.5 L1213.8,689.4 L1214.6,689.4 L1215.4,689.4 L1216.2,689.5 L1217.0,689.4 L1217.7,689.0 L1218.5,688.8 L1219.3,688.9 L1220.1,688.5 L1220.9,688.2 L1221.7,687.9 L1222.5,687.4 L1223.3,687.3 L1224.1,687.3 L1224.9,687.2 L1225.7,687.2 L1226.5,687.3 L1227.3,687.5 L1228.1,687.6 L1228.9,687.7 L1229.7,687.4 L1230.5,687.3 L1231.3,687.4 L1232.1,687.4 L1232.9,687.8 L1233.7,688.1 L1234.5,688.4 L1235.3,688.7 L1236.1,688.6 L1236.9,688.4 L1237.6,688.0 L1238.4,687.5 L1239.2,687.4 L1240.0,687.6 L1240.8,687.6 L1241.6,687.8 L1242.4,687.8 L1243.2,687.5 L1244.0,687.5 L1244.8,687.2 L1245.6,687.2 L1246.4,687.0 L1247.2,686.9 L1248.0,686.8 L1248.8,686.5 L1249.6,686.6 L1250.4,686.6 L1251.2,687.0 L1252.0,687.5 L1252.8,688.0 L1253.6,688.6 L1254.4,688.9 L1255.2,689.2 L1256.0,689.3 L1256.8,689.3 L1257.5,689.4 L1258.3,689.3 L1259.1,689.3 L1259.9,689.4 L1260.7,689.3 L1261.5,689.2 L1262.3,689.0 L1263.1,688.7 L1263.9,688.5 L1264.7,688.3 L1265.5,688.2 L1266.3,688.4 L1267.1,688.5 L1267.9,688.5 L1268.7,688.5 L1269.5,688.4 L1270.3,688.4 L1271.1,688.5 L1271.9,688.4 L1272.7,688.3 L1273.5,688.4 L1274.3,688.4 L1275.1,688.5 L1275.9,688.6 L1276.7,688.4 L1277.4,688.1 L1278.2,688.1 L1279.0,687.9 L1279.8,688.0 L1280.6,688.2 L1281.4,688.1 L1282.2,687.9 L1283.0,687.6 L1283.8,687.6 L1284.6,687.7 L1285.4,687.9 L1286.2,688.3 L1287.0,688.4 L1287.8,688.4 L1288.6,688.5 L1289.4,688.4 L1290.2,688.4 L1291.0,688.7 L1291.8,689.0 L1292.6,689.4 L1293.4,689.8 L1294.2,690.1 L1295.0,690.1 L1295.8,689.9 L1296.6,689.9 L1297.3,689.7 L1298.1,689.5 L1298.9,689.4 L1299.7,689.2 L1300.5,688.8 L1301.3,688.3 L1302.1,688.2 L1302.9,688.2 L1303.7,688.6 L1304.5,689.0 L1305.3,689.2 L1306.1,689.3 L1306.9,689.4 L1307.7,689.4 L1308.5,689.6 L1309.3,689.6 L1310.1,689.8 L1310.9,689.8 L1311.7,689.9 L1312.5,689.8 L1313.3,689.6 L1314.1,689.6 L1314.9,689.5 L1315.7,689.6 L1316.5,689.7 L1317.2,689.7 L1318.0,689.9 L1318.8,690.0 L1319.6,690.1 L1320.4,690.1 L1321.2,690.1 L1322.0,690.1 L1322.8,689.9 L1323.6,690.1 L1324.4,690.3 L1325.2,690.3 L1326.0,690.4 L1326.8,690.4" fill="none" stroke="#000000" stroke-width="5.4" stroke-linejoin="round" stroke-linecap="square" stroke-opacity="0.1"/><path d="M929.6,685.5 L930.4,685.5 L931.2,685.5 L932.0,685.4 L932.8,685.5 L933.6,685.5 L934.4,685.6 L935.2,685.7 L936.0,685.8 L936.8,685.9 L937.6,685.9 L938.4,685.9 L939.2,685.8 L939.9,685.6 L940.7,685.4 L941.5,685.3 L942.3,685.3 L943.1,685.4 L943.9,685.3 L944.7,685.3 L945.5,685.1 L946.3,685.2 L947.1,685.1 L947.9,685.2 L948.7,685.3 L949.5,685.3 L950.3,685.5 L951.1,685.7 L951.9,686.1 L952.7,686.3 L953.5,686.3 L954.3,686.2 L955.1,685.8 L955.9,685.5 L956.7,685.1 L957.5,684.8 L958.3,684.5 L959.1,684.2 L959.8,684.2 L960.6,684.5 L961.4,685.0 L962.2,685.7 L963.0,686.4 L963.8,686.6 L964.6,687.1 L965.4,687.3 L966.2,687.6 L967.0,687.3 L967.8,686.4 L968.6,685.9 L969.4,685.2 L970.2,685.1 L971.0,684.9 L971.8,684.8 L972.6,684.6 L973.4,684.5 L974.2,684.5 L975.0,684.5 L975.8,684.9 L976.6,685.6 L977.4,686.3 L978.2,686.9 L979.0,686.8 L979.7,686.5 L980.5,686.3 L981.3,686.2 L982.1,685.9 L982.9,685.4 L983.7,684.8 L984.5,684.2 L985.3,684.2 L986.1,684.5 L986.9,684.9 L987.7,685.2 L988.5,685.3 L989.3,685.3 L990.1,685.2 L990.9,684.9 L991.7,684.8 L992.5,684.7 L993.3,684.7 L994.1,684.8 L994.9,684.8 L995.7,685.0 L996.5,685.1 L997.3,685.0 L998.1,685.0 L998.9,684.7 L999.6,684.8 L1000.4,685.0 L1001.2,685.2 L1002.0,685.7 L1002.8,686.0 L1003.6,686.4 L1004.4,686.9 L1005.2,687.0 L1006.0,686.9 L1006.8,686.7 L1007.6,686.5 L1008.4,686.5 L1009.2,686.6 L1010.0,686.6 L1010.8,686.5 L1011.6,686.0 L1012.4,685.6 L1013.2,685.3 L1014.0,685.4 L1014.8,685.8 L1015.6,686.1 L1016.4,686.2 L1017.2,686.1 L1018.0,686.1 L1018.8,686.2 L1019.5,686.7 L1020.3,687.0 L1021.1,687.4 L1021.9,687.8 L1022.7,687.9 L1023.5,687.9 L1024.3,687.4 L1025.1,687.0 L1025.9,686.4 L1026.7,685.9 L1027.5,685.5 L1028.3,685.1 L1029.1,684.9 L1029.9,684.5 L1030.7,684.6 L1031.5,684.4 L1032.3,684.4 L1033.1,684.4 L1033.9,684.5 L1034.7,684.8 L1035.5,685.2 L1036.3,685.7 L1037.1,685.8 L1037.9,685.7 L1038.7,685.5 L1039.4,685.5 L1040.2,685.9 L1041.0,686.3 L1041.8,686.7 L1042.6,686.7 L1043.4,686.4 L1044.2,685.8 L1045.0,685.4 L1045.8,685.2 L1046.6,685.2 L1047.4,685.3 L1048.2,685.4 L1049.0,685.2 L1049.8,684.8 L1050.6,684.5 L1051.4,684.1 L1052.2,684.3 L1053.0,684.7 L1053.8,685.3 L1054.6,685.9 L1055.4,686.2 L1056.2,686.3 L1057.0,686.0 L1057.8,685.9 L1058.6,685.9 L1059.3,685.7 L1060.1,685.5 L1060.9,685.5 L1061.7,685.4 L1062.5,685.4 L1063.3,685.7 L1064.1,685.9 L1064.9,685.8 L1065.7,685.6 L1066.5,685.5 L1067.3,685.6 L1068.1,685.8 L1068.9,685.9 L1069.7,686.0 L1070.5,685.9 L1071.3,686.1 L1072.1,686.5 L1072.9,686.8 L1073.7,687.1 L1074.5,687.4 L1075.3,687.6 L1076.1,687.8 L1076.9,687.7 L1077.7,687.5 L1078.5,687.3 L1079.2,686.9 L1080.0,686.8 L1080.8,686.6 L1081.6,686.4 L1082.4,686.3 L1083.2,686.2 L1084.0,686.0 L1084.8,686.3 L1085.6,686.8 L1086.4,687.2 L1087.2,687.6 L1088.0,687.7 L1088.8,687.6 L1089.6,687.2 L1090.4,687.0 L1091.2,687.0 L1092.0,687.1 L1092.8,687.8 L1093.6,688.2 L1094.4,688.5 L1095.2,688.6 L1096.0,688.3 L1096.8,687.7 L1097.6,687.3 L1098.4,687.2 L1099.1,687.3 L1099.9,687.7 L1100.7,687.9 L1101.5,688.1 L1102.3,688.4 L1103.1,688.6 L1103.9,688.5 L1104.7,688.1 L1105.5,687.5 L1106.3,687.0 L1107.1,687.0 L1107.9,687.2 L1108.7,687.6 L1109.5,687.9 L1110.3,687.8 L1111.1,687.6 L1111.9,687.4 L1112.7,687.5 L1113.5,687.7 L1114.3,688.0 L1115.1,688.4 L1115.9,688.6 L1116.7,688.8 L1117.5,688.7 L1118.3,688.5 L1119.0,688.3 L1119.8,688.1 L1120.6,688.0 L1121.4,687.9 L1122.2,687.6 L1123.0,687.5 L1123.8,687.1 L1124.6,687.0 L1125.4,686.7 L1126.2,686.5 L1127.0,686.5 L1127.8,686.6 L1128.6,686.7 L1129.4,687.0 L1130.2,687.6 L1131.0,688.4 L1131.8,689.4 L1132.6,689.9 L1133.4,690.1 L1134.2,689.9 L1135.0,689.7 L1135.8,689.3 L1136.6,688.9 L1137.4,688.7 L1138.1,688.3 L1138.9,688.4 L1139.7,688.6 L1140.5,688.8 L1141.3,688.8 L1142.1,688.8 L1142.9,688.6 L1143.7,688.5 L1144.5,688.7 L1145.3,688.8 L1146.1,688.8 L1146.9,688.6 L1147.7,688.1 L1148.5,688.1 L1149.3,688.1 L1150.1,688.3 L1150.9,688.4 L1151.7,688.4 L1152.5,688.3 L1153.3,688.5 L1154.1,688.8 L1154.9,688.8 L1155.7,688.9 L1156.5,689.0 L1157.3,689.0 L1158.0,689.6 L1158.8,690.0 L1159.6,689.9 L1160.4,689.6 L1161.2,689.1 L1162.0,688.5 L1162.8,688.3 L1163.6,688.1 L1164.4,688.0 L1165.2,688.1 L1166.0,688.1 L1166.8,688.4 L1167.6,688.4 L1168.4,688.4 L1169.2,688.3 L1170.0,688.4 L1170.8,688.5 L1171.6,688.8 L1172.4,689.2 L1173.2,689.4 L1174.0,689.7 L1174.8,689.9 L1175.6,689.9 L1176.4,690.0 L1177.2,690.0 L1177.9,690.1 L1178.7,690.3 L1179.5,690.5 L1180.3,690.7 L1181.1,690.5 L1181.9,690.2 L1182.7,689.8 L1183.5,689.6 L1184.3,689.5 L1185.1,689.4 L1185.9,689.0 L1186.7,688.4 L1187.5,687.7 L1188.3,687.4 L1189.1,687.5 L1189.9,687.8 L1190.7,688.5 L1191.5,688.9 L1192.3,689.0 L1193.1,689.2 L1193.9,689.2 L1194.7,689.1 L1195.5,688.8 L1196.3,688.5 L1197.1,688.3 L1197.8,688.3 L1198.6,688.6 L1199.4,688.8 L1200.2,689.1 L1201.0,689.5 L1201.8,690.1 L1202.6,690.4 L1203.4,690.7 L1204.2,690.7 L1205.0,690.7 L1205.8,690.8 L1206.6,691.0 L1207.4,691.2 L1208.2,690.9 L1209.0,690.5 L1209.8,689.8 L1210.6,689.5 L1211.4,689.2 L1212.2,689.1 L1213.0,689.3 L1213.8,689.3 L1214.6,689.5 L1215.4,689.8 L1216.2,690.1 L1217.0,690.5 L1217.7,690.6 L1218.5,690.6 L1219.3,690.3 L1220.1,689.9 L1220.9,689.6 L1221.7,689.4 L1222.5,689.2 L1223.3,689.3 L1224.1,689.8 L1224.9,690.4 L1225.7,691.1 L1226.5,691.5 L1227.3,691.4 L1228.1,691.2 L1228.9,690.9 L1229.7,690.6 L1230.5,690.3 L1231.3,690.1 L1232.1,689.9 L1232.9,689.9 L1233.7,689.7 L1234.5,689.4 L1235.3,688.9 L1236.1,688.4 L1236.9,688.1 L1237.6,688.5 L1238.4,689.3 L1239.2,690.1 L1240.0,690.8 L1240.8,691.1 L1241.6,691.3 L1242.4,691.4 L1243.2,691.4 L1244.0,691.1 L1244.8,691.1 L1245.6,691.1 L1246.4,691.0 L1247.2,691.0 L1248.0,690.7 L1248.8,690.3 L1249.6,689.6 L1250.4,689.2 L1251.2,688.6 L1252.0,688.2 L1252.8,688.3 L1253.6,688.3 L1254.4,688.6 L1255.2,688.9 L1256.0,689.1 L1256.8,689.5 L1257.5,689.8 L1258.3,690.0 L1259.1,690.2 L1259.9,689.9 L1260.7,689.7 L1261.5,689.5 L1262.3,689.5 L1263.1,689.8 L1263.9,690.3 L1264.7,690.7 L1265.5,691.0 L1266.3,691.0 L1267.1,691.0 L1267.9,690.8 L1268.7,690.9 L1269.5,691.3 L1270.3,691.6 L1271.1,691.9 L1271.9,692.2 L1272.7,691.8 L1273.5,691.6 L1274.3,691.3 L1275.1,690.9 L1275.9,690.7 L1276.7,690.9 L1277.4,691.1 L1278.2,691.2 L1279.0,691.4 L1279.8,691.1 L1280.6,690.7 L1281.4,690.4 L1282.2,690.1 L1283.0,690.1 L1283.8,690.3 L1284.6,690.4 L1285.4,690.2 L1286.2,689.7 L1287.0,689.1 L1287.8,688.8 L1288.6,688.9 L1289.4,689.4 L1290.2,690.1 L1291.0,690.7 L1291.8,691.3 L1292.6,691.7 L1293.4,691.7 L1294.2,691.8 L1295.0,691.3 L1295.8,691.2 L1296.6,691.6 L1297.3,691.8 L1298.1,692.1 L1298.9,692.0 L1299.7,691.7 L1300.5,691.4 L1301.3,691.5 L1302.1,691.7 L1302.9,691.8 L1303.7,691.9 L1304.5,691.9 L1305.3,692.1 L1306.1,692.1 L1306.9,691.8 L1307.7,691.4 L1308.5,690.8 L1309.3,690.6 L1310.1,690.8 L1310.9,691.0 L1311.7,691.2 L1312.5,691.4 L1313.3,691.5 L1314.1,691.6 L1314.9,691.5 L1315.7,691.3 L1316.5,691.1 L1317.2,691.0 L1318.0,691.1 L1318.8,691.1 L1319.6,691.1 L1320.4,691.2 L1321.2,691.4 L1322.0,691.6 L1322.8,691.7 L1323.6,691.7 L1324.4,692.0 L1325.2,692.2 L1326.0,692.4 L1326.8,692.6" fill="none" stroke="#000000" stroke-width="5.4" stroke-linejoin="round" stroke-linecap="square" stroke-opacity="0.1"/><path d="M929.6,685.5 L930.0,685.5 L930.5,685.5 L930.9,685.5 L931.4,685.5 L931.8,685.5 L932.3,685.5 L932.7,685.5 L933.1,685.5 L933.6,685.4 L934.0,685.4 L934.5,685.4 L934.9,685.4 L935.3,685.4 L935.8,685.5 L936.2,685.5 L936.7,685.4 L937.1,685.4 L937.6,685.5 L938.0,685.5 L938.4,685.5 L938.9,685.5 L939.3,685.3 L939.8,685.0 L940.2,685.2 L940.6,685.8 L941.1,686.1 L941.5,686.2 L942.0,686.2 L942.4,686.2 L942.9,685.8 L943.3,685.6 L943.7,685.8 L944.2,685.5 L944.6,684.9 L945.1,684.6 L945.5,684.5 L945.9,684.9 L946.4,685.1 L946.8,685.0 L947.3,685.3 L947.7,685.7 L948.2,685.8 L948.6,686.0 L949.0,686.2 L949.5,686.2 L949.9,686.0 L950.4,686.0 L950.8,685.9 L951.2,685.4 L951.7,685.0 L952.1,685.0 L952.6,684.9 L953.0,684.7 L953.5,684.5 L953.9,684.4 L954.3,684.3 L954.8,683.9 L955.2,684.1 L955.7,684.4 L956.1,684.2 L956.6,684.0 L957.0,684.0 L957.4,684.3 L957.9,684.3 L958.3,684.2 L958.8,684.1 L959.2,683.7 L959.6,683.7 L960.1,683.9 L960.5,683.4 L961.0,683.0 L961.4,683.1 L961.9,682.9 L962.3,682.5 L962.7,682.0 L963.2,681.8 L963.6,682.1 L964.1,682.3 L964.5,682.2 L964.9,682.0 L965.4,681.6 L965.8,681.8 L966.3,682.4 L966.7,682.3 L967.2,681.8 L967.6,681.6 L968.0,681.5 L968.5,681.2 L968.9,680.8 L969.4,680.3 L969.8,679.8 L970.2,679.5 L970.7,679.4 L971.1,679.1 L971.6,679.2 L972.0,679.7 L972.5,679.6 L972.9,679.8 L973.3,679.9 L973.8,679.9 L974.2,679.7 L974.7,679.3 L975.1,679.0 L975.5,678.4 L976.0,677.9 L976.4,677.9 L976.9,678.4 L977.3,678.3 L977.8,677.8 L978.2,677.9 L978.6,678.1 L979.1,678.1 L979.5,677.8 L980.0,677.5 L980.4,677.4 L980.9,677.5 L981.3,677.5 L981.7,677.6 L982.2,677.6 L982.6,676.9 L983.1,676.8 L983.5,677.7 L983.9,678.1 L984.4,677.2 L984.8,676.7 L985.3,677.1 L985.7,677.2 L986.2,677.1 L986.6,677.3 L987.0,677.3 L987.5,677.1 L987.9,676.8 L988.4,676.7 L988.8,676.6 L989.2,676.7 L989.7,676.8 L990.1,677.0 L990.6,677.1 L991.0,677.2 L991.5,677.6 L991.9,677.4 L992.3,676.9 L992.8,676.8 L993.2,676.6 L993.7,676.3 L994.1,676.3 L994.5,676.1 L995.0,675.8 L995.4,675.9 L995.9,675.8 L996.3,675.6 L996.8,675.9 L997.2,676.2 L997.6,676.3 L998.1,675.9 L998.5,675.6 L999.0,675.8 L999.4,676.2 L999.9,676.6 L1000.3,676.3 L1000.7,676.0 L1001.2,676.2 L1001.6,676.2 L1002.1,675.9 L1002.5,675.5 L1002.9,674.8 L1003.4,674.2 L1003.8,674.2 L1004.3,674.3 L1004.7,674.3 L1005.2,674.3 L1005.6,674.3 L1006.0,674.2 L1006.5,674.6 L1006.9,674.9 L1007.4,674.8 L1007.8,675.2 L1008.2,675.3 L1008.7,674.8 L1009.1,674.3 L1009.6,674.0 L1010.0,674.2 L1010.5,673.7 L1010.9,672.7 L1011.3,672.7 L1011.8,673.1 L1012.2,673.1 L1012.7,673.4 L1013.1,673.7 L1013.5,673.7 L1014.0,673.5 L1014.4,672.9 L1014.9,673.3 L1015.3,673.9 L1015.8,674.2 L1016.2,674.2 L1016.6,673.8 L1017.1,673.5 L1017.5,673.6 L1018.0,673.3 L1018.4,672.4 L1018.8,672.1 L1019.3,672.1 L1019.7,672.1 L1020.2,672.2 L1020.6,672.4 L1021.1,672.2 L1021.5,671.9 L1021.9,672.1 L1022.4,671.9 L1022.8,671.8 L1023.3,671.8 L1023.7,671.8 L1024.2,671.8 L1024.6,671.9 L1025.0,672.1 L1025.5,672.0 L1025.9,671.9 L1026.4,671.6 L1026.8,671.4 L1027.2,671.0 L1027.7,670.6 L1028.1,670.4 L1028.6,670.3 L1029.0,670.3 L1029.5,670.4 L1029.9,670.3 L1030.3,670.1 L1030.8,670.3 L1031.2,670.1 L1031.7,669.6 L1032.1,669.2 L1032.5,669.5 L1033.0,669.5 L1033.4,669.0 L1033.9,669.0 L1034.3,668.9 L1034.8,668.5 L1035.2,668.7 L1035.6,668.7 L1036.1,668.5 L1036.5,668.2 L1037.0,668.3 L1037.4,668.0 L1037.8,667.5 L1038.3,667.8 L1038.7,667.8 L1039.2,667.6 L1039.6,667.4 L1040.1,667.3 L1040.5,667.2 L1040.9,667.0 L1041.4,667.0 L1041.8,666.8 L1042.3,666.6 L1042.7,666.7 L1043.1,666.7 L1043.6,666.4 L1044.0,666.1 L1044.5,666.2 L1044.9,666.1 L1045.4,666.2 L1045.8,666.6 L1046.2,666.6 L1046.7,666.8 L1047.1,666.9 L1047.6,666.7 L1048.0,666.4 L1048.5,666.2 L1048.9,666.4 L1049.3,666.2 L1049.8,666.6 L1050.2,666.3 L1050.7,665.5 L1051.1,665.8 L1051.5,665.6 L1052.0,665.3 L1052.4,665.6 L1052.9,665.7 L1053.3,665.2 L1053.8,664.9 L1054.2,664.9 L1054.6,664.7 L1055.1,664.7 L1055.5,664.6 L1056.0,664.2 L1056.4,664.1 L1056.8,664.3 L1057.3,664.5 L1057.7,664.6 L1058.2,664.4 L1058.6,663.9 L1059.1,663.4 L1059.5,662.9 L1059.9,662.6 L1060.4,662.5 L1060.8,662.3 L1061.3,661.5 L1061.7,661.1 L1062.1,661.2 L1062.6,661.3 L1063.0,661.5 L1063.5,661.8 L1063.9,661.9 L1064.4,662.0 L1064.8,661.7 L1065.2,661.4 L1065.7,661.3 L1066.1,661.0 L1066.6,660.8 L1067.0,660.5 L1067.4,660.3 L1067.9,660.6 L1068.3,660.9 L1068.8,661.0 L1069.2,661.3 L1069.7,661.6 L1070.1,661.9 L1070.5,661.9 L1071.0,661.5 L1071.4,661.6 L1071.9,661.8 L1072.3,662.0 L1072.8,662.1 L1073.2,662.3 L1073.6,662.7 L1074.1,662.9 L1074.5,663.1 L1075.0,663.0 L1075.4,662.4 L1075.8,662.1 L1076.3,661.9 L1076.7,662.0 L1077.2,662.1 L1077.6,661.9 L1078.1,661.7 L1078.5,661.2 L1078.9,661.3 L1079.4,661.7 L1079.8,661.8 L1080.3,661.8 L1080.7,661.8 L1081.1,662.1 L1081.6,662.0 L1082.0,661.6 L1082.5,661.3 L1082.9,661.3 L1083.4,661.4 L1083.8,661.1 L1084.2,660.7 L1084.7,661.0 L1085.1,661.0 L1085.6,660.6 L1086.0,660.2 L1086.4,659.9 L1086.9,659.7 L1087.3,659.6 L1087.8,659.6 L1088.2,659.5 L1088.7,659.4 L1089.1,659.0 L1089.5,658.9 L1090.0,659.1 L1090.4,659.0 L1090.9,658.7 L1091.3,658.2 L1091.7,658.2 L1092.2,658.4 L1092.6,658.1 L1093.1,657.4 L1093.5,657.3 L1094.0,657.8 L1094.4,657.6 L1094.8,657.7 L1095.3,658.4 L1095.7,658.5 L1096.2,658.2 L1096.6,658.1 L1097.1,658.2 L1097.5,658.1 L1097.9,657.7 L1098.4,657.3 L1098.8,657.1 L1099.3,657.1 L1099.7,657.4 L1100.1,657.5 L1100.6,657.3 L1101.0,656.9 L1101.5,656.9 L1101.9,656.9 L1102.4,656.5 L1102.8,656.3 L1103.2,656.2 L1103.7,656.2 L1104.1,656.5 L1104.6,656.8 L1105.0,656.5 L1105.4,656.5 L1105.9,656.4 L1106.3,656.3 L1106.8,656.5 L1107.2,656.5 L1107.7,655.7 L1108.1,655.3 L1108.5,655.1 L1109.0,654.4 L1109.4,653.7 L1109.9,652.9 L1110.3,652.5 L1110.7,653.0 L1111.2,653.0 L1111.6,652.8 L1112.1,652.9 L1112.5,653.0 L1113.0,652.7 L1113.4,652.0 L1113.8,651.7 L1114.3,651.4 L1114.7,650.9 L1115.2,650.6 L1115.6,650.5 L1116.0,650.3 L1116.5,650.1 L1116.9,649.8 L1117.4,649.7 L1117.8,649.4 L1118.3,649.2 L1118.7,649.2 L1119.1,648.9 L1119.6,648.3 L1120.0,647.9 L1120.5,647.5 L1120.9,646.9 L1121.4,646.9 L1121.8,647.1 L1122.2,647.1 L1122.7,647.0 L1123.1,647.3 L1123.6,648.0 L1124.0,648.5 L1124.4,649.0 L1124.9,649.2 L1125.3,648.8 L1125.8,648.4 L1126.2,648.3 L1126.7,648.5 L1127.1,648.8 L1127.5,648.8 L1128.0,648.3 L1128.4,647.8 L1128.9,648.0 L1129.3,648.4 L1129.7,648.9 L1130.2,649.5 L1130.6,650.1 L1131.1,650.4 L1131.5,650.3 L1132.0,650.2 L1132.4,650.1 L1132.8,649.7 L1133.3,649.5 L1133.7,649.3 L1134.2,648.9 L1134.6,649.1 L1135.0,649.3 L1135.5,649.4 L1135.9,649.7 L1136.4,650.0 L1136.8,650.1 L1137.3,650.1 L1137.7,650.2 L1138.1,650.5 L1138.6,650.8 L1139.0,651.0 L1139.5,650.8 L1139.9,650.5 L1140.4,650.3 L1140.8,650.1 L1141.2,650.0 L1141.7,650.1 L1142.1,649.9 L1142.6,649.4 L1143.0,648.9 L1143.4,648.1 L1143.9,647.4 L1144.3,647.1 L1144.8,646.4 L1145.2,645.9 L1145.7,646.0 L1146.1,646.3 L1146.5,646.3 L1147.0,645.8 L1147.4,645.3 L1147.9,645.0 L1148.3,644.8 L1148.7,644.4 L1149.2,644.5 L1149.6,644.7 L1150.1,644.3 L1150.5,644.4 L1151.0,644.0 L1151.4,643.6 L1151.8,644.0 L1152.3,644.4 L1152.7,644.3 L1153.2,644.0 L1153.6,643.9 L1154.0,643.5 L1154.5,643.2 L1154.9,643.3 L1155.4,643.7 L1155.8,643.3 L1156.3,643.2 L1156.7,643.6 L1157.1,643.9 L1157.6,643.7 L1158.0,643.5 L1158.5,643.3 L1158.9,643.4 L1159.3,643.4 L1159.8,643.0 L1160.2,643.2 L1160.7,643.1 L1161.1,642.1 L1161.6,641.7 L1162.0,641.8 L1162.4,641.4 L1162.9,641.4 L1163.3,642.2 L1163.8,643.1 L1164.2,643.5 L1164.7,643.8 L1165.1,643.9 L1165.5,643.7 L1166.0,643.9 L1166.4,644.1 L1166.9,643.5 L1167.3,642.7 L1167.7,642.1 L1168.2,641.9 L1168.6,641.7 L1169.1,641.8 L1169.5,641.9 L1170.0,641.8 L1170.4,641.6 L1170.8,641.2 L1171.3,641.5 L1171.7,641.8 L1172.2,641.5 L1172.6,641.4 L1173.0,641.8 L1173.5,642.1 L1173.9,642.7 L1174.4,642.8 L1174.8,642.3 L1175.3,641.8 L1175.7,641.5 L1176.1,641.5 L1176.6,641.5 L1177.0,641.6 L1177.5,641.6 L1177.9,641.1 L1178.3,640.8 L1178.8,640.8 L1179.2,641.1 L1179.7,641.2 L1180.1,640.8 L1180.6,640.4 L1181.0,640.7 L1181.4,641.1 L1181.9,640.5 L1182.3,639.9 L1182.8,639.5 L1183.2,639.3 L1183.6,639.7 L1184.1,640.6 L1184.5,641.3 L1185.0,641.6 L1185.4,641.4 L1185.9,641.0 L1186.3,640.8 L1186.7,640.4 L1187.2,640.0 L1187.6,639.9 L1188.1,639.6 L1188.5,639.3 L1189.0,639.9 L1189.4,640.5 L1189.8,640.6 L1190.3,641.1 L1190.7,641.6 L1191.2,641.5 L1191.6,641.7 L1192.0,642.2 L1192.5,642.5 L1192.9,642.6 L1193.4,642.2 L1193.8,641.7 L1194.3,641.9 L1194.7,642.4 L1195.1,642.4 L1195.6,641.8 L1196.0,641.2 L1196.5,641.1 L1196.9,640.6 L1197.3,640.2 L1197.8,640.3 L1198.2,640.8 L1198.7,641.3 L1199.1,641.0 L1199.6,641.0 L1200.0,641.5 L1200.4,642.0 L1200.9,642.4 L1201.3,642.2 L1201.8,642.1 L1202.2,641.9 L1202.6,641.6 L1203.1,641.3 L1203.5,640.9 L1204.0,640.4 L1204.4,640.3 L1204.9,640.6 L1205.3,641.0 L1205.7,641.1 L1206.2,641.1 L1206.6,640.5 L1207.1,639.3 L1207.5,638.9 L1207.9,639.0 L1208.4,638.6 L1208.8,638.5 L1209.3,639.0 L1209.7,638.8 L1210.2,638.7 L1210.6,639.0 L1211.0,639.1 L1211.5,638.9 L1211.9,638.5 L1212.4,638.1 L1212.8,637.7 L1213.3,637.3 L1213.7,636.8 L1214.1,636.5 L1214.6,636.8 L1215.0,637.4 L1215.5,638.0 L1215.9,638.3 L1216.3,638.0 L1216.8,637.6 L1217.2,637.5 L1217.7,637.6 L1218.1,637.8 L1218.6,637.7 L1219.0,637.6 L1219.4,637.8 L1219.9,638.1 L1220.3,637.8 L1220.8,637.9 L1221.2,638.4 L1221.6,638.9 L1222.1,639.2 L1222.5,639.2 L1223.0,639.7 L1223.4,640.1 L1223.9,639.5 L1224.3,639.0 L1224.7,638.6 L1225.2,638.3 L1225.6,638.8 L1226.1,639.1 L1226.5,639.1 L1226.9,639.6 L1227.4,639.7 L1227.8,639.5 L1228.3,639.7 L1228.7,639.7 L1229.2,639.7 L1229.6,639.8 L1230.0,639.9 L1230.5,640.0 L1230.9,640.1 L1231.4,640.1 L1231.8,639.7 L1232.2,639.4 L1232.7,639.3 L1233.1,639.7 L1233.6,639.6 L1234.0,640.1 L1234.5,641.0 L1234.9,641.0 L1235.3,640.5 L1235.8,640.1 L1236.2,639.7 L1236.7,639.5 L1237.1,639.2 L1237.6,639.5 L1238.0,639.9 L1238.4,640.1 L1238.9,640.1 L1239.3,640.1 L1239.8,640.8 L1240.2,641.9 L1240.6,642.2 L1241.1,642.0 L1241.5,641.7 L1242.0,641.7 L1242.4,642.1 L1242.9,641.9 L1243.3,641.3 L1243.7,640.9 L1244.2,639.9 L1244.6,639.2 L1245.1,639.2 L1245.5,639.2 L1245.9,639.3 L1246.4,639.4 L1246.8,639.2 L1247.3,639.0 L1247.7,638.5 L1248.2,637.8 L1248.6,637.4 L1249.0,637.2 L1249.5,637.0 L1249.9,637.2 L1250.4,637.5 L1250.8,637.7 L1251.2,637.6 L1251.7,637.0 L1252.1,636.4 L1252.6,635.9 L1253.0,635.7 L1253.5,635.5 L1253.9,635.7 L1254.3,635.6 L1254.8,635.3 L1255.2,635.3 L1255.7,635.3 L1256.1,635.5 L1256.5,635.7 L1257.0,635.7 L1257.4,635.8 L1257.9,635.9 L1258.3,635.7 L1258.8,635.2 L1259.2,634.6 L1259.6,634.0 L1260.1,634.1 L1260.5,634.3 L1261.0,634.5 L1261.4,634.5 L1261.9,633.9 L1262.3,633.4 L1262.7,633.3 L1263.2,633.4 L1263.6,633.2 L1264.1,633.3 L1264.5,633.5 L1264.9,633.2 L1265.4,633.1 L1265.8,633.2 L1266.3,633.2 L1266.7,633.2 L1267.2,633.4 L1267.6,633.2 L1268.0,632.8 L1268.5,632.1 L1268.9,631.7 L1269.4,632.1 L1269.8,632.1 L1270.2,631.3 L1270.7,631.0 L1271.1,631.3 L1271.6,631.5 L1272.0,631.7 L1272.5,632.0 L1272.9,632.4 L1273.3,632.7 L1273.8,633.0 L1274.2,633.4 L1274.7,632.9 L1275.1,632.3 L1275.5,632.0 L1276.0,631.7 L1276.4,632.0 L1276.9,632.5 L1277.3,632.5 L1277.8,632.1 L1278.2,631.7 L1278.6,631.5 L1279.1,631.9 L1279.5,631.9 L1280.0,631.4 L1280.4,630.5 L1280.9,630.0 L1281.3,630.3 L1281.7,630.9 L1282.2,630.9 L1282.6,630.5 L1283.1,630.5 L1283.5,630.6 L1283.9,631.1 L1284.4,632.0 L1284.8,632.0 L1285.3,631.4 L1285.7,631.0 L1286.2,630.8 L1286.6,630.6 L1287.0,629.7 L1287.5,629.2 L1287.9,629.1 L1288.4,628.8 L1288.8,628.4 L1289.2,628.0 L1289.7,627.8 L1290.1,627.8 L1290.6,627.7 L1291.0,627.7 L1291.5,627.7 L1291.9,627.5 L1292.3,627.2 L1292.8,627.0 L1293.2,627.0 L1293.7,626.6 L1294.1,626.3 L1294.5,626.2 L1295.0,625.9 L1295.4,625.5 L1295.9,625.2 L1296.3,625.0 L1296.8,625.1 L1297.2,625.1 L1297.6,624.5 L1298.1,624.0 L1298.5,624.1 L1299.0,624.3 L1299.4,624.4 L1299.8,624.6 L1300.3,624.5 L1300.7,624.6 L1301.2,624.4 L1301.6,624.0 L1302.1,623.7 L1302.5,623.2 L1302.9,622.6 L1303.4,621.9 L1303.8,621.9 L1304.3,622.1 L1304.7,622.6 L1305.2,623.3 L1305.6,623.2 L1306.0,622.9 L1306.5,622.5 L1306.9,622.3 L1307.4,622.4 L1307.8,622.4 L1308.2,622.1 L1308.7,621.4 L1309.1,621.2 L1309.6,620.5 L1310.0,619.7 L1310.5,620.0 L1310.9,620.1 L1311.3,619.9 L1311.8,619.6 L1312.2,619.7 L1312.7,619.6 L1313.1,619.3 L1313.5,618.9 L1314.0,618.2 L1314.4,618.2 L1314.9,618.6 L1315.3,619.1 L1315.8,619.2 L1316.2,619.0 L1316.6,618.8 L1317.1,618.9 L1317.5,618.9 L1318.0,618.4 L1318.4,618.4 L1318.8,618.7 L1319.3,618.6 L1319.7,618.5 L1320.2,618.6 L1320.6,618.2 L1321.1,617.5 L1321.5,617.0 L1321.9,617.0 L1322.4,616.6 L1322.8,615.9 L1323.3,616.0 L1323.7,616.2 L1324.1,616.3 L1324.6,615.9 L1325.0,615.3 L1325.5,615.2 L1325.9,615.7 L1326.4,615.9 L1326.8,615.9" fill="none" stroke="#000000" stroke-width="6.1" stroke-linejoin="round" stroke-linecap="square"/><path d="M929.6,685.5 L930.0,685.4 L930.5,685.2 L930.9,685.1 L931.4,685.0 L931.8,684.8 L932.3,684.7 L932.7,684.5 L933.1,684.3 L933.6,684.2 L934.0,684.0 L934.5,683.8 L934.9,683.7 L935.3,683.6 L935.8,683.5 L936.2,683.4 L936.7,683.2 L937.1,683.1 L937.6,683.0 L938.0,682.9 L938.4,682.8 L938.9,682.5 L939.3,682.3 L939.8,682.1 L940.2,682.0 L940.6,681.9 L941.1,681.4 L941.5,681.2 L942.0,681.5 L942.4,681.9 L942.9,681.8 L943.3,681.6 L943.7,681.3 L944.2,680.9 L944.6,680.6 L945.1,680.3 L945.5,680.2 L945.9,679.9 L946.4,679.7 L946.8,679.9 L947.3,679.9 L947.7,679.4 L948.2,679.0 L948.6,679.3 L949.0,679.6 L949.5,679.4 L949.9,679.1 L950.4,678.8 L950.8,678.9 L951.2,679.0 L951.7,678.5 L952.1,678.5 L952.6,678.8 L953.0,678.4 L953.5,678.0 L953.9,677.7 L954.3,676.9 L954.8,676.3 L955.2,676.1 L955.7,676.2 L956.1,676.1 L956.6,675.9 L957.0,675.9 L957.4,675.9 L957.9,675.6 L958.3,675.6 L958.8,676.0 L959.2,676.7 L959.6,676.7 L960.1,676.2 L960.5,675.7 L961.0,675.2 L961.4,675.1 L961.9,675.0 L962.3,674.7 L962.7,674.8 L963.2,675.1 L963.6,674.7 L964.1,674.1 L964.5,673.8 L964.9,673.6 L965.4,673.7 L965.8,673.5 L966.3,673.1 L966.7,673.2 L967.2,673.2 L967.6,673.3 L968.0,673.3 L968.5,672.8 L968.9,672.6 L969.4,672.2 L969.8,671.8 L970.2,671.6 L970.7,671.5 L971.1,671.5 L971.6,671.3 L972.0,671.2 L972.5,671.3 L972.9,671.5 L973.3,671.7 L973.8,672.1 L974.2,672.4 L974.7,672.2 L975.1,671.7 L975.5,671.2 L976.0,670.3 L976.4,669.6 L976.9,669.4 L977.3,669.0 L977.8,668.7 L978.2,668.6 L978.6,668.6 L979.1,668.7 L979.5,669.0 L980.0,669.2 L980.4,669.0 L980.9,669.2 L981.3,668.9 L981.7,668.2 L982.2,667.8 L982.6,667.8 L983.1,667.7 L983.5,667.6 L983.9,667.3 L984.4,666.8 L984.8,666.6 L985.3,666.7 L985.7,666.8 L986.2,667.2 L986.6,667.5 L987.0,667.5 L987.5,667.2 L987.9,666.6 L988.4,666.3 L988.8,666.2 L989.2,666.0 L989.7,665.4 L990.1,664.7 L990.6,664.5 L991.0,664.4 L991.5,664.7 L991.9,664.8 L992.3,664.7 L992.8,664.5 L993.2,664.7 L993.7,664.7 L994.1,664.6 L994.5,664.2 L995.0,663.6 L995.4,663.3 L995.9,663.1 L996.3,663.2 L996.8,663.1 L997.2,663.2 L997.6,663.1 L998.1,662.9 L998.5,662.7 L999.0,662.2 L999.4,661.7 L999.9,661.3 L1000.3,661.4 L1000.7,661.7 L1001.2,661.7 L1001.6,662.0 L1002.1,662.1 L1002.5,661.8 L1002.9,661.7 L1003.4,661.4 L1003.8,660.8 L1004.3,660.3 L1004.7,660.2 L1005.2,660.2 L1005.6,659.8 L1006.0,659.7 L1006.5,659.5 L1006.9,659.0 L1007.4,659.1 L1007.8,659.4 L1008.2,659.5 L1008.7,659.4 L1009.1,658.8 L1009.6,658.6 L1010.0,658.9 L1010.5,658.8 L1010.9,658.7 L1011.3,658.2 L1011.8,657.4 L1012.2,657.1 L1012.7,656.9 L1013.1,657.1 L1013.5,657.3 L1014.0,656.9 L1014.4,656.5 L1014.9,656.5 L1015.3,656.4 L1015.8,655.7 L1016.2,655.1 L1016.6,655.1 L1017.1,654.8 L1017.5,654.7 L1018.0,654.8 L1018.4,654.7 L1018.8,654.4 L1019.3,654.3 L1019.7,654.0 L1020.2,653.5 L1020.6,653.7 L1021.1,654.5 L1021.5,654.9 L1021.9,654.6 L1022.4,654.2 L1022.8,654.1 L1023.3,654.2 L1023.7,654.2 L1024.2,654.0 L1024.6,653.9 L1025.0,654.1 L1025.5,654.2 L1025.9,653.7 L1026.4,653.9 L1026.8,653.8 L1027.2,653.3 L1027.7,653.4 L1028.1,654.2 L1028.6,654.8 L1029.0,654.7 L1029.5,655.0 L1029.9,655.7 L1030.3,656.0 L1030.8,656.0 L1031.2,656.3 L1031.7,655.8 L1032.1,654.6 L1032.5,653.8 L1033.0,653.6 L1033.4,653.5 L1033.9,653.8 L1034.3,654.2 L1034.8,654.2 L1035.2,654.5 L1035.6,655.0 L1036.1,655.1 L1036.5,654.8 L1037.0,654.5 L1037.4,653.9 L1037.8,653.6 L1038.3,653.7 L1038.7,654.0 L1039.2,654.2 L1039.6,653.8 L1040.1,653.4 L1040.5,653.0 L1040.9,652.8 L1041.4,652.9 L1041.8,652.9 L1042.3,653.0 L1042.7,652.5 L1043.1,651.5 L1043.6,651.1 L1044.0,651.2 L1044.5,651.0 L1044.9,650.9 L1045.4,650.7 L1045.8,650.5 L1046.2,650.6 L1046.7,650.6 L1047.1,650.6 L1047.6,650.8 L1048.0,651.1 L1048.5,651.4 L1048.9,651.5 L1049.3,651.5 L1049.8,651.3 L1050.2,650.7 L1050.7,649.9 L1051.1,649.6 L1051.5,649.2 L1052.0,648.9 L1052.4,648.5 L1052.9,647.8 L1053.3,647.7 L1053.8,647.6 L1054.2,647.1 L1054.6,647.4 L1055.1,648.0 L1055.5,648.1 L1056.0,648.5 L1056.4,649.0 L1056.8,649.3 L1057.3,649.1 L1057.7,648.7 L1058.2,647.7 L1058.6,647.0 L1059.1,646.6 L1059.5,646.2 L1059.9,645.9 L1060.4,646.0 L1060.8,646.7 L1061.3,647.2 L1061.7,647.2 L1062.1,646.7 L1062.6,646.1 L1063.0,645.9 L1063.5,645.9 L1063.9,645.7 L1064.4,645.0 L1064.8,644.7 L1065.2,644.7 L1065.7,644.8 L1066.1,644.6 L1066.6,644.2 L1067.0,644.0 L1067.4,643.8 L1067.9,643.5 L1068.3,643.4 L1068.8,643.6 L1069.2,644.0 L1069.7,644.5 L1070.1,644.6 L1070.5,643.8 L1071.0,643.5 L1071.4,643.6 L1071.9,643.3 L1072.3,643.2 L1072.8,643.1 L1073.2,643.0 L1073.6,642.7 L1074.1,642.4 L1074.5,642.3 L1075.0,641.9 L1075.4,641.7 L1075.8,642.0 L1076.3,642.4 L1076.7,642.1 L1077.2,641.8 L1077.6,641.5 L1078.1,641.6 L1078.5,641.6 L1078.9,641.2 L1079.4,640.9 L1079.8,640.3 L1080.3,639.8 L1080.7,640.0 L1081.1,640.6 L1081.6,640.6 L1082.0,640.3 L1082.5,640.0 L1082.9,639.7 L1083.4,639.2 L1083.8,638.5 L1084.2,638.3 L1084.7,638.3 L1085.1,637.9 L1085.6,637.8 L1086.0,637.7 L1086.4,637.1 L1086.9,636.5 L1087.3,636.3 L1087.8,636.2 L1088.2,636.3 L1088.7,636.3 L1089.1,636.2 L1089.5,636.1 L1090.0,636.0 L1090.4,635.8 L1090.9,635.2 L1091.3,634.9 L1091.7,634.7 L1092.2,634.7 L1092.6,635.3 L1093.1,635.6 L1093.5,635.3 L1094.0,634.9 L1094.4,634.9 L1094.8,635.1 L1095.3,634.8 L1095.7,634.1 L1096.2,633.6 L1096.6,633.3 L1097.1,633.1 L1097.5,633.2 L1097.9,633.2 L1098.4,633.0 L1098.8,633.0 L1099.3,633.4 L1099.7,633.4 L1100.1,632.8 L1100.6,632.2 L1101.0,631.9 L1101.5,631.7 L1101.9,631.5 L1102.4,631.0 L1102.8,630.4 L1103.2,629.8 L1103.7,629.9 L1104.1,630.2 L1104.6,630.5 L1105.0,630.9 L1105.4,630.7 L1105.9,630.0 L1106.3,630.0 L1106.8,629.6 L1107.2,628.9 L1107.7,628.8 L1108.1,628.6 L1108.5,628.2 L1109.0,628.1 L1109.4,628.4 L1109.9,628.5 L1110.3,628.2 L1110.7,628.4 L1111.2,628.5 L1111.6,627.9 L1112.1,627.5 L1112.5,627.3 L1113.0,626.9 L1113.4,626.8 L1113.8,626.7 L1114.3,626.1 L1114.7,625.8 L1115.2,625.7 L1115.6,625.4 L1116.0,625.3 L1116.5,625.3 L1116.9,625.5 L1117.4,625.8 L1117.8,625.8 L1118.3,625.5 L1118.7,625.5 L1119.1,624.9 L1119.6,624.3 L1120.0,624.3 L1120.5,624.3 L1120.9,624.4 L1121.4,624.2 L1121.8,624.0 L1122.2,623.8 L1122.7,623.3 L1123.1,623.2 L1123.6,623.2 L1124.0,623.0 L1124.4,622.4 L1124.9,621.7 L1125.3,621.9 L1125.8,622.5 L1126.2,623.1 L1126.7,623.3 L1127.1,623.4 L1127.5,623.7 L1128.0,623.8 L1128.4,623.8 L1128.9,623.2 L1129.3,623.0 L1129.7,623.2 L1130.2,623.2 L1130.6,623.5 L1131.1,623.9 L1131.5,624.2 L1132.0,624.1 L1132.4,623.8 L1132.8,623.8 L1133.3,623.6 L1133.7,623.3 L1134.2,623.2 L1134.6,623.1 L1135.0,623.2 L1135.5,623.2 L1135.9,623.0 L1136.4,623.1 L1136.8,623.5 L1137.3,623.5 L1137.7,623.2 L1138.1,622.6 L1138.6,622.1 L1139.0,622.1 L1139.5,622.1 L1139.9,622.3 L1140.4,622.1 L1140.8,622.2 L1141.2,622.5 L1141.7,622.5 L1142.1,622.5 L1142.6,622.4 L1143.0,622.0 L1143.4,621.5 L1143.9,621.2 L1144.3,621.1 L1144.8,621.4 L1145.2,621.7 L1145.7,621.8 L1146.1,621.6 L1146.5,621.3 L1147.0,621.5 L1147.4,621.4 L1147.9,621.2 L1148.3,621.3 L1148.7,621.2 L1149.2,620.9 L1149.6,621.1 L1150.1,621.7 L1150.5,621.7 L1151.0,621.5 L1151.4,621.5 L1151.8,621.6 L1152.3,621.2 L1152.7,620.8 L1153.2,620.5 L1153.6,619.9 L1154.0,619.6 L1154.5,619.4 L1154.9,619.3 L1155.4,619.4 L1155.8,619.7 L1156.3,619.6 L1156.7,619.4 L1157.1,619.4 L1157.6,619.7 L1158.0,619.4 L1158.5,618.6 L1158.9,618.3 L1159.3,618.3 L1159.8,618.7 L1160.2,618.8 L1160.7,618.5 L1161.1,618.6 L1161.6,618.5 L1162.0,617.9 L1162.4,617.9 L1162.9,618.2 L1163.3,618.3 L1163.8,618.3 L1164.2,618.2 L1164.7,618.6 L1165.1,618.6 L1165.5,618.2 L1166.0,617.8 L1166.4,617.2 L1166.9,616.8 L1167.3,616.7 L1167.7,616.4 L1168.2,615.9 L1168.6,615.7 L1169.1,615.7 L1169.5,615.8 L1170.0,615.9 L1170.4,616.2 L1170.8,616.7 L1171.3,617.0 L1171.7,617.0 L1172.2,617.2 L1172.6,617.2 L1173.0,616.9 L1173.5,616.1 L1173.9,615.4 L1174.4,615.4 L1174.8,615.4 L1175.3,615.2 L1175.7,615.0 L1176.1,614.9 L1176.6,615.0 L1177.0,615.1 L1177.5,615.2 L1177.9,615.6 L1178.3,616.1 L1178.8,616.1 L1179.2,615.7 L1179.7,615.4 L1180.1,615.4 L1180.6,615.3 L1181.0,614.9 L1181.4,614.2 L1181.9,613.6 L1182.3,613.3 L1182.8,612.9 L1183.2,612.1 L1183.6,611.8 L1184.1,611.7 L1184.5,612.0 L1185.0,612.3 L1185.4,612.4 L1185.9,612.5 L1186.3,612.5 L1186.7,612.5 L1187.2,612.4 L1187.6,612.0 L1188.1,611.5 L1188.5,611.3 L1189.0,611.4 L1189.4,611.1 L1189.8,610.2 L1190.3,609.7 L1190.7,609.4 L1191.2,609.4 L1191.6,609.9 L1192.0,610.0 L1192.5,609.5 L1192.9,609.2 L1193.4,609.4 L1193.8,609.0 L1194.3,608.9 L1194.7,608.9 L1195.1,608.3 L1195.6,608.0 L1196.0,607.7 L1196.5,606.8 L1196.9,606.2 L1197.3,606.3 L1197.8,606.1 L1198.2,606.1 L1198.7,606.3 L1199.1,605.9 L1199.6,605.3 L1200.0,605.4 L1200.4,605.6 L1200.9,605.5 L1201.3,605.0 L1201.8,605.0 L1202.2,605.2 L1202.6,604.9 L1203.1,604.6 L1203.5,604.2 L1204.0,604.4 L1204.4,604.1 L1204.9,603.5 L1205.3,602.8 L1205.7,601.6 L1206.2,600.7 L1206.6,600.8 L1207.1,600.7 L1207.5,600.3 L1207.9,600.2 L1208.4,600.2 L1208.8,599.8 L1209.3,599.3 L1209.7,599.4 L1210.2,599.6 L1210.6,599.6 L1211.0,599.4 L1211.5,599.2 L1211.9,599.2 L1212.4,598.9 L1212.8,598.6 L1213.3,598.3 L1213.7,597.5 L1214.1,597.0 L1214.6,596.9 L1215.0,596.8 L1215.5,596.2 L1215.9,595.8 L1216.3,595.5 L1216.8,595.2 L1217.2,595.0 L1217.7,594.5 L1218.1,594.3 L1218.6,594.4 L1219.0,594.3 L1219.4,594.2 L1219.9,594.1 L1220.3,593.8 L1220.8,593.6 L1221.2,593.6 L1221.6,593.8 L1222.1,593.4 L1222.5,592.7 L1223.0,592.6 L1223.4,592.9 L1223.9,592.5 L1224.3,591.6 L1224.7,591.1 L1225.2,590.7 L1225.6,590.7 L1226.1,590.9 L1226.5,590.7 L1226.9,590.9 L1227.4,591.3 L1227.8,591.2 L1228.3,590.7 L1228.7,590.5 L1229.2,590.4 L1229.6,589.9 L1230.0,589.5 L1230.5,589.8 L1230.9,590.0 L1231.4,590.1 L1231.8,589.8 L1232.2,589.5 L1232.7,589.6 L1233.1,589.1 L1233.6,588.6 L1234.0,588.6 L1234.5,588.2 L1234.9,587.7 L1235.3,587.4 L1235.8,587.2 L1236.2,587.0 L1236.7,587.2 L1237.1,587.5 L1237.6,587.4 L1238.0,587.3 L1238.4,587.1 L1238.9,587.0 L1239.3,586.5 L1239.8,585.6 L1240.2,585.4 L1240.6,585.7 L1241.1,585.6 L1241.5,586.1 L1242.0,586.3 L1242.4,586.1 L1242.9,586.1 L1243.3,586.1 L1243.7,585.7 L1244.2,584.9 L1244.6,584.2 L1245.1,583.7 L1245.5,583.4 L1245.9,583.2 L1246.4,583.1 L1246.8,583.1 L1247.3,583.1 L1247.7,583.0 L1248.2,582.5 L1248.6,582.0 L1249.0,581.4 L1249.5,580.3 L1249.9,579.9 L1250.4,580.0 L1250.8,579.8 L1251.2,579.7 L1251.7,579.8 L1252.1,579.8 L1252.6,579.5 L1253.0,579.3 L1253.5,579.2 L1253.9,579.0 L1254.3,579.2 L1254.8,579.0 L1255.2,578.4 L1255.7,578.3 L1256.1,578.1 L1256.5,577.8 L1257.0,578.2 L1257.4,578.2 L1257.9,578.1 L1258.3,578.3 L1258.8,578.2 L1259.2,577.7 L1259.6,577.0 L1260.1,576.5 L1260.5,576.5 L1261.0,576.7 L1261.4,576.4 L1261.9,575.7 L1262.3,575.2 L1262.7,575.2 L1263.2,575.2 L1263.6,575.0 L1264.1,575.2 L1264.5,575.3 L1264.9,575.1 L1265.4,574.9 L1265.8,574.6 L1266.3,574.1 L1266.7,573.6 L1267.2,574.0 L1267.6,574.9 L1268.0,575.2 L1268.5,575.1 L1268.9,574.5 L1269.4,574.0 L1269.8,574.0 L1270.2,573.7 L1270.7,573.2 L1271.1,573.0 L1271.6,572.8 L1272.0,572.9 L1272.5,573.3 L1272.9,573.2 L1273.3,573.2 L1273.8,573.2 L1274.2,572.7 L1274.7,572.2 L1275.1,571.7 L1275.5,571.2 L1276.0,571.3 L1276.4,571.8 L1276.9,572.0 L1277.3,571.7 L1277.8,571.5 L1278.2,571.6 L1278.6,571.6 L1279.1,571.1 L1279.5,570.8 L1280.0,571.1 L1280.4,570.9 L1280.9,571.0 L1281.3,571.1 L1281.7,570.9 L1282.2,571.1 L1282.6,571.3 L1283.1,571.4 L1283.5,571.3 L1283.9,571.0 L1284.4,570.3 L1284.8,569.7 L1285.3,569.5 L1285.7,569.4 L1286.2,569.4 L1286.6,569.0 L1287.0,569.1 L1287.5,569.3 L1287.9,569.1 L1288.4,569.2 L1288.8,569.0 L1289.2,568.6 L1289.7,568.3 L1290.1,568.1 L1290.6,568.0 L1291.0,567.8 L1291.5,567.6 L1291.9,567.4 L1292.3,567.1 L1292.8,566.8 L1293.2,566.6 L1293.7,566.8 L1294.1,567.0 L1294.5,567.4 L1295.0,567.5 L1295.4,567.5 L1295.9,567.3 L1296.3,566.2 L1296.8,565.5 L1297.2,565.2 L1297.6,564.6 L1298.1,564.5 L1298.5,564.7 L1299.0,564.7 L1299.4,564.2 L1299.8,563.7 L1300.3,564.0 L1300.7,564.5 L1301.2,564.6 L1301.6,564.2 L1302.1,563.7 L1302.5,563.3 L1302.9,562.8 L1303.4,562.4 L1303.8,562.3 L1304.3,562.2 L1304.7,562.4 L1305.2,562.6 L1305.6,562.2 L1306.0,561.8 L1306.5,561.6 L1306.9,561.9 L1307.4,561.7 L1307.8,561.3 L1308.2,560.7 L1308.7,560.4 L1309.1,560.4 L1309.6,560.3 L1310.0,560.2 L1310.5,560.1 L1310.9,559.8 L1311.3,559.3 L1311.8,558.6 L1312.2,558.7 L1312.7,558.6 L1313.1,558.0 L1313.5,558.0 L1314.0,558.2 L1314.4,558.2 L1314.9,558.0 L1315.3,557.8 L1315.8,558.2 L1316.2,558.4 L1316.6,558.2 L1317.1,557.5 L1317.5,557.2 L1318.0,556.8 L1318.4,555.6 L1318.8,555.1 L1319.3,554.5 L1319.7,554.0 L1320.2,553.7 L1320.6,553.6 L1321.1,553.7 L1321.5,553.9 L1321.9,554.4 L1322.4,554.8 L1322.8,554.9 L1323.3,554.8 L1323.7,554.3 L1324.1,553.9 L1324.6,553.7 L1325.0,553.5 L1325.5,553.7 L1325.9,553.9 L1326.4,553.7 L1326.8,553.7" fill="none" stroke="#6801de" stroke-width="6.1" stroke-linejoin="round" stroke-linecap="square"/><path d="M929.6,685.5 L930.0,685.2 L930.5,685.0 L930.9,684.7 L931.4,684.5 L931.8,684.2 L932.3,684.0 L932.7,683.8 L933.1,683.6 L933.6,683.2 L934.0,682.8 L934.5,682.5 L934.9,682.3 L935.3,682.0 L935.8,681.9 L936.2,681.8 L936.7,681.5 L937.1,681.3 L937.6,681.0 L938.0,680.7 L938.4,680.5 L938.9,680.1 L939.3,679.7 L939.8,679.4 L940.2,679.3 L940.6,679.1 L941.1,678.6 L941.5,678.1 L942.0,678.0 L942.4,677.7 L942.9,677.4 L943.3,677.4 L943.7,677.0 L944.2,676.5 L944.6,676.1 L945.1,675.7 L945.5,675.8 L945.9,675.9 L946.4,675.6 L946.8,675.8 L947.3,675.9 L947.7,675.4 L948.2,675.2 L948.6,675.2 L949.0,675.2 L949.5,675.0 L949.9,674.4 L950.4,673.6 L950.8,673.1 L951.2,672.5 L951.7,672.1 L952.1,672.1 L952.6,671.9 L953.0,671.3 L953.5,671.0 L953.9,670.9 L954.3,670.8 L954.8,671.0 L955.2,671.0 L955.7,670.4 L956.1,670.3 L956.6,670.3 L957.0,670.1 L957.4,669.7 L957.9,669.6 L958.3,669.9 L958.8,669.6 L959.2,668.7 L959.6,668.6 L960.1,668.9 L960.5,668.6 L961.0,668.3 L961.4,667.8 L961.9,667.4 L962.3,667.3 L962.7,667.3 L963.2,667.0 L963.6,666.5 L964.1,666.3 L964.5,666.6 L964.9,666.4 L965.4,665.6 L965.8,665.0 L966.3,664.4 L966.7,663.8 L967.2,663.6 L967.6,663.7 L968.0,663.8 L968.5,663.4 L968.9,663.2 L969.4,663.5 L969.8,663.5 L970.2,663.2 L970.7,662.8 L971.1,662.7 L971.6,663.1 L972.0,663.2 L972.5,662.7 L972.9,662.0 L973.3,661.5 L973.8,661.3 L974.2,661.2 L974.7,661.1 L975.1,660.9 L975.5,660.8 L976.0,660.8 L976.4,660.7 L976.9,660.5 L977.3,660.2 L977.8,659.5 L978.2,658.4 L978.6,657.5 L979.1,657.5 L979.5,657.8 L980.0,657.8 L980.4,657.7 L980.9,657.9 L981.3,658.1 L981.7,657.4 L982.2,657.3 L982.6,657.8 L983.1,658.0 L983.5,658.0 L983.9,657.7 L984.4,656.9 L984.8,656.3 L985.3,656.0 L985.7,655.7 L986.2,655.1 L986.6,654.4 L987.0,653.8 L987.5,653.6 L987.9,653.8 L988.4,654.0 L988.8,653.7 L989.2,653.2 L989.7,652.9 L990.1,653.0 L990.6,652.8 L991.0,652.6 L991.5,652.8 L991.9,652.7 L992.3,651.8 L992.8,651.0 L993.2,651.0 L993.7,651.2 L994.1,651.5 L994.5,651.4 L995.0,650.8 L995.4,650.3 L995.9,649.9 L996.3,649.5 L996.8,649.2 L997.2,649.2 L997.6,649.3 L998.1,649.1 L998.5,649.0 L999.0,649.1 L999.4,649.2 L999.9,649.2 L1000.3,648.8 L1000.7,648.5 L1001.2,648.4 L1001.6,648.0 L1002.1,647.5 L1002.5,646.8 L1002.9,646.8 L1003.4,647.0 L1003.8,646.8 L1004.3,646.8 L1004.7,646.6 L1005.2,646.1 L1005.6,645.6 L1006.0,645.4 L1006.5,645.0 L1006.9,644.8 L1007.4,644.9 L1007.8,644.7 L1008.2,644.7 L1008.7,644.3 L1009.1,643.6 L1009.6,642.9 L1010.0,642.4 L1010.5,642.5 L1010.9,642.5 L1011.3,642.2 L1011.8,642.1 L1012.2,642.0 L1012.7,641.8 L1013.1,641.3 L1013.5,640.9 L1014.0,640.7 L1014.4,640.4 L1014.9,640.6 L1015.3,640.8 L1015.8,641.0 L1016.2,641.1 L1016.6,640.5 L1017.1,640.0 L1017.5,639.5 L1018.0,638.7 L1018.4,638.0 L1018.8,637.6 L1019.3,637.3 L1019.7,637.4 L1020.2,637.3 L1020.6,637.2 L1021.1,637.2 L1021.5,636.7 L1021.9,636.1 L1022.4,635.5 L1022.8,635.3 L1023.3,634.9 L1023.7,634.5 L1024.2,634.2 L1024.6,633.8 L1025.0,633.3 L1025.5,633.0 L1025.9,632.8 L1026.4,632.5 L1026.8,632.6 L1027.2,632.6 L1027.7,632.4 L1028.1,631.9 L1028.6,630.9 L1029.0,630.5 L1029.5,630.4 L1029.9,629.9 L1030.3,629.7 L1030.8,629.3 L1031.2,628.8 L1031.7,628.9 L1032.1,628.9 L1032.5,628.6 L1033.0,628.2 L1033.4,628.1 L1033.9,627.8 L1034.3,627.1 L1034.8,626.9 L1035.2,627.0 L1035.6,626.9 L1036.1,626.7 L1036.5,626.2 L1037.0,625.5 L1037.4,625.6 L1037.8,625.8 L1038.3,625.9 L1038.7,625.2 L1039.2,624.6 L1039.6,624.5 L1040.1,624.3 L1040.5,624.1 L1040.9,623.5 L1041.4,623.0 L1041.8,622.8 L1042.3,622.5 L1042.7,622.3 L1043.1,622.4 L1043.6,622.2 L1044.0,621.8 L1044.5,621.8 L1044.9,622.0 L1045.4,622.4 L1045.8,622.4 L1046.2,622.0 L1046.7,621.6 L1047.1,621.1 L1047.6,620.6 L1048.0,620.4 L1048.5,620.2 L1048.9,619.9 L1049.3,619.8 L1049.8,619.7 L1050.2,619.2 L1050.7,618.9 L1051.1,618.9 L1051.5,618.8 L1052.0,618.2 L1052.4,617.8 L1052.9,617.8 L1053.3,617.8 L1053.8,617.5 L1054.2,617.5 L1054.6,617.8 L1055.1,617.3 L1055.5,617.1 L1056.0,616.9 L1056.4,616.3 L1056.8,616.2 L1057.3,616.2 L1057.7,616.3 L1058.2,616.6 L1058.6,616.2 L1059.1,615.7 L1059.5,615.3 L1059.9,614.6 L1060.4,614.2 L1060.8,613.6 L1061.3,613.8 L1061.7,614.1 L1062.1,613.9 L1062.6,613.9 L1063.0,614.2 L1063.5,614.2 L1063.9,614.0 L1064.4,614.2 L1064.8,614.4 L1065.2,614.0 L1065.7,613.6 L1066.1,613.1 L1066.6,612.3 L1067.0,611.6 L1067.4,611.6 L1067.9,611.9 L1068.3,611.9 L1068.8,611.3 L1069.2,610.7 L1069.7,610.2 L1070.1,609.8 L1070.5,609.5 L1071.0,609.3 L1071.4,609.1 L1071.9,609.2 L1072.3,609.6 L1072.8,609.8 L1073.2,609.9 L1073.6,610.1 L1074.1,609.9 L1074.5,609.4 L1075.0,608.4 L1075.4,607.2 L1075.8,606.7 L1076.3,606.4 L1076.7,605.8 L1077.2,605.6 L1077.6,605.2 L1078.1,604.9 L1078.5,605.5 L1078.9,605.9 L1079.4,605.6 L1079.8,605.2 L1080.3,604.7 L1080.7,604.8 L1081.1,604.5 L1081.6,604.1 L1082.0,604.0 L1082.5,603.4 L1082.9,602.8 L1083.4,602.6 L1083.8,602.4 L1084.2,602.0 L1084.7,601.9 L1085.1,601.7 L1085.6,601.3 L1086.0,600.5 L1086.4,599.8 L1086.9,599.9 L1087.3,599.7 L1087.8,599.4 L1088.2,599.2 L1088.7,598.8 L1089.1,598.2 L1089.5,597.8 L1090.0,597.7 L1090.4,598.0 L1090.9,598.4 L1091.3,597.9 L1091.7,597.4 L1092.2,597.4 L1092.6,597.5 L1093.1,597.4 L1093.5,596.9 L1094.0,596.8 L1094.4,596.6 L1094.8,596.1 L1095.3,595.6 L1095.7,595.3 L1096.2,594.9 L1096.6,594.2 L1097.1,594.0 L1097.5,593.9 L1097.9,593.9 L1098.4,593.6 L1098.8,593.4 L1099.3,593.0 L1099.7,592.5 L1100.1,591.9 L1100.6,591.2 L1101.0,590.9 L1101.5,591.1 L1101.9,591.3 L1102.4,590.8 L1102.8,590.4 L1103.2,590.0 L1103.7,589.8 L1104.1,589.8 L1104.6,589.9 L1105.0,589.6 L1105.4,589.0 L1105.9,588.9 L1106.3,589.2 L1106.8,589.4 L1107.2,589.0 L1107.7,588.5 L1108.1,588.4 L1108.5,588.2 L1109.0,587.5 L1109.4,586.9 L1109.9,586.4 L1110.3,585.9 L1110.7,585.5 L1111.2,585.1 L1111.6,585.1 L1112.1,585.0 L1112.5,584.6 L1113.0,584.0 L1113.4,584.0 L1113.8,584.3 L1114.3,583.9 L1114.7,583.7 L1115.2,583.6 L1115.6,583.3 L1116.0,582.9 L1116.5,582.8 L1116.9,582.8 L1117.4,582.4 L1117.8,581.7 L1118.3,581.1 L1118.7,580.9 L1119.1,580.6 L1119.6,580.1 L1120.0,579.8 L1120.5,580.1 L1120.9,580.1 L1121.4,580.0 L1121.8,580.0 L1122.2,579.8 L1122.7,579.3 L1123.1,579.0 L1123.6,578.6 L1124.0,578.4 L1124.4,578.3 L1124.9,578.1 L1125.3,578.4 L1125.8,578.1 L1126.2,577.7 L1126.7,577.6 L1127.1,577.5 L1127.5,577.2 L1128.0,576.8 L1128.4,576.5 L1128.9,576.0 L1129.3,575.6 L1129.7,575.6 L1130.2,575.7 L1130.6,575.3 L1131.1,574.6 L1131.5,573.9 L1132.0,573.4 L1132.4,573.3 L1132.8,573.1 L1133.3,572.9 L1133.7,572.6 L1134.2,572.1 L1134.6,572.0 L1135.0,572.0 L1135.5,571.9 L1135.9,571.3 L1136.4,570.1 L1136.8,569.3 L1137.3,569.1 L1137.7,569.3 L1138.1,569.6 L1138.6,569.3 L1139.0,569.2 L1139.5,569.0 L1139.9,568.9 L1140.4,569.0 L1140.8,568.7 L1141.2,568.6 L1141.7,568.3 L1142.1,567.4 L1142.6,567.2 L1143.0,567.5 L1143.4,567.5 L1143.9,567.1 L1144.3,567.2 L1144.8,567.4 L1145.2,567.4 L1145.7,567.4 L1146.1,567.1 L1146.5,566.8 L1147.0,566.2 L1147.4,565.4 L1147.9,564.9 L1148.3,564.5 L1148.7,564.0 L1149.2,563.6 L1149.6,563.8 L1150.1,564.0 L1150.5,563.9 L1151.0,563.6 L1151.4,563.3 L1151.8,563.2 L1152.3,563.0 L1152.7,562.6 L1153.2,562.2 L1153.6,562.2 L1154.0,562.1 L1154.5,562.1 L1154.9,562.2 L1155.4,562.1 L1155.8,561.9 L1156.3,561.3 L1156.7,560.8 L1157.1,560.8 L1157.6,560.6 L1158.0,560.4 L1158.5,560.3 L1158.9,560.6 L1159.3,560.6 L1159.8,560.4 L1160.2,560.1 L1160.7,560.1 L1161.1,560.2 L1161.6,560.0 L1162.0,559.3 L1162.4,558.7 L1162.9,558.4 L1163.3,558.1 L1163.8,558.0 L1164.2,558.2 L1164.7,558.2 L1165.1,558.0 L1165.5,557.8 L1166.0,558.0 L1166.4,557.9 L1166.9,557.1 L1167.3,556.6 L1167.7,556.5 L1168.2,556.2 L1168.6,555.8 L1169.1,555.8 L1169.5,555.6 L1170.0,555.2 L1170.4,554.8 L1170.8,554.3 L1171.3,554.3 L1171.7,554.2 L1172.2,553.9 L1172.6,553.7 L1173.0,553.8 L1173.5,553.8 L1173.9,554.2 L1174.4,554.0 L1174.8,553.3 L1175.3,552.8 L1175.7,552.3 L1176.1,551.9 L1176.6,551.8 L1177.0,551.1 L1177.5,550.1 L1177.9,550.1 L1178.3,551.1 L1178.8,551.9 L1179.2,551.6 L1179.7,551.2 L1180.1,551.1 L1180.6,550.7 L1181.0,550.5 L1181.4,550.4 L1181.9,549.9 L1182.3,549.3 L1182.8,548.7 L1183.2,548.5 L1183.6,548.4 L1184.1,548.2 L1184.5,547.8 L1185.0,546.7 L1185.4,546.1 L1185.9,546.6 L1186.3,547.0 L1186.7,546.9 L1187.2,546.3 L1187.6,545.7 L1188.1,545.5 L1188.5,545.7 L1189.0,545.4 L1189.4,545.2 L1189.8,545.0 L1190.3,544.6 L1190.7,544.3 L1191.2,543.8 L1191.6,543.3 L1192.0,542.7 L1192.5,542.5 L1192.9,542.4 L1193.4,542.2 L1193.8,541.9 L1194.3,541.4 L1194.7,540.9 L1195.1,540.9 L1195.6,541.0 L1196.0,541.0 L1196.5,540.7 L1196.9,540.4 L1197.3,540.1 L1197.8,539.5 L1198.2,539.3 L1198.7,539.5 L1199.1,539.6 L1199.6,539.2 L1200.0,539.3 L1200.4,539.3 L1200.9,538.5 L1201.3,537.8 L1201.8,537.4 L1202.2,536.5 L1202.6,535.5 L1203.1,535.2 L1203.5,535.2 L1204.0,535.0 L1204.4,534.9 L1204.9,535.3 L1205.3,535.5 L1205.7,535.3 L1206.2,535.3 L1206.6,535.1 L1207.1,534.7 L1207.5,534.3 L1207.9,534.3 L1208.4,534.2 L1208.8,533.5 L1209.3,533.0 L1209.7,532.5 L1210.2,532.0 L1210.6,531.8 L1211.0,531.4 L1211.5,531.1 L1211.9,530.8 L1212.4,530.5 L1212.8,530.3 L1213.3,530.2 L1213.7,530.4 L1214.1,530.1 L1214.6,529.4 L1215.0,529.0 L1215.5,528.8 L1215.9,528.4 L1216.3,528.3 L1216.8,528.6 L1217.2,528.6 L1217.7,528.6 L1218.1,528.6 L1218.6,528.5 L1219.0,528.2 L1219.4,528.0 L1219.9,527.2 L1220.3,526.3 L1220.8,525.4 L1221.2,524.9 L1221.6,524.7 L1222.1,524.9 L1222.5,525.1 L1223.0,525.4 L1223.4,525.8 L1223.9,525.6 L1224.3,524.9 L1224.7,524.2 L1225.2,524.1 L1225.6,524.0 L1226.1,523.9 L1226.5,523.8 L1226.9,523.6 L1227.4,523.4 L1227.8,522.5 L1228.3,521.7 L1228.7,520.9 L1229.2,520.3 L1229.6,520.3 L1230.0,519.9 L1230.5,519.1 L1230.9,518.8 L1231.4,518.8 L1231.8,519.1 L1232.2,519.4 L1232.7,519.1 L1233.1,518.8 L1233.6,518.8 L1234.0,519.0 L1234.5,519.1 L1234.9,518.6 L1235.3,518.0 L1235.8,517.5 L1236.2,517.5 L1236.7,517.2 L1237.1,516.6 L1237.6,516.4 L1238.0,516.0 L1238.4,516.1 L1238.9,516.5 L1239.3,516.3 L1239.8,516.0 L1240.2,515.3 L1240.6,514.7 L1241.1,514.7 L1241.5,515.0 L1242.0,514.7 L1242.4,514.3 L1242.9,514.3 L1243.3,514.7 L1243.7,514.7 L1244.2,514.3 L1244.6,514.0 L1245.1,514.1 L1245.5,513.8 L1245.9,513.8 L1246.4,514.3 L1246.8,513.6 L1247.3,512.9 L1247.7,512.6 L1248.2,512.6 L1248.6,512.3 L1249.0,512.1 L1249.5,512.1 L1249.9,511.8 L1250.4,511.8 L1250.8,511.7 L1251.2,511.6 L1251.7,511.9 L1252.1,511.9 L1252.6,511.8 L1253.0,511.6 L1253.5,511.1 L1253.9,510.8 L1254.3,510.8 L1254.8,510.9 L1255.2,510.9 L1255.7,510.7 L1256.1,510.4 L1256.5,510.2 L1257.0,510.0 L1257.4,510.0 L1257.9,509.8 L1258.3,509.7 L1258.8,509.7 L1259.2,509.2 L1259.6,508.9 L1260.1,509.1 L1260.5,509.3 L1261.0,509.7 L1261.4,510.0 L1261.9,510.3 L1262.3,510.3 L1262.7,510.3 L1263.2,509.7 L1263.6,509.2 L1264.1,508.8 L1264.5,508.6 L1264.9,508.6 L1265.4,508.7 L1265.8,509.2 L1266.3,509.5 L1266.7,509.1 L1267.2,508.5 L1267.6,508.5 L1268.0,508.2 L1268.5,507.8 L1268.9,507.9 L1269.4,508.1 L1269.8,508.5 L1270.2,508.6 L1270.7,508.1 L1271.1,507.6 L1271.6,507.8 L1272.0,508.0 L1272.5,508.0 L1272.9,508.3 L1273.3,508.5 L1273.8,508.1 L1274.2,507.7 L1274.7,507.3 L1275.1,507.4 L1275.5,507.9 L1276.0,507.8 L1276.4,507.1 L1276.9,507.1 L1277.3,507.2 L1277.8,506.9 L1278.2,506.5 L1278.6,506.0 L1279.1,505.8 L1279.5,505.6 L1280.0,505.3 L1280.4,505.0 L1280.9,505.2 L1281.3,506.1 L1281.7,506.7 L1282.2,507.1 L1282.6,507.2 L1283.1,506.8 L1283.5,506.3 L1283.9,506.2 L1284.4,506.0 L1284.8,505.5 L1285.3,505.2 L1285.7,504.9 L1286.2,504.4 L1286.6,504.0 L1287.0,503.5 L1287.5,503.2 L1287.9,503.0 L1288.4,503.0 L1288.8,503.3 L1289.2,503.7 L1289.7,503.8 L1290.1,504.0 L1290.6,504.2 L1291.0,504.4 L1291.5,504.4 L1291.9,503.6 L1292.3,503.1 L1292.8,502.5 L1293.2,501.8 L1293.7,501.1 L1294.1,500.4 L1294.5,500.7 L1295.0,500.6 L1295.4,500.2 L1295.9,500.3 L1296.3,500.5 L1296.8,500.8 L1297.2,501.0 L1297.6,501.0 L1298.1,500.6 L1298.5,499.7 L1299.0,499.6 L1299.4,500.0 L1299.8,500.2 L1300.3,500.5 L1300.7,500.7 L1301.2,500.4 L1301.6,500.4 L1302.1,500.4 L1302.5,500.2 L1302.9,499.5 L1303.4,498.5 L1303.8,497.9 L1304.3,497.4 L1304.7,497.1 L1305.2,497.0 L1305.6,496.9 L1306.0,496.7 L1306.5,496.6 L1306.9,497.0 L1307.4,497.0 L1307.8,496.7 L1308.2,496.7 L1308.7,496.8 L1309.1,496.6 L1309.6,496.2 L1310.0,496.0 L1310.5,495.9 L1310.9,495.6 L1311.3,495.1 L1311.8,494.3 L1312.2,494.2 L1312.7,494.8 L1313.1,495.0 L1313.5,494.4 L1314.0,493.8 L1314.4,493.3 L1314.9,492.9 L1315.3,493.1 L1315.8,492.9 L1316.2,492.5 L1316.6,492.0 L1317.1,491.8 L1317.5,491.9 L1318.0,491.7 L1318.4,491.4 L1318.8,491.0 L1319.3,491.0 L1319.7,490.9 L1320.2,490.5 L1320.6,489.9 L1321.1,489.9 L1321.5,490.0 L1321.9,490.3 L1322.4,490.0 L1322.8,490.0 L1323.3,490.5 L1323.7,490.4 L1324.1,489.9 L1324.6,489.6 L1325.0,489.4 L1325.5,489.0 L1325.9,488.6 L1326.4,488.3 L1326.8,487.9" fill="none" stroke="#9109e2" stroke-width="6.1" stroke-linejoin="round" stroke-linecap="square"/><path d="M929.6,685.5 L930.0,685.1 L930.5,684.7 L930.9,684.3 L931.4,683.9 L931.8,683.5 L932.3,683.2 L932.7,682.8 L933.1,682.5 L933.6,682.2 L934.0,681.8 L934.5,681.4 L934.9,680.9 L935.3,680.4 L935.8,680.1 L936.2,679.6 L936.7,679.2 L937.1,678.9 L937.6,678.4 L938.0,678.1 L938.4,677.9 L938.9,677.6 L939.3,677.3 L939.8,676.8 L940.2,676.2 L940.6,675.8 L941.1,675.6 L941.5,675.3 L942.0,674.9 L942.4,674.7 L942.9,674.7 L943.3,674.3 L943.7,674.2 L944.2,673.9 L944.6,673.3 L945.1,672.7 L945.5,671.8 L945.9,671.4 L946.4,671.3 L946.8,671.1 L947.3,670.7 L947.7,670.0 L948.2,669.6 L948.6,669.5 L949.0,669.5 L949.5,669.4 L949.9,669.3 L950.4,669.0 L950.8,668.1 L951.2,667.4 L951.7,667.2 L952.1,666.8 L952.6,666.6 L953.0,666.5 L953.5,666.3 L953.9,665.8 L954.3,665.7 L954.8,665.4 L955.2,664.9 L955.7,664.7 L956.1,664.2 L956.6,663.5 L957.0,662.8 L957.4,662.2 L957.9,661.9 L958.3,661.6 L958.8,661.6 L959.2,661.3 L959.6,661.0 L960.1,661.2 L960.5,660.7 L961.0,659.9 L961.4,659.8 L961.9,659.3 L962.3,658.6 L962.7,658.0 L963.2,657.6 L963.6,657.6 L964.1,657.7 L964.5,658.2 L964.9,658.5 L965.4,658.3 L965.8,657.7 L966.3,656.5 L966.7,655.7 L967.2,655.2 L967.6,654.7 L968.0,654.4 L968.5,654.4 L968.9,654.7 L969.4,654.9 L969.8,655.1 L970.2,655.1 L970.7,655.0 L971.1,654.6 L971.6,654.0 L972.0,653.7 L972.5,653.1 L972.9,652.5 L973.3,652.2 L973.8,652.0 L974.2,651.9 L974.7,651.6 L975.1,651.1 L975.5,650.7 L976.0,650.4 L976.4,650.2 L976.9,650.1 L977.3,650.3 L977.8,650.2 L978.2,649.7 L978.6,649.4 L979.1,649.1 L979.5,648.8 L980.0,648.7 L980.4,648.4 L980.9,647.9 L981.3,648.0 L981.7,648.0 L982.2,648.3 L982.6,648.2 L983.1,647.8 L983.5,647.8 L983.9,647.2 L984.4,646.1 L984.8,645.6 L985.3,645.4 L985.7,644.9 L986.2,644.1 L986.6,643.6 L987.0,643.5 L987.5,643.0 L987.9,642.5 L988.4,642.2 L988.8,641.7 L989.2,641.7 L989.7,641.9 L990.1,642.6 L990.6,643.0 L991.0,642.4 L991.5,642.1 L991.9,641.8 L992.3,640.9 L992.8,640.4 L993.2,640.1 L993.7,639.7 L994.1,639.5 L994.5,639.5 L995.0,639.3 L995.4,638.9 L995.9,638.3 L996.3,638.0 L996.8,637.7 L997.2,637.3 L997.6,637.2 L998.1,636.9 L998.5,636.5 L999.0,636.3 L999.4,635.9 L999.9,635.7 L1000.3,635.7 L1000.7,635.6 L1001.2,635.0 L1001.6,634.5 L1002.1,633.8 L1002.5,633.0 L1002.9,633.4 L1003.4,634.0 L1003.8,633.5 L1004.3,632.8 L1004.7,632.7 L1005.2,632.8 L1005.6,632.5 L1006.0,631.8 L1006.5,631.2 L1006.9,630.7 L1007.4,630.0 L1007.8,629.2 L1008.2,629.1 L1008.7,629.0 L1009.1,628.6 L1009.6,628.4 L1010.0,628.0 L1010.5,627.6 L1010.9,628.0 L1011.3,628.1 L1011.8,627.1 L1012.2,626.6 L1012.7,626.4 L1013.1,626.1 L1013.5,626.0 L1014.0,626.0 L1014.4,625.6 L1014.9,625.5 L1015.3,625.5 L1015.8,625.6 L1016.2,625.2 L1016.6,624.3 L1017.1,623.5 L1017.5,623.0 L1018.0,622.9 L1018.4,622.5 L1018.8,621.6 L1019.3,621.2 L1019.7,621.0 L1020.2,620.9 L1020.6,621.2 L1021.1,620.9 L1021.5,620.9 L1021.9,621.2 L1022.4,621.3 L1022.8,620.7 L1023.3,620.4 L1023.7,620.0 L1024.2,619.6 L1024.6,619.2 L1025.0,618.5 L1025.5,618.2 L1025.9,617.8 L1026.4,617.3 L1026.8,616.6 L1027.2,615.5 L1027.7,614.7 L1028.1,614.4 L1028.6,614.5 L1029.0,614.7 L1029.5,614.7 L1029.9,614.4 L1030.3,614.2 L1030.8,614.0 L1031.2,613.6 L1031.7,613.4 L1032.1,613.6 L1032.5,613.2 L1033.0,612.3 L1033.4,611.9 L1033.9,611.4 L1034.3,610.9 L1034.8,610.8 L1035.2,611.0 L1035.6,610.9 L1036.1,610.4 L1036.5,609.9 L1037.0,609.3 L1037.4,608.9 L1037.8,608.6 L1038.3,608.1 L1038.7,607.6 L1039.2,607.5 L1039.6,607.3 L1040.1,607.0 L1040.5,606.5 L1040.9,605.6 L1041.4,605.1 L1041.8,604.7 L1042.3,604.3 L1042.7,604.2 L1043.1,603.8 L1043.6,603.2 L1044.0,602.5 L1044.5,602.3 L1044.9,602.1 L1045.4,601.7 L1045.8,601.4 L1046.2,601.3 L1046.7,601.4 L1047.1,600.6 L1047.6,599.7 L1048.0,599.2 L1048.5,598.9 L1048.9,599.1 L1049.3,599.1 L1049.8,598.9 L1050.2,598.4 L1050.7,598.2 L1051.1,598.0 L1051.5,597.3 L1052.0,596.9 L1052.4,596.5 L1052.9,596.2 L1053.3,596.0 L1053.8,595.5 L1054.2,594.7 L1054.6,594.1 L1055.1,594.0 L1055.5,593.6 L1056.0,593.4 L1056.4,593.5 L1056.8,593.5 L1057.3,593.6 L1057.7,593.4 L1058.2,592.8 L1058.6,591.8 L1059.1,590.6 L1059.5,589.6 L1059.9,589.1 L1060.4,588.9 L1060.8,588.7 L1061.3,589.0 L1061.7,588.8 L1062.1,588.4 L1062.6,588.5 L1063.0,588.6 L1063.5,588.2 L1063.9,587.3 L1064.4,586.7 L1064.8,586.2 L1065.2,585.7 L1065.7,585.5 L1066.1,585.2 L1066.6,584.7 L1067.0,584.6 L1067.4,584.3 L1067.9,584.0 L1068.3,583.9 L1068.8,583.6 L1069.2,583.6 L1069.7,583.5 L1070.1,583.1 L1070.5,582.8 L1071.0,582.7 L1071.4,582.0 L1071.9,581.3 L1072.3,581.1 L1072.8,580.6 L1073.2,580.2 L1073.6,579.8 L1074.1,579.5 L1074.5,579.1 L1075.0,578.6 L1075.4,578.5 L1075.8,578.1 L1076.3,577.4 L1076.7,577.2 L1077.2,577.1 L1077.6,577.2 L1078.1,577.0 L1078.5,576.7 L1078.9,576.2 L1079.4,576.0 L1079.8,576.2 L1080.3,575.8 L1080.7,575.2 L1081.1,574.8 L1081.6,574.1 L1082.0,573.5 L1082.5,573.1 L1082.9,572.8 L1083.4,572.2 L1083.8,571.3 L1084.2,571.0 L1084.7,570.8 L1085.1,570.7 L1085.6,570.5 L1086.0,569.8 L1086.4,569.4 L1086.9,569.2 L1087.3,569.4 L1087.8,569.3 L1088.2,568.8 L1088.7,568.5 L1089.1,568.0 L1089.5,567.5 L1090.0,567.4 L1090.4,567.2 L1090.9,567.2 L1091.3,566.4 L1091.7,565.4 L1092.2,565.0 L1092.6,564.4 L1093.1,564.3 L1093.5,564.5 L1094.0,563.9 L1094.4,563.6 L1094.8,563.1 L1095.3,562.9 L1095.7,562.8 L1096.2,562.0 L1096.6,561.7 L1097.1,561.9 L1097.5,561.6 L1097.9,560.9 L1098.4,560.4 L1098.8,559.8 L1099.3,559.1 L1099.7,558.7 L1100.1,558.5 L1100.6,558.2 L1101.0,558.4 L1101.5,558.9 L1101.9,558.7 L1102.4,558.0 L1102.8,557.0 L1103.2,556.3 L1103.7,556.2 L1104.1,555.7 L1104.6,555.2 L1105.0,554.6 L1105.4,554.0 L1105.9,553.7 L1106.3,554.0 L1106.8,554.5 L1107.2,553.9 L1107.7,553.0 L1108.1,552.1 L1108.5,551.6 L1109.0,551.5 L1109.4,551.4 L1109.9,551.2 L1110.3,550.7 L1110.7,550.3 L1111.2,549.5 L1111.6,549.0 L1112.1,548.8 L1112.5,548.6 L1113.0,548.4 L1113.4,547.9 L1113.8,547.6 L1114.3,547.3 L1114.7,546.5 L1115.2,545.8 L1115.6,545.6 L1116.0,545.7 L1116.5,545.6 L1116.9,545.4 L1117.4,545.5 L1117.8,545.3 L1118.3,544.9 L1118.7,544.6 L1119.1,544.3 L1119.6,543.4 L1120.0,543.0 L1120.5,542.7 L1120.9,541.5 L1121.4,540.8 L1121.8,540.4 L1122.2,540.3 L1122.7,540.1 L1123.1,539.7 L1123.6,539.3 L1124.0,539.1 L1124.4,539.0 L1124.9,538.9 L1125.3,538.6 L1125.8,538.4 L1126.2,538.0 L1126.7,537.6 L1127.1,537.3 L1127.5,536.6 L1128.0,536.4 L1128.4,536.2 L1128.9,535.7 L1129.3,535.5 L1129.7,535.5 L1130.2,535.5 L1130.6,535.3 L1131.1,534.9 L1131.5,534.7 L1132.0,534.3 L1132.4,533.8 L1132.8,533.3 L1133.3,532.5 L1133.7,532.1 L1134.2,531.8 L1134.6,530.7 L1135.0,530.0 L1135.5,529.7 L1135.9,529.4 L1136.4,529.2 L1136.8,529.1 L1137.3,529.1 L1137.7,528.9 L1138.1,528.4 L1138.6,527.9 L1139.0,527.4 L1139.5,526.6 L1139.9,526.0 L1140.4,525.8 L1140.8,525.3 L1141.2,524.4 L1141.7,524.4 L1142.1,525.0 L1142.6,525.2 L1143.0,525.0 L1143.4,524.3 L1143.9,523.8 L1144.3,523.6 L1144.8,523.1 L1145.2,523.0 L1145.7,522.9 L1146.1,522.5 L1146.5,522.3 L1147.0,522.0 L1147.4,522.0 L1147.9,522.3 L1148.3,522.3 L1148.7,522.0 L1149.2,521.8 L1149.6,521.4 L1150.1,521.0 L1150.5,521.2 L1151.0,521.4 L1151.4,521.3 L1151.8,521.2 L1152.3,520.8 L1152.7,520.2 L1153.2,519.7 L1153.6,519.2 L1154.0,519.0 L1154.5,518.8 L1154.9,518.6 L1155.4,518.6 L1155.8,518.8 L1156.3,519.0 L1156.7,519.1 L1157.1,519.1 L1157.6,518.5 L1158.0,517.5 L1158.5,516.6 L1158.9,516.3 L1159.3,516.1 L1159.8,515.7 L1160.2,515.7 L1160.7,515.7 L1161.1,515.6 L1161.6,515.7 L1162.0,515.4 L1162.4,515.1 L1162.9,515.1 L1163.3,514.8 L1163.8,514.5 L1164.2,514.7 L1164.7,514.8 L1165.1,514.6 L1165.5,514.0 L1166.0,513.5 L1166.4,513.2 L1166.9,513.2 L1167.3,512.8 L1167.7,512.5 L1168.2,512.6 L1168.6,512.6 L1169.1,512.7 L1169.5,512.5 L1170.0,511.9 L1170.4,511.9 L1170.8,512.0 L1171.3,511.5 L1171.7,511.3 L1172.2,510.7 L1172.6,510.3 L1173.0,510.2 L1173.5,509.7 L1173.9,509.3 L1174.4,509.2 L1174.8,509.1 L1175.3,508.7 L1175.7,508.8 L1176.1,508.5 L1176.6,507.9 L1177.0,508.1 L1177.5,508.6 L1177.9,508.1 L1178.3,507.0 L1178.8,506.3 L1179.2,506.4 L1179.7,506.6 L1180.1,506.2 L1180.6,505.6 L1181.0,505.4 L1181.4,505.4 L1181.9,505.1 L1182.3,504.8 L1182.8,504.6 L1183.2,504.1 L1183.6,503.3 L1184.1,502.5 L1184.5,502.2 L1185.0,502.4 L1185.4,502.3 L1185.9,501.6 L1186.3,501.2 L1186.7,501.6 L1187.2,502.0 L1187.6,501.9 L1188.1,501.0 L1188.5,500.1 L1189.0,499.4 L1189.4,498.6 L1189.8,497.8 L1190.3,497.4 L1190.7,497.5 L1191.2,497.7 L1191.6,497.7 L1192.0,497.7 L1192.5,497.5 L1192.9,497.5 L1193.4,497.5 L1193.8,497.3 L1194.3,496.7 L1194.7,496.0 L1195.1,495.2 L1195.6,493.8 L1196.0,493.4 L1196.5,493.2 L1196.9,492.5 L1197.3,492.4 L1197.8,492.4 L1198.2,491.9 L1198.7,491.6 L1199.1,491.3 L1199.6,491.2 L1200.0,490.8 L1200.4,490.3 L1200.9,490.1 L1201.3,489.9 L1201.8,489.8 L1202.2,489.5 L1202.6,489.7 L1203.1,489.6 L1203.5,488.8 L1204.0,488.3 L1204.4,487.6 L1204.9,487.3 L1205.3,486.6 L1205.7,485.9 L1206.2,485.6 L1206.6,485.0 L1207.1,484.2 L1207.5,483.5 L1207.9,483.4 L1208.4,483.2 L1208.8,483.3 L1209.3,483.5 L1209.7,483.1 L1210.2,482.3 L1210.6,481.5 L1211.0,481.1 L1211.5,480.8 L1211.9,480.6 L1212.4,480.3 L1212.8,479.7 L1213.3,479.3 L1213.7,479.1 L1214.1,479.0 L1214.6,478.9 L1215.0,478.3 L1215.5,478.0 L1215.9,478.0 L1216.3,477.6 L1216.8,477.0 L1217.2,476.1 L1217.7,475.5 L1218.1,475.4 L1218.6,475.6 L1219.0,475.5 L1219.4,474.7 L1219.9,473.9 L1220.3,473.2 L1220.8,472.7 L1221.2,472.6 L1221.6,472.0 L1222.1,471.5 L1222.5,471.3 L1223.0,470.6 L1223.4,470.2 L1223.9,469.4 L1224.3,468.8 L1224.7,468.7 L1225.2,468.9 L1225.6,469.2 L1226.1,469.1 L1226.5,468.8 L1226.9,468.5 L1227.4,468.1 L1227.8,467.8 L1228.3,468.0 L1228.7,468.0 L1229.2,467.4 L1229.6,467.2 L1230.0,467.3 L1230.5,466.7 L1230.9,465.7 L1231.4,464.9 L1231.8,464.1 L1232.2,463.6 L1232.7,463.5 L1233.1,463.2 L1233.6,462.9 L1234.0,462.8 L1234.5,462.7 L1234.9,462.5 L1235.3,462.0 L1235.8,461.7 L1236.2,460.9 L1236.7,460.1 L1237.1,460.0 L1237.6,459.5 L1238.0,459.1 L1238.4,459.1 L1238.9,458.8 L1239.3,459.2 L1239.8,459.8 L1240.2,459.8 L1240.6,459.8 L1241.1,459.4 L1241.5,458.8 L1242.0,458.0 L1242.4,457.0 L1242.9,456.0 L1243.3,455.5 L1243.7,455.0 L1244.2,454.7 L1244.6,454.7 L1245.1,454.1 L1245.5,453.3 L1245.9,453.2 L1246.4,453.4 L1246.8,453.0 L1247.3,452.3 L1247.7,451.5 L1248.2,451.3 L1248.6,451.7 L1249.0,451.7 L1249.5,451.6 L1249.9,451.5 L1250.4,451.1 L1250.8,450.7 L1251.2,450.3 L1251.7,449.8 L1252.1,449.1 L1252.6,448.5 L1253.0,448.4 L1253.5,448.0 L1253.9,447.3 L1254.3,446.9 L1254.8,446.5 L1255.2,446.6 L1255.7,446.6 L1256.1,446.3 L1256.5,446.5 L1257.0,446.2 L1257.4,445.6 L1257.9,445.2 L1258.3,444.6 L1258.8,443.7 L1259.2,443.4 L1259.6,443.7 L1260.1,443.4 L1260.5,443.1 L1261.0,443.8 L1261.4,444.3 L1261.9,444.0 L1262.3,443.4 L1262.7,442.9 L1263.2,442.8 L1263.6,442.5 L1264.1,442.2 L1264.5,442.0 L1264.9,441.8 L1265.4,441.3 L1265.8,441.2 L1266.3,441.0 L1266.7,440.4 L1267.2,439.8 L1267.6,440.0 L1268.0,440.4 L1268.5,440.3 L1268.9,440.3 L1269.4,440.2 L1269.8,440.3 L1270.2,440.2 L1270.7,439.7 L1271.1,439.5 L1271.6,439.2 L1272.0,438.6 L1272.5,438.3 L1272.9,438.4 L1273.3,438.5 L1273.8,437.9 L1274.2,437.1 L1274.7,437.1 L1275.1,436.9 L1275.5,436.0 L1276.0,435.2 L1276.4,434.9 L1276.9,435.1 L1277.3,435.4 L1277.8,435.6 L1278.2,435.4 L1278.6,435.0 L1279.1,434.7 L1279.5,435.0 L1280.0,435.2 L1280.4,435.3 L1280.9,434.9 L1281.3,434.5 L1281.7,434.4 L1282.2,433.7 L1282.6,433.4 L1283.1,433.1 L1283.5,432.5 L1283.9,432.4 L1284.4,432.5 L1284.8,432.4 L1285.3,431.8 L1285.7,431.8 L1286.2,431.8 L1286.6,431.5 L1287.0,431.5 L1287.5,431.4 L1287.9,431.1 L1288.4,430.8 L1288.8,430.4 L1289.2,430.2 L1289.7,429.7 L1290.1,428.8 L1290.6,428.6 L1291.0,429.0 L1291.5,429.3 L1291.9,429.2 L1292.3,429.0 L1292.8,428.5 L1293.2,427.7 L1293.7,427.1 L1294.1,426.8 L1294.5,426.5 L1295.0,426.5 L1295.4,425.9 L1295.9,425.4 L1296.3,425.2 L1296.8,425.1 L1297.2,424.9 L1297.6,424.4 L1298.1,424.0 L1298.5,424.1 L1299.0,424.1 L1299.4,424.0 L1299.8,424.1 L1300.3,423.9 L1300.7,423.6 L1301.2,423.9 L1301.6,423.8 L1302.1,423.0 L1302.5,422.1 L1302.9,420.8 L1303.4,420.2 L1303.8,420.4 L1304.3,420.3 L1304.7,419.8 L1305.2,419.6 L1305.6,419.6 L1306.0,419.2 L1306.5,419.0 L1306.9,418.9 L1307.4,418.4 L1307.8,417.9 L1308.2,417.5 L1308.7,417.0 L1309.1,417.2 L1309.6,417.3 L1310.0,417.2 L1310.5,417.0 L1310.9,416.7 L1311.3,416.2 L1311.8,415.7 L1312.2,415.2 L1312.7,414.8 L1313.1,414.5 L1313.5,414.2 L1314.0,414.0 L1314.4,413.4 L1314.9,413.2 L1315.3,413.2 L1315.8,413.1 L1316.2,413.2 L1316.6,412.8 L1317.1,412.3 L1317.5,411.6 L1318.0,411.1 L1318.4,411.1 L1318.8,411.0 L1319.3,410.7 L1319.7,410.4 L1320.2,410.2 L1320.6,409.9 L1321.1,409.3 L1321.5,408.6 L1321.9,408.2 L1322.4,407.9 L1322.8,407.7 L1323.3,407.9 L1323.7,408.2 L1324.1,408.2 L1324.6,408.4 L1325.0,408.5 L1325.5,408.2 L1325.9,408.3 L1326.4,408.5 L1326.8,408.3" fill="none" stroke="#b31f0a" stroke-width="6.1" stroke-linejoin="round" stroke-linecap="square"/><path d="M929.6,685.5 L930.0,685.1 L930.5,684.6 L930.9,684.2 L931.4,683.7 L931.8,683.3 L932.3,682.9 L932.7,682.5 L933.1,682.0 L933.6,681.5 L934.0,680.9 L934.5,680.5 L934.9,680.2 L935.3,679.7 L935.8,679.1 L936.2,678.7 L936.7,678.4 L937.1,678.1 L937.6,677.8 L938.0,677.4 L938.4,677.1 L938.9,676.6 L939.3,676.0 L939.8,675.6 L940.2,675.2 L940.6,674.5 L941.1,674.0 L941.5,673.8 L942.0,673.4 L942.4,673.0 L942.9,672.7 L943.3,672.3 L943.7,671.8 L944.2,671.3 L944.6,671.0 L945.1,670.7 L945.5,670.4 L945.9,670.3 L946.4,669.9 L946.8,669.5 L947.3,668.9 L947.7,668.0 L948.2,667.7 L948.6,667.5 L949.0,667.1 L949.5,666.8 L949.9,666.2 L950.4,666.1 L950.8,666.1 L951.2,665.7 L951.7,665.2 L952.1,664.8 L952.6,664.5 L953.0,664.2 L953.5,664.2 L953.9,664.1 L954.3,663.7 L954.8,662.9 L955.2,662.0 L955.7,661.0 L956.1,660.4 L956.6,659.8 L957.0,659.5 L957.4,659.4 L957.9,658.9 L958.3,658.4 L958.8,658.3 L959.2,658.0 L959.6,657.5 L960.1,657.1 L960.5,656.9 L961.0,656.5 L961.4,656.0 L961.9,655.7 L962.3,655.2 L962.7,654.8 L963.2,654.9 L963.6,654.9 L964.1,654.5 L964.5,653.8 L964.9,653.6 L965.4,653.5 L965.8,653.1 L966.3,652.8 L966.7,652.7 L967.2,652.3 L967.6,651.9 L968.0,651.6 L968.5,651.2 L968.9,650.7 L969.4,650.3 L969.8,649.5 L970.2,648.7 L970.7,648.6 L971.1,648.8 L971.6,648.7 L972.0,648.4 L972.5,648.0 L972.9,647.6 L973.3,647.4 L973.8,647.3 L974.2,647.1 L974.7,646.8 L975.1,646.5 L975.5,646.1 L976.0,645.3 L976.4,644.4 L976.9,644.3 L977.3,643.9 L977.8,643.1 L978.2,642.9 L978.6,642.6 L979.1,642.1 L979.5,642.0 L980.0,642.0 L980.4,642.1 L980.9,641.9 L981.3,641.3 L981.7,640.8 L982.2,640.4 L982.6,639.5 L983.1,638.9 L983.5,638.8 L983.9,638.4 L984.4,638.4 L984.8,638.5 L985.3,638.5 L985.7,638.2 L986.2,637.9 L986.6,637.8 L987.0,637.4 L987.5,636.9 L987.9,636.3 L988.4,635.8 L988.8,635.3 L989.2,634.6 L989.7,633.8 L990.1,633.5 L990.6,633.1 L991.0,633.0 L991.5,633.2 L991.9,632.9 L992.3,632.4 L992.8,631.7 L993.2,631.2 L993.7,631.2 L994.1,630.9 L994.5,629.9 L995.0,629.6 L995.4,629.2 L995.9,628.5 L996.3,628.6 L996.8,628.8 L997.2,628.6 L997.6,628.0 L998.1,627.4 L998.5,627.3 L999.0,627.0 L999.4,626.7 L999.9,626.5 L1000.3,626.1 L1000.7,625.3 L1001.2,624.5 L1001.6,624.1 L1002.1,624.2 L1002.5,624.0 L1002.9,623.6 L1003.4,623.4 L1003.8,623.4 L1004.3,622.9 L1004.7,621.8 L1005.2,621.3 L1005.6,620.8 L1006.0,619.9 L1006.5,619.7 L1006.9,619.9 L1007.4,619.7 L1007.8,619.3 L1008.2,618.8 L1008.7,618.5 L1009.1,618.2 L1009.6,617.4 L1010.0,616.1 L1010.5,615.3 L1010.9,615.3 L1011.3,614.5 L1011.8,613.8 L1012.2,613.8 L1012.7,613.6 L1013.1,613.2 L1013.5,612.5 L1014.0,611.8 L1014.4,611.6 L1014.9,611.2 L1015.3,610.6 L1015.8,609.7 L1016.2,608.8 L1016.6,608.6 L1017.1,608.7 L1017.5,608.2 L1018.0,607.6 L1018.4,607.8 L1018.8,608.0 L1019.3,607.7 L1019.7,607.1 L1020.2,606.8 L1020.6,606.5 L1021.1,605.8 L1021.5,605.4 L1021.9,605.3 L1022.4,604.6 L1022.8,603.5 L1023.3,602.6 L1023.7,602.2 L1024.2,601.6 L1024.6,601.2 L1025.0,601.1 L1025.5,601.2 L1025.9,601.1 L1026.4,601.0 L1026.8,600.1 L1027.2,599.3 L1027.7,598.7 L1028.1,597.8 L1028.6,597.2 L1029.0,596.6 L1029.5,596.4 L1029.9,596.5 L1030.3,595.9 L1030.8,595.8 L1031.2,596.3 L1031.7,595.9 L1032.1,595.3 L1032.5,595.1 L1033.0,595.0 L1033.4,594.8 L1033.9,594.2 L1034.3,593.5 L1034.8,593.0 L1035.2,592.7 L1035.6,592.4 L1036.1,591.7 L1036.5,590.8 L1037.0,590.1 L1037.4,589.5 L1037.8,589.4 L1038.3,589.4 L1038.7,588.9 L1039.2,588.3 L1039.6,588.1 L1040.1,588.2 L1040.5,588.2 L1040.9,587.9 L1041.4,587.6 L1041.8,587.4 L1042.3,587.0 L1042.7,586.5 L1043.1,585.9 L1043.6,585.1 L1044.0,584.2 L1044.5,583.4 L1044.9,582.9 L1045.4,582.7 L1045.8,582.3 L1046.2,581.9 L1046.7,581.6 L1047.1,581.0 L1047.6,580.6 L1048.0,580.9 L1048.5,580.8 L1048.9,580.2 L1049.3,579.6 L1049.8,579.4 L1050.2,578.9 L1050.7,578.0 L1051.1,577.5 L1051.5,577.2 L1052.0,576.8 L1052.4,576.4 L1052.9,576.1 L1053.3,576.0 L1053.8,575.6 L1054.2,574.9 L1054.6,574.4 L1055.1,573.9 L1055.5,573.9 L1056.0,573.8 L1056.4,573.3 L1056.8,573.0 L1057.3,572.5 L1057.7,572.2 L1058.2,571.7 L1058.6,571.2 L1059.1,571.0 L1059.5,570.9 L1059.9,570.6 L1060.4,569.9 L1060.8,569.4 L1061.3,569.4 L1061.7,569.0 L1062.1,568.6 L1062.6,568.2 L1063.0,567.6 L1063.5,567.3 L1063.9,567.2 L1064.4,566.8 L1064.8,566.0 L1065.2,565.4 L1065.7,564.7 L1066.1,563.5 L1066.6,562.6 L1067.0,562.4 L1067.4,562.4 L1067.9,562.4 L1068.3,562.4 L1068.8,562.3 L1069.2,562.3 L1069.7,562.1 L1070.1,562.1 L1070.5,562.5 L1071.0,561.9 L1071.4,560.6 L1071.9,559.7 L1072.3,559.0 L1072.8,557.9 L1073.2,556.9 L1073.6,556.3 L1074.1,556.1 L1074.5,556.0 L1075.0,555.7 L1075.4,555.7 L1075.8,555.7 L1076.3,555.6 L1076.7,555.3 L1077.2,554.8 L1077.6,554.6 L1078.1,554.5 L1078.5,553.6 L1078.9,552.7 L1079.4,552.0 L1079.8,551.0 L1080.3,549.9 L1080.7,549.0 L1081.1,548.6 L1081.6,548.5 L1082.0,548.1 L1082.5,548.0 L1082.9,548.0 L1083.4,547.8 L1083.8,547.9 L1084.2,547.6 L1084.7,547.0 L1085.1,546.5 L1085.6,546.2 L1086.0,545.9 L1086.4,545.5 L1086.9,545.0 L1087.3,544.5 L1087.8,544.0 L1088.2,543.3 L1088.7,542.5 L1089.1,541.6 L1089.5,541.1 L1090.0,540.7 L1090.4,540.2 L1090.9,539.6 L1091.3,539.1 L1091.7,539.1 L1092.2,539.7 L1092.6,539.7 L1093.1,539.0 L1093.5,538.0 L1094.0,537.0 L1094.4,536.2 L1094.8,535.6 L1095.3,535.3 L1095.7,534.9 L1096.2,534.2 L1096.6,533.7 L1097.1,533.1 L1097.5,532.6 L1097.9,532.0 L1098.4,531.5 L1098.8,531.2 L1099.3,531.1 L1099.7,531.0 L1100.1,530.3 L1100.6,529.6 L1101.0,529.0 L1101.5,528.2 L1101.9,527.4 L1102.4,526.6 L1102.8,526.3 L1103.2,526.0 L1103.7,525.1 L1104.1,524.6 L1104.6,524.4 L1105.0,524.3 L1105.4,524.0 L1105.9,523.9 L1106.3,523.4 L1106.8,522.8 L1107.2,522.8 L1107.7,522.5 L1108.1,521.5 L1108.5,520.9 L1109.0,520.3 L1109.4,520.0 L1109.9,519.8 L1110.3,519.4 L1110.7,518.8 L1111.2,518.1 L1111.6,517.7 L1112.1,517.5 L1112.5,517.4 L1113.0,516.9 L1113.4,516.1 L1113.8,515.5 L1114.3,515.3 L1114.7,514.9 L1115.2,514.1 L1115.6,513.5 L1116.0,513.3 L1116.5,513.3 L1116.9,513.1 L1117.4,512.9 L1117.8,512.8 L1118.3,512.5 L1118.7,511.8 L1119.1,511.2 L1119.6,511.0 L1120.0,510.9 L1120.5,510.2 L1120.9,509.9 L1121.4,509.9 L1121.8,509.4 L1122.2,509.1 L1122.7,508.8 L1123.1,508.4 L1123.6,508.0 L1124.0,507.3 L1124.4,506.9 L1124.9,506.1 L1125.3,505.2 L1125.8,504.4 L1126.2,504.1 L1126.7,504.2 L1127.1,503.9 L1127.5,503.2 L1128.0,502.7 L1128.4,502.2 L1128.9,501.9 L1129.3,501.8 L1129.7,501.6 L1130.2,501.4 L1130.6,501.1 L1131.1,501.0 L1131.5,500.7 L1132.0,500.0 L1132.4,499.5 L1132.8,499.5 L1133.3,499.1 L1133.7,498.6 L1134.2,498.0 L1134.6,497.2 L1135.0,496.8 L1135.5,496.4 L1135.9,495.7 L1136.4,494.9 L1136.8,494.4 L1137.3,493.9 L1137.7,493.9 L1138.1,494.2 L1138.6,493.8 L1139.0,492.9 L1139.5,492.3 L1139.9,491.7 L1140.4,491.3 L1140.8,491.0 L1141.2,490.8 L1141.7,490.6 L1142.1,490.2 L1142.6,490.0 L1143.0,489.6 L1143.4,489.2 L1143.9,488.8 L1144.3,488.2 L1144.8,487.7 L1145.2,487.0 L1145.7,486.7 L1146.1,487.0 L1146.5,486.9 L1147.0,486.2 L1147.4,485.2 L1147.9,484.2 L1148.3,483.4 L1148.7,483.0 L1149.2,482.6 L1149.6,481.9 L1150.1,481.5 L1150.5,481.5 L1151.0,481.3 L1151.4,480.9 L1151.8,481.0 L1152.3,481.2 L1152.7,480.7 L1153.2,480.1 L1153.6,479.6 L1154.0,478.8 L1154.5,478.4 L1154.9,477.9 L1155.4,477.4 L1155.8,477.1 L1156.3,476.7 L1156.7,475.7 L1157.1,475.2 L1157.6,475.3 L1158.0,475.5 L1158.5,474.8 L1158.9,473.8 L1159.3,473.3 L1159.8,472.8 L1160.2,472.6 L1160.7,472.7 L1161.1,472.6 L1161.6,472.0 L1162.0,471.9 L1162.4,472.1 L1162.9,472.0 L1163.3,471.7 L1163.8,471.2 L1164.2,470.5 L1164.7,469.4 L1165.1,468.3 L1165.5,467.3 L1166.0,466.9 L1166.4,466.8 L1166.9,466.2 L1167.3,465.5 L1167.7,465.0 L1168.2,465.1 L1168.6,465.6 L1169.1,465.5 L1169.5,464.9 L1170.0,464.5 L1170.4,464.2 L1170.8,464.3 L1171.3,464.2 L1171.7,463.5 L1172.2,462.5 L1172.6,461.7 L1173.0,461.3 L1173.5,461.2 L1173.9,460.7 L1174.4,459.6 L1174.8,458.9 L1175.3,458.5 L1175.7,458.0 L1176.1,457.6 L1176.6,457.9 L1177.0,458.1 L1177.5,457.5 L1177.9,457.2 L1178.3,457.2 L1178.8,457.6 L1179.2,457.6 L1179.7,456.6 L1180.1,456.0 L1180.6,455.5 L1181.0,455.2 L1181.4,454.9 L1181.9,454.4 L1182.3,454.0 L1182.8,453.6 L1183.2,453.0 L1183.6,452.2 L1184.1,451.7 L1184.5,451.5 L1185.0,451.1 L1185.4,451.0 L1185.9,451.4 L1186.3,451.3 L1186.7,451.0 L1187.2,451.0 L1187.6,450.6 L1188.1,450.4 L1188.5,450.2 L1189.0,449.8 L1189.4,449.2 L1189.8,448.4 L1190.3,448.0 L1190.7,447.7 L1191.2,447.2 L1191.6,446.9 L1192.0,446.7 L1192.5,446.3 L1192.9,446.1 L1193.4,446.0 L1193.8,445.4 L1194.3,444.9 L1194.7,444.1 L1195.1,443.5 L1195.6,443.3 L1196.0,443.0 L1196.5,443.0 L1196.9,443.0 L1197.3,443.1 L1197.8,443.0 L1198.2,442.9 L1198.7,442.7 L1199.1,441.9 L1199.6,441.5 L1200.0,441.4 L1200.4,440.8 L1200.9,440.4 L1201.3,439.4 L1201.8,438.3 L1202.2,437.8 L1202.6,437.5 L1203.1,437.8 L1203.5,437.9 L1204.0,437.7 L1204.4,437.7 L1204.9,437.4 L1205.3,437.0 L1205.7,436.1 L1206.2,435.2 L1206.6,434.5 L1207.1,434.0 L1207.5,433.7 L1207.9,433.2 L1208.4,433.2 L1208.8,432.9 L1209.3,432.4 L1209.7,432.6 L1210.2,432.4 L1210.6,431.3 L1211.0,430.8 L1211.5,430.9 L1211.9,430.1 L1212.4,429.1 L1212.8,429.3 L1213.3,429.6 L1213.7,429.0 L1214.1,428.1 L1214.6,427.5 L1215.0,426.8 L1215.5,426.1 L1215.9,425.7 L1216.3,425.9 L1216.8,425.9 L1217.2,425.7 L1217.7,425.7 L1218.1,425.0 L1218.6,424.3 L1219.0,423.8 L1219.4,423.4 L1219.9,422.8 L1220.3,422.0 L1220.8,421.7 L1221.2,421.6 L1221.6,420.8 L1222.1,419.8 L1222.5,419.4 L1223.0,419.3 L1223.4,419.5 L1223.9,419.7 L1224.3,419.0 L1224.7,418.2 L1225.2,418.0 L1225.6,417.8 L1226.1,417.5 L1226.5,417.1 L1226.9,416.6 L1227.4,416.4 L1227.8,415.9 L1228.3,414.9 L1228.7,414.2 L1229.2,413.9 L1229.6,413.2 L1230.0,412.7 L1230.5,412.5 L1230.9,412.2 L1231.4,411.6 L1231.8,411.0 L1232.2,410.7 L1232.7,410.3 L1233.1,409.9 L1233.6,410.0 L1234.0,410.2 L1234.5,409.9 L1234.9,409.5 L1235.3,409.2 L1235.8,408.4 L1236.2,407.5 L1236.7,406.8 L1237.1,406.4 L1237.6,406.0 L1238.0,405.6 L1238.4,405.6 L1238.9,405.1 L1239.3,404.5 L1239.8,403.9 L1240.2,402.9 L1240.6,402.5 L1241.1,402.0 L1241.5,401.1 L1242.0,400.7 L1242.4,400.7 L1242.9,400.7 L1243.3,400.5 L1243.7,399.9 L1244.2,399.3 L1244.6,399.1 L1245.1,398.9 L1245.5,398.3 L1245.9,397.3 L1246.4,396.6 L1246.8,396.4 L1247.3,396.1 L1247.7,395.5 L1248.2,395.0 L1248.6,394.1 L1249.0,393.1 L1249.5,392.8 L1249.9,392.9 L1250.4,392.4 L1250.8,391.7 L1251.2,391.0 L1251.7,390.5 L1252.1,390.4 L1252.6,390.2 L1253.0,389.5 L1253.5,388.7 L1253.9,388.5 L1254.3,388.4 L1254.8,388.3 L1255.2,388.0 L1255.7,387.4 L1256.1,386.3 L1256.5,385.4 L1257.0,385.1 L1257.4,384.8 L1257.9,384.4 L1258.3,384.1 L1258.8,383.9 L1259.2,383.6 L1259.6,383.6 L1260.1,383.4 L1260.5,383.1 L1261.0,383.1 L1261.4,382.8 L1261.9,382.5 L1262.3,381.8 L1262.7,381.0 L1263.2,380.5 L1263.6,380.4 L1264.1,380.3 L1264.5,379.9 L1264.9,379.6 L1265.4,379.3 L1265.8,379.3 L1266.3,379.5 L1266.7,379.0 L1267.2,378.5 L1267.6,378.2 L1268.0,377.7 L1268.5,377.3 L1268.9,377.4 L1269.4,377.2 L1269.8,376.5 L1270.2,375.7 L1270.7,375.2 L1271.1,374.7 L1271.6,374.1 L1272.0,373.8 L1272.5,374.3 L1272.9,374.7 L1273.3,374.8 L1273.8,374.9 L1274.2,374.9 L1274.7,374.9 L1275.1,374.5 L1275.5,373.9 L1276.0,373.4 L1276.4,372.6 L1276.9,371.9 L1277.3,371.7 L1277.8,371.1 L1278.2,370.8 L1278.6,371.1 L1279.1,370.8 L1279.5,370.2 L1280.0,369.7 L1280.4,369.2 L1280.9,368.7 L1281.3,368.3 L1281.7,368.2 L1282.2,368.3 L1282.6,368.3 L1283.1,368.0 L1283.5,367.9 L1283.9,367.7 L1284.4,366.7 L1284.8,366.2 L1285.3,366.0 L1285.7,365.5 L1286.2,364.9 L1286.6,364.7 L1287.0,364.5 L1287.5,364.0 L1287.9,363.8 L1288.4,363.8 L1288.8,363.7 L1289.2,363.3 L1289.7,362.7 L1290.1,361.8 L1290.6,361.1 L1291.0,360.9 L1291.5,360.6 L1291.9,360.3 L1292.3,359.8 L1292.8,359.6 L1293.2,359.8 L1293.7,360.0 L1294.1,359.8 L1294.5,359.1 L1295.0,358.3 L1295.4,357.9 L1295.9,357.9 L1296.3,357.5 L1296.8,357.1 L1297.2,356.6 L1297.6,355.9 L1298.1,355.2 L1298.5,354.8 L1299.0,355.0 L1299.4,355.1 L1299.8,355.1 L1300.3,355.0 L1300.7,354.5 L1301.2,354.3 L1301.6,354.2 L1302.1,353.9 L1302.5,353.1 L1302.9,352.1 L1303.4,352.0 L1303.8,351.9 L1304.3,351.2 L1304.7,350.7 L1305.2,350.4 L1305.6,349.9 L1306.0,349.2 L1306.5,348.5 L1306.9,348.3 L1307.4,348.1 L1307.8,348.1 L1308.2,348.3 L1308.7,348.2 L1309.1,348.0 L1309.6,347.8 L1310.0,346.8 L1310.5,345.6 L1310.9,345.2 L1311.3,345.4 L1311.8,345.6 L1312.2,345.6 L1312.7,346.0 L1313.1,345.9 L1313.5,345.4 L1314.0,345.0 L1314.4,343.9 L1314.9,342.7 L1315.3,342.1 L1315.8,341.5 L1316.2,341.0 L1316.6,340.9 L1317.1,340.7 L1317.5,340.2 L1318.0,339.7 L1318.4,339.8 L1318.8,340.2 L1319.3,340.4 L1319.7,340.3 L1320.2,339.8 L1320.6,339.2 L1321.1,338.5 L1321.5,337.9 L1321.9,337.5 L1322.4,336.9 L1322.8,336.3 L1323.3,336.3 L1323.7,336.2 L1324.1,336.0 L1324.6,336.4 L1325.0,336.3 L1325.5,336.0 L1325.9,335.4 L1326.4,334.8 L1326.8,334.7" fill="none" stroke="#cf4800" stroke-width="6.1" stroke-linejoin="round" stroke-linecap="square"/></g><path d="M148.5,21.2 L645.0,21.2 L645.0,335.1 L148.5,335.1 Z" fill="none" stroke="#000" stroke-width="2.9" stroke-linejoin="miter" stroke-linecap="square"/><path d="M148.5,397.6 L645.05,397.6 L645.05,711.5 L148.5,711.5 Z" fill="none" stroke="#000" stroke-width="2.9" stroke-linejoin="miter" stroke-linecap="square"/><path d="M929.6,317.6 L1326.7,317.6 L1326.7,712.1 L929.6,712.1 Z" fill="none" stroke="#000" stroke-width="2.9" stroke-linejoin="miter" stroke-linecap="square"/><path d="M148.50,335.1 L148.50,347.5" stroke="#000" stroke-width="2.9"/><path d="M272.62,335.1 L272.62,347.5" stroke="#000" stroke-width="2.9"/><path d="M396.75,335.1 L396.75,347.5" stroke="#000" stroke-width="2.9"/><path d="M520.88,335.1 L520.88,347.5" stroke="#000" stroke-width="2.9"/><path d="M645.00,335.1 L645.00,347.5" stroke="#000" stroke-width="2.9"/><path d="M148.5,266.70 L135.9,266.70" stroke="#000" stroke-width="2.9"/><path d="M148.5,168.30 L135.9,168.30" stroke="#000" stroke-width="2.9"/><path d="M148.5,69.90 L135.9,69.90" stroke="#000" stroke-width="2.9"/><path d="M148.50,711.5 L148.50,723.9" stroke="#000" stroke-width="2.9"/><path d="M272.64,711.5 L272.64,723.9" stroke="#000" stroke-width="2.9"/><path d="M396.77,711.5 L396.77,723.9" stroke="#000" stroke-width="2.9"/><path d="M520.91,711.5 L520.91,723.9" stroke="#000" stroke-width="2.9"/><path d="M645.05,711.5 L645.05,723.9" stroke="#000" stroke-width="2.9"/><path d="M148.5,697.30 L135.9,697.30" stroke="#000" stroke-width="2.9"/><path d="M148.5,560.20 L135.9,560.20" stroke="#000" stroke-width="2.9"/><path d="M148.5,423.10 L135.9,423.10" stroke="#000" stroke-width="2.9"/><path d="M929.60,712.1 L929.60,724.5" stroke="#000" stroke-width="2.9"/><path d="M1062.00,712.1 L1062.00,724.5" stroke="#000" stroke-width="2.9"/><path d="M1194.40,712.1 L1194.40,724.5" stroke="#000" stroke-width="2.9"/><path d="M1326.80,712.1 L1326.80,724.5" stroke="#000" stroke-width="2.9"/><path d="M929.6,685.50 L917.0,685.50" stroke="#000" stroke-width="2.9"/><path d="M929.6,545.50 L917.0,545.50" stroke="#000" stroke-width="2.9"/><path d="M929.6,405.50 L917.0,405.50" stroke="#000" stroke-width="2.9"/><path d="M266.2,63.8 L298.7,63.8" stroke="#0000ff" stroke-width="5.4" stroke-linecap="square"/><path d="M266.1,111.9 L286.2,111.9 M294.9,111.9 L298.7,111.9" stroke="#800080" stroke-width="5.4"/><path d="M266.2,160.1 L298.7,160.1" stroke="#ff0000" stroke-width="5.4" stroke-linecap="square"/><path d="M266.1,208.3 L286.2,208.3 M294.9,208.3 L298.7,208.3" stroke="#ffa500" stroke-width="5.4"/><path d="M730.65,45.85 L784.65,45.85" stroke="#000000" stroke-width="5.4" stroke-linecap="square"/><path d="M730.65,102.65 L784.65,102.65" stroke="#6801de" stroke-width="5.4" stroke-linecap="square"/><path d="M730.65,159.45 L784.65,159.45" stroke="#9109e2" stroke-width="5.4" stroke-linecap="square"/><path d="M730.65,216.25 L784.65,216.25" stroke="#b31f0a" stroke-width="5.4" stroke-linecap="square"/><path d="M730.65,273.05 L784.65,273.05" stroke="#cf4800" stroke-width="5.4" stroke-linecap="square"/><g fill="#000"><text transform="translate(-0.16,24.78) scale(0.9886,1)" font-size="43.44" font-weight="bold">a</text><text transform="translate(-2.34,420.76) scale(1.0631,1)" font-size="44.80" font-weight="bold">b</text><text transform="translate(669.15,25.78) scale(1.0335,1)" font-size="43.44" font-weight="bold">c</text><text transform="translate(0,387.00) scale(1.0381,1)" x="132.13" y="0" font-size="39.23">0</text><text transform="translate(0,387.00) scale(1.0381,1)" x="240.34 262.48" y="0" font-size="39.23">25</text><text transform="translate(0,387.00) scale(1.0381,1)" x="360.23 382.18" y="0" font-size="39.23">50</text><text transform="translate(0,387.00) scale(1.0381,1)" x="479.86 501.62" y="0" font-size="39.23">75</text><text transform="translate(0,387.00) scale(1.0381,1)" x="588.36 610.41 632.23" y="0" font-size="39.23">100</text><text transform="translate(0,280.90) scale(1.0381,1)" x="64.80 86.61 97.52" y="0" font-size="39.23">0.0</text><text transform="translate(0,182.50) scale(1.0381,1)" x="64.80 86.61 97.30" y="0" font-size="39.23">0.1</text><text transform="translate(0,84.10) scale(1.0381,1)" x="64.80 86.61 97.07" y="0" font-size="39.23">0.2</text><text transform="translate(0,764.00) scale(1.0381,1)" x="132.13" y="0" font-size="39.23">0</text><text transform="translate(0,764.00) scale(1.0381,1)" x="229.44 251.58 273.53" y="0" font-size="39.23">250</text><text transform="translate(0,764.00) scale(1.0381,1)" x="349.35 371.29 393.11" y="0" font-size="39.23">500</text><text transform="translate(0,764.00) scale(1.0381,1)" x="468.99 490.75 512.69" y="0" font-size="39.23">750</text><text transform="translate(0,764.00) scale(1.0381,1)" x="577.50 599.55 621.36 643.18" y="0" font-size="39.23">1000</text><text transform="translate(0,711.50) scale(1.0381,1)" x="97.53" y="0" font-size="39.23">0</text><text transform="translate(0,574.40) scale(1.0381,1)" x="75.58 97.53" y="0" font-size="39.23">50</text><text transform="translate(0,437.30) scale(1.0381,1)" x="53.66 75.71 97.53" y="0" font-size="39.23">100</text><text transform="translate(0,764.50) scale(1.0381,1)" x="884.56" y="0" font-size="39.23">0</text><text transform="translate(0,764.50) scale(1.0381,1)" x="1000.97 1023.01" y="0" font-size="39.23">10</text><text transform="translate(0,764.50) scale(1.0381,1)" x="1128.28 1150.55" y="0" font-size="39.23">20</text><text transform="translate(0,764.50) scale(1.0381,1)" x="1256.33 1278.09" y="0" font-size="39.23">30</text><text transform="translate(0,699.70) scale(1.0381,1)" x="850.34" y="0" font-size="39.23">0</text><text transform="translate(0,559.70) scale(1.0381,1)" x="784.43 806.70 828.52 850.34" y="0" font-size="39.23">2000</text><text transform="translate(0,419.70) scale(1.0381,1)" x="784.89 806.70 828.52 850.34" y="0" font-size="39.23">4000</text><text transform="translate(0,812.80) scale(1.0136,1)" x="312.48 334.64 344.72 378.04 425.71 436.50" y="0" font-size="39.23">Timefs</text><text transform="translate(416.86,810.43) scale(1.0891,1)" font-size="34.05">[</text><text transform="translate(464.58,810.43) scale(1.0891,1)" font-size="34.05">]</text><text transform="translate(0,813.10) scale(1.0058,1)" x="1037.68 1059.95 1070.20 1103.73 1151.04 1172.65" y="0" font-size="39.23">Timeps</text><text transform="translate(1143.76,810.73) scale(1.0891,1)" font-size="34.05">[</text><text transform="translate(1201.55,810.73) scale(1.0891,1)" font-size="34.05">]</text><g transform="rotate(-90)"><text transform="translate(0,43.50) scale(0.9894,1)" x="-298.76 -256.28" y="0" font-size="39.23">Ct</text><text transform="translate(-267.75,41.15) scale(0.8842,1)" font-size="34.03">(</text><text transform="translate(-238.42,41.15) scale(0.8842,1)" font-size="34.03">)</text><text transform="translate(-215.47,41.13) scale(1.0891,1)" font-size="34.05">[</text><text transform="translate(-200.47,43.50) scale(0.9470,1)" font-size="37.87">Å</text><text transform="translate(-176.52,28.40) scale(1.4404,1)" font-size="23.77">2</text><text transform="translate(0,43.50) scale(1.0185,1)" x="-144.39 -133.66" y="0" font-size="39.23">fs</text><text transform="translate(-116.09,35.91) scale(0.7431,1)" font-size="43.48">−</text><text transform="translate(-96.23,28.40) scale(1.5327,1)" font-size="23.77">2</text><text transform="translate(-76.39,41.13) scale(1.0891,1)" font-size="34.05">]</text><text transform="translate(0,33.30) scale(0.9537,1)" x="-661.29" y="0" font-size="39.23" font-style="italic">σ</text><text transform="translate(0,33.30) scale(0.9794,1)" x="-596.56 -560.14 -538.44" y="0" font-size="39.23">Scm</text><text transform="translate(-596.44,30.93) scale(1.0891,1)" font-size="34.05">[</text><text transform="translate(-560.37,36.21) scale(1.0837,1)" font-size="39.84">/</text><text transform="translate(-490.96,30.93) scale(1.0891,1)" font-size="34.05">]</text><text transform="translate(0,790.50) scale(0.9676,1)" x="-618.25" y="0" font-size="39.23" font-style="italic">D</text><text transform="translate(-568.67,788.15) scale(0.8842,1)" font-size="34.03">(</text><text transform="translate(0,790.50) scale(1.2806,1)" x="-434.94" y="0" font-size="39.23" font-style="italic">t</text><text transform="translate(-539.48,788.15) scale(0.8842,1)" font-size="34.03">)</text><text transform="translate(0,790.50) scale(1.0038,1)" x="-501.77" y="0" font-size="39.23">e</text><text transform="translate(-517.24,788.13) scale(1.0891,1)" font-size="34.05">[</text><text transform="translate(-470.34,790.50) scale(0.9470,1)" font-size="37.87">Å</text><text transform="translate(-443.03,788.13) scale(1.0891,1)" font-size="34.05">]</text></g><text transform="translate(0,689.10) scale(1.0454,1)" x="323.80 345.90 378.63 398.78" y="0" font-size="39.23">2gcm</text><text transform="translate(384.58,692.01) scale(1.0923,1)" font-size="39.84">/</text><text transform="translate(452.70,674.95) scale(0.9240,1)" font-size="25.56">3</text><text transform="translate(0,689.10) scale(1.0001,1)" x="478.05 501.06 523.61 546.16 567.61" y="0" font-size="39.23">2000K</text><text transform="translate(0,74.30) scale(0.8933,1)" x="344.59 370.48 393.44 418.32 442.05 455.34 474.63" y="0" font-size="35.26">CACE-LR</text><text transform="translate(0,74.30) scale(0.9956,1)" x="458.68" y="0" font-size="35.26" font-style="italic">Z</text><text transform="translate(485.26,79.11) scale(0.9486,1)" font-size="41.59">*</text><text transform="translate(508.02,72.19) scale(0.8842,1)" font-size="30.59">(</text><text transform="translate(0,74.30) scale(1.2155,1)" x="427.23" y="0" font-size="35.26" font-style="italic">t</text><text transform="translate(534.44,72.19) scale(0.8842,1)" font-size="30.59">)</text><text transform="translate(0,122.50) scale(0.9180,1)" x="336.28 361.69 381.91" y="0" font-size="35.26">DFT</text><text transform="translate(0,122.50) scale(0.9912,1)" x="384.44" y="0" font-size="35.26" font-style="italic">Z</text><text transform="translate(409.37,126.34) scale(0.9822,1)" font-size="39.59">*</text><text transform="translate(431.72,120.39) scale(0.8842,1)" font-size="30.59">(</text><text transform="translate(0,122.50) scale(1.1709,1)" x="379.17" y="0" font-size="35.26" font-style="italic">t</text><text transform="translate(458.64,120.39) scale(0.8842,1)" font-size="30.59">)</text><text transform="translate(0,170.70) scale(0.9447,1)" x="324.69 349.38 371.16 394.86 417.76 430.17 448.39 483.29 509.68 549.68 581.02 608.38 619.28 631.86" y="0" font-size="35.26">CACE-LRH:1O:-2</text><text transform="translate(492.90,174.30) scale(1.0107,1)" font-size="41.01">+</text><text transform="translate(0,218.90) scale(0.9689,1)" x="317.68 341.78 360.91 392.00 417.86 456.59 486.95 513.78 524.34 536.46" y="0" font-size="35.26">DFTH:1O:-2</text><text transform="translate(416.39,222.50) scale(1.0074,1)" font-size="41.01">+</text><text transform="translate(0,56.20) scale(1.0104,1)" x="777.84 800.12 811.49 833.46 867.28 887.94" y="0" font-size="39.23">0.02eV</text><text transform="translate(922.61,59.11) scale(1.0847,1)" font-size="39.84">/</text><text transform="translate(934.83,56.20) scale(0.9478,1)" font-size="37.87">Å</text><text transform="translate(0,56.20) scale(0.9073,1)" x="1094.92" y="0" font-size="39.23" font-style="italic">σ</text><text transform="translate(1022.21,55.32) scale(1.5713,1)" font-size="31.18">=</text><text transform="translate(0,56.20) scale(1.0164,1)" x="1041.01 1063.76 1085.92 1097.19 1148.37 1171.00 1182.26 1213.68 1248.89 1269.58" y="0" font-size="39.23">28.02.8Scm</text><text transform="translate(1139.89,56.20) scale(1.2235,1)" font-size="37.50">±</text><text transform="translate(1257.96,59.11) scale(1.0839,1)" font-size="39.84">/</text><text transform="translate(0,113.05) scale(1.0104,1)" x="777.84 800.12 811.49 833.93 867.28 887.94" y="0" font-size="39.23">0.04eV</text><text transform="translate(922.61,115.96) scale(1.0847,1)" font-size="39.84">/</text><text transform="translate(934.83,113.05) scale(0.9478,1)" font-size="37.87">Å</text><text transform="translate(0,113.05) scale(0.9073,1)" x="1094.92" y="0" font-size="39.23" font-style="italic">σ</text><text transform="translate(1022.21,112.17) scale(1.5713,1)" font-size="31.18">=</text><text transform="translate(0,113.05) scale(1.0175,1)" x="1040.59 1063.34 1085.51 1096.78 1148.42 1170.58 1181.71 1213.27 1248.47 1269.17" y="0" font-size="39.23">28.40.5Scm</text><text transform="translate(1140.78,113.05) scale(1.2249,1)" font-size="37.50">±</text><text transform="translate(1258.99,115.96) scale(1.0852,1)" font-size="39.84">/</text><text transform="translate(0,169.90) scale(1.0104,1)" x="777.84 800.12 811.49 833.92 867.28 887.94" y="0" font-size="39.23">0.06eV</text><text transform="translate(922.61,172.81) scale(1.0847,1)" font-size="39.84">/</text><text transform="translate(934.83,169.90) scale(0.9478,1)" font-size="37.87">Å</text><text transform="translate(0,169.90) scale(0.9073,1)" x="1094.92" y="0" font-size="39.23" font-style="italic">σ</text><text transform="translate(1022.21,169.02) scale(1.5713,1)" font-size="31.18">=</text><text transform="translate(0,169.90) scale(1.0180,1)" x="1040.59 1062.88 1084.99 1096.03 1147.90 1170.06 1181.19 1212.75 1247.95 1268.64" y="0" font-size="39.23">33.10.5Scm</text><text transform="translate(1140.71,169.90) scale(1.2254,1)" font-size="37.50">±</text><text transform="translate(1258.97,172.81) scale(1.0856,1)" font-size="39.84">/</text><text transform="translate(0,226.75) scale(1.0104,1)" x="777.84 800.12 811.49 833.93 867.28 887.94" y="0" font-size="39.23">0.08eV</text><text transform="translate(922.61,229.66) scale(1.0847,1)" font-size="39.84">/</text><text transform="translate(934.83,226.75) scale(0.9478,1)" font-size="37.87">Å</text><text transform="translate(0,226.75) scale(0.9073,1)" x="1094.92" y="0" font-size="39.23" font-style="italic">σ</text><text transform="translate(1022.21,225.87) scale(1.5713,1)" font-size="31.18">=</text><text transform="translate(0,226.75) scale(1.0047,1)" x="1054.38 1076.67 1098.78 1109.58 1161.68 1183.85 1194.65 1226.54 1261.74 1282.43" y="0" font-size="39.23">33.20.2Scm</text><text transform="translate(1139.68,226.75) scale(1.2094,1)" font-size="37.50">±</text><text transform="translate(1256.39,229.66) scale(1.0715,1)" font-size="39.84">/</text><text transform="translate(0,283.60) scale(1.0104,1)" x="777.84 800.12 811.27 833.93 867.28 887.94" y="0" font-size="39.23">0.10eV</text><text transform="translate(922.61,286.51) scale(1.0847,1)" font-size="39.84">/</text><text transform="translate(934.83,283.60) scale(0.9478,1)" font-size="37.87">Å</text><text transform="translate(0,283.60) scale(0.9073,1)" x="1094.92" y="0" font-size="39.23" font-style="italic">σ</text><text transform="translate(1022.21,282.72) scale(1.5713,1)" font-size="31.18">=</text><text transform="translate(0,283.60) scale(1.0047,1)" x="1054.38 1076.67 1098.78 1109.58 1161.68 1183.85 1194.65 1226.54 1261.74 1282.43" y="0" font-size="39.23">33.20.2Scm</text><text transform="translate(1139.68,283.60) scale(1.2094,1)" font-size="37.50">±</text><text transform="translate(1256.39,286.51) scale(1.0715,1)" font-size="39.84">/</text></g></svg></body></html>
